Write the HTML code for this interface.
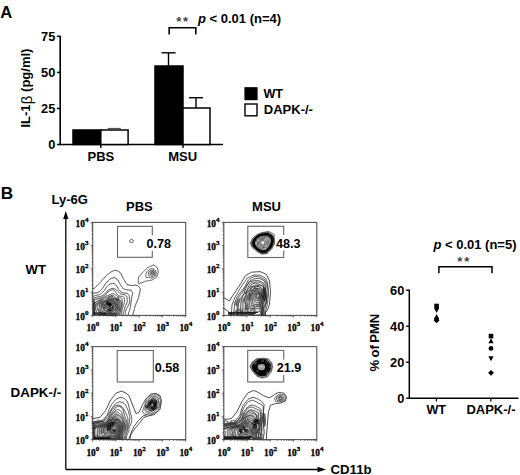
<!DOCTYPE html>
<html><head><meta charset="utf-8"><style>
html,body{margin:0;padding:0;background:#fff;width:520px;height:475px;overflow:hidden}
svg{display:block}
</style></head><body>
<svg width="520" height="475" viewBox="0 0 520 475">
<text x="0.3" y="17.6" font-size="16.5" font-weight="bold" font-family='"Liberation Sans", sans-serif' text-anchor="start" fill="#000" >A</text>
<line x1="60.2" y1="35.75000000000001" x2="60.2" y2="145.25" stroke="#000" stroke-width="1.6" />
<line x1="57.0" y1="144.5" x2="60.2" y2="144.5" stroke="#000" stroke-width="1.5" />
<text x="55.3" y="148.9" font-size="12.8" font-weight="bold" font-family='"Liberation Sans", sans-serif' text-anchor="end" fill="#000" >0</text>
<line x1="57.0" y1="108.45" x2="60.2" y2="108.45" stroke="#000" stroke-width="1.5" />
<text x="55.3" y="112.85000000000001" font-size="12.8" font-weight="bold" font-family='"Liberation Sans", sans-serif' text-anchor="end" fill="#000" >25</text>
<line x1="57.0" y1="72.4" x2="60.2" y2="72.4" stroke="#000" stroke-width="1.5" />
<text x="55.3" y="76.80000000000001" font-size="12.8" font-weight="bold" font-family='"Liberation Sans", sans-serif' text-anchor="end" fill="#000" >50</text>
<line x1="57.0" y1="36.35000000000001" x2="60.2" y2="36.35000000000001" stroke="#000" stroke-width="1.5" />
<text x="55.3" y="40.75000000000001" font-size="12.8" font-weight="bold" font-family='"Liberation Sans", sans-serif' text-anchor="end" fill="#000" >75</text>
<line x1="59.400000000000006" y1="144.5" x2="223" y2="144.5" stroke="#000" stroke-width="1.6" />
<line x1="100.8" y1="144.5" x2="100.8" y2="148" stroke="#000" stroke-width="1.4" />
<line x1="183" y1="144.5" x2="183" y2="148" stroke="#000" stroke-width="1.4" />
<rect x="73" y="130" width="27.8" height="14.5" fill="#000" stroke="#000" stroke-width="1.5"/>
<rect x="100.8" y="130" width="27.3" height="14.5" fill="#fff" stroke="#000" stroke-width="1.5"/>
<line x1="107.7" y1="128.5" x2="120.8" y2="128.5" stroke="#555" stroke-width="1.2" />
<rect x="155" y="66" width="28" height="78.5" fill="#000" stroke="#000" stroke-width="1.5"/>
<line x1="168.5" y1="66" x2="168.5" y2="52.8" stroke="#000" stroke-width="1.4" />
<line x1="161.6" y1="52.8" x2="175.6" y2="52.8" stroke="#000" stroke-width="1.4" />
<rect x="183" y="108" width="27" height="36.5" fill="#fff" stroke="#000" stroke-width="1.5"/>
<line x1="196" y1="108" x2="196" y2="97.7" stroke="#000" stroke-width="1.4" />
<line x1="189" y1="97.7" x2="203" y2="97.7" stroke="#000" stroke-width="1.4" />
<text transform="translate(30.0,127.6) rotate(-90)" font-size="13" font-weight="bold" font-family='"Liberation Sans", sans-serif'>IL-1<tspan font-weight="normal" font-size="15" dx="0.3" dy="1.8">&#946;</tspan><tspan dy="-1.8"> (pg/ml)</tspan></text>
<text x="87.5" y="160.7" font-size="13" font-weight="bold" font-family='"Liberation Sans", sans-serif' text-anchor="start" fill="#000" >PBS</text>
<text x="168.2" y="160.6" font-size="13" font-weight="bold" font-family='"Liberation Sans", sans-serif' text-anchor="start" fill="#000" >MSU</text>
<path d="M169.2,34.4 V27.8 H195.8 V34.4" fill="none" stroke="#000" stroke-width="1.6" />
<text x="176.2" y="25.8" font-size="13" font-weight="bold" font-family='"Liberation Sans", sans-serif' text-anchor="start" fill="#444" letter-spacing="1.75">**</text>
<text x="198" y="23.4" font-size="13" font-weight="bold" font-family='"Liberation Sans", sans-serif' text-anchor="start" fill="#000" ><tspan font-style="italic">p</tspan> &lt; 0.01 (n=4)</text>
<rect x="245" y="87.8" width="12" height="11.8" fill="#000" stroke="#000" stroke-width="1.2"/>
<rect x="245" y="104" width="12" height="11.8" fill="#fff" stroke="#000" stroke-width="1.4"/>
<text x="263.4" y="98.2" font-size="13" font-weight="bold" font-family='"Liberation Sans", sans-serif' text-anchor="start" fill="#000" textLength="19.6" lengthAdjust="spacingAndGlyphs" >WT</text>
<text x="263.8" y="114.2" font-size="13" font-weight="bold" font-family='"Liberation Sans", sans-serif' text-anchor="start" fill="#000" >DAPK-/-</text>
<text x="0.7" y="199.2" font-size="17.2" font-weight="bold" font-family='"Liberation Sans", sans-serif' text-anchor="start" fill="#000" >B</text>
<text x="51.5" y="204.2" font-size="13" font-weight="bold" font-family='"Liberation Sans", sans-serif' text-anchor="start" fill="#000" >Ly-6G</text>
<line x1="65.8" y1="214" x2="65.8" y2="469.5" stroke="#000" stroke-width="1.3" />
<path d="M65.8,211 L63.2,219 L68.4,219 Z" fill="#000" stroke="none" stroke-width="1.0" />
<line x1="65.8" y1="469.5" x2="320" y2="469.5" stroke="#000" stroke-width="1.3" />
<path d="M326,469.5 L317.5,466.8 L317.5,472.2 Z" fill="#000" stroke="none" stroke-width="1.0" />
<text x="330.5" y="473.8" font-size="13.2" font-weight="bold" font-family='"Liberation Sans", sans-serif' text-anchor="start" fill="#000" >CD11b</text>
<text x="126" y="211.2" font-size="13" font-weight="bold" font-family='"Liberation Sans", sans-serif' text-anchor="start" fill="#000" >PBS</text>
<text x="252.1" y="211.1" font-size="13" font-weight="bold" font-family='"Liberation Sans", sans-serif' text-anchor="start" fill="#000" >MSU</text>
<text x="25.6" y="273.6" font-size="13" font-weight="bold" font-family='"Liberation Sans", sans-serif' text-anchor="start" fill="#000" textLength="20.4" lengthAdjust="spacingAndGlyphs" >WT</text>
<text x="10.6" y="397" font-size="13.4" font-weight="bold" font-family='"Liberation Sans", sans-serif' text-anchor="start" fill="#000" >DAPK-/-</text>
<rect x="92.7" y="222.4" width="93.0" height="93.0" fill="none" stroke="#555" stroke-width="1.1"/>
<line x1="90.7" y1="315.4" x2="92.7" y2="315.4" stroke="#444" stroke-width="0.8" />
<line x1="92.7" y1="315.4" x2="92.7" y2="317.4" stroke="#444" stroke-width="0.8" />
<line x1="91.60000000000001" y1="308.4" x2="92.7" y2="308.4" stroke="#444" stroke-width="0.8" />
<line x1="99.7" y1="315.4" x2="99.7" y2="316.5" stroke="#444" stroke-width="0.8" />
<line x1="91.60000000000001" y1="304.31" x2="92.7" y2="304.31" stroke="#444" stroke-width="0.8" />
<line x1="103.79" y1="315.4" x2="103.79" y2="316.5" stroke="#444" stroke-width="0.8" />
<line x1="91.60000000000001" y1="301.4" x2="92.7" y2="301.4" stroke="#444" stroke-width="0.8" />
<line x1="106.7" y1="315.4" x2="106.7" y2="316.5" stroke="#444" stroke-width="0.8" />
<line x1="91.60000000000001" y1="299.15" x2="92.7" y2="299.15" stroke="#444" stroke-width="0.8" />
<line x1="108.95" y1="315.4" x2="108.95" y2="316.5" stroke="#444" stroke-width="0.8" />
<line x1="91.60000000000001" y1="297.31" x2="92.7" y2="297.31" stroke="#444" stroke-width="0.8" />
<line x1="110.79" y1="315.4" x2="110.79" y2="316.5" stroke="#444" stroke-width="0.8" />
<line x1="91.60000000000001" y1="295.75" x2="92.7" y2="295.75" stroke="#444" stroke-width="0.8" />
<line x1="112.35" y1="315.4" x2="112.35" y2="316.5" stroke="#444" stroke-width="0.8" />
<line x1="91.60000000000001" y1="294.4" x2="92.7" y2="294.4" stroke="#444" stroke-width="0.8" />
<line x1="113.7" y1="315.4" x2="113.7" y2="316.5" stroke="#444" stroke-width="0.8" />
<line x1="91.60000000000001" y1="293.21" x2="92.7" y2="293.21" stroke="#444" stroke-width="0.8" />
<line x1="114.89" y1="315.4" x2="114.89" y2="316.5" stroke="#444" stroke-width="0.8" />
<line x1="90.7" y1="292.15" x2="92.7" y2="292.15" stroke="#444" stroke-width="0.8" />
<line x1="115.95" y1="315.4" x2="115.95" y2="317.4" stroke="#444" stroke-width="0.8" />
<line x1="91.60000000000001" y1="285.15" x2="92.7" y2="285.15" stroke="#444" stroke-width="0.8" />
<line x1="122.95" y1="315.4" x2="122.95" y2="316.5" stroke="#444" stroke-width="0.8" />
<line x1="91.60000000000001" y1="281.06" x2="92.7" y2="281.06" stroke="#444" stroke-width="0.8" />
<line x1="127.04" y1="315.4" x2="127.04" y2="316.5" stroke="#444" stroke-width="0.8" />
<line x1="91.60000000000001" y1="278.15" x2="92.7" y2="278.15" stroke="#444" stroke-width="0.8" />
<line x1="129.95" y1="315.4" x2="129.95" y2="316.5" stroke="#444" stroke-width="0.8" />
<line x1="91.60000000000001" y1="275.9" x2="92.7" y2="275.9" stroke="#444" stroke-width="0.8" />
<line x1="132.2" y1="315.4" x2="132.2" y2="316.5" stroke="#444" stroke-width="0.8" />
<line x1="91.60000000000001" y1="274.06" x2="92.7" y2="274.06" stroke="#444" stroke-width="0.8" />
<line x1="134.04" y1="315.4" x2="134.04" y2="316.5" stroke="#444" stroke-width="0.8" />
<line x1="91.60000000000001" y1="272.5" x2="92.7" y2="272.5" stroke="#444" stroke-width="0.8" />
<line x1="135.6" y1="315.4" x2="135.6" y2="316.5" stroke="#444" stroke-width="0.8" />
<line x1="91.60000000000001" y1="271.15" x2="92.7" y2="271.15" stroke="#444" stroke-width="0.8" />
<line x1="136.95" y1="315.4" x2="136.95" y2="316.5" stroke="#444" stroke-width="0.8" />
<line x1="91.60000000000001" y1="269.96" x2="92.7" y2="269.96" stroke="#444" stroke-width="0.8" />
<line x1="138.14" y1="315.4" x2="138.14" y2="316.5" stroke="#444" stroke-width="0.8" />
<line x1="90.7" y1="268.9" x2="92.7" y2="268.9" stroke="#444" stroke-width="0.8" />
<line x1="139.2" y1="315.4" x2="139.2" y2="317.4" stroke="#444" stroke-width="0.8" />
<line x1="91.60000000000001" y1="261.9" x2="92.7" y2="261.9" stroke="#444" stroke-width="0.8" />
<line x1="146.2" y1="315.4" x2="146.2" y2="316.5" stroke="#444" stroke-width="0.8" />
<line x1="91.60000000000001" y1="257.81" x2="92.7" y2="257.81" stroke="#444" stroke-width="0.8" />
<line x1="150.29" y1="315.4" x2="150.29" y2="316.5" stroke="#444" stroke-width="0.8" />
<line x1="91.60000000000001" y1="254.9" x2="92.7" y2="254.9" stroke="#444" stroke-width="0.8" />
<line x1="153.2" y1="315.4" x2="153.2" y2="316.5" stroke="#444" stroke-width="0.8" />
<line x1="91.60000000000001" y1="252.65" x2="92.7" y2="252.65" stroke="#444" stroke-width="0.8" />
<line x1="155.45" y1="315.4" x2="155.45" y2="316.5" stroke="#444" stroke-width="0.8" />
<line x1="91.60000000000001" y1="250.81" x2="92.7" y2="250.81" stroke="#444" stroke-width="0.8" />
<line x1="157.29" y1="315.4" x2="157.29" y2="316.5" stroke="#444" stroke-width="0.8" />
<line x1="91.60000000000001" y1="249.25" x2="92.7" y2="249.25" stroke="#444" stroke-width="0.8" />
<line x1="158.85" y1="315.4" x2="158.85" y2="316.5" stroke="#444" stroke-width="0.8" />
<line x1="91.60000000000001" y1="247.9" x2="92.7" y2="247.9" stroke="#444" stroke-width="0.8" />
<line x1="160.2" y1="315.4" x2="160.2" y2="316.5" stroke="#444" stroke-width="0.8" />
<line x1="91.60000000000001" y1="246.71" x2="92.7" y2="246.71" stroke="#444" stroke-width="0.8" />
<line x1="161.39" y1="315.4" x2="161.39" y2="316.5" stroke="#444" stroke-width="0.8" />
<line x1="90.7" y1="245.65" x2="92.7" y2="245.65" stroke="#444" stroke-width="0.8" />
<line x1="162.45" y1="315.4" x2="162.45" y2="317.4" stroke="#444" stroke-width="0.8" />
<line x1="91.60000000000001" y1="238.65" x2="92.7" y2="238.65" stroke="#444" stroke-width="0.8" />
<line x1="169.45" y1="315.4" x2="169.45" y2="316.5" stroke="#444" stroke-width="0.8" />
<line x1="91.60000000000001" y1="234.56" x2="92.7" y2="234.56" stroke="#444" stroke-width="0.8" />
<line x1="173.54" y1="315.4" x2="173.54" y2="316.5" stroke="#444" stroke-width="0.8" />
<line x1="91.60000000000001" y1="231.65" x2="92.7" y2="231.65" stroke="#444" stroke-width="0.8" />
<line x1="176.45" y1="315.4" x2="176.45" y2="316.5" stroke="#444" stroke-width="0.8" />
<line x1="91.60000000000001" y1="229.4" x2="92.7" y2="229.4" stroke="#444" stroke-width="0.8" />
<line x1="178.7" y1="315.4" x2="178.7" y2="316.5" stroke="#444" stroke-width="0.8" />
<line x1="91.60000000000001" y1="227.56" x2="92.7" y2="227.56" stroke="#444" stroke-width="0.8" />
<line x1="180.54" y1="315.4" x2="180.54" y2="316.5" stroke="#444" stroke-width="0.8" />
<line x1="91.60000000000001" y1="226.0" x2="92.7" y2="226.0" stroke="#444" stroke-width="0.8" />
<line x1="182.1" y1="315.4" x2="182.1" y2="316.5" stroke="#444" stroke-width="0.8" />
<line x1="91.60000000000001" y1="224.65" x2="92.7" y2="224.65" stroke="#444" stroke-width="0.8" />
<line x1="183.45" y1="315.4" x2="183.45" y2="316.5" stroke="#444" stroke-width="0.8" />
<line x1="91.60000000000001" y1="223.46" x2="92.7" y2="223.46" stroke="#444" stroke-width="0.8" />
<line x1="184.64" y1="315.4" x2="184.64" y2="316.5" stroke="#444" stroke-width="0.8" />
<line x1="90.7" y1="222.4" x2="92.7" y2="222.4" stroke="#444" stroke-width="0.8" />
<line x1="185.7" y1="315.4" x2="185.7" y2="317.4" stroke="#444" stroke-width="0.8" />
<text x="88.4" y="319.90" font-size="9.4" font-weight="bold" font-family='"Liberation Serif", serif' text-anchor="end" stroke="#000" stroke-width="0.3">10<tspan dy="-5.0" font-size="7">0</tspan></text>
<text x="86.40" y="331.30" font-size="9.4" font-weight="bold" font-family='"Liberation Serif", serif' stroke="#000" stroke-width="0.3">10<tspan dy="-5.0" font-size="7">0</tspan></text>
<text x="88.4" y="296.65" font-size="9.4" font-weight="bold" font-family='"Liberation Serif", serif' text-anchor="end" stroke="#000" stroke-width="0.3">10<tspan dy="-5.0" font-size="7">1</tspan></text>
<text x="109.65" y="331.30" font-size="9.4" font-weight="bold" font-family='"Liberation Serif", serif' stroke="#000" stroke-width="0.3">10<tspan dy="-5.0" font-size="7">1</tspan></text>
<text x="88.4" y="273.40" font-size="9.4" font-weight="bold" font-family='"Liberation Serif", serif' text-anchor="end" stroke="#000" stroke-width="0.3">10<tspan dy="-5.0" font-size="7">2</tspan></text>
<text x="132.90" y="331.30" font-size="9.4" font-weight="bold" font-family='"Liberation Serif", serif' stroke="#000" stroke-width="0.3">10<tspan dy="-5.0" font-size="7">2</tspan></text>
<text x="88.4" y="250.15" font-size="9.4" font-weight="bold" font-family='"Liberation Serif", serif' text-anchor="end" stroke="#000" stroke-width="0.3">10<tspan dy="-5.0" font-size="7">3</tspan></text>
<text x="156.15" y="331.30" font-size="9.4" font-weight="bold" font-family='"Liberation Serif", serif' stroke="#000" stroke-width="0.3">10<tspan dy="-5.0" font-size="7">3</tspan></text>
<text x="88.4" y="226.90" font-size="9.4" font-weight="bold" font-family='"Liberation Serif", serif' text-anchor="end" stroke="#000" stroke-width="0.3">10<tspan dy="-5.0" font-size="7">4</tspan></text>
<text x="179.40" y="331.30" font-size="9.4" font-weight="bold" font-family='"Liberation Serif", serif' stroke="#000" stroke-width="0.3">10<tspan dy="-5.0" font-size="7">4</tspan></text>
<rect x="223.8" y="222.4" width="93.0" height="93.0" fill="none" stroke="#555" stroke-width="1.1"/>
<line x1="221.8" y1="315.4" x2="223.8" y2="315.4" stroke="#444" stroke-width="0.8" />
<line x1="223.8" y1="315.4" x2="223.8" y2="317.4" stroke="#444" stroke-width="0.8" />
<line x1="222.70000000000002" y1="308.4" x2="223.8" y2="308.4" stroke="#444" stroke-width="0.8" />
<line x1="230.8" y1="315.4" x2="230.8" y2="316.5" stroke="#444" stroke-width="0.8" />
<line x1="222.70000000000002" y1="304.31" x2="223.8" y2="304.31" stroke="#444" stroke-width="0.8" />
<line x1="234.89" y1="315.4" x2="234.89" y2="316.5" stroke="#444" stroke-width="0.8" />
<line x1="222.70000000000002" y1="301.4" x2="223.8" y2="301.4" stroke="#444" stroke-width="0.8" />
<line x1="237.8" y1="315.4" x2="237.8" y2="316.5" stroke="#444" stroke-width="0.8" />
<line x1="222.70000000000002" y1="299.15" x2="223.8" y2="299.15" stroke="#444" stroke-width="0.8" />
<line x1="240.05" y1="315.4" x2="240.05" y2="316.5" stroke="#444" stroke-width="0.8" />
<line x1="222.70000000000002" y1="297.31" x2="223.8" y2="297.31" stroke="#444" stroke-width="0.8" />
<line x1="241.89" y1="315.4" x2="241.89" y2="316.5" stroke="#444" stroke-width="0.8" />
<line x1="222.70000000000002" y1="295.75" x2="223.8" y2="295.75" stroke="#444" stroke-width="0.8" />
<line x1="243.45" y1="315.4" x2="243.45" y2="316.5" stroke="#444" stroke-width="0.8" />
<line x1="222.70000000000002" y1="294.4" x2="223.8" y2="294.4" stroke="#444" stroke-width="0.8" />
<line x1="244.8" y1="315.4" x2="244.8" y2="316.5" stroke="#444" stroke-width="0.8" />
<line x1="222.70000000000002" y1="293.21" x2="223.8" y2="293.21" stroke="#444" stroke-width="0.8" />
<line x1="245.99" y1="315.4" x2="245.99" y2="316.5" stroke="#444" stroke-width="0.8" />
<line x1="221.8" y1="292.15" x2="223.8" y2="292.15" stroke="#444" stroke-width="0.8" />
<line x1="247.05" y1="315.4" x2="247.05" y2="317.4" stroke="#444" stroke-width="0.8" />
<line x1="222.70000000000002" y1="285.15" x2="223.8" y2="285.15" stroke="#444" stroke-width="0.8" />
<line x1="254.05" y1="315.4" x2="254.05" y2="316.5" stroke="#444" stroke-width="0.8" />
<line x1="222.70000000000002" y1="281.06" x2="223.8" y2="281.06" stroke="#444" stroke-width="0.8" />
<line x1="258.14" y1="315.4" x2="258.14" y2="316.5" stroke="#444" stroke-width="0.8" />
<line x1="222.70000000000002" y1="278.15" x2="223.8" y2="278.15" stroke="#444" stroke-width="0.8" />
<line x1="261.05" y1="315.4" x2="261.05" y2="316.5" stroke="#444" stroke-width="0.8" />
<line x1="222.70000000000002" y1="275.9" x2="223.8" y2="275.9" stroke="#444" stroke-width="0.8" />
<line x1="263.3" y1="315.4" x2="263.3" y2="316.5" stroke="#444" stroke-width="0.8" />
<line x1="222.70000000000002" y1="274.06" x2="223.8" y2="274.06" stroke="#444" stroke-width="0.8" />
<line x1="265.14" y1="315.4" x2="265.14" y2="316.5" stroke="#444" stroke-width="0.8" />
<line x1="222.70000000000002" y1="272.5" x2="223.8" y2="272.5" stroke="#444" stroke-width="0.8" />
<line x1="266.7" y1="315.4" x2="266.7" y2="316.5" stroke="#444" stroke-width="0.8" />
<line x1="222.70000000000002" y1="271.15" x2="223.8" y2="271.15" stroke="#444" stroke-width="0.8" />
<line x1="268.05" y1="315.4" x2="268.05" y2="316.5" stroke="#444" stroke-width="0.8" />
<line x1="222.70000000000002" y1="269.96" x2="223.8" y2="269.96" stroke="#444" stroke-width="0.8" />
<line x1="269.24" y1="315.4" x2="269.24" y2="316.5" stroke="#444" stroke-width="0.8" />
<line x1="221.8" y1="268.9" x2="223.8" y2="268.9" stroke="#444" stroke-width="0.8" />
<line x1="270.3" y1="315.4" x2="270.3" y2="317.4" stroke="#444" stroke-width="0.8" />
<line x1="222.70000000000002" y1="261.9" x2="223.8" y2="261.9" stroke="#444" stroke-width="0.8" />
<line x1="277.3" y1="315.4" x2="277.3" y2="316.5" stroke="#444" stroke-width="0.8" />
<line x1="222.70000000000002" y1="257.81" x2="223.8" y2="257.81" stroke="#444" stroke-width="0.8" />
<line x1="281.39" y1="315.4" x2="281.39" y2="316.5" stroke="#444" stroke-width="0.8" />
<line x1="222.70000000000002" y1="254.9" x2="223.8" y2="254.9" stroke="#444" stroke-width="0.8" />
<line x1="284.3" y1="315.4" x2="284.3" y2="316.5" stroke="#444" stroke-width="0.8" />
<line x1="222.70000000000002" y1="252.65" x2="223.8" y2="252.65" stroke="#444" stroke-width="0.8" />
<line x1="286.55" y1="315.4" x2="286.55" y2="316.5" stroke="#444" stroke-width="0.8" />
<line x1="222.70000000000002" y1="250.81" x2="223.8" y2="250.81" stroke="#444" stroke-width="0.8" />
<line x1="288.39" y1="315.4" x2="288.39" y2="316.5" stroke="#444" stroke-width="0.8" />
<line x1="222.70000000000002" y1="249.25" x2="223.8" y2="249.25" stroke="#444" stroke-width="0.8" />
<line x1="289.95" y1="315.4" x2="289.95" y2="316.5" stroke="#444" stroke-width="0.8" />
<line x1="222.70000000000002" y1="247.9" x2="223.8" y2="247.9" stroke="#444" stroke-width="0.8" />
<line x1="291.3" y1="315.4" x2="291.3" y2="316.5" stroke="#444" stroke-width="0.8" />
<line x1="222.70000000000002" y1="246.71" x2="223.8" y2="246.71" stroke="#444" stroke-width="0.8" />
<line x1="292.49" y1="315.4" x2="292.49" y2="316.5" stroke="#444" stroke-width="0.8" />
<line x1="221.8" y1="245.65" x2="223.8" y2="245.65" stroke="#444" stroke-width="0.8" />
<line x1="293.55" y1="315.4" x2="293.55" y2="317.4" stroke="#444" stroke-width="0.8" />
<line x1="222.70000000000002" y1="238.65" x2="223.8" y2="238.65" stroke="#444" stroke-width="0.8" />
<line x1="300.55" y1="315.4" x2="300.55" y2="316.5" stroke="#444" stroke-width="0.8" />
<line x1="222.70000000000002" y1="234.56" x2="223.8" y2="234.56" stroke="#444" stroke-width="0.8" />
<line x1="304.64" y1="315.4" x2="304.64" y2="316.5" stroke="#444" stroke-width="0.8" />
<line x1="222.70000000000002" y1="231.65" x2="223.8" y2="231.65" stroke="#444" stroke-width="0.8" />
<line x1="307.55" y1="315.4" x2="307.55" y2="316.5" stroke="#444" stroke-width="0.8" />
<line x1="222.70000000000002" y1="229.4" x2="223.8" y2="229.4" stroke="#444" stroke-width="0.8" />
<line x1="309.8" y1="315.4" x2="309.8" y2="316.5" stroke="#444" stroke-width="0.8" />
<line x1="222.70000000000002" y1="227.56" x2="223.8" y2="227.56" stroke="#444" stroke-width="0.8" />
<line x1="311.64" y1="315.4" x2="311.64" y2="316.5" stroke="#444" stroke-width="0.8" />
<line x1="222.70000000000002" y1="226.0" x2="223.8" y2="226.0" stroke="#444" stroke-width="0.8" />
<line x1="313.2" y1="315.4" x2="313.2" y2="316.5" stroke="#444" stroke-width="0.8" />
<line x1="222.70000000000002" y1="224.65" x2="223.8" y2="224.65" stroke="#444" stroke-width="0.8" />
<line x1="314.55" y1="315.4" x2="314.55" y2="316.5" stroke="#444" stroke-width="0.8" />
<line x1="222.70000000000002" y1="223.46" x2="223.8" y2="223.46" stroke="#444" stroke-width="0.8" />
<line x1="315.74" y1="315.4" x2="315.74" y2="316.5" stroke="#444" stroke-width="0.8" />
<line x1="221.8" y1="222.4" x2="223.8" y2="222.4" stroke="#444" stroke-width="0.8" />
<line x1="316.8" y1="315.4" x2="316.8" y2="317.4" stroke="#444" stroke-width="0.8" />
<text x="219.5" y="319.90" font-size="9.4" font-weight="bold" font-family='"Liberation Serif", serif' text-anchor="end" stroke="#000" stroke-width="0.3">10<tspan dy="-5.0" font-size="7">0</tspan></text>
<text x="217.50" y="331.30" font-size="9.4" font-weight="bold" font-family='"Liberation Serif", serif' stroke="#000" stroke-width="0.3">10<tspan dy="-5.0" font-size="7">0</tspan></text>
<text x="219.5" y="296.65" font-size="9.4" font-weight="bold" font-family='"Liberation Serif", serif' text-anchor="end" stroke="#000" stroke-width="0.3">10<tspan dy="-5.0" font-size="7">1</tspan></text>
<text x="240.75" y="331.30" font-size="9.4" font-weight="bold" font-family='"Liberation Serif", serif' stroke="#000" stroke-width="0.3">10<tspan dy="-5.0" font-size="7">1</tspan></text>
<text x="219.5" y="273.40" font-size="9.4" font-weight="bold" font-family='"Liberation Serif", serif' text-anchor="end" stroke="#000" stroke-width="0.3">10<tspan dy="-5.0" font-size="7">2</tspan></text>
<text x="264.00" y="331.30" font-size="9.4" font-weight="bold" font-family='"Liberation Serif", serif' stroke="#000" stroke-width="0.3">10<tspan dy="-5.0" font-size="7">2</tspan></text>
<text x="219.5" y="250.15" font-size="9.4" font-weight="bold" font-family='"Liberation Serif", serif' text-anchor="end" stroke="#000" stroke-width="0.3">10<tspan dy="-5.0" font-size="7">3</tspan></text>
<text x="287.25" y="331.30" font-size="9.4" font-weight="bold" font-family='"Liberation Serif", serif' stroke="#000" stroke-width="0.3">10<tspan dy="-5.0" font-size="7">3</tspan></text>
<text x="219.5" y="226.90" font-size="9.4" font-weight="bold" font-family='"Liberation Serif", serif' text-anchor="end" stroke="#000" stroke-width="0.3">10<tspan dy="-5.0" font-size="7">4</tspan></text>
<text x="310.50" y="331.30" font-size="9.4" font-weight="bold" font-family='"Liberation Serif", serif' stroke="#000" stroke-width="0.3">10<tspan dy="-5.0" font-size="7">4</tspan></text>
<rect x="92.7" y="346.6" width="93.0" height="93.0" fill="none" stroke="#555" stroke-width="1.1"/>
<line x1="90.7" y1="439.6" x2="92.7" y2="439.6" stroke="#444" stroke-width="0.8" />
<line x1="92.7" y1="439.6" x2="92.7" y2="441.6" stroke="#444" stroke-width="0.8" />
<line x1="91.60000000000001" y1="432.6" x2="92.7" y2="432.6" stroke="#444" stroke-width="0.8" />
<line x1="99.7" y1="439.6" x2="99.7" y2="440.70000000000005" stroke="#444" stroke-width="0.8" />
<line x1="91.60000000000001" y1="428.51" x2="92.7" y2="428.51" stroke="#444" stroke-width="0.8" />
<line x1="103.79" y1="439.6" x2="103.79" y2="440.70000000000005" stroke="#444" stroke-width="0.8" />
<line x1="91.60000000000001" y1="425.6" x2="92.7" y2="425.6" stroke="#444" stroke-width="0.8" />
<line x1="106.7" y1="439.6" x2="106.7" y2="440.70000000000005" stroke="#444" stroke-width="0.8" />
<line x1="91.60000000000001" y1="423.35" x2="92.7" y2="423.35" stroke="#444" stroke-width="0.8" />
<line x1="108.95" y1="439.6" x2="108.95" y2="440.70000000000005" stroke="#444" stroke-width="0.8" />
<line x1="91.60000000000001" y1="421.51" x2="92.7" y2="421.51" stroke="#444" stroke-width="0.8" />
<line x1="110.79" y1="439.6" x2="110.79" y2="440.70000000000005" stroke="#444" stroke-width="0.8" />
<line x1="91.60000000000001" y1="419.95" x2="92.7" y2="419.95" stroke="#444" stroke-width="0.8" />
<line x1="112.35" y1="439.6" x2="112.35" y2="440.70000000000005" stroke="#444" stroke-width="0.8" />
<line x1="91.60000000000001" y1="418.6" x2="92.7" y2="418.6" stroke="#444" stroke-width="0.8" />
<line x1="113.7" y1="439.6" x2="113.7" y2="440.70000000000005" stroke="#444" stroke-width="0.8" />
<line x1="91.60000000000001" y1="417.41" x2="92.7" y2="417.41" stroke="#444" stroke-width="0.8" />
<line x1="114.89" y1="439.6" x2="114.89" y2="440.70000000000005" stroke="#444" stroke-width="0.8" />
<line x1="90.7" y1="416.35" x2="92.7" y2="416.35" stroke="#444" stroke-width="0.8" />
<line x1="115.95" y1="439.6" x2="115.95" y2="441.6" stroke="#444" stroke-width="0.8" />
<line x1="91.60000000000001" y1="409.35" x2="92.7" y2="409.35" stroke="#444" stroke-width="0.8" />
<line x1="122.95" y1="439.6" x2="122.95" y2="440.70000000000005" stroke="#444" stroke-width="0.8" />
<line x1="91.60000000000001" y1="405.26" x2="92.7" y2="405.26" stroke="#444" stroke-width="0.8" />
<line x1="127.04" y1="439.6" x2="127.04" y2="440.70000000000005" stroke="#444" stroke-width="0.8" />
<line x1="91.60000000000001" y1="402.35" x2="92.7" y2="402.35" stroke="#444" stroke-width="0.8" />
<line x1="129.95" y1="439.6" x2="129.95" y2="440.70000000000005" stroke="#444" stroke-width="0.8" />
<line x1="91.60000000000001" y1="400.1" x2="92.7" y2="400.1" stroke="#444" stroke-width="0.8" />
<line x1="132.2" y1="439.6" x2="132.2" y2="440.70000000000005" stroke="#444" stroke-width="0.8" />
<line x1="91.60000000000001" y1="398.26" x2="92.7" y2="398.26" stroke="#444" stroke-width="0.8" />
<line x1="134.04" y1="439.6" x2="134.04" y2="440.70000000000005" stroke="#444" stroke-width="0.8" />
<line x1="91.60000000000001" y1="396.7" x2="92.7" y2="396.7" stroke="#444" stroke-width="0.8" />
<line x1="135.6" y1="439.6" x2="135.6" y2="440.70000000000005" stroke="#444" stroke-width="0.8" />
<line x1="91.60000000000001" y1="395.35" x2="92.7" y2="395.35" stroke="#444" stroke-width="0.8" />
<line x1="136.95" y1="439.6" x2="136.95" y2="440.70000000000005" stroke="#444" stroke-width="0.8" />
<line x1="91.60000000000001" y1="394.16" x2="92.7" y2="394.16" stroke="#444" stroke-width="0.8" />
<line x1="138.14" y1="439.6" x2="138.14" y2="440.70000000000005" stroke="#444" stroke-width="0.8" />
<line x1="90.7" y1="393.1" x2="92.7" y2="393.1" stroke="#444" stroke-width="0.8" />
<line x1="139.2" y1="439.6" x2="139.2" y2="441.6" stroke="#444" stroke-width="0.8" />
<line x1="91.60000000000001" y1="386.1" x2="92.7" y2="386.1" stroke="#444" stroke-width="0.8" />
<line x1="146.2" y1="439.6" x2="146.2" y2="440.70000000000005" stroke="#444" stroke-width="0.8" />
<line x1="91.60000000000001" y1="382.01" x2="92.7" y2="382.01" stroke="#444" stroke-width="0.8" />
<line x1="150.29" y1="439.6" x2="150.29" y2="440.70000000000005" stroke="#444" stroke-width="0.8" />
<line x1="91.60000000000001" y1="379.1" x2="92.7" y2="379.1" stroke="#444" stroke-width="0.8" />
<line x1="153.2" y1="439.6" x2="153.2" y2="440.70000000000005" stroke="#444" stroke-width="0.8" />
<line x1="91.60000000000001" y1="376.85" x2="92.7" y2="376.85" stroke="#444" stroke-width="0.8" />
<line x1="155.45" y1="439.6" x2="155.45" y2="440.70000000000005" stroke="#444" stroke-width="0.8" />
<line x1="91.60000000000001" y1="375.01" x2="92.7" y2="375.01" stroke="#444" stroke-width="0.8" />
<line x1="157.29" y1="439.6" x2="157.29" y2="440.70000000000005" stroke="#444" stroke-width="0.8" />
<line x1="91.60000000000001" y1="373.45" x2="92.7" y2="373.45" stroke="#444" stroke-width="0.8" />
<line x1="158.85" y1="439.6" x2="158.85" y2="440.70000000000005" stroke="#444" stroke-width="0.8" />
<line x1="91.60000000000001" y1="372.1" x2="92.7" y2="372.1" stroke="#444" stroke-width="0.8" />
<line x1="160.2" y1="439.6" x2="160.2" y2="440.70000000000005" stroke="#444" stroke-width="0.8" />
<line x1="91.60000000000001" y1="370.91" x2="92.7" y2="370.91" stroke="#444" stroke-width="0.8" />
<line x1="161.39" y1="439.6" x2="161.39" y2="440.70000000000005" stroke="#444" stroke-width="0.8" />
<line x1="90.7" y1="369.85" x2="92.7" y2="369.85" stroke="#444" stroke-width="0.8" />
<line x1="162.45" y1="439.6" x2="162.45" y2="441.6" stroke="#444" stroke-width="0.8" />
<line x1="91.60000000000001" y1="362.85" x2="92.7" y2="362.85" stroke="#444" stroke-width="0.8" />
<line x1="169.45" y1="439.6" x2="169.45" y2="440.70000000000005" stroke="#444" stroke-width="0.8" />
<line x1="91.60000000000001" y1="358.76" x2="92.7" y2="358.76" stroke="#444" stroke-width="0.8" />
<line x1="173.54" y1="439.6" x2="173.54" y2="440.70000000000005" stroke="#444" stroke-width="0.8" />
<line x1="91.60000000000001" y1="355.85" x2="92.7" y2="355.85" stroke="#444" stroke-width="0.8" />
<line x1="176.45" y1="439.6" x2="176.45" y2="440.70000000000005" stroke="#444" stroke-width="0.8" />
<line x1="91.60000000000001" y1="353.6" x2="92.7" y2="353.6" stroke="#444" stroke-width="0.8" />
<line x1="178.7" y1="439.6" x2="178.7" y2="440.70000000000005" stroke="#444" stroke-width="0.8" />
<line x1="91.60000000000001" y1="351.76" x2="92.7" y2="351.76" stroke="#444" stroke-width="0.8" />
<line x1="180.54" y1="439.6" x2="180.54" y2="440.70000000000005" stroke="#444" stroke-width="0.8" />
<line x1="91.60000000000001" y1="350.2" x2="92.7" y2="350.2" stroke="#444" stroke-width="0.8" />
<line x1="182.1" y1="439.6" x2="182.1" y2="440.70000000000005" stroke="#444" stroke-width="0.8" />
<line x1="91.60000000000001" y1="348.85" x2="92.7" y2="348.85" stroke="#444" stroke-width="0.8" />
<line x1="183.45" y1="439.6" x2="183.45" y2="440.70000000000005" stroke="#444" stroke-width="0.8" />
<line x1="91.60000000000001" y1="347.66" x2="92.7" y2="347.66" stroke="#444" stroke-width="0.8" />
<line x1="184.64" y1="439.6" x2="184.64" y2="440.70000000000005" stroke="#444" stroke-width="0.8" />
<line x1="90.7" y1="346.6" x2="92.7" y2="346.6" stroke="#444" stroke-width="0.8" />
<line x1="185.7" y1="439.6" x2="185.7" y2="441.6" stroke="#444" stroke-width="0.8" />
<text x="88.4" y="444.10" font-size="9.4" font-weight="bold" font-family='"Liberation Serif", serif' text-anchor="end" stroke="#000" stroke-width="0.3">10<tspan dy="-5.0" font-size="7">0</tspan></text>
<text x="86.40" y="455.50" font-size="9.4" font-weight="bold" font-family='"Liberation Serif", serif' stroke="#000" stroke-width="0.3">10<tspan dy="-5.0" font-size="7">0</tspan></text>
<text x="88.4" y="420.85" font-size="9.4" font-weight="bold" font-family='"Liberation Serif", serif' text-anchor="end" stroke="#000" stroke-width="0.3">10<tspan dy="-5.0" font-size="7">1</tspan></text>
<text x="109.65" y="455.50" font-size="9.4" font-weight="bold" font-family='"Liberation Serif", serif' stroke="#000" stroke-width="0.3">10<tspan dy="-5.0" font-size="7">1</tspan></text>
<text x="88.4" y="397.60" font-size="9.4" font-weight="bold" font-family='"Liberation Serif", serif' text-anchor="end" stroke="#000" stroke-width="0.3">10<tspan dy="-5.0" font-size="7">2</tspan></text>
<text x="132.90" y="455.50" font-size="9.4" font-weight="bold" font-family='"Liberation Serif", serif' stroke="#000" stroke-width="0.3">10<tspan dy="-5.0" font-size="7">2</tspan></text>
<text x="88.4" y="374.35" font-size="9.4" font-weight="bold" font-family='"Liberation Serif", serif' text-anchor="end" stroke="#000" stroke-width="0.3">10<tspan dy="-5.0" font-size="7">3</tspan></text>
<text x="156.15" y="455.50" font-size="9.4" font-weight="bold" font-family='"Liberation Serif", serif' stroke="#000" stroke-width="0.3">10<tspan dy="-5.0" font-size="7">3</tspan></text>
<text x="88.4" y="351.10" font-size="9.4" font-weight="bold" font-family='"Liberation Serif", serif' text-anchor="end" stroke="#000" stroke-width="0.3">10<tspan dy="-5.0" font-size="7">4</tspan></text>
<text x="179.40" y="455.50" font-size="9.4" font-weight="bold" font-family='"Liberation Serif", serif' stroke="#000" stroke-width="0.3">10<tspan dy="-5.0" font-size="7">4</tspan></text>
<rect x="223.8" y="346.6" width="93.0" height="93.0" fill="none" stroke="#555" stroke-width="1.1"/>
<line x1="221.8" y1="439.6" x2="223.8" y2="439.6" stroke="#444" stroke-width="0.8" />
<line x1="223.8" y1="439.6" x2="223.8" y2="441.6" stroke="#444" stroke-width="0.8" />
<line x1="222.70000000000002" y1="432.6" x2="223.8" y2="432.6" stroke="#444" stroke-width="0.8" />
<line x1="230.8" y1="439.6" x2="230.8" y2="440.70000000000005" stroke="#444" stroke-width="0.8" />
<line x1="222.70000000000002" y1="428.51" x2="223.8" y2="428.51" stroke="#444" stroke-width="0.8" />
<line x1="234.89" y1="439.6" x2="234.89" y2="440.70000000000005" stroke="#444" stroke-width="0.8" />
<line x1="222.70000000000002" y1="425.6" x2="223.8" y2="425.6" stroke="#444" stroke-width="0.8" />
<line x1="237.8" y1="439.6" x2="237.8" y2="440.70000000000005" stroke="#444" stroke-width="0.8" />
<line x1="222.70000000000002" y1="423.35" x2="223.8" y2="423.35" stroke="#444" stroke-width="0.8" />
<line x1="240.05" y1="439.6" x2="240.05" y2="440.70000000000005" stroke="#444" stroke-width="0.8" />
<line x1="222.70000000000002" y1="421.51" x2="223.8" y2="421.51" stroke="#444" stroke-width="0.8" />
<line x1="241.89" y1="439.6" x2="241.89" y2="440.70000000000005" stroke="#444" stroke-width="0.8" />
<line x1="222.70000000000002" y1="419.95" x2="223.8" y2="419.95" stroke="#444" stroke-width="0.8" />
<line x1="243.45" y1="439.6" x2="243.45" y2="440.70000000000005" stroke="#444" stroke-width="0.8" />
<line x1="222.70000000000002" y1="418.6" x2="223.8" y2="418.6" stroke="#444" stroke-width="0.8" />
<line x1="244.8" y1="439.6" x2="244.8" y2="440.70000000000005" stroke="#444" stroke-width="0.8" />
<line x1="222.70000000000002" y1="417.41" x2="223.8" y2="417.41" stroke="#444" stroke-width="0.8" />
<line x1="245.99" y1="439.6" x2="245.99" y2="440.70000000000005" stroke="#444" stroke-width="0.8" />
<line x1="221.8" y1="416.35" x2="223.8" y2="416.35" stroke="#444" stroke-width="0.8" />
<line x1="247.05" y1="439.6" x2="247.05" y2="441.6" stroke="#444" stroke-width="0.8" />
<line x1="222.70000000000002" y1="409.35" x2="223.8" y2="409.35" stroke="#444" stroke-width="0.8" />
<line x1="254.05" y1="439.6" x2="254.05" y2="440.70000000000005" stroke="#444" stroke-width="0.8" />
<line x1="222.70000000000002" y1="405.26" x2="223.8" y2="405.26" stroke="#444" stroke-width="0.8" />
<line x1="258.14" y1="439.6" x2="258.14" y2="440.70000000000005" stroke="#444" stroke-width="0.8" />
<line x1="222.70000000000002" y1="402.35" x2="223.8" y2="402.35" stroke="#444" stroke-width="0.8" />
<line x1="261.05" y1="439.6" x2="261.05" y2="440.70000000000005" stroke="#444" stroke-width="0.8" />
<line x1="222.70000000000002" y1="400.1" x2="223.8" y2="400.1" stroke="#444" stroke-width="0.8" />
<line x1="263.3" y1="439.6" x2="263.3" y2="440.70000000000005" stroke="#444" stroke-width="0.8" />
<line x1="222.70000000000002" y1="398.26" x2="223.8" y2="398.26" stroke="#444" stroke-width="0.8" />
<line x1="265.14" y1="439.6" x2="265.14" y2="440.70000000000005" stroke="#444" stroke-width="0.8" />
<line x1="222.70000000000002" y1="396.7" x2="223.8" y2="396.7" stroke="#444" stroke-width="0.8" />
<line x1="266.7" y1="439.6" x2="266.7" y2="440.70000000000005" stroke="#444" stroke-width="0.8" />
<line x1="222.70000000000002" y1="395.35" x2="223.8" y2="395.35" stroke="#444" stroke-width="0.8" />
<line x1="268.05" y1="439.6" x2="268.05" y2="440.70000000000005" stroke="#444" stroke-width="0.8" />
<line x1="222.70000000000002" y1="394.16" x2="223.8" y2="394.16" stroke="#444" stroke-width="0.8" />
<line x1="269.24" y1="439.6" x2="269.24" y2="440.70000000000005" stroke="#444" stroke-width="0.8" />
<line x1="221.8" y1="393.1" x2="223.8" y2="393.1" stroke="#444" stroke-width="0.8" />
<line x1="270.3" y1="439.6" x2="270.3" y2="441.6" stroke="#444" stroke-width="0.8" />
<line x1="222.70000000000002" y1="386.1" x2="223.8" y2="386.1" stroke="#444" stroke-width="0.8" />
<line x1="277.3" y1="439.6" x2="277.3" y2="440.70000000000005" stroke="#444" stroke-width="0.8" />
<line x1="222.70000000000002" y1="382.01" x2="223.8" y2="382.01" stroke="#444" stroke-width="0.8" />
<line x1="281.39" y1="439.6" x2="281.39" y2="440.70000000000005" stroke="#444" stroke-width="0.8" />
<line x1="222.70000000000002" y1="379.1" x2="223.8" y2="379.1" stroke="#444" stroke-width="0.8" />
<line x1="284.3" y1="439.6" x2="284.3" y2="440.70000000000005" stroke="#444" stroke-width="0.8" />
<line x1="222.70000000000002" y1="376.85" x2="223.8" y2="376.85" stroke="#444" stroke-width="0.8" />
<line x1="286.55" y1="439.6" x2="286.55" y2="440.70000000000005" stroke="#444" stroke-width="0.8" />
<line x1="222.70000000000002" y1="375.01" x2="223.8" y2="375.01" stroke="#444" stroke-width="0.8" />
<line x1="288.39" y1="439.6" x2="288.39" y2="440.70000000000005" stroke="#444" stroke-width="0.8" />
<line x1="222.70000000000002" y1="373.45" x2="223.8" y2="373.45" stroke="#444" stroke-width="0.8" />
<line x1="289.95" y1="439.6" x2="289.95" y2="440.70000000000005" stroke="#444" stroke-width="0.8" />
<line x1="222.70000000000002" y1="372.1" x2="223.8" y2="372.1" stroke="#444" stroke-width="0.8" />
<line x1="291.3" y1="439.6" x2="291.3" y2="440.70000000000005" stroke="#444" stroke-width="0.8" />
<line x1="222.70000000000002" y1="370.91" x2="223.8" y2="370.91" stroke="#444" stroke-width="0.8" />
<line x1="292.49" y1="439.6" x2="292.49" y2="440.70000000000005" stroke="#444" stroke-width="0.8" />
<line x1="221.8" y1="369.85" x2="223.8" y2="369.85" stroke="#444" stroke-width="0.8" />
<line x1="293.55" y1="439.6" x2="293.55" y2="441.6" stroke="#444" stroke-width="0.8" />
<line x1="222.70000000000002" y1="362.85" x2="223.8" y2="362.85" stroke="#444" stroke-width="0.8" />
<line x1="300.55" y1="439.6" x2="300.55" y2="440.70000000000005" stroke="#444" stroke-width="0.8" />
<line x1="222.70000000000002" y1="358.76" x2="223.8" y2="358.76" stroke="#444" stroke-width="0.8" />
<line x1="304.64" y1="439.6" x2="304.64" y2="440.70000000000005" stroke="#444" stroke-width="0.8" />
<line x1="222.70000000000002" y1="355.85" x2="223.8" y2="355.85" stroke="#444" stroke-width="0.8" />
<line x1="307.55" y1="439.6" x2="307.55" y2="440.70000000000005" stroke="#444" stroke-width="0.8" />
<line x1="222.70000000000002" y1="353.6" x2="223.8" y2="353.6" stroke="#444" stroke-width="0.8" />
<line x1="309.8" y1="439.6" x2="309.8" y2="440.70000000000005" stroke="#444" stroke-width="0.8" />
<line x1="222.70000000000002" y1="351.76" x2="223.8" y2="351.76" stroke="#444" stroke-width="0.8" />
<line x1="311.64" y1="439.6" x2="311.64" y2="440.70000000000005" stroke="#444" stroke-width="0.8" />
<line x1="222.70000000000002" y1="350.2" x2="223.8" y2="350.2" stroke="#444" stroke-width="0.8" />
<line x1="313.2" y1="439.6" x2="313.2" y2="440.70000000000005" stroke="#444" stroke-width="0.8" />
<line x1="222.70000000000002" y1="348.85" x2="223.8" y2="348.85" stroke="#444" stroke-width="0.8" />
<line x1="314.55" y1="439.6" x2="314.55" y2="440.70000000000005" stroke="#444" stroke-width="0.8" />
<line x1="222.70000000000002" y1="347.66" x2="223.8" y2="347.66" stroke="#444" stroke-width="0.8" />
<line x1="315.74" y1="439.6" x2="315.74" y2="440.70000000000005" stroke="#444" stroke-width="0.8" />
<line x1="221.8" y1="346.6" x2="223.8" y2="346.6" stroke="#444" stroke-width="0.8" />
<line x1="316.8" y1="439.6" x2="316.8" y2="441.6" stroke="#444" stroke-width="0.8" />
<text x="219.5" y="444.10" font-size="9.4" font-weight="bold" font-family='"Liberation Serif", serif' text-anchor="end" stroke="#000" stroke-width="0.3">10<tspan dy="-5.0" font-size="7">0</tspan></text>
<text x="217.50" y="455.50" font-size="9.4" font-weight="bold" font-family='"Liberation Serif", serif' stroke="#000" stroke-width="0.3">10<tspan dy="-5.0" font-size="7">0</tspan></text>
<text x="219.5" y="420.85" font-size="9.4" font-weight="bold" font-family='"Liberation Serif", serif' text-anchor="end" stroke="#000" stroke-width="0.3">10<tspan dy="-5.0" font-size="7">1</tspan></text>
<text x="240.75" y="455.50" font-size="9.4" font-weight="bold" font-family='"Liberation Serif", serif' stroke="#000" stroke-width="0.3">10<tspan dy="-5.0" font-size="7">1</tspan></text>
<text x="219.5" y="397.60" font-size="9.4" font-weight="bold" font-family='"Liberation Serif", serif' text-anchor="end" stroke="#000" stroke-width="0.3">10<tspan dy="-5.0" font-size="7">2</tspan></text>
<text x="264.00" y="455.50" font-size="9.4" font-weight="bold" font-family='"Liberation Serif", serif' stroke="#000" stroke-width="0.3">10<tspan dy="-5.0" font-size="7">2</tspan></text>
<text x="219.5" y="374.35" font-size="9.4" font-weight="bold" font-family='"Liberation Serif", serif' text-anchor="end" stroke="#000" stroke-width="0.3">10<tspan dy="-5.0" font-size="7">3</tspan></text>
<text x="287.25" y="455.50" font-size="9.4" font-weight="bold" font-family='"Liberation Serif", serif' stroke="#000" stroke-width="0.3">10<tspan dy="-5.0" font-size="7">3</tspan></text>
<text x="219.5" y="351.10" font-size="9.4" font-weight="bold" font-family='"Liberation Serif", serif' text-anchor="end" stroke="#000" stroke-width="0.3">10<tspan dy="-5.0" font-size="7">4</tspan></text>
<text x="310.50" y="455.50" font-size="9.4" font-weight="bold" font-family='"Liberation Serif", serif' stroke="#000" stroke-width="0.3">10<tspan dy="-5.0" font-size="7">4</tspan></text>
<rect x="117.5" y="226.4" width="34.80000000000001" height="30.900000000000006" fill="none" stroke="#666" stroke-width="1.1"/>
<rect x="247.8" y="226.3" width="35.89999999999998" height="31.19999999999999" fill="none" stroke="#666" stroke-width="1.1"/>
<rect x="117.2" y="350.5" width="36.10000000000001" height="31.5" fill="none" stroke="#666" stroke-width="1.1"/>
<rect x="247.7" y="350.4" width="36.0" height="31.600000000000023" fill="none" stroke="#666" stroke-width="1.1"/>
<defs><clipPath id="cp0"><rect x="92.7" y="222.4" width="93.0" height="93.0"/></clipPath><clipPath id="cp1"><rect x="223.8" y="222.4" width="93.0" height="93.0"/></clipPath><clipPath id="cp2"><rect x="92.7" y="346.6" width="93.0" height="93.0"/></clipPath><clipPath id="cp3"><rect x="223.8" y="346.6" width="93.0" height="93.0"/></clipPath></defs>
<g clip-path="url(#cp0)"><path d="M93.0,298.0 L104.0,297.0 L113.0,296.5 L119.0,298.5 L122.0,304.0 L121.0,311.0 L116.0,315.5 L93.0,315.5Z" fill="#000" fill-opacity="0.12" stroke="none"/><path d="M135.6,305.0 L135.2,305.9 L134.9,306.8 L134.7,307.7 L134.5,308.6 L134.2,309.4 L134.0,310.3 L133.8,311.1 L133.6,312.0 L133.3,312.9 L133.1,313.7 L133.0,314.7 L132.9,315.6 L132.8,316.7 L132.7,317.7 L132.6,318.8 L132.6,319.9 L132.5,321.1 L132.4,322.4 L132.3,323.7 L132.2,325.2 L132.0,326.7 L131.9,328.3 L131.8,330.1 L131.6,332.0 L131.5,334.1 L131.3,336.5 L131.1,339.1 L129.8,340.0 L128.1,340.0 L126.5,340.0 L124.9,340.0 L123.4,340.0 L121.9,340.0 L120.4,340.0 L119.0,340.0 L117.5,340.0 L116.1,340.0 L114.8,340.0 L113.4,340.0 L112.0,340.0 L110.6,340.0 L109.2,340.0 L107.9,340.0 L106.5,340.0 L105.0,340.0 L103.6,340.0 L102.1,340.0 L100.6,340.0 L99.1,340.0 L97.5,340.0 L95.9,340.0 L94.2,340.0 L92.4,340.0 L90.6,340.0 L88.6,340.0 L86.6,340.0 L84.4,340.0 L82.1,340.0 L79.6,340.0 L77.0,340.0 L74.1,340.0 L71.0,340.0 L67.6,340.0 L63.8,340.0 L60.0,339.7 L60.0,336.9 L60.0,334.1 L60.0,331.5 L60.0,329.0 L60.0,326.5 L60.0,324.2 L60.0,321.9 L60.0,319.7 L60.0,317.5 L60.0,315.3 L60.0,313.2 L60.0,311.2 L60.0,309.1 L60.0,307.0 L60.0,305.0 L60.0,303.0 L60.0,300.9 L61.8,299.1 L64.7,297.5 L67.3,296.1 L69.7,294.8 L71.9,293.7 L73.9,292.6 L76.2,291.8 L78.9,291.3 L81.3,290.8 L83.4,290.4 L85.4,290.1 L87.1,289.8 L88.8,289.5 L90.2,289.2 L91.6,288.9 L92.9,288.7 L94.1,288.4 L94.8,287.8 L95.5,287.1 L96.1,286.4 L96.8,285.8 L97.5,285.1 L98.2,284.4 L99.0,283.7 L99.7,283.0 L100.4,282.3 L101.1,281.4 L101.9,280.6 L102.7,279.7 L103.5,278.8 L104.4,277.9 L105.3,276.9 L106.2,275.9 L107.2,274.9 L108.3,274.1 L109.5,273.2 L110.7,272.3 L112.0,271.3 L113.3,270.9 L114.7,270.5 L116.1,270.1 L117.4,270.8 L118.7,271.5 L119.9,272.2 L120.9,273.6 L121.7,275.3 L122.4,276.8 L123.1,278.2 L123.8,279.5 L124.5,280.6 L125.1,281.6 L125.7,282.6 L126.3,283.5 L126.9,284.5 L127.9,284.8 L129.1,285.0 L130.3,285.2 L131.6,285.4 L133.1,285.5 L135.1,285.2 L137.2,285.2 L138.1,286.1 L139.0,287.0 L139.9,287.9 L140.4,289.1 L140.1,290.7 L139.8,292.2 L139.4,293.6 L139.1,295.0 L138.8,296.3 L138.5,297.5 L138.1,298.7 L137.7,299.9 L137.2,301.0 L136.8,302.1 L136.3,303.1 L135.9,304.1Z M130.6,305.2 L130.5,306.0 L130.4,306.7 L130.3,307.4 L130.1,308.2 L129.9,308.9 L129.7,309.6 L129.5,310.3 L129.3,310.9 L129.0,311.6 L128.7,312.3 L128.5,313.0 L128.4,313.8 L128.3,314.5 L128.2,315.4 L128.1,316.2 L128.1,317.1 L128.0,318.1 L128.0,319.2 L127.9,320.3 L127.9,321.4 L127.8,322.7 L127.7,324.0 L127.6,325.4 L127.4,326.9 L127.2,328.5 L126.9,330.2 L126.6,332.0 L125.6,332.5 L124.1,332.3 L122.8,332.0 L121.4,331.7 L120.2,331.5 L119.0,331.2 L117.8,331.0 L116.7,330.8 L115.7,330.7 L114.7,330.6 L113.6,330.6 L112.7,330.6 L111.7,330.7 L110.6,330.8 L109.6,331.0 L108.6,331.2 L107.5,331.3 L106.4,331.5 L105.3,331.7 L104.2,331.8 L103.0,331.9 L101.8,331.9 L100.6,331.9 L99.4,331.9 L98.1,331.8 L96.8,331.7 L95.5,331.6 L94.1,331.6 L92.6,331.5 L91.0,331.4 L89.3,331.4 L87.4,331.5 L85.4,331.5 L83.1,331.6 L80.6,331.8 L77.8,332.0 L74.6,332.1 L71.4,332.1 L71.0,330.1 L70.7,328.2 L70.4,326.3 L70.1,324.4 L70.0,322.5 L70.0,320.6 L70.0,318.8 L70.2,316.9 L70.4,315.1 L70.7,313.4 L71.0,311.7 L71.4,310.0 L71.8,308.4 L72.1,306.8 L72.5,305.2 L72.8,303.7 L73.0,302.2 L74.4,300.8 L76.6,299.7 L78.5,298.6 L80.1,297.7 L81.6,296.8 L83.0,295.9 L84.6,295.2 L86.5,294.8 L88.2,294.4 L89.7,294.0 L91.1,293.7 L92.4,293.5 L93.7,293.2 L94.9,293.0 L96.0,292.9 L97.0,292.7 L98.0,292.6 L98.6,292.1 L99.1,291.7 L99.7,291.3 L100.3,290.8 L100.8,290.3 L101.3,289.8 L101.8,289.2 L102.3,288.6 L102.8,287.9 L103.3,287.1 L103.8,286.3 L104.4,285.5 L104.9,284.6 L105.6,283.7 L106.3,282.7 L107.0,281.8 L107.8,280.9 L108.7,280.2 L109.6,279.5 L110.6,278.8 L111.7,278.2 L112.7,278.0 L113.8,277.8 L114.9,277.7 L115.9,278.4 L116.8,279.2 L117.8,279.8 L118.5,281.0 L119.1,282.3 L119.7,283.4 L120.3,284.5 L120.8,285.4 L121.4,286.2 L121.9,286.9 L122.5,287.6 L123.0,288.3 L123.5,289.0 L124.3,289.2 L125.2,289.4 L126.1,289.6 L127.0,289.9 L128.1,290.0 L129.5,290.0 L130.9,290.1 L131.4,290.9 L131.9,291.7 L132.5,292.5 L132.7,293.5 L132.3,294.7 L132.1,295.8 L131.8,296.9 L131.6,297.9 L131.5,298.8 L131.4,299.7 L131.3,300.5 L131.2,301.4 L131.0,302.2 L130.9,302.9 L130.8,303.7 L130.7,304.5Z M128.4,305.4 L128.0,306.0 L127.7,306.6 L127.3,307.3 L127.0,307.8 L126.7,308.4 L126.4,309.0 L126.2,309.5 L126.0,310.1 L125.8,310.7 L125.6,311.2 L125.5,311.8 L125.4,312.5 L125.3,313.1 L125.2,313.8 L125.1,314.5 L125.0,315.2 L124.8,315.9 L124.6,316.6 L124.4,317.4 L124.2,318.1 L124.0,318.9 L123.8,319.8 L123.5,320.7 L123.3,321.7 L123.2,322.9 L123.0,324.2 L122.9,325.7 L122.2,326.4 L121.3,326.7 L120.4,327.0 L119.5,327.2 L118.6,327.5 L117.8,327.8 L116.9,328.0 L116.0,328.2 L115.1,328.3 L114.2,328.3 L113.2,328.3 L112.3,328.1 L111.4,328.0 L110.6,327.8 L109.7,327.5 L108.9,327.3 L108.0,327.0 L107.2,326.8 L106.3,326.6 L105.5,326.5 L104.6,326.4 L103.7,326.4 L102.7,326.4 L101.7,326.4 L100.7,326.4 L99.6,326.5 L98.5,326.5 L97.3,326.5 L96.1,326.5 L94.8,326.4 L93.5,326.3 L92.2,326.2 L90.8,326.0 L89.3,325.9 L87.6,325.7 L85.8,325.6 L83.8,325.5 L81.7,325.3 L81.5,323.7 L81.2,322.3 L80.9,320.9 L80.5,319.6 L80.1,318.4 L79.6,317.1 L79.2,315.9 L78.8,314.6 L78.4,313.3 L78.1,312.0 L78.0,310.7 L77.9,309.3 L78.0,308.0 L78.1,306.7 L78.4,305.4 L78.7,304.1 L79.0,302.8 L80.4,301.7 L82.3,300.8 L84.1,299.9 L85.6,299.2 L86.9,298.5 L88.1,297.8 L89.5,297.3 L90.9,296.9 L92.2,296.5 L93.4,296.2 L94.5,295.9 L95.5,295.6 L96.4,295.3 L97.3,295.1 L98.1,294.9 L98.9,294.7 L99.7,294.5 L100.2,294.2 L100.7,293.8 L101.3,293.4 L101.8,293.1 L102.2,292.7 L102.7,292.3 L103.2,291.9 L103.6,291.4 L104.0,290.8 L104.5,290.2 L104.9,289.6 L105.4,288.9 L105.8,288.1 L106.4,287.4 L107.0,286.7 L107.6,285.9 L108.3,285.3 L109.0,284.8 L109.8,284.3 L110.6,283.9 L111.4,283.5 L112.3,283.5 L113.2,283.5 L114.0,283.5 L114.8,284.1 L115.5,284.7 L116.3,285.3 L116.9,286.2 L117.4,287.1 L117.9,288.0 L118.3,288.7 L118.8,289.4 L119.3,289.9 L119.8,290.5 L120.3,291.0 L120.7,291.5 L121.1,292.0 L121.8,292.3 L122.5,292.5 L123.2,292.7 L123.9,292.9 L124.7,293.1 L125.9,293.1 L127.0,293.1 L127.5,293.7 L128.1,294.2 L128.7,294.8 L129.2,295.5 L129.2,296.3 L129.3,297.1 L129.4,297.9 L129.5,298.7 L129.6,299.5 L129.7,300.2 L129.7,301.0 L129.6,301.8 L129.5,302.5 L129.3,303.3 L129.0,304.0 L128.7,304.7Z M125.7,305.5 L125.4,306.0 L125.2,306.6 L125.0,307.1 L124.8,307.6 L124.6,308.1 L124.5,308.6 L124.4,309.2 L124.3,309.7 L124.1,310.2 L124.0,310.7 L123.9,311.3 L123.8,311.8 L123.6,312.4 L123.5,312.9 L123.3,313.5 L123.0,314.0 L122.8,314.5 L122.5,315.0 L122.2,315.6 L121.9,316.1 L121.7,316.7 L121.4,317.3 L121.2,318.0 L121.0,318.8 L120.8,319.7 L120.6,320.7 L120.4,321.8 L119.9,322.3 L119.1,322.5 L118.4,322.7 L117.7,322.8 L117.0,323.0 L116.3,323.1 L115.5,323.2 L114.8,323.2 L114.1,323.2 L113.4,323.1 L112.7,323.0 L112.0,322.9 L111.3,322.8 L110.6,322.8 L109.9,322.7 L109.3,322.7 L108.6,322.7 L107.8,322.8 L107.1,322.8 L106.4,323.0 L105.6,323.1 L104.7,323.3 L103.9,323.4 L103.0,323.5 L102.0,323.6 L101.1,323.7 L100.1,323.7 L99.1,323.7 L98.1,323.6 L97.1,323.5 L96.1,323.3 L95.0,323.1 L93.8,322.9 L92.6,322.8 L91.2,322.6 L89.7,322.5 L88.1,322.3 L86.3,322.2 L86.1,320.9 L85.8,319.7 L85.5,318.6 L85.2,317.5 L85.0,316.4 L84.7,315.3 L84.5,314.2 L84.3,313.1 L84.3,312.0 L84.3,310.8 L84.3,309.7 L84.5,308.6 L84.7,307.6 L84.9,306.5 L85.2,305.5 L85.4,304.5 L85.6,303.5 L86.5,302.5 L87.8,301.8 L89.0,301.0 L90.0,300.4 L90.8,299.7 L91.6,299.1 L92.6,298.6 L93.7,298.2 L94.7,297.8 L95.7,297.5 L96.5,297.2 L97.4,297.0 L98.2,296.8 L99.1,296.6 L99.8,296.5 L100.6,296.3 L101.3,296.2 L101.8,296.0 L102.3,295.7 L102.7,295.5 L103.2,295.2 L103.6,294.9 L104.0,294.6 L104.4,294.2 L104.8,293.8 L105.1,293.4 L105.5,292.9 L105.9,292.5 L106.3,292.0 L106.8,291.5 L107.2,291.0 L107.7,290.6 L108.2,290.1 L108.8,289.8 L109.4,289.5 L110.0,289.2 L110.6,288.9 L111.3,288.6 L112.0,288.5 L112.6,288.4 L113.3,288.3 L114.0,288.6 L114.6,288.8 L115.2,289.0 L115.8,289.4 L116.3,290.0 L116.8,290.4 L117.3,290.9 L117.8,291.3 L118.3,291.7 L118.8,292.1 L119.2,292.6 L119.6,293.0 L120.0,293.5 L120.6,293.7 L121.1,293.9 L121.7,294.2 L122.3,294.4 L123.1,294.6 L124.0,294.6 L124.9,294.7 L125.4,295.2 L126.0,295.7 L126.5,296.1 L126.9,296.7 L127.0,297.5 L127.1,298.2 L127.2,298.9 L127.3,299.6 L127.3,300.3 L127.3,301.0 L127.2,301.6 L127.0,302.3 L126.8,303.0 L126.6,303.7 L126.3,304.3 L126.0,304.9Z M123.4,305.6 L123.3,306.0 L123.1,306.5 L123.0,306.9 L122.8,307.4 L122.7,307.8 L122.6,308.3 L122.4,308.7 L122.3,309.2 L122.2,309.6 L122.1,310.1 L122.0,310.5 L121.9,311.0 L121.8,311.5 L121.7,312.0 L121.6,312.5 L121.5,313.1 L121.4,313.6 L121.3,314.2 L121.2,314.8 L121.0,315.4 L120.8,316.0 L120.7,316.7 L120.5,317.4 L120.3,318.1 L120.1,318.9 L119.8,319.7 L119.6,320.6 L119.0,320.9 L118.3,320.9 L117.5,320.9 L116.8,320.9 L116.2,320.9 L115.5,320.9 L114.9,320.9 L114.2,320.9 L113.6,320.8 L113.0,320.8 L112.4,320.8 L111.8,320.8 L111.2,320.9 L110.6,320.9 L110.0,320.9 L109.4,320.9 L108.7,321.0 L108.1,321.0 L107.5,321.0 L106.8,321.1 L106.1,321.1 L105.4,321.1 L104.7,321.1 L104.0,321.0 L103.3,321.0 L102.6,320.9 L101.8,320.9 L101.0,320.8 L100.2,320.6 L99.4,320.5 L98.5,320.4 L97.7,320.2 L96.7,320.0 L95.8,319.8 L94.8,319.6 L93.7,319.4 L92.5,319.1 L91.3,318.8 L91.3,317.7 L91.3,316.7 L91.2,315.7 L91.2,314.8 L91.2,313.8 L91.1,313.0 L91.0,312.1 L90.9,311.3 L90.8,310.4 L90.7,309.6 L90.6,308.8 L90.4,308.0 L90.3,307.2 L90.2,306.4 L90.1,305.6 L90.0,304.7 L89.9,303.9 L90.4,303.1 L91.3,302.4 L92.1,301.8 L92.9,301.2 L93.6,300.6 L94.3,300.1 L95.1,299.6 L96.1,299.3 L97.0,299.0 L97.8,298.7 L98.6,298.5 L99.3,298.3 L100.0,298.1 L100.6,297.9 L101.2,297.7 L101.8,297.5 L102.3,297.3 L102.6,297.0 L103.0,296.7 L103.4,296.4 L103.7,296.1 L104.1,295.8 L104.4,295.5 L104.8,295.1 L105.2,294.8 L105.5,294.4 L105.9,294.1 L106.3,293.7 L106.7,293.3 L107.1,292.9 L107.5,292.5 L107.9,292.0 L108.4,291.6 L108.9,291.2 L109.4,290.9 L110.0,290.6 L110.6,290.3 L111.2,290.0 L111.8,289.8 L112.4,289.8 L113.0,289.7 L113.6,290.0 L114.2,290.4 L114.7,290.7 L115.2,291.3 L115.6,291.9 L116.0,292.5 L116.3,293.1 L116.7,293.6 L117.0,294.0 L117.4,294.5 L117.7,294.9 L118.1,295.2 L118.4,295.6 L118.9,295.8 L119.4,295.9 L119.9,296.1 L120.5,296.2 L121.1,296.4 L121.9,296.4 L122.7,296.4 L123.2,296.8 L123.7,297.2 L124.1,297.6 L124.4,298.1 L124.5,298.8 L124.5,299.4 L124.5,300.0 L124.5,300.6 L124.5,301.2 L124.5,301.8 L124.4,302.4 L124.2,303.0 L124.1,303.5 L123.9,304.0 L123.8,304.6 L123.6,305.1Z M122.1,305.6 L122.0,306.1 L121.9,306.5 L121.8,306.9 L121.7,307.3 L121.6,307.7 L121.5,308.1 L121.3,308.5 L121.2,308.9 L121.0,309.3 L120.9,309.7 L120.7,310.1 L120.6,310.5 L120.5,310.9 L120.4,311.3 L120.3,311.8 L120.2,312.2 L120.0,312.7 L119.9,313.2 L119.7,313.6 L119.6,314.1 L119.4,314.6 L119.2,315.1 L118.9,315.6 L118.7,316.2 L118.5,316.7 L118.2,317.3 L117.9,317.9 L117.4,318.0 L116.8,318.0 L116.1,317.9 L115.6,317.8 L115.0,317.7 L114.4,317.6 L113.9,317.5 L113.4,317.5 L112.9,317.4 L112.5,317.4 L112.0,317.3 L111.5,317.4 L111.1,317.4 L110.6,317.4 L110.1,317.5 L109.6,317.6 L109.2,317.7 L108.6,317.8 L108.1,317.9 L107.6,318.0 L107.0,318.1 L106.4,318.2 L105.8,318.3 L105.2,318.3 L104.6,318.3 L104.0,318.3 L103.3,318.3 L102.7,318.2 L102.0,318.1 L101.3,318.0 L100.7,317.8 L100.0,317.6 L99.2,317.5 L98.5,317.3 L97.7,317.1 L96.8,316.9 L95.8,316.7 L94.9,316.4 L94.8,315.6 L94.7,314.8 L94.6,314.0 L94.5,313.3 L94.4,312.5 L94.3,311.8 L94.1,311.1 L94.0,310.4 L93.9,309.7 L93.8,309.1 L93.7,308.4 L93.6,307.7 L93.6,307.0 L93.6,306.3 L93.6,305.6 L93.6,304.9 L93.6,304.3 L94.1,303.6 L94.8,303.1 L95.5,302.5 L96.1,302.0 L96.7,301.6 L97.2,301.1 L97.8,300.7 L98.5,300.4 L99.2,300.1 L99.8,299.9 L100.3,299.6 L100.8,299.3 L101.2,299.1 L101.7,298.8 L102.1,298.6 L102.6,298.4 L103.0,298.1 L103.3,297.8 L103.6,297.5 L103.9,297.3 L104.3,297.0 L104.6,296.8 L105.0,296.6 L105.4,296.4 L105.8,296.2 L106.2,296.1 L106.6,295.9 L107.0,295.8 L107.4,295.6 L107.8,295.5 L108.2,295.4 L108.6,295.2 L109.0,295.1 L109.4,294.9 L109.8,294.8 L110.2,294.6 L110.6,294.4 L111.1,294.2 L111.5,294.0 L112.0,293.9 L112.5,293.7 L112.9,293.7 L113.4,293.8 L113.9,293.8 L114.3,294.1 L114.7,294.4 L115.1,294.6 L115.5,294.9 L115.9,295.2 L116.2,295.5 L116.6,295.7 L117.0,296.0 L117.3,296.3 L117.6,296.6 L118.0,296.8 L118.4,297.0 L118.9,297.2 L119.3,297.4 L119.8,297.6 L120.3,297.7 L120.9,297.9 L121.2,298.2 L121.5,298.6 L121.9,299.0 L122.1,299.5 L122.1,300.0 L122.2,300.5 L122.2,301.0 L122.3,301.5 L122.3,302.0 L122.4,302.4 L122.4,302.9 L122.4,303.4 L122.4,303.8 L122.3,304.3 L122.3,304.7 L122.2,305.2Z M121.4,305.7 L121.3,306.1 L121.2,306.5 L121.1,306.9 L120.9,307.3 L120.8,307.6 L120.6,308.0 L120.5,308.4 L120.3,308.7 L120.2,309.1 L120.0,309.4 L119.8,309.8 L119.7,310.1 L119.6,310.5 L119.4,310.8 L119.3,311.2 L119.1,311.6 L119.0,312.0 L118.8,312.4 L118.6,312.7 L118.4,313.1 L118.2,313.5 L118.0,313.9 L117.8,314.3 L117.6,314.7 L117.3,315.1 L117.1,315.6 L116.8,316.0 L116.3,316.2 L115.8,316.1 L115.3,316.1 L114.8,316.1 L114.3,316.0 L113.9,316.0 L113.5,315.9 L113.0,315.9 L112.6,315.9 L112.2,315.9 L111.8,315.9 L111.4,315.9 L111.0,316.0 L110.6,316.0 L110.2,316.0 L109.8,316.1 L109.3,316.1 L108.9,316.1 L108.5,316.1 L108.0,316.1 L107.6,316.1 L107.1,316.1 L106.7,316.1 L106.2,316.0 L105.8,315.9 L105.3,315.8 L104.8,315.7 L104.3,315.6 L103.9,315.5 L103.3,315.4 L102.8,315.3 L102.2,315.1 L101.6,315.0 L101.0,314.9 L100.3,314.8 L99.5,314.7 L98.7,314.6 L97.8,314.5 L97.5,313.9 L97.3,313.3 L97.0,312.8 L96.8,312.2 L96.5,311.7 L96.3,311.1 L96.0,310.5 L95.8,309.9 L95.7,309.4 L95.5,308.8 L95.4,308.1 L95.3,307.5 L95.3,306.9 L95.3,306.3 L95.3,305.7 L95.4,305.1 L95.5,304.5 L95.9,303.9 L96.5,303.4 L97.1,302.9 L97.7,302.5 L98.2,302.1 L98.7,301.7 L99.2,301.3 L99.8,301.1 L100.4,300.8 L100.9,300.5 L101.4,300.3 L101.8,300.0 L102.2,299.8 L102.6,299.6 L103.0,299.4 L103.4,299.2 L103.8,299.0 L104.1,298.8 L104.4,298.5 L104.7,298.3 L105.0,298.1 L105.4,297.9 L105.7,297.8 L106.1,297.6 L106.4,297.5 L106.8,297.4 L107.1,297.2 L107.4,297.1 L107.8,297.0 L108.1,296.9 L108.5,296.7 L108.8,296.6 L109.1,296.4 L109.5,296.3 L109.9,296.1 L110.2,296.0 L110.6,295.8 L111.0,295.6 L111.4,295.5 L111.8,295.4 L112.2,295.3 L112.6,295.4 L113.0,295.5 L113.4,295.6 L113.8,295.8 L114.1,296.1 L114.4,296.4 L114.7,296.7 L115.0,297.0 L115.3,297.3 L115.5,297.5 L115.8,297.8 L116.1,298.1 L116.3,298.3 L116.6,298.5 L117.0,298.6 L117.4,298.8 L117.7,298.9 L118.1,299.1 L118.7,299.1 L119.2,299.2 L119.5,299.5 L119.9,299.7 L120.3,300.0 L120.6,300.3 L120.7,300.7 L120.9,301.1 L121.1,301.5 L121.2,301.9 L121.4,302.3 L121.5,302.7 L121.6,303.1 L121.6,303.6 L121.6,304.0 L121.6,304.4 L121.6,304.8 L121.5,305.3Z M120.1,305.7 L120.0,306.1 L120.0,306.4 L119.9,306.8 L119.8,307.1 L119.7,307.5 L119.6,307.8 L119.5,308.1 L119.3,308.4 L119.2,308.8 L119.0,309.1 L118.8,309.4 L118.7,309.7 L118.5,310.0 L118.3,310.3 L118.1,310.5 L118.0,310.8 L117.8,311.1 L117.6,311.4 L117.4,311.7 L117.1,311.9 L116.9,312.2 L116.7,312.5 L116.5,312.8 L116.3,313.2 L116.1,313.5 L115.9,313.9 L115.7,314.3 L115.4,314.5 L115.0,314.6 L114.6,314.6 L114.3,314.7 L113.9,314.8 L113.5,314.9 L113.1,315.0 L112.8,315.0 L112.4,315.1 L112.0,315.2 L111.7,315.3 L111.3,315.3 L110.9,315.4 L110.5,315.4 L110.2,315.4 L109.8,315.4 L109.4,315.4 L109.0,315.4 L108.6,315.3 L108.2,315.3 L107.8,315.2 L107.5,315.1 L107.1,315.0 L106.7,314.9 L106.3,314.8 L105.9,314.6 L105.6,314.5 L105.2,314.3 L104.8,314.2 L104.3,314.1 L103.9,313.9 L103.5,313.8 L103.0,313.7 L102.4,313.6 L101.9,313.4 L101.3,313.3 L100.6,313.2 L99.9,313.1 L99.6,312.6 L99.4,312.2 L99.2,311.7 L98.9,311.2 L98.7,310.8 L98.4,310.3 L98.2,309.9 L98.0,309.4 L97.8,308.9 L97.6,308.4 L97.4,307.9 L97.3,307.3 L97.2,306.8 L97.1,306.3 L97.1,305.7 L97.2,305.2 L97.2,304.6 L97.6,304.1 L98.1,303.7 L98.7,303.3 L99.2,302.9 L99.7,302.6 L100.2,302.2 L100.8,302.0 L101.3,301.7 L101.9,301.6 L102.4,301.4 L102.9,301.2 L103.3,301.0 L103.7,300.9 L104.1,300.7 L104.4,300.6 L104.8,300.5 L105.1,300.3 L105.3,300.1 L105.5,299.9 L105.8,299.7 L106.0,299.5 L106.2,299.2 L106.4,299.0 L106.7,298.8 L106.9,298.6 L107.2,298.3 L107.4,298.1 L107.7,297.9 L108.0,297.7 L108.2,297.5 L108.5,297.3 L108.8,297.1 L109.2,296.9 L109.5,296.7 L109.8,296.6 L110.2,296.5 L110.6,296.4 L110.9,296.3 L111.3,296.3 L111.7,296.3 L112.0,296.3 L112.4,296.5 L112.7,296.6 L113.1,296.8 L113.4,297.1 L113.6,297.4 L113.9,297.7 L114.1,297.9 L114.4,298.2 L114.7,298.4 L114.9,298.6 L115.2,298.8 L115.4,299.0 L115.7,299.2 L116.0,299.3 L116.3,299.4 L116.7,299.5 L117.1,299.6 L117.5,299.7 L117.9,299.7 L118.4,299.8 L118.7,300.0 L119.1,300.3 L119.4,300.5 L119.6,300.9 L119.7,301.2 L119.8,301.6 L119.9,302.0 L120.0,302.4 L120.1,302.7 L120.2,303.1 L120.2,303.5 L120.2,303.9 L120.2,304.2 L120.2,304.6 L120.2,305.0 L120.1,305.4Z M119.0,305.8 L119.0,306.1 L119.0,306.4 L118.9,306.7 L118.9,307.0 L118.8,307.3 L118.7,307.6 L118.6,307.9 L118.4,308.2 L118.3,308.5 L118.1,308.7 L117.9,309.0 L117.7,309.2 L117.5,309.5 L117.3,309.7 L117.1,309.9 L116.9,310.1 L116.7,310.3 L116.5,310.6 L116.3,310.8 L116.1,311.0 L116.0,311.3 L115.8,311.5 L115.7,311.8 L115.5,312.1 L115.3,312.4 L115.2,312.8 L115.0,313.2 L114.8,313.4 L114.4,313.5 L114.1,313.6 L113.8,313.7 L113.5,313.7 L113.1,313.8 L112.8,313.8 L112.5,313.9 L112.2,313.9 L111.8,313.9 L111.5,313.9 L111.2,313.9 L110.9,313.9 L110.6,313.8 L110.2,313.8 L109.9,313.8 L109.6,313.8 L109.3,313.7 L109.0,313.7 L108.6,313.7 L108.3,313.7 L107.9,313.7 L107.6,313.7 L107.2,313.7 L106.8,313.7 L106.4,313.7 L106.0,313.7 L105.6,313.7 L105.1,313.7 L104.7,313.6 L104.2,313.6 L103.7,313.5 L103.2,313.4 L102.7,313.3 L102.2,313.2 L101.6,313.0 L101.1,312.9 L100.5,312.7 L100.4,312.1 L100.4,311.6 L100.3,311.1 L100.2,310.7 L100.2,310.2 L100.1,309.7 L100.0,309.3 L100.0,308.8 L99.9,308.4 L99.9,307.9 L99.8,307.5 L99.8,307.1 L99.7,306.6 L99.6,306.2 L99.6,305.8 L99.6,305.3 L99.6,304.9 L99.8,304.4 L100.1,304.0 L100.5,303.7 L100.8,303.3 L101.2,303.0 L101.5,302.7 L101.9,302.4 L102.4,302.2 L102.8,302.0 L103.2,301.9 L103.6,301.7 L104.0,301.5 L104.4,301.4 L104.7,301.3 L105.1,301.2 L105.4,301.1 L105.7,300.9 L105.9,300.8 L106.1,300.6 L106.4,300.5 L106.6,300.3 L106.8,300.1 L107.0,300.0 L107.2,299.8 L107.4,299.6 L107.7,299.4 L107.9,299.2 L108.1,299.1 L108.3,298.9 L108.6,298.7 L108.8,298.6 L109.1,298.4 L109.4,298.3 L109.7,298.1 L110.0,298.0 L110.3,298.0 L110.6,297.9 L110.9,297.8 L111.2,297.8 L111.5,297.7 L111.8,297.7 L112.1,297.8 L112.4,297.9 L112.7,298.0 L113.0,298.2 L113.3,298.4 L113.5,298.5 L113.8,298.7 L114.1,298.8 L114.3,299.0 L114.6,299.1 L114.9,299.2 L115.1,299.4 L115.4,299.5 L115.7,299.6 L116.1,299.7 L116.4,299.8 L116.7,299.9 L117.1,300.0 L117.5,300.1 L117.9,300.2 L118.1,300.5 L118.4,300.7 L118.6,301.0 L118.7,301.4 L118.8,301.7 L118.8,302.1 L118.9,302.4 L118.9,302.8 L118.9,303.1 L119.0,303.5 L119.0,303.8 L119.0,304.1 L119.0,304.5 L119.0,304.8 L119.0,305.1 L119.0,305.4Z M117.9,305.8 L117.8,306.1 L117.7,306.3 L117.6,306.6 L117.6,306.8 L117.5,307.1 L117.5,307.4 L117.4,307.6 L117.4,307.9 L117.4,308.2 L117.3,308.5 L117.3,308.8 L117.2,309.0 L117.1,309.3 L117.0,309.6 L116.9,309.8 L116.7,310.1 L116.5,310.3 L116.3,310.5 L116.1,310.7 L115.9,310.9 L115.7,311.1 L115.5,311.3 L115.3,311.5 L115.1,311.7 L115.0,311.9 L114.8,312.2 L114.6,312.5 L114.3,312.6 L114.0,312.7 L113.7,312.8 L113.4,312.8 L113.1,312.8 L112.8,312.9 L112.5,312.9 L112.2,312.9 L111.9,312.8 L111.7,312.8 L111.4,312.7 L111.1,312.6 L110.8,312.6 L110.6,312.5 L110.3,312.5 L110.0,312.5 L109.8,312.5 L109.5,312.5 L109.2,312.5 L108.9,312.5 L108.6,312.6 L108.3,312.6 L108.0,312.7 L107.6,312.7 L107.3,312.8 L106.9,312.8 L106.6,312.8 L106.2,312.7 L105.8,312.7 L105.5,312.6 L105.1,312.5 L104.8,312.3 L104.4,312.2 L104.0,312.1 L103.6,311.9 L103.2,311.8 L102.8,311.6 L102.3,311.5 L102.2,311.1 L102.0,310.7 L101.9,310.3 L101.7,310.0 L101.6,309.6 L101.4,309.2 L101.3,308.9 L101.3,308.5 L101.2,308.1 L101.2,307.7 L101.2,307.3 L101.2,306.9 L101.3,306.5 L101.4,306.2 L101.4,305.8 L101.5,305.4 L101.6,305.1 L101.8,304.7 L102.1,304.4 L102.3,304.1 L102.5,303.8 L102.7,303.5 L102.9,303.2 L103.0,302.9 L103.3,302.7 L103.5,302.4 L103.8,302.2 L104.0,302.0 L104.3,301.8 L104.6,301.6 L104.8,301.4 L105.1,301.3 L105.4,301.2 L105.7,301.1 L106.0,300.9 L106.2,300.8 L106.5,300.7 L106.7,300.6 L107.0,300.5 L107.2,300.3 L107.4,300.2 L107.7,300.1 L107.9,300.0 L108.1,299.8 L108.3,299.7 L108.5,299.6 L108.8,299.5 L109.0,299.4 L109.3,299.3 L109.5,299.2 L109.8,299.2 L110.0,299.1 L110.3,299.1 L110.6,299.1 L110.8,299.1 L111.1,299.1 L111.4,299.1 L111.6,299.1 L111.9,299.2 L112.1,299.2 L112.4,299.2 L112.7,299.3 L112.9,299.4 L113.1,299.5 L113.4,299.6 L113.7,299.6 L113.9,299.7 L114.2,299.8 L114.4,299.9 L114.7,300.1 L114.9,300.2 L115.1,300.3 L115.4,300.4 L115.6,300.6 L115.9,300.7 L116.2,300.9 L116.5,301.0 L116.8,301.1 L117.0,301.3 L117.2,301.5 L117.4,301.7 L117.6,302.0 L117.7,302.3 L117.8,302.5 L117.9,302.8 L118.0,303.1 L118.1,303.4 L118.2,303.7 L118.2,304.0 L118.2,304.3 L118.2,304.6 L118.1,304.9 L118.0,305.2 L118.0,305.5Z M117.4,305.8 L117.5,306.1 L117.5,306.3 L117.5,306.6 L117.4,306.9 L117.4,307.1 L117.3,307.4 L117.2,307.6 L117.1,307.8 L116.9,308.1 L116.7,308.3 L116.6,308.5 L116.4,308.7 L116.2,308.8 L116.0,309.0 L115.8,309.2 L115.6,309.3 L115.4,309.5 L115.2,309.6 L115.1,309.8 L114.9,309.9 L114.7,310.1 L114.6,310.2 L114.4,310.4 L114.3,310.6 L114.1,310.8 L114.0,311.1 L113.9,311.3 L113.7,311.5 L113.5,311.6 L113.2,311.7 L113.0,311.8 L112.8,311.9 L112.5,311.9 L112.3,312.0 L112.0,312.0 L111.8,312.1 L111.5,312.1 L111.3,312.1 L111.0,312.1 L110.8,312.1 L110.5,312.1 L110.3,312.1 L110.0,312.0 L109.8,312.0 L109.6,311.9 L109.3,311.9 L109.1,311.8 L108.8,311.8 L108.6,311.8 L108.3,311.7 L108.1,311.7 L107.8,311.6 L107.6,311.6 L107.3,311.5 L107.0,311.5 L106.7,311.4 L106.4,311.3 L106.1,311.3 L105.8,311.2 L105.5,311.1 L105.2,311.0 L104.9,310.9 L104.5,310.7 L104.2,310.6 L103.8,310.5 L103.7,310.2 L103.6,309.8 L103.5,309.5 L103.4,309.2 L103.3,308.9 L103.2,308.6 L103.1,308.3 L103.0,308.0 L102.8,307.7 L102.7,307.4 L102.6,307.1 L102.5,306.8 L102.4,306.5 L102.3,306.1 L102.2,305.8 L102.2,305.5 L102.1,305.1 L102.2,304.8 L102.4,304.5 L102.7,304.2 L102.9,303.9 L103.1,303.6 L103.4,303.4 L103.7,303.2 L104.0,303.0 L104.4,302.8 L104.7,302.7 L105.0,302.6 L105.3,302.5 L105.6,302.3 L105.9,302.3 L106.2,302.2 L106.4,302.1 L106.7,302.0 L106.9,301.9 L107.1,301.8 L107.2,301.7 L107.4,301.6 L107.6,301.4 L107.8,301.3 L107.9,301.2 L108.1,301.0 L108.3,300.9 L108.5,300.8 L108.6,300.6 L108.8,300.5 L109.0,300.3 L109.2,300.2 L109.4,300.1 L109.6,300.0 L109.8,299.9 L110.1,299.8 L110.3,299.7 L110.5,299.7 L110.8,299.6 L111.0,299.6 L111.3,299.6 L111.5,299.6 L111.8,299.7 L112.0,299.8 L112.2,299.9 L112.4,300.0 L112.6,300.2 L112.8,300.3 L113.0,300.4 L113.2,300.6 L113.4,300.7 L113.6,300.8 L113.8,300.9 L114.0,301.0 L114.2,301.2 L114.4,301.2 L114.6,301.3 L114.8,301.4 L115.1,301.5 L115.3,301.6 L115.6,301.7 L115.8,301.8 L116.0,302.0 L116.2,302.2 L116.3,302.4 L116.5,302.6 L116.6,302.9 L116.6,303.1 L116.7,303.3 L116.8,303.6 L116.9,303.8 L117.0,304.1 L117.1,304.3 L117.1,304.5 L117.2,304.8 L117.3,305.0 L117.3,305.3 L117.4,305.6Z M116.5,305.8 L116.5,306.1 L116.5,306.3 L116.4,306.5 L116.4,306.7 L116.4,306.9 L116.3,307.2 L116.3,307.4 L116.2,307.6 L116.1,307.8 L116.0,308.0 L115.9,308.2 L115.8,308.4 L115.7,308.6 L115.6,308.8 L115.4,309.0 L115.3,309.1 L115.1,309.3 L114.9,309.4 L114.7,309.5 L114.5,309.6 L114.4,309.7 L114.2,309.9 L114.0,310.0 L113.8,310.1 L113.7,310.2 L113.5,310.4 L113.4,310.5 L113.2,310.6 L113.0,310.7 L112.8,310.7 L112.6,310.8 L112.4,310.8 L112.2,310.9 L112.0,310.9 L111.8,311.0 L111.6,311.0 L111.4,311.0 L111.2,311.1 L111.0,311.1 L110.7,311.0 L110.5,311.0 L110.3,311.0 L110.1,311.0 L109.9,311.0 L109.7,310.9 L109.5,310.9 L109.3,310.9 L109.1,310.9 L108.9,310.9 L108.7,310.9 L108.4,310.9 L108.2,310.9 L107.9,310.9 L107.7,310.9 L107.4,310.9 L107.1,310.8 L106.8,310.8 L106.5,310.8 L106.2,310.7 L105.9,310.6 L105.7,310.5 L105.4,310.4 L105.1,310.3 L104.8,310.2 L104.5,310.0 L104.4,309.7 L104.4,309.4 L104.3,309.1 L104.2,308.8 L104.2,308.6 L104.1,308.3 L104.1,308.0 L104.0,307.7 L103.9,307.5 L103.9,307.2 L103.8,306.9 L103.7,306.7 L103.7,306.4 L103.7,306.1 L103.6,305.8 L103.6,305.6 L103.6,305.3 L103.8,305.0 L104.0,304.8 L104.2,304.5 L104.4,304.3 L104.6,304.1 L104.8,303.9 L105.1,303.7 L105.3,303.6 L105.6,303.4 L105.8,303.3 L106.0,303.2 L106.2,303.0 L106.3,302.9 L106.5,302.8 L106.7,302.6 L106.8,302.5 L107.0,302.4 L107.1,302.2 L107.2,302.0 L107.4,301.9 L107.5,301.8 L107.7,301.6 L107.9,301.5 L108.0,301.4 L108.2,301.3 L108.4,301.2 L108.6,301.2 L108.8,301.1 L109.0,301.0 L109.2,301.0 L109.4,300.9 L109.6,300.9 L109.8,300.8 L109.9,300.8 L110.1,300.8 L110.3,300.7 L110.5,300.7 L110.7,300.6 L111.0,300.6 L111.2,300.5 L111.4,300.5 L111.6,300.5 L111.8,300.6 L112.0,300.6 L112.2,300.7 L112.4,300.8 L112.5,301.0 L112.7,301.1 L112.9,301.2 L113.0,301.4 L113.2,301.5 L113.3,301.6 L113.5,301.8 L113.6,301.9 L113.8,302.0 L113.9,302.1 L114.1,302.2 L114.3,302.3 L114.5,302.4 L114.7,302.4 L115.0,302.5 L115.2,302.6 L115.4,302.7 L115.6,302.9 L115.8,303.0 L115.9,303.2 L116.1,303.4 L116.2,303.6 L116.3,303.8 L116.4,304.0 L116.5,304.2 L116.5,304.4 L116.6,304.7 L116.6,304.9 L116.6,305.1 L116.6,305.4 L116.5,305.6Z M115.5,305.9 L115.5,306.0 L115.5,306.2 L115.5,306.4 L115.5,306.6 L115.4,306.8 L115.4,307.0 L115.3,307.2 L115.2,307.3 L115.1,307.5 L115.0,307.6 L114.9,307.8 L114.8,307.9 L114.6,308.1 L114.5,308.2 L114.4,308.3 L114.3,308.5 L114.2,308.6 L114.1,308.7 L114.0,308.9 L113.9,309.1 L113.8,309.2 L113.7,309.4 L113.6,309.5 L113.5,309.7 L113.4,309.9 L113.3,310.0 L113.1,310.2 L113.0,310.3 L112.8,310.3 L112.6,310.3 L112.4,310.3 L112.2,310.3 L112.0,310.3 L111.8,310.3 L111.6,310.3 L111.4,310.3 L111.2,310.3 L111.1,310.3 L110.9,310.3 L110.7,310.4 L110.5,310.4 L110.4,310.4 L110.2,310.4 L110.0,310.4 L109.8,310.4 L109.6,310.4 L109.4,310.3 L109.3,310.3 L109.1,310.2 L108.9,310.1 L108.8,310.1 L108.6,310.0 L108.4,309.9 L108.3,309.8 L108.1,309.7 L107.9,309.7 L107.8,309.6 L107.6,309.6 L107.3,309.5 L107.1,309.5 L106.9,309.4 L106.6,309.4 L106.3,309.3 L106.0,309.3 L105.8,309.2 L105.6,309.0 L105.5,308.8 L105.4,308.6 L105.3,308.4 L105.2,308.1 L105.2,307.9 L105.1,307.7 L105.0,307.5 L105.0,307.2 L104.9,307.0 L104.9,306.8 L104.8,306.6 L104.8,306.3 L104.7,306.1 L104.6,305.9 L104.6,305.6 L104.5,305.4 L104.6,305.1 L104.7,304.9 L104.8,304.7 L104.9,304.5 L105.1,304.3 L105.2,304.1 L105.4,303.9 L105.7,303.8 L105.9,303.6 L106.1,303.5 L106.3,303.4 L106.6,303.3 L106.8,303.2 L107.0,303.1 L107.1,303.0 L107.3,303.0 L107.5,302.9 L107.6,302.8 L107.7,302.7 L107.9,302.6 L108.0,302.5 L108.2,302.4 L108.3,302.3 L108.5,302.2 L108.6,302.2 L108.8,302.1 L109.0,302.1 L109.1,302.0 L109.3,302.0 L109.5,302.0 L109.6,302.0 L109.8,301.9 L109.9,301.9 L110.1,301.9 L110.2,301.8 L110.4,301.8 L110.5,301.7 L110.7,301.6 L110.9,301.6 L111.1,301.5 L111.2,301.5 L111.4,301.5 L111.6,301.5 L111.8,301.5 L111.9,301.5 L112.1,301.6 L112.2,301.7 L112.4,301.8 L112.5,301.9 L112.7,302.0 L112.8,302.1 L113.0,302.2 L113.1,302.2 L113.3,302.3 L113.4,302.4 L113.6,302.5 L113.8,302.5 L114.0,302.6 L114.2,302.6 L114.4,302.7 L114.7,302.7 L114.8,302.9 L115.0,303.0 L115.2,303.1 L115.3,303.3 L115.4,303.5 L115.4,303.7 L115.5,303.9 L115.5,304.1 L115.5,304.3 L115.5,304.5 L115.5,304.7 L115.5,304.9 L115.5,305.1 L115.5,305.3 L115.5,305.5 L115.5,305.7Z M114.8,305.9 L114.8,306.0 L114.7,306.2 L114.7,306.4 L114.6,306.5 L114.5,306.7 L114.4,306.8 L114.4,306.9 L114.3,307.1 L114.2,307.2 L114.1,307.3 L114.1,307.4 L114.0,307.6 L113.9,307.7 L113.8,307.8 L113.7,307.9 L113.7,308.1 L113.6,308.2 L113.5,308.3 L113.4,308.4 L113.3,308.5 L113.2,308.7 L113.1,308.8 L113.0,308.9 L112.9,309.0 L112.8,309.1 L112.7,309.2 L112.6,309.4 L112.5,309.4 L112.3,309.5 L112.2,309.5 L112.0,309.5 L111.9,309.5 L111.7,309.5 L111.6,309.6 L111.4,309.6 L111.3,309.6 L111.1,309.6 L111.0,309.6 L110.8,309.6 L110.7,309.5 L110.5,309.5 L110.4,309.5 L110.2,309.5 L110.1,309.5 L110.0,309.5 L109.8,309.5 L109.7,309.5 L109.5,309.5 L109.4,309.4 L109.2,309.4 L109.1,309.4 L108.9,309.4 L108.7,309.3 L108.6,309.3 L108.4,309.2 L108.3,309.2 L108.1,309.1 L108.0,309.1 L107.8,309.0 L107.6,308.9 L107.5,308.8 L107.3,308.7 L107.2,308.7 L107.0,308.6 L106.8,308.5 L106.7,308.3 L106.7,308.1 L106.6,308.0 L106.5,307.8 L106.4,307.6 L106.4,307.5 L106.3,307.3 L106.2,307.1 L106.2,307.0 L106.1,306.8 L106.0,306.6 L106.0,306.4 L105.9,306.3 L105.8,306.1 L105.8,305.9 L105.8,305.7 L105.7,305.5 L105.8,305.3 L105.8,305.1 L105.9,304.9 L106.0,304.8 L106.1,304.6 L106.2,304.4 L106.3,304.3 L106.5,304.1 L106.6,304.0 L106.8,303.9 L106.9,303.8 L107.1,303.7 L107.3,303.6 L107.4,303.5 L107.6,303.4 L107.7,303.4 L107.9,303.3 L108.0,303.3 L108.2,303.2 L108.3,303.1 L108.5,303.1 L108.6,303.0 L108.7,303.0 L108.9,303.0 L109.0,302.9 L109.1,302.9 L109.3,302.8 L109.4,302.8 L109.5,302.7 L109.6,302.7 L109.8,302.6 L109.9,302.6 L110.0,302.5 L110.1,302.5 L110.3,302.4 L110.4,302.4 L110.5,302.4 L110.7,302.3 L110.8,302.3 L111.0,302.3 L111.1,302.3 L111.2,302.3 L111.4,302.4 L111.5,302.4 L111.6,302.4 L111.8,302.5 L111.9,302.6 L112.0,302.6 L112.1,302.7 L112.3,302.8 L112.4,302.8 L112.5,302.9 L112.6,302.9 L112.8,303.0 L112.9,303.0 L113.1,303.1 L113.2,303.1 L113.4,303.2 L113.5,303.3 L113.7,303.3 L113.9,303.4 L114.0,303.5 L114.2,303.6 L114.3,303.7 L114.4,303.8 L114.5,303.9 L114.6,304.1 L114.7,304.2 L114.8,304.4 L114.8,304.5 L114.9,304.7 L114.9,304.9 L114.9,305.0 L114.9,305.2 L114.9,305.4 L114.9,305.6 L114.9,305.7Z M113.8,305.9 L113.8,306.0 L113.8,306.2 L113.8,306.3 L113.8,306.4 L113.7,306.5 L113.7,306.6 L113.7,306.8 L113.6,306.9 L113.6,307.0 L113.5,307.1 L113.5,307.2 L113.4,307.3 L113.4,307.4 L113.3,307.5 L113.2,307.6 L113.1,307.7 L113.0,307.8 L112.9,307.9 L112.9,308.0 L112.8,308.0 L112.7,308.1 L112.6,308.2 L112.5,308.3 L112.4,308.3 L112.3,308.4 L112.2,308.5 L112.1,308.5 L112.0,308.6 L111.9,308.6 L111.8,308.6 L111.7,308.7 L111.5,308.7 L111.4,308.7 L111.3,308.7 L111.2,308.8 L111.1,308.8 L111.0,308.8 L110.9,308.8 L110.7,308.8 L110.6,308.8 L110.5,308.8 L110.4,308.8 L110.3,308.8 L110.2,308.8 L110.1,308.8 L110.0,308.7 L109.8,308.7 L109.7,308.7 L109.6,308.6 L109.5,308.6 L109.4,308.6 L109.3,308.5 L109.2,308.5 L109.1,308.4 L109.0,308.4 L108.9,308.3 L108.8,308.3 L108.7,308.2 L108.6,308.2 L108.4,308.1 L108.3,308.1 L108.2,308.0 L108.0,308.0 L107.9,307.9 L107.7,307.9 L107.6,307.8 L107.5,307.6 L107.4,307.5 L107.3,307.4 L107.2,307.3 L107.1,307.2 L107.1,307.1 L107.0,306.9 L106.9,306.8 L106.8,306.7 L106.8,306.5 L106.8,306.4 L106.7,306.2 L106.7,306.1 L106.7,305.9 L106.7,305.8 L106.7,305.6 L106.8,305.5 L106.9,305.3 L107.0,305.2 L107.1,305.1 L107.2,304.9 L107.3,304.8 L107.4,304.7 L107.5,304.6 L107.6,304.5 L107.7,304.4 L107.8,304.3 L107.9,304.3 L108.1,304.2 L108.2,304.1 L108.3,304.0 L108.4,304.0 L108.5,303.9 L108.6,303.9 L108.7,303.8 L108.8,303.7 L108.9,303.7 L109.0,303.6 L109.1,303.6 L109.2,303.5 L109.3,303.5 L109.4,303.5 L109.5,303.4 L109.6,303.4 L109.7,303.4 L109.8,303.3 L109.9,303.3 L110.0,303.3 L110.1,303.3 L110.2,303.3 L110.3,303.3 L110.4,303.2 L110.5,303.2 L110.6,303.2 L110.7,303.2 L110.8,303.2 L111.0,303.2 L111.1,303.2 L111.2,303.2 L111.3,303.2 L111.4,303.2 L111.5,303.3 L111.6,303.3 L111.7,303.3 L111.8,303.3 L111.9,303.4 L112.0,303.4 L112.2,303.4 L112.3,303.5 L112.4,303.5 L112.5,303.5 L112.6,303.6 L112.7,303.6 L112.9,303.7 L113.0,303.7 L113.1,303.8 L113.2,303.9 L113.3,304.0 L113.4,304.1 L113.5,304.2 L113.5,304.3 L113.6,304.4 L113.6,304.5 L113.7,304.7 L113.7,304.8 L113.7,304.9 L113.8,305.0 L113.8,305.2 L113.8,305.3 L113.8,305.4 L113.8,305.5 L113.8,305.7 L113.8,305.8Z M113.1,305.9 L113.1,306.0 L113.1,306.1 L113.1,306.2 L113.1,306.3 L113.1,306.4 L113.0,306.5 L113.0,306.6 L113.0,306.7 L112.9,306.8 L112.9,306.9 L112.8,306.9 L112.7,307.0 L112.6,307.1 L112.6,307.1 L112.5,307.2 L112.4,307.3 L112.3,307.3 L112.2,307.3 L112.2,307.4 L112.1,307.4 L112.0,307.5 L112.0,307.5 L111.9,307.6 L111.8,307.6 L111.8,307.7 L111.7,307.7 L111.6,307.8 L111.6,307.8 L111.5,307.8 L111.4,307.9 L111.3,307.9 L111.2,307.9 L111.2,307.9 L111.1,307.9 L111.0,307.9 L110.9,307.9 L110.8,307.9 L110.8,307.9 L110.7,307.9 L110.6,307.9 L110.5,307.8 L110.4,307.8 L110.4,307.8 L110.3,307.8 L110.2,307.8 L110.1,307.8 L110.1,307.8 L110.0,307.8 L109.9,307.8 L109.8,307.8 L109.7,307.8 L109.6,307.8 L109.5,307.8 L109.5,307.8 L109.4,307.8 L109.3,307.8 L109.2,307.7 L109.1,307.7 L109.0,307.7 L108.9,307.6 L108.8,307.6 L108.8,307.5 L108.7,307.5 L108.6,307.4 L108.5,307.3 L108.4,307.3 L108.4,307.2 L108.3,307.1 L108.2,307.0 L108.2,306.9 L108.1,306.9 L108.0,306.8 L108.0,306.7 L107.9,306.6 L107.9,306.5 L107.8,306.4 L107.8,306.3 L107.8,306.2 L107.8,306.0 L107.8,305.9 L107.8,305.8 L107.8,305.7 L107.9,305.6 L107.9,305.5 L108.0,305.4 L108.1,305.3 L108.1,305.2 L108.2,305.2 L108.3,305.1 L108.3,305.0 L108.4,304.9 L108.5,304.9 L108.6,304.8 L108.6,304.7 L108.7,304.7 L108.8,304.6 L108.8,304.5 L108.9,304.5 L109.0,304.4 L109.0,304.4 L109.1,304.3 L109.2,304.3 L109.3,304.3 L109.4,304.3 L109.5,304.2 L109.5,304.2 L109.6,304.2 L109.7,304.2 L109.8,304.2 L109.9,304.2 L109.9,304.2 L110.0,304.1 L110.1,304.1 L110.2,304.1 L110.2,304.1 L110.3,304.1 L110.4,304.0 L110.4,304.0 L110.5,304.0 L110.6,304.0 L110.7,304.0 L110.8,303.9 L110.8,303.9 L110.9,304.0 L111.0,304.0 L111.1,304.0 L111.1,304.0 L111.2,304.0 L111.3,304.1 L111.4,304.1 L111.4,304.2 L111.5,304.2 L111.6,304.2 L111.6,304.2 L111.7,304.3 L111.8,304.3 L111.9,304.3 L111.9,304.4 L112.0,304.4 L112.1,304.4 L112.2,304.4 L112.3,304.5 L112.4,304.5 L112.5,304.5 L112.6,304.6 L112.7,304.7 L112.7,304.7 L112.8,304.8 L112.9,304.9 L112.9,305.0 L112.9,305.1 L113.0,305.2 L113.0,305.3 L113.0,305.4 L113.0,305.5 L113.0,305.5 L113.1,305.6 L113.1,305.7 L113.1,305.8Z" fill="none" stroke="#222" stroke-width="0.8" stroke-linejoin="round"/><path d="M157.7,274.0 L157.6,274.3 L157.5,274.5 L157.4,274.8 L157.3,275.0 L157.2,275.2 L157.1,275.5 L157.0,275.7 L156.9,275.9 L156.9,276.2 L156.8,276.4 L156.7,276.6 L156.6,276.8 L156.5,277.1 L156.3,277.2 L156.1,277.4 L155.9,277.5 L155.7,277.7 L155.5,277.8 L155.3,277.9 L155.1,278.1 L154.9,278.2 L154.7,278.3 L154.5,278.5 L154.3,278.6 L154.1,278.7 L154.0,278.8 L153.8,279.0 L153.6,279.1 L153.4,279.2 L153.2,279.3 L153.0,279.5 L152.8,279.6 L152.6,279.7 L152.4,279.9 L152.2,280.0 L152.0,280.1 L151.7,280.2 L151.5,280.2 L151.2,280.2 L151.0,280.3 L150.8,280.3 L150.5,280.4 L150.2,280.4 L150.0,280.5 L149.7,280.5 L149.4,280.5 L149.1,280.6 L148.8,280.6 L148.5,280.7 L148.2,280.7 L147.9,280.8 L147.5,280.9 L147.1,280.9 L146.7,281.0 L146.3,281.1 L145.8,281.1 L145.2,281.3 L144.5,281.6 L143.6,282.0 L142.6,282.4 L141.4,282.9 L140.1,283.3 L138.8,283.7 L138.3,283.2 L138.1,282.6 L138.2,281.9 L138.2,281.2 L138.3,280.5 L138.3,279.8 L138.4,279.2 L138.4,278.7 L138.4,278.1 L138.5,277.5 L138.6,277.0 L139.2,276.4 L139.7,275.8 L140.2,275.3 L140.6,274.8 L141.0,274.4 L141.3,274.0 L141.7,273.6 L142.0,273.3 L142.3,273.0 L142.5,272.7 L142.8,272.4 L143.1,272.1 L143.4,271.8 L143.6,271.6 L143.8,271.4 L144.1,271.1 L144.3,270.9 L144.5,270.7 L144.7,270.5 L144.9,270.3 L145.1,270.1 L145.3,269.9 L145.5,269.7 L145.7,269.5 L145.9,269.3 L146.1,269.1 L146.3,268.9 L146.5,268.7 L146.7,268.5 L146.9,268.3 L147.1,268.1 L147.3,267.9 L147.5,267.7 L147.7,267.5 L148.0,267.4 L148.2,267.3 L148.5,267.2 L148.7,267.0 L149.0,266.9 L149.3,266.8 L149.5,266.7 L149.8,266.6 L150.1,266.4 L150.4,266.3 L150.7,266.2 L151.0,266.0 L151.3,265.9 L151.6,265.8 L152.0,265.6 L152.4,265.4 L152.7,265.3 L153.1,265.1 L153.6,264.9 L153.9,265.1 L154.2,265.3 L154.5,265.5 L154.8,265.7 L155.1,266.0 L155.4,266.2 L155.7,266.4 L156.0,266.6 L156.3,266.8 L156.5,267.0 L156.8,267.2 L157.1,267.4 L157.3,267.7 L157.4,268.1 L157.5,268.4 L157.6,268.8 L157.7,269.1 L157.8,269.5 L157.9,269.8 L157.9,270.1 L158.0,270.4 L158.1,270.7 L158.2,271.0 L158.2,271.3 L158.3,271.6 L158.4,271.9 L158.3,272.2 L158.2,272.6 L158.1,272.9 L158.0,273.2 L157.9,273.5 L157.8,273.7Z M156.2,273.5 L156.2,273.7 L156.2,273.9 L156.2,274.1 L156.2,274.2 L156.1,274.4 L156.1,274.6 L156.0,274.8 L156.0,274.9 L155.9,275.1 L155.9,275.3 L155.8,275.4 L155.7,275.6 L155.6,275.7 L155.5,275.9 L155.3,276.0 L155.2,276.1 L155.0,276.2 L154.9,276.3 L154.8,276.4 L154.6,276.5 L154.5,276.6 L154.4,276.7 L154.2,276.8 L154.1,276.9 L154.0,277.0 L153.8,277.1 L153.7,277.2 L153.6,277.3 L153.4,277.4 L153.3,277.5 L153.1,277.6 L153.0,277.7 L152.8,277.8 L152.7,277.9 L152.5,278.0 L152.4,278.0 L152.2,278.0 L152.0,278.1 L151.8,278.1 L151.6,278.1 L151.5,278.0 L151.3,278.0 L151.1,278.0 L150.9,277.9 L150.8,277.9 L150.6,277.8 L150.4,277.8 L150.3,277.7 L150.1,277.6 L150.0,277.6 L149.8,277.5 L149.6,277.5 L149.4,277.4 L149.3,277.4 L149.1,277.4 L148.9,277.3 L148.6,277.3 L148.4,277.4 L148.0,277.4 L147.7,277.5 L147.3,277.5 L146.9,277.6 L146.4,277.6 L146.2,277.5 L146.1,277.2 L146.0,277.0 L145.9,276.7 L145.9,276.5 L145.8,276.2 L145.8,275.9 L145.7,275.7 L145.7,275.4 L145.7,275.2 L145.7,274.9 L145.8,274.7 L145.9,274.4 L146.0,274.2 L146.1,274.0 L146.2,273.7 L146.3,273.5 L146.3,273.3 L146.4,273.1 L146.5,272.9 L146.6,272.7 L146.6,272.5 L146.7,272.3 L146.8,272.2 L146.9,272.0 L147.0,271.8 L147.1,271.6 L147.2,271.5 L147.4,271.3 L147.5,271.2 L147.6,271.1 L147.8,270.9 L147.9,270.8 L148.0,270.7 L148.2,270.6 L148.3,270.4 L148.5,270.3 L148.6,270.2 L148.7,270.1 L148.9,270.0 L149.0,269.9 L149.1,269.8 L149.3,269.6 L149.4,269.5 L149.5,269.4 L149.7,269.3 L149.8,269.2 L150.0,269.1 L150.2,269.0 L150.3,268.9 L150.5,268.8 L150.7,268.7 L150.9,268.7 L151.1,268.6 L151.3,268.6 L151.4,268.6 L151.6,268.5 L151.8,268.5 L152.0,268.5 L152.2,268.6 L152.4,268.6 L152.6,268.6 L152.8,268.6 L153.0,268.7 L153.2,268.8 L153.3,268.9 L153.5,269.0 L153.7,269.1 L153.8,269.3 L154.0,269.4 L154.1,269.5 L154.3,269.6 L154.4,269.7 L154.6,269.8 L154.8,269.9 L154.9,270.0 L155.1,270.1 L155.2,270.2 L155.3,270.4 L155.4,270.5 L155.5,270.7 L155.7,270.8 L155.8,271.0 L155.8,271.2 L155.9,271.3 L156.0,271.5 L156.1,271.7 L156.2,271.9 L156.2,272.0 L156.3,272.2 L156.3,272.4 L156.3,272.6 L156.3,272.8 L156.3,273.0 L156.3,273.2 L156.3,273.3Z M155.0,273.3 L155.0,273.4 L155.0,273.5 L154.9,273.6 L154.9,273.8 L154.9,273.9 L154.9,274.0 L154.9,274.1 L154.9,274.2 L154.8,274.3 L154.8,274.5 L154.8,274.6 L154.7,274.7 L154.7,274.8 L154.6,274.9 L154.6,275.0 L154.5,275.1 L154.4,275.2 L154.3,275.3 L154.3,275.4 L154.2,275.5 L154.1,275.6 L154.0,275.6 L153.9,275.7 L153.8,275.8 L153.7,275.8 L153.6,275.9 L153.5,276.0 L153.3,276.0 L153.2,276.0 L153.1,276.1 L153.0,276.1 L152.9,276.2 L152.8,276.2 L152.7,276.2 L152.6,276.3 L152.4,276.3 L152.3,276.3 L152.2,276.3 L152.1,276.3 L152.0,276.3 L151.8,276.3 L151.7,276.3 L151.6,276.3 L151.5,276.3 L151.4,276.3 L151.2,276.3 L151.1,276.2 L151.0,276.2 L150.9,276.2 L150.8,276.1 L150.7,276.1 L150.6,276.0 L150.4,276.0 L150.3,275.9 L150.2,275.9 L150.1,275.8 L150.0,275.8 L149.9,275.7 L149.7,275.7 L149.6,275.7 L149.4,275.7 L149.2,275.6 L149.0,275.6 L148.9,275.5 L148.8,275.4 L148.8,275.2 L148.7,275.1 L148.7,275.0 L148.6,274.8 L148.5,274.7 L148.5,274.6 L148.4,274.4 L148.4,274.3 L148.3,274.2 L148.3,274.0 L148.3,273.9 L148.3,273.7 L148.3,273.6 L148.3,273.4 L148.4,273.3 L148.4,273.1 L148.4,273.0 L148.4,272.9 L148.5,272.7 L148.5,272.6 L148.6,272.5 L148.6,272.3 L148.7,272.2 L148.8,272.1 L148.8,272.0 L148.9,271.9 L149.0,271.8 L149.1,271.7 L149.2,271.6 L149.3,271.5 L149.3,271.4 L149.4,271.3 L149.5,271.2 L149.6,271.1 L149.7,271.0 L149.8,271.0 L149.9,270.9 L150.0,270.8 L150.1,270.7 L150.2,270.7 L150.3,270.6 L150.4,270.5 L150.5,270.5 L150.6,270.4 L150.8,270.4 L150.9,270.3 L151.0,270.3 L151.1,270.3 L151.2,270.2 L151.4,270.2 L151.5,270.2 L151.6,270.2 L151.7,270.2 L151.8,270.2 L152.0,270.2 L152.1,270.2 L152.2,270.2 L152.3,270.2 L152.4,270.2 L152.6,270.2 L152.7,270.2 L152.8,270.2 L153.0,270.2 L153.1,270.3 L153.2,270.3 L153.3,270.4 L153.4,270.4 L153.5,270.5 L153.7,270.5 L153.8,270.6 L153.9,270.6 L154.0,270.7 L154.1,270.7 L154.2,270.8 L154.3,270.9 L154.4,271.0 L154.5,271.1 L154.6,271.2 L154.7,271.3 L154.7,271.4 L154.8,271.5 L154.8,271.7 L154.9,271.8 L154.9,271.9 L155.0,272.0 L155.0,272.2 L155.0,272.3 L155.0,272.4 L155.0,272.5 L155.0,272.7 L155.0,272.8 L155.0,272.9 L155.0,273.0 L155.0,273.2Z M154.3,273.1 L154.3,273.2 L154.3,273.3 L154.3,273.3 L154.3,273.4 L154.3,273.5 L154.2,273.6 L154.2,273.7 L154.2,273.7 L154.1,273.8 L154.1,273.9 L154.1,274.0 L154.0,274.0 L154.0,274.1 L153.9,274.2 L153.9,274.2 L153.8,274.3 L153.8,274.3 L153.7,274.4 L153.6,274.4 L153.6,274.5 L153.5,274.5 L153.5,274.6 L153.4,274.6 L153.3,274.7 L153.3,274.7 L153.2,274.8 L153.1,274.8 L153.1,274.8 L153.0,274.9 L152.9,274.9 L152.9,274.9 L152.8,274.9 L152.7,275.0 L152.7,275.0 L152.6,275.0 L152.5,275.0 L152.4,275.0 L152.4,275.0 L152.3,275.0 L152.2,275.0 L152.1,275.0 L152.0,275.0 L152.0,275.0 L151.9,275.0 L151.8,275.0 L151.8,275.0 L151.7,275.0 L151.6,274.9 L151.5,274.9 L151.5,274.9 L151.4,274.9 L151.3,274.8 L151.2,274.8 L151.2,274.8 L151.1,274.8 L151.0,274.7 L150.9,274.7 L150.9,274.7 L150.8,274.6 L150.7,274.6 L150.6,274.6 L150.5,274.5 L150.4,274.5 L150.4,274.4 L150.3,274.4 L150.3,274.3 L150.3,274.2 L150.2,274.1 L150.2,274.0 L150.2,273.9 L150.2,273.8 L150.1,273.8 L150.1,273.7 L150.1,273.6 L150.1,273.5 L150.1,273.4 L150.1,273.3 L150.1,273.3 L150.1,273.2 L150.1,273.1 L150.1,273.0 L150.1,272.9 L150.1,272.9 L150.1,272.8 L150.1,272.7 L150.1,272.6 L150.1,272.5 L150.1,272.4 L150.2,272.4 L150.2,272.3 L150.2,272.2 L150.3,272.1 L150.3,272.0 L150.4,272.0 L150.4,271.9 L150.5,271.9 L150.5,271.8 L150.6,271.7 L150.7,271.7 L150.7,271.6 L150.8,271.6 L150.9,271.6 L151.0,271.5 L151.0,271.5 L151.1,271.5 L151.2,271.4 L151.3,271.4 L151.3,271.4 L151.4,271.4 L151.5,271.3 L151.5,271.3 L151.6,271.3 L151.7,271.3 L151.8,271.2 L151.8,271.2 L151.9,271.2 L152.0,271.2 L152.0,271.1 L152.1,271.1 L152.2,271.1 L152.3,271.1 L152.4,271.1 L152.4,271.1 L152.5,271.1 L152.6,271.1 L152.7,271.1 L152.8,271.1 L152.9,271.1 L152.9,271.1 L153.0,271.2 L153.1,271.2 L153.1,271.3 L153.2,271.3 L153.3,271.4 L153.3,271.4 L153.4,271.5 L153.4,271.5 L153.5,271.6 L153.5,271.7 L153.6,271.7 L153.6,271.8 L153.6,271.9 L153.7,271.9 L153.7,272.0 L153.8,272.1 L153.8,272.1 L153.8,272.2 L153.9,272.2 L153.9,272.3 L154.0,272.4 L154.0,272.4 L154.1,272.5 L154.1,272.6 L154.1,272.6 L154.2,272.7 L154.2,272.8 L154.2,272.9 L154.2,272.9 L154.3,273.0Z M153.4,272.9 L153.4,273.0 L153.4,273.0 L153.4,273.1 L153.4,273.1 L153.4,273.1 L153.4,273.2 L153.3,273.2 L153.3,273.2 L153.3,273.3 L153.3,273.3 L153.3,273.3 L153.3,273.4 L153.2,273.4 L153.2,273.4 L153.2,273.5 L153.2,273.5 L153.2,273.5 L153.1,273.6 L153.1,273.6 L153.1,273.6 L153.1,273.7 L153.0,273.7 L153.0,273.7 L153.0,273.7 L153.0,273.8 L152.9,273.8 L152.9,273.8 L152.8,273.8 L152.8,273.8 L152.8,273.8 L152.7,273.8 L152.7,273.8 L152.7,273.8 L152.6,273.9 L152.6,273.9 L152.6,273.9 L152.5,273.9 L152.5,273.9 L152.4,273.9 L152.4,273.9 L152.4,273.9 L152.3,273.9 L152.3,273.9 L152.3,273.9 L152.2,273.9 L152.2,273.9 L152.1,273.9 L152.1,273.9 L152.1,273.9 L152.0,273.8 L152.0,273.8 L152.0,273.8 L151.9,273.8 L151.9,273.8 L151.9,273.7 L151.8,273.7 L151.8,273.7 L151.8,273.7 L151.8,273.7 L151.7,273.6 L151.7,273.6 L151.6,273.6 L151.6,273.6 L151.6,273.5 L151.6,273.5 L151.5,273.5 L151.5,273.5 L151.5,273.4 L151.5,273.4 L151.4,273.3 L151.4,273.3 L151.4,273.3 L151.4,273.2 L151.4,273.2 L151.4,273.1 L151.4,273.1 L151.4,273.1 L151.4,273.0 L151.4,273.0 L151.4,272.9 L151.4,272.9 L151.4,272.9 L151.4,272.8 L151.5,272.8 L151.5,272.8 L151.5,272.7 L151.5,272.7 L151.5,272.6 L151.5,272.6 L151.5,272.6 L151.5,272.5 L151.5,272.5 L151.5,272.5 L151.6,272.4 L151.6,272.4 L151.6,272.4 L151.6,272.3 L151.7,272.3 L151.7,272.3 L151.7,272.3 L151.8,272.2 L151.8,272.2 L151.8,272.2 L151.9,272.2 L151.9,272.2 L151.9,272.1 L151.9,272.1 L152.0,272.1 L152.0,272.1 L152.0,272.1 L152.1,272.0 L152.1,272.0 L152.1,272.0 L152.2,272.0 L152.2,272.0 L152.3,272.0 L152.3,272.0 L152.3,272.0 L152.4,272.0 L152.4,272.0 L152.4,272.0 L152.5,272.0 L152.5,272.0 L152.6,272.0 L152.6,272.0 L152.6,272.0 L152.7,272.0 L152.7,272.0 L152.7,272.1 L152.8,272.1 L152.8,272.1 L152.8,272.1 L152.9,272.1 L152.9,272.1 L152.9,272.1 L153.0,272.2 L153.0,272.2 L153.0,272.2 L153.1,272.2 L153.1,272.2 L153.1,272.3 L153.2,272.3 L153.2,272.3 L153.2,272.4 L153.2,272.4 L153.2,272.4 L153.2,272.5 L153.3,272.5 L153.3,272.5 L153.3,272.6 L153.3,272.6 L153.3,272.7 L153.3,272.7 L153.3,272.7 L153.4,272.8 L153.4,272.8 L153.4,272.8 L153.4,272.9 L153.4,272.9Z" fill="none" stroke="#222" stroke-width="0.8" stroke-linejoin="round"/><path d="M112.0,314.7 L111.8,315.3 L111.1,315.4 L110.4,314.6 L110.2,313.8 L109.9,313.2 L109.5,312.3 L109.8,311.7 L110.6,312.0 L111.2,312.4 L111.8,312.6 L112.6,313.2 L112.7,314.0 L112.3,314.4Z M94.5,314.1 L93.7,313.9 L93.0,313.3 L92.4,313.1 L91.6,312.6 L91.2,311.7 L91.8,311.1 L92.3,310.9 L92.7,310.4 L93.4,310.1 L94.1,310.8 L94.3,311.7 L94.4,312.4 L94.8,313.2Z M99.3,305.0 L99.1,304.5 L99.2,303.8 L100.0,303.7 L100.7,304.0 L101.1,304.2 L101.8,304.4 L102.3,304.9 L101.8,305.5 L101.1,305.7 L100.7,305.9 L100.0,306.3 L99.3,306.1 L99.1,305.4Z M110.6,316.4 L110.3,316.3 L110.3,315.8 L110.5,315.3 L110.6,314.9 L110.8,314.3 L111.1,314.0 L111.4,314.3 L111.5,314.7 L111.7,314.8 L111.9,315.3 L111.6,315.8 L111.2,316.0 L111.0,316.1Z M93.5,307.6 L93.2,307.0 L92.8,306.6 L92.4,306.0 L92.7,305.3 L93.5,305.1 L94.0,305.2 L94.6,305.0 L95.4,305.1 L95.6,305.8 L95.2,306.5 L94.9,306.9 L94.7,307.7 L94.1,308.1Z M106.8,302.0 L106.7,301.8 L106.9,301.4 L107.0,301.1 L107.1,300.8 L107.4,300.4 L107.7,300.5 L107.8,300.7 L107.9,300.8 L108.1,301.0 L108.0,301.3 L107.7,301.6 L107.4,301.7 L107.2,301.9Z M117.0,300.3 L116.5,300.5 L116.0,300.3 L115.9,299.7 L116.2,299.2 L116.4,298.8 L116.6,298.2 L117.1,298.0 L117.6,298.4 L117.7,298.9 L118.1,299.2 L118.4,299.8 L118.1,300.3 L117.5,300.4Z M111.5,311.3 L111.2,311.5 L110.8,311.3 L110.8,310.8 L111.0,310.4 L111.1,310.1 L111.2,309.6 L111.6,309.5 L111.9,309.8 L112.0,310.2 L112.2,310.4 L112.4,310.9 L112.2,311.3 L111.8,311.3Z M104.0,308.8 L103.7,308.8 L103.4,308.5 L103.2,308.2 L102.9,308.0 L102.6,307.6 L102.8,307.3 L103.1,307.3 L103.3,307.2 L103.6,307.1 L104.0,307.3 L104.1,307.7 L104.0,308.0 L104.1,308.3Z M116.1,305.4 L115.6,305.0 L114.9,304.6 L114.5,303.6 L115.2,302.7 L116.0,302.4 L116.6,301.9 L117.5,301.3 L118.3,301.7 L118.3,302.9 L118.0,303.8 L118.0,304.7 L117.7,305.8 L116.8,306.1Z M113.1,300.9 L112.6,301.0 L112.2,300.4 L112.1,299.8 L111.8,299.3 L111.5,298.6 L111.7,298.1 L112.2,298.2 L112.6,298.3 L113.0,298.3 L113.5,298.7 L113.6,299.4 L113.3,299.9 L113.2,300.3Z M113.9,302.8 L113.9,303.7 L113.3,304.3 L112.2,304.0 L111.6,303.2 L111.1,302.8 L110.2,302.1 L110.2,301.2 L111.2,300.9 L112.0,300.9 L112.7,300.7 L113.8,300.6 L114.5,301.4 L114.2,302.3Z M109.3,300.6 L108.8,300.3 L108.8,299.7 L108.7,299.3 L108.5,298.8 L108.7,298.3 L109.2,298.2 L109.7,298.4 L110.0,298.5 L110.6,298.7 L110.8,299.2 L110.4,299.6 L110.0,299.9 L109.8,300.2Z M119.2,310.6 L118.6,310.3 L118.2,309.6 L117.9,309.2 L117.4,308.6 L117.3,307.8 L117.8,307.5 L118.3,307.5 L118.7,307.3 L119.3,307.2 L119.7,307.9 L119.6,308.7 L119.5,309.2 L119.5,310.0Z M94.7,314.1 L94.4,314.4 L93.8,314.6 L93.2,314.2 L93.1,313.4 L93.2,312.9 L93.0,312.3 L93.1,311.6 L93.8,311.6 L94.3,312.2 L94.7,312.5 L95.3,312.8 L95.6,313.5 L95.2,314.0Z M93.0,303.6 L93.1,303.5 L93.1,303.2 L93.4,303.0 L93.9,303.1 L94.1,303.2 L94.4,303.3 L94.7,303.5 L94.7,303.7 L94.2,303.9 L93.9,303.9 L93.6,304.0 L93.1,304.1 L92.9,303.9Z M105.0,308.0 L104.5,307.7 L103.9,307.5 L103.7,306.5 L104.3,305.7 L104.9,305.3 L105.4,304.7 L106.1,304.1 L106.7,304.6 L106.6,305.6 L106.5,306.4 L106.6,307.3 L106.3,308.3 L105.5,308.5Z M104.7,307.1 L104.6,308.0 L103.8,308.5 L102.9,308.0 L102.4,307.4 L101.7,307.0 L101.0,306.3 L101.4,305.4 L102.3,305.1 L103.0,305.0 L103.8,304.5 L104.8,304.7 L105.1,305.6 L104.7,306.4Z M93.5,312.2 L93.1,312.6 L92.5,312.5 L92.1,311.6 L92.2,310.7 L92.2,310.0 L92.2,309.1 L92.5,308.5 L93.2,309.0 L93.6,309.8 L94.0,310.2 L94.5,311.0 L94.5,311.9 L94.0,312.2Z M91.9,310.2 L91.6,309.4 L92.1,308.6 L92.3,308.0 L92.5,307.1 L93.3,306.4 L94.1,306.7 L94.4,307.3 L94.8,307.6 L95.4,308.2 L95.0,309.2 L94.1,309.5 L93.5,309.7 L92.8,310.2Z M97.8,303.6 L98.0,303.3 L98.0,303.0 L98.3,302.6 L98.9,302.6 L99.2,302.9 L99.5,303.0 L99.9,303.2 L100.0,303.6 L99.5,303.9 L99.0,303.9 L98.7,304.0 L98.1,304.2 L97.7,304.0Z M100.7,301.8 L101.4,301.2 L101.6,300.7 L102.2,299.9 L103.3,299.8 L104.0,300.5 L104.3,301.1 L105.0,301.5 L105.3,302.3 L104.4,302.9 L103.3,302.9 L102.6,302.9 L101.5,303.1 L100.5,302.6Z M108.4,314.9 L107.9,315.4 L107.1,315.3 L106.8,314.3 L107.0,313.5 L106.9,312.8 L106.9,311.8 L107.6,311.4 L108.3,311.9 L108.7,312.5 L109.4,312.8 L109.9,313.6 L109.7,314.5 L108.9,314.7Z M104.9,314.8 L104.6,315.0 L104.3,314.7 L104.4,314.2 L104.5,313.9 L104.5,313.5 L104.7,313.0 L105.0,313.0 L105.2,313.4 L105.4,313.6 L105.6,313.9 L105.7,314.3 L105.4,314.6 L105.1,314.7Z M99.7,313.2 L98.8,313.2 L98.5,312.5 L98.9,311.6 L99.4,311.1 L99.6,310.4 L100.3,309.7 L101.0,310.0 L101.3,310.9 L101.5,311.4 L101.9,312.1 L101.8,313.0 L100.9,313.3 L100.3,313.1Z M103.3,304.6 L103.3,305.0 L103.0,305.0 L102.5,304.6 L102.2,304.3 L101.9,304.0 L101.5,303.6 L101.6,303.3 L102.1,303.4 L102.5,303.5 L102.8,303.5 L103.3,303.7 L103.5,304.1 L103.4,304.4Z M117.0,299.9 L116.6,299.6 L116.0,299.4 L115.8,298.6 L116.3,297.9 L116.9,297.7 L117.3,297.3 L117.9,296.8 L118.5,297.1 L118.5,298.0 L118.3,298.6 L118.4,299.3 L118.1,300.2 L117.4,300.4Z M101.2,316.4 L100.7,315.9 L100.9,315.1 L101.0,314.6 L100.9,314.0 L101.3,313.3 L102.0,313.3 L102.4,313.7 L102.7,313.9 L103.3,314.3 L103.3,315.0 L102.8,315.5 L102.2,315.7 L101.8,316.1Z M93.4,305.9 L92.8,305.3 L93.1,304.3 L93.7,303.7 L93.9,303.0 L94.5,302.2 L95.4,302.3 L95.8,303.1 L96.1,303.7 L96.7,304.3 L96.7,305.3 L95.8,305.8 L95.0,305.7 L94.3,305.8Z M117.4,312.3 L117.1,311.5 L117.9,310.9 L118.8,310.7 L119.5,310.4 L120.5,310.0 L121.4,310.4 L121.3,311.2 L120.9,311.9 L121.0,312.5 L120.5,313.4 L119.4,313.5 L118.7,313.0 L118.2,312.6Z M101.3,301.3 L101.0,301.6 L100.9,301.9 L100.5,302.3 L100.0,302.1 L99.7,301.7 L99.5,301.4 L99.2,301.1 L99.2,300.6 L99.7,300.5 L100.2,300.6 L100.6,300.5 L101.2,300.6 L101.5,300.9Z M97.0,309.5 L97.2,309.3 L97.3,309.1 L97.5,308.8 L97.9,308.7 L98.2,308.9 L98.3,309.1 L98.6,309.2 L98.8,309.5 L98.5,309.7 L98.0,309.8 L97.7,309.8 L97.3,310.0 L97.0,309.8Z M116.1,310.7 L115.6,310.7 L115.5,309.9 L115.7,309.1 L115.8,308.5 L115.9,307.6 L116.4,307.1 L116.9,307.5 L117.1,308.0 L117.5,308.2 L117.8,308.8 L117.5,309.7 L117.0,310.0 L116.6,310.2Z M117.4,316.9 L116.7,316.5 L116.2,315.9 L115.6,315.6 L114.9,314.9 L114.7,313.9 L115.1,313.6 L115.5,313.4 L115.8,312.9 L116.4,312.9 L117.0,313.8 L117.1,314.7 L117.3,315.3 L117.7,316.3Z" fill="none" stroke="#444" stroke-width="0.6" stroke-linejoin="round"/><path d="M108.1,310.4 L108.3,309.9 L108.6,309.5 L108.6,309.1 L109.1,308.6 L109.6,308.8 L109.9,309.3 L110.1,309.5 L110.5,309.9 L110.5,310.4 L109.9,310.7 L109.4,310.6 L109.0,310.8 L108.4,310.9Z M111.1,305.2 L110.7,305.2 L110.3,305.0 L109.9,304.9 L109.5,304.8 L109.2,304.3 L109.4,304.0 L109.7,303.9 L109.8,303.6 L110.2,303.3 L110.6,303.6 L110.8,304.0 L110.9,304.4 L111.1,304.8Z M109.0,303.7 L108.5,303.7 L108.1,304.0 L107.4,303.9 L107.0,303.3 L107.1,302.7 L107.1,302.2 L107.0,301.6 L107.3,301.2 L108.0,301.5 L108.5,302.0 L108.9,302.3 L109.5,302.9 L109.6,303.5Z M112.4,308.6 L111.8,308.3 L111.4,307.7 L111.1,307.4 L110.5,306.9 L110.4,306.1 L110.8,305.8 L111.2,305.8 L111.4,305.4 L112.0,305.4 L112.4,306.1 L112.4,306.8 L112.4,307.3 L112.6,308.0Z M109.3,306.1 L109.0,305.6 L109.1,305.0 L109.1,304.5 L109.0,303.9 L109.3,303.3 L109.9,303.3 L110.2,303.6 L110.6,303.7 L111.0,303.9 L111.0,304.6 L110.6,305.1 L110.2,305.3 L109.9,305.8Z M107.7,304.7 L107.5,304.7 L107.1,304.7 L106.9,304.3 L107.0,303.8 L107.2,303.6 L107.3,303.2 L107.5,302.8 L107.8,302.9 L108.0,303.4 L108.1,303.7 L108.3,304.1 L108.4,304.6 L108.0,304.8Z M110.0,307.3 L109.5,306.9 L109.2,306.3 L109.0,305.9 L108.6,305.3 L108.6,304.6 L109.1,304.4 L109.5,304.5 L109.9,304.2 L110.4,304.3 L110.7,305.0 L110.5,305.7 L110.4,306.1 L110.3,306.8Z" fill="none" stroke="#000" stroke-width="0.9" stroke-linejoin="round"/><path d="M133.3,241.0 L133.1,241.8 L132.4,242.4 L131.5,242.6 L130.6,242.4 L129.9,241.8 L129.7,241.0 L129.9,240.2 L130.6,239.6 L131.5,239.4 L132.4,239.6 L133.1,240.2Z" fill="none" stroke="#444" stroke-width="0.9" stroke-linejoin="round"/><path d="M93.0,313.0 L106.0,313.0 M93.0,314.1 L106.0,314.1" fill="none" stroke="#000" stroke-width="0.9" stroke-linejoin="round"/><path d="M106.0,313.6 L119.0,313.6 M106.0,314.4 L117.0,314.4" fill="none" stroke="#333" stroke-width="0.7" stroke-linejoin="round"/><path d="M93.6,299.0 L93.6,313.0 M94.6,301.0 L94.6,313.0" fill="none" stroke="#222" stroke-width="0.7" stroke-linejoin="round"/></g>
<g clip-path="url(#cp1)"><path d="M269.8,242.9 L269.8,243.2 L269.7,243.4 L269.6,243.7 L269.5,243.9 L269.4,244.2 L269.4,244.4 L269.3,244.7 L269.2,244.9 L269.1,245.2 L269.0,245.4 L268.8,245.6 L268.7,245.9 L268.6,246.1 L268.5,246.3 L268.3,246.5 L268.2,246.7 L268.0,246.9 L267.8,247.1 L267.7,247.3 L267.5,247.5 L267.3,247.7 L267.1,247.8 L266.9,248.0 L266.7,248.2 L266.5,248.4 L266.3,248.5 L266.1,248.7 L265.9,248.8 L265.7,249.0 L265.5,249.2 L265.2,249.2 L265.0,249.3 L264.7,249.4 L264.4,249.4 L264.2,249.5 L263.9,249.5 L263.7,249.5 L263.4,249.6 L263.1,249.6 L262.9,249.6 L262.6,249.6 L262.3,249.6 L262.1,249.6 L261.8,249.5 L261.6,249.4 L261.3,249.3 L261.1,249.2 L260.9,249.1 L260.6,249.0 L260.4,248.9 L260.2,248.8 L259.9,248.7 L259.7,248.5 L259.5,248.4 L259.3,248.3 L259.1,248.2 L258.8,248.0 L258.6,247.8 L258.4,247.7 L258.3,247.5 L258.1,247.3 L257.9,247.2 L257.7,247.0 L257.5,246.8 L257.3,246.6 L257.2,246.4 L257.0,246.2 L256.8,246.0 L256.6,245.8 L256.5,245.5 L256.3,245.3 L256.2,245.0 L256.2,244.8 L256.1,244.5 L256.0,244.2 L255.9,244.0 L255.9,243.7 L255.8,243.4 L255.8,243.2 L255.7,242.9 L255.7,242.6 L255.8,242.3 L255.9,242.1 L256.0,241.8 L256.1,241.5 L256.1,241.3 L256.2,241.0 L256.3,240.8 L256.5,240.5 L256.6,240.3 L256.7,240.0 L256.8,239.8 L257.0,239.6 L257.2,239.4 L257.4,239.2 L257.5,239.0 L257.7,238.8 L257.9,238.6 L258.1,238.4 L258.3,238.3 L258.5,238.1 L258.6,237.9 L258.8,237.8 L259.0,237.6 L259.2,237.4 L259.5,237.3 L259.7,237.2 L259.9,237.1 L260.2,237.0 L260.4,236.9 L260.7,236.9 L260.9,236.8 L261.1,236.7 L261.4,236.6 L261.6,236.6 L261.9,236.5 L262.1,236.5 L262.4,236.4 L262.6,236.4 L262.9,236.3 L263.1,236.3 L263.4,236.3 L263.7,236.3 L263.9,236.3 L264.2,236.3 L264.5,236.3 L264.7,236.3 L265.0,236.3 L265.3,236.3 L265.6,236.3 L265.9,236.3 L266.2,236.4 L266.4,236.5 L266.7,236.7 L266.9,236.8 L267.2,236.9 L267.4,237.1 L267.7,237.2 L267.9,237.4 L268.2,237.6 L268.4,237.7 L268.7,237.9 L268.9,238.1 L269.1,238.4 L269.2,238.6 L269.4,238.9 L269.5,239.2 L269.6,239.4 L269.7,239.7 L269.9,240.0 L269.9,240.3 L269.9,240.6 L269.9,240.9 L269.9,241.2 L269.9,241.5 L269.9,241.8 L269.9,242.1 L269.9,242.3 L269.8,242.6Z" fill="#000" fill-opacity="0.1" stroke="none"/><path d="M235.0,303.0 L240.0,292.0 L248.0,285.0 L256.0,286.0 L261.0,292.0 L261.0,305.0 L257.0,313.0 L236.0,313.0Z" fill="#000" fill-opacity="0.08" stroke="none"/><path d="M263.0,287.0 L265.5,288.0 L266.8,293.0 L266.3,299.5 L264.0,302.0 L262.5,296.0Z" fill="#000" fill-opacity="0.6" stroke="none"/><path d="M218.0,297.0 L224.2,297.9 L229.5,301.0 L232.6,295.8 L241.0,283.2 L245.3,275.8 L251.6,272.2 L260.0,271.6 L266.3,274.3 L269.5,281.0 L270.5,291.6 L269.5,304.2 L267.4,310.5 L265.3,312.6 L265.0,320.0 L218.0,320.0Z" fill="none" stroke="#222" stroke-width="0.8" stroke-linejoin="round"/><path d="M267.9,299.0 L267.9,299.5 L267.8,300.1 L267.8,300.6 L267.7,301.2 L267.7,301.7 L267.7,302.3 L267.6,302.8 L267.6,303.4 L267.5,304.0 L267.4,304.5 L267.2,305.1 L267.1,305.7 L266.9,306.2 L266.8,306.8 L266.6,307.4 L266.5,308.1 L266.3,308.7 L266.2,309.4 L266.0,310.1 L265.8,310.8 L265.6,311.6 L265.5,312.4 L265.4,313.5 L265.4,314.7 L265.3,315.9 L265.3,317.4 L265.2,319.0 L265.1,320.8 L265.0,322.9 L264.9,325.3 L264.8,328.2 L264.6,331.6 L264.4,335.9 L264.2,341.3 L263.1,345.0 L261.3,345.0 L259.4,345.0 L257.6,345.0 L255.8,345.0 L254.0,345.0 L252.2,345.0 L250.4,345.0 L248.6,345.0 L246.7,345.0 L244.9,345.0 L243.0,345.0 L241.0,345.0 L239.1,345.0 L237.0,345.0 L234.9,345.0 L232.8,345.0 L230.6,345.0 L229.1,343.4 L229.4,339.1 L229.7,335.3 L230.0,332.1 L230.2,329.2 L230.4,326.7 L230.5,324.4 L230.7,322.3 L230.8,320.4 L231.0,318.7 L231.1,317.1 L231.2,315.6 L231.3,314.2 L231.4,312.8 L231.5,311.6 L231.6,310.4 L231.7,309.3 L231.8,308.2 L231.8,307.2 L231.9,306.2 L232.0,305.2 L232.3,304.2 L232.7,303.2 L233.0,302.3 L233.4,301.4 L233.7,300.6 L234.0,299.8 L234.3,299.0 L234.6,298.2 L234.9,297.5 L235.3,296.8 L235.7,296.1 L236.1,295.4 L236.5,294.8 L236.9,294.2 L237.2,293.5 L237.6,292.9 L237.9,292.3 L238.3,291.7 L238.6,291.2 L238.9,290.6 L239.3,290.0 L239.6,289.4 L240.0,288.8 L240.3,288.2 L240.7,287.6 L241.0,287.0 L241.4,286.4 L241.8,285.8 L242.2,285.2 L242.7,284.6 L243.1,284.0 L243.6,283.4 L244.0,282.7 L244.5,282.0 L245.0,281.3 L245.5,280.6 L246.1,279.8 L246.6,279.0 L247.2,278.1 L248.0,277.6 L248.8,277.3 L249.6,276.9 L250.4,276.6 L251.3,276.2 L252.2,275.8 L253.1,275.4 L254.0,275.0 L254.9,275.0 L255.9,275.1 L256.8,275.1 L257.8,275.1 L258.7,275.2 L259.7,275.2 L260.6,275.5 L261.5,276.0 L262.3,276.4 L263.2,276.8 L264.0,277.3 L264.9,277.7 L265.6,278.3 L266.1,279.3 L266.5,280.3 L266.9,281.3 L267.3,282.2 L267.6,283.1 L267.7,284.2 L267.8,285.2 L267.8,286.2 L267.9,287.1 L268.0,288.0 L268.0,288.8 L268.1,289.6 L268.1,290.3 L268.2,291.0 L268.3,291.7 L268.3,292.4 L268.4,293.1 L268.4,293.7 L268.3,294.3 L268.3,295.0 L268.2,295.6 L268.2,296.2 L268.1,296.8 L268.1,297.3 L268.0,297.9 L268.0,298.5Z M266.8,298.6 L266.7,299.1 L266.5,299.6 L266.4,300.0 L266.3,300.5 L266.3,301.0 L266.2,301.4 L266.1,301.9 L266.1,302.4 L266.1,302.9 L266.0,303.4 L265.9,303.9 L265.8,304.4 L265.7,305.0 L265.6,305.5 L265.6,306.1 L265.5,306.6 L265.3,307.2 L265.2,307.8 L265.1,308.5 L264.9,309.1 L264.8,309.8 L264.6,310.6 L264.6,311.5 L264.5,312.5 L264.4,313.6 L264.3,314.8 L264.2,316.2 L264.1,317.7 L264.0,319.4 L263.9,321.4 L263.7,323.9 L263.6,326.8 L263.4,330.4 L263.2,335.0 L262.3,338.2 L260.7,338.3 L259.1,338.4 L257.6,338.5 L256.0,338.7 L254.4,339.0 L252.8,339.3 L251.2,339.6 L249.5,339.9 L247.8,340.3 L246.1,340.6 L244.3,341.0 L242.4,341.3 L240.5,341.6 L238.5,341.8 L236.4,342.1 L234.3,342.2 L232.1,342.4 L230.7,341.0 L231.0,336.8 L231.3,333.3 L231.5,330.1 L231.8,327.3 L232.1,324.8 L232.3,322.5 L232.6,320.5 L232.8,318.6 L233.1,316.9 L233.3,315.3 L233.5,313.8 L233.7,312.5 L233.9,311.2 L234.0,310.0 L234.2,308.9 L234.3,307.9 L234.4,306.9 L234.5,306.0 L234.5,305.1 L234.6,304.2 L234.8,303.3 L235.1,302.5 L235.4,301.6 L235.6,300.8 L235.9,300.1 L236.1,299.3 L236.4,298.6 L236.6,297.9 L236.9,297.2 L237.3,296.6 L237.7,296.0 L238.1,295.4 L238.5,294.8 L238.9,294.2 L239.3,293.7 L239.7,293.2 L240.1,292.7 L240.5,292.2 L240.9,291.7 L241.3,291.3 L241.7,290.8 L242.1,290.4 L242.5,289.9 L242.8,289.5 L243.1,289.0 L243.5,288.5 L243.8,288.0 L244.2,287.5 L244.5,287.0 L244.9,286.5 L245.2,285.9 L245.5,285.3 L245.9,284.7 L246.2,284.0 L246.6,283.3 L247.0,282.5 L247.4,281.7 L247.9,280.8 L248.4,280.0 L249.0,279.4 L249.7,278.9 L250.4,278.5 L251.2,278.1 L251.9,277.7 L252.7,277.3 L253.6,276.9 L254.4,276.5 L255.3,276.6 L256.2,276.6 L257.0,276.7 L257.9,276.8 L258.7,276.9 L259.6,276.9 L260.4,277.3 L261.2,277.7 L262.0,278.2 L262.7,278.6 L263.5,279.0 L264.2,279.3 L264.9,279.8 L265.4,280.8 L265.8,281.6 L266.2,282.4 L266.6,283.2 L267.0,283.9 L267.1,284.9 L267.3,285.8 L267.4,286.6 L267.5,287.4 L267.7,288.2 L267.8,288.9 L267.9,289.6 L267.9,290.3 L268.0,291.0 L268.1,291.7 L268.1,292.3 L268.1,293.0 L268.1,293.6 L268.0,294.2 L267.8,294.8 L267.7,295.4 L267.5,296.0 L267.4,296.6 L267.2,297.1 L267.1,297.6 L266.9,298.1Z M266.5,298.3 L266.6,298.7 L266.6,299.2 L266.6,299.7 L266.7,300.2 L266.7,300.6 L266.7,301.1 L266.6,301.6 L266.6,302.1 L266.5,302.6 L266.4,303.1 L266.2,303.5 L266.0,304.0 L265.8,304.4 L265.5,304.9 L265.3,305.3 L265.0,305.7 L264.8,306.2 L264.5,306.6 L264.3,307.1 L264.1,307.5 L263.8,308.0 L263.7,308.6 L263.6,309.4 L263.5,310.2 L263.4,311.2 L263.3,312.2 L263.3,313.5 L263.3,314.9 L263.2,316.6 L263.2,318.6 L263.2,321.0 L263.1,323.9 L263.1,327.5 L262.9,332.2 L262.2,335.5 L260.8,335.9 L259.3,336.3 L257.8,336.7 L256.3,337.0 L254.8,337.3 L253.3,337.4 L251.7,337.6 L250.1,337.6 L248.6,337.6 L247.0,337.5 L245.4,337.3 L243.9,337.0 L242.3,336.7 L240.7,336.4 L239.2,336.0 L237.6,335.6 L236.0,335.2 L235.1,333.5 L235.5,329.8 L235.9,326.6 L236.3,323.8 L236.5,321.4 L236.8,319.4 L237.0,317.5 L237.2,315.9 L237.3,314.5 L237.3,313.2 L237.4,312.0 L237.4,310.9 L237.3,309.9 L237.3,309.0 L237.2,308.1 L237.1,307.3 L237.0,306.5 L236.9,305.7 L236.8,304.9 L236.7,304.2 L236.6,303.4 L236.7,302.6 L236.9,301.8 L237.1,301.1 L237.3,300.3 L237.6,299.6 L237.8,298.9 L238.1,298.3 L238.3,297.6 L238.7,297.0 L239.1,296.4 L239.5,295.9 L239.9,295.3 L240.3,294.8 L240.6,294.3 L241.0,293.8 L241.4,293.3 L241.7,292.9 L242.1,292.4 L242.4,292.0 L242.7,291.5 L243.0,291.1 L243.3,290.6 L243.6,290.1 L243.9,289.7 L244.2,289.2 L244.4,288.7 L244.7,288.2 L245.1,287.7 L245.4,287.2 L245.7,286.7 L246.0,286.2 L246.4,285.7 L246.7,285.1 L247.1,284.5 L247.5,283.9 L247.9,283.3 L248.3,282.7 L248.8,282.0 L249.3,281.3 L249.9,280.9 L250.6,280.6 L251.2,280.3 L251.9,280.0 L252.6,279.7 L253.3,279.3 L254.0,279.0 L254.8,278.7 L255.6,278.6 L256.3,278.6 L257.1,278.6 L257.9,278.6 L258.7,278.6 L259.5,278.6 L260.3,278.9 L261.0,279.2 L261.7,279.5 L262.4,279.9 L263.1,280.2 L263.8,280.6 L264.4,281.1 L264.8,282.0 L265.1,282.9 L265.4,283.7 L265.7,284.5 L265.9,285.3 L265.9,286.2 L266.0,287.1 L266.0,288.0 L266.0,288.7 L266.0,289.5 L265.9,290.2 L265.9,290.8 L265.9,291.4 L266.0,292.0 L266.0,292.6 L266.0,293.1 L266.1,293.6 L266.1,294.1 L266.1,294.6 L266.1,295.1 L266.2,295.6 L266.2,296.0 L266.2,296.5 L266.3,296.9 L266.4,297.4 L266.4,297.8Z M265.9,298.0 L265.9,298.4 L266.0,298.8 L266.0,299.3 L266.0,299.7 L266.1,300.1 L266.1,300.6 L266.1,301.1 L266.0,301.5 L266.0,302.0 L265.9,302.4 L265.7,302.8 L265.5,303.3 L265.4,303.7 L265.2,304.1 L265.0,304.5 L264.8,305.0 L264.5,305.4 L264.3,305.8 L264.1,306.2 L263.8,306.7 L263.6,307.1 L263.4,307.7 L263.3,308.3 L263.2,309.1 L263.1,309.9 L263.0,310.8 L262.9,311.8 L262.8,313.0 L262.7,314.4 L262.6,316.0 L262.5,318.0 L262.4,320.4 L262.3,323.3 L262.1,327.1 L261.4,329.7 L260.2,329.9 L258.9,330.1 L257.7,330.4 L256.4,330.6 L255.1,330.7 L253.8,330.9 L252.5,331.0 L251.2,331.1 L249.9,331.2 L248.5,331.2 L247.1,331.2 L245.8,331.2 L244.3,331.2 L242.9,331.2 L241.4,331.1 L239.9,331.0 L238.3,331.0 L237.3,329.8 L237.5,326.7 L237.7,324.1 L237.8,321.8 L237.9,319.8 L238.0,318.0 L238.1,316.4 L238.1,315.0 L238.2,313.7 L238.2,312.4 L238.2,311.3 L238.2,310.3 L238.2,309.3 L238.2,308.3 L238.3,307.4 L238.3,306.6 L238.3,305.7 L238.4,304.9 L238.4,304.1 L238.5,303.4 L238.6,302.6 L238.9,301.9 L239.3,301.1 L239.6,300.4 L239.9,299.8 L240.3,299.1 L240.6,298.5 L240.9,298.0 L241.3,297.4 L241.6,296.9 L242.0,296.4 L242.3,295.9 L242.7,295.5 L243.0,295.1 L243.3,294.6 L243.5,294.2 L243.7,293.8 L244.0,293.3 L244.2,292.9 L244.3,292.5 L244.5,292.0 L244.7,291.6 L244.8,291.1 L244.9,290.6 L245.1,290.1 L245.3,289.5 L245.4,289.0 L245.6,288.5 L245.9,287.9 L246.1,287.4 L246.4,286.9 L246.7,286.3 L247.0,285.8 L247.3,285.2 L247.7,284.7 L248.1,284.1 L248.5,283.5 L248.9,283.0 L249.4,282.4 L249.9,281.8 L250.5,281.5 L251.1,281.4 L251.8,281.2 L252.5,281.0 L253.1,280.9 L253.8,280.7 L254.4,280.5 L255.1,280.3 L255.8,280.4 L256.5,280.5 L257.2,280.6 L257.9,280.7 L258.6,280.8 L259.3,280.8 L259.9,281.0 L260.5,281.4 L261.2,281.7 L261.8,281.9 L262.4,282.2 L263.0,282.5 L263.6,282.9 L263.9,283.7 L264.2,284.4 L264.5,285.1 L264.8,285.7 L265.0,286.4 L265.1,287.2 L265.2,287.9 L265.2,288.7 L265.2,289.3 L265.3,290.0 L265.3,290.6 L265.3,291.2 L265.4,291.7 L265.4,292.2 L265.4,292.7 L265.5,293.2 L265.5,293.7 L265.6,294.1 L265.6,294.6 L265.6,295.0 L265.6,295.5 L265.6,295.9 L265.7,296.3 L265.7,296.7 L265.8,297.1 L265.8,297.6Z M265.3,297.7 L265.2,298.1 L265.0,298.4 L264.9,298.8 L264.8,299.1 L264.7,299.5 L264.6,299.9 L264.5,300.2 L264.4,300.6 L264.4,301.0 L264.3,301.3 L264.3,301.7 L264.2,302.1 L264.1,302.5 L264.1,302.9 L264.0,303.4 L263.9,303.8 L263.8,304.2 L263.7,304.7 L263.5,305.1 L263.4,305.6 L263.2,306.1 L263.1,306.6 L263.0,307.2 L262.9,307.9 L262.9,308.7 L262.8,309.6 L262.7,310.6 L262.6,311.7 L262.6,313.1 L262.5,314.6 L262.4,316.5 L262.3,318.8 L262.2,321.6 L262.1,325.2 L261.4,327.6 L260.2,327.8 L259.1,328.0 L257.9,328.1 L256.7,328.1 L255.5,328.0 L254.3,327.8 L253.1,327.5 L252.0,327.2 L250.9,326.8 L249.8,326.4 L248.7,326.0 L247.6,325.6 L246.5,325.2 L245.4,324.9 L244.3,324.6 L243.1,324.4 L241.9,324.3 L241.1,323.4 L241.1,321.0 L241.2,319.1 L241.2,317.4 L241.1,315.9 L241.0,314.6 L240.9,313.4 L240.8,312.3 L240.8,311.3 L240.7,310.3 L240.7,309.3 L240.6,308.4 L240.6,307.6 L240.7,306.7 L240.7,305.9 L240.8,305.2 L240.8,304.4 L240.9,303.7 L240.9,303.0 L241.0,302.4 L241.0,301.7 L241.2,301.1 L241.4,300.5 L241.5,299.9 L241.7,299.3 L241.8,298.7 L242.0,298.2 L242.1,297.7 L242.2,297.1 L242.4,296.6 L242.7,296.2 L243.0,295.7 L243.2,295.2 L243.6,294.8 L243.9,294.4 L244.2,294.0 L244.6,293.6 L244.9,293.3 L245.2,293.0 L245.6,292.6 L245.9,292.3 L246.2,292.0 L246.4,291.6 L246.7,291.3 L246.9,290.9 L247.1,290.5 L247.2,290.0 L247.4,289.6 L247.6,289.1 L247.7,288.6 L247.9,288.1 L248.1,287.6 L248.3,287.0 L248.6,286.4 L248.9,285.9 L249.2,285.3 L249.5,284.8 L249.9,284.2 L250.3,283.7 L250.8,283.2 L251.3,282.9 L251.9,282.7 L252.5,282.6 L253.1,282.5 L253.7,282.3 L254.3,282.2 L254.9,282.1 L255.5,281.9 L256.1,281.9 L256.7,282.0 L257.3,282.0 L257.9,282.1 L258.6,282.1 L259.2,282.1 L259.8,282.3 L260.4,282.6 L260.9,282.9 L261.5,283.2 L262.0,283.5 L262.5,283.8 L263.0,284.3 L263.2,285.0 L263.5,285.7 L263.7,286.4 L263.9,287.0 L264.1,287.6 L264.1,288.3 L264.2,289.0 L264.2,289.6 L264.3,290.1 L264.5,290.6 L264.6,291.0 L264.8,291.5 L264.9,291.9 L265.1,292.3 L265.3,292.7 L265.5,293.1 L265.6,293.5 L265.8,293.9 L265.8,294.3 L265.9,294.7 L265.9,295.2 L265.8,295.6 L265.8,296.0 L265.7,296.5 L265.6,296.9 L265.5,297.3Z M265.1,297.4 L265.1,297.8 L265.1,298.1 L265.0,298.5 L264.9,298.9 L264.9,299.2 L264.7,299.6 L264.6,299.9 L264.5,300.2 L264.3,300.6 L264.1,300.9 L264.0,301.2 L263.8,301.5 L263.6,301.8 L263.5,302.1 L263.3,302.5 L263.2,302.8 L263.1,303.2 L263.0,303.6 L262.9,304.0 L262.8,304.5 L262.7,304.9 L262.7,305.5 L262.6,306.1 L262.5,306.7 L262.5,307.4 L262.4,308.2 L262.3,309.0 L262.1,309.9 L262.0,310.9 L261.8,312.1 L261.7,313.4 L261.5,315.0 L261.3,317.0 L261.1,319.6 L260.5,321.3 L259.6,321.4 L258.6,321.5 L257.7,321.7 L256.7,321.9 L255.8,322.1 L254.8,322.4 L253.8,322.7 L252.7,323.0 L251.7,323.2 L250.6,323.5 L249.5,323.7 L248.3,323.8 L247.2,323.8 L246.0,323.8 L244.8,323.8 L243.7,323.6 L242.5,323.4 L241.8,322.4 L242.0,319.9 L242.2,317.7 L242.4,315.8 L242.5,314.2 L242.7,312.7 L242.8,311.5 L242.8,310.3 L242.9,309.3 L242.9,308.4 L242.9,307.5 L242.9,306.7 L242.9,306.0 L242.9,305.3 L242.9,304.6 L242.9,304.0 L242.9,303.3 L242.9,302.7 L243.0,302.1 L243.0,301.5 L243.1,301.0 L243.4,300.4 L243.6,299.8 L243.9,299.3 L244.2,298.8 L244.4,298.3 L244.6,297.8 L244.8,297.4 L245.0,297.0 L245.2,296.6 L245.3,296.2 L245.5,295.8 L245.6,295.4 L245.7,295.0 L245.8,294.6 L245.8,294.2 L245.9,293.8 L246.0,293.4 L246.1,292.9 L246.2,292.5 L246.3,292.1 L246.5,291.7 L246.6,291.3 L246.8,290.9 L247.1,290.5 L247.3,290.2 L247.6,289.8 L247.8,289.5 L248.1,289.2 L248.4,288.8 L248.7,288.5 L249.0,288.1 L249.3,287.8 L249.6,287.4 L249.9,287.0 L250.2,286.5 L250.5,286.1 L250.9,285.6 L251.2,285.1 L251.6,284.5 L252.0,284.2 L252.5,284.0 L253.0,283.7 L253.6,283.5 L254.1,283.4 L254.7,283.3 L255.2,283.2 L255.8,283.1 L256.3,283.3 L256.9,283.5 L257.4,283.7 L257.9,283.8 L258.4,284.0 L258.9,284.2 L259.4,284.5 L259.9,284.7 L260.3,285.0 L260.8,285.2 L261.3,285.4 L261.8,285.6 L262.2,285.8 L262.6,286.3 L262.9,286.7 L263.2,287.1 L263.5,287.6 L263.8,288.0 L263.9,288.6 L264.1,289.1 L264.2,289.6 L264.3,290.2 L264.3,290.7 L264.4,291.2 L264.4,291.6 L264.4,292.1 L264.5,292.5 L264.5,292.9 L264.6,293.4 L264.6,293.7 L264.7,294.1 L264.7,294.5 L264.7,294.9 L264.8,295.2 L264.9,295.6 L264.9,296.0 L265.0,296.3 L265.0,296.7 L265.1,297.0Z M263.7,297.1 L263.6,297.4 L263.5,297.7 L263.5,298.0 L263.4,298.3 L263.4,298.6 L263.4,298.9 L263.4,299.2 L263.4,299.5 L263.5,299.9 L263.5,300.2 L263.5,300.6 L263.5,300.9 L263.4,301.3 L263.4,301.6 L263.3,302.0 L263.2,302.4 L263.1,302.7 L263.0,303.1 L262.9,303.4 L262.7,303.8 L262.5,304.1 L262.4,304.6 L262.3,305.0 L262.2,305.6 L262.1,306.2 L262.0,306.9 L262.0,307.7 L261.9,308.6 L261.8,309.6 L261.7,310.8 L261.6,312.2 L261.5,313.9 L261.3,315.8 L261.1,318.2 L260.6,319.8 L259.6,319.7 L258.7,319.6 L257.8,319.4 L256.9,319.2 L256.1,318.9 L255.2,318.6 L254.4,318.3 L253.6,318.1 L252.8,317.9 L252.0,317.8 L251.1,317.7 L250.3,317.7 L249.4,317.7 L248.5,317.7 L247.5,317.8 L246.5,317.8 L245.5,317.8 L244.8,317.2 L244.9,315.4 L244.9,313.8 L245.0,312.4 L245.0,311.1 L245.1,309.9 L245.2,308.9 L245.3,307.9 L245.4,307.0 L245.4,306.2 L245.5,305.5 L245.5,304.8 L245.4,304.2 L245.4,303.7 L245.3,303.2 L245.2,302.7 L245.0,302.2 L244.9,301.8 L244.7,301.3 L244.6,300.9 L244.5,300.4 L244.5,299.9 L244.6,299.4 L244.7,298.9 L244.9,298.5 L245.0,298.0 L245.2,297.6 L245.4,297.1 L245.6,296.7 L245.8,296.3 L246.0,296.0 L246.2,295.6 L246.4,295.2 L246.6,294.9 L246.7,294.5 L246.8,294.1 L246.9,293.8 L247.0,293.4 L247.2,293.0 L247.3,292.7 L247.5,292.3 L247.7,292.0 L247.9,291.7 L248.1,291.4 L248.4,291.1 L248.7,290.8 L249.0,290.6 L249.3,290.3 L249.6,290.1 L249.9,289.9 L250.2,289.7 L250.4,289.4 L250.7,289.1 L251.0,288.8 L251.2,288.5 L251.4,288.1 L251.7,287.7 L252.0,287.2 L252.2,286.8 L252.5,286.3 L252.9,286.0 L253.3,285.8 L253.8,285.6 L254.2,285.4 L254.6,285.2 L255.1,285.1 L255.6,285.0 L256.1,284.9 L256.5,285.0 L257.0,285.0 L257.5,285.1 L258.0,285.1 L258.5,285.1 L259.0,285.0 L259.5,285.1 L259.9,285.2 L260.4,285.2 L260.9,285.3 L261.5,285.4 L262.0,285.6 L262.4,285.8 L262.7,286.3 L263.0,286.7 L263.2,287.2 L263.5,287.8 L263.6,288.3 L263.7,288.9 L263.7,289.5 L263.7,290.1 L263.7,290.6 L263.7,291.1 L263.8,291.5 L263.8,292.0 L263.8,292.4 L263.9,292.7 L264.0,293.1 L264.0,293.5 L264.1,293.8 L264.2,294.1 L264.2,294.5 L264.2,294.8 L264.2,295.2 L264.2,295.5 L264.1,295.9 L264.0,296.2 L264.0,296.5 L263.8,296.8Z M263.5,296.9 L263.5,297.2 L263.5,297.5 L263.5,297.8 L263.4,298.0 L263.4,298.3 L263.4,298.6 L263.3,298.9 L263.2,299.2 L263.1,299.4 L263.0,299.7 L262.9,299.9 L262.8,300.2 L262.7,300.5 L262.6,300.8 L262.5,301.1 L262.5,301.4 L262.4,301.7 L262.4,302.1 L262.3,302.5 L262.3,302.9 L262.3,303.3 L262.2,303.8 L262.2,304.4 L262.1,304.9 L262.1,305.5 L261.9,306.1 L261.8,306.7 L261.7,307.4 L261.5,308.1 L261.3,308.9 L261.1,309.8 L260.9,310.9 L260.6,312.2 L260.4,313.9 L259.9,315.0 L259.2,314.9 L258.4,314.9 L257.7,314.9 L257.0,314.9 L256.3,315.0 L255.6,315.0 L254.9,315.1 L254.2,315.1 L253.4,315.1 L252.7,315.0 L252.0,314.9 L251.3,314.8 L250.5,314.7 L249.8,314.5 L249.1,314.3 L248.4,314.1 L247.6,314.0 L247.1,313.4 L247.1,311.9 L247.1,310.7 L247.0,309.7 L246.9,308.8 L246.8,308.1 L246.6,307.4 L246.5,306.7 L246.3,306.1 L246.2,305.6 L246.0,305.0 L245.9,304.4 L245.9,303.9 L245.8,303.3 L245.9,302.8 L245.9,302.2 L246.0,301.7 L246.1,301.2 L246.2,300.7 L246.3,300.2 L246.4,299.7 L246.6,299.3 L246.7,298.8 L246.9,298.4 L247.0,298.0 L247.1,297.6 L247.2,297.3 L247.3,296.9 L247.3,296.6 L247.4,296.2 L247.6,295.9 L247.7,295.5 L247.8,295.2 L248.0,294.9 L248.2,294.6 L248.4,294.3 L248.6,294.1 L248.8,293.8 L248.9,293.5 L249.1,293.2 L249.3,293.0 L249.4,292.7 L249.6,292.4 L249.7,292.1 L249.8,291.8 L249.9,291.4 L249.9,291.0 L250.0,290.6 L250.2,290.3 L250.3,289.9 L250.5,289.5 L250.7,289.1 L250.9,288.8 L251.1,288.4 L251.4,288.1 L251.7,287.8 L252.0,287.6 L252.3,287.3 L252.7,287.1 L253.0,286.9 L253.4,286.8 L253.9,286.7 L254.3,286.6 L254.7,286.5 L255.1,286.4 L255.5,286.3 L255.9,286.1 L256.3,286.0 L256.7,285.9 L257.2,285.9 L257.6,285.9 L258.0,286.0 L258.5,286.0 L258.9,286.1 L259.3,286.3 L259.7,286.6 L260.0,286.8 L260.4,287.1 L260.7,287.4 L261.1,287.6 L261.4,287.9 L261.6,288.3 L261.8,288.7 L262.1,289.0 L262.3,289.3 L262.6,289.6 L262.8,289.9 L263.0,290.3 L263.1,290.6 L263.3,290.9 L263.5,291.3 L263.6,291.6 L263.7,291.9 L263.8,292.3 L263.9,292.7 L263.9,293.0 L263.9,293.4 L263.9,293.8 L263.8,294.1 L263.8,294.5 L263.7,294.8 L263.6,295.2 L263.6,295.5 L263.5,295.8 L263.5,296.1 L263.5,296.3 L263.5,296.6Z M263.0,296.7 L262.9,296.9 L262.9,297.2 L262.8,297.4 L262.7,297.7 L262.7,297.9 L262.6,298.1 L262.5,298.4 L262.5,298.6 L262.4,298.9 L262.4,299.1 L262.3,299.3 L262.3,299.6 L262.2,299.8 L262.2,300.1 L262.1,300.4 L262.0,300.7 L262.0,301.0 L261.9,301.2 L261.8,301.6 L261.7,301.9 L261.7,302.2 L261.6,302.5 L261.5,302.9 L261.4,303.3 L261.3,303.8 L261.2,304.2 L261.1,304.7 L260.9,305.3 L260.8,305.9 L260.7,306.6 L260.5,307.4 L260.3,308.3 L260.1,309.4 L260.0,310.8 L259.6,311.7 L258.9,311.8 L258.3,311.8 L257.8,311.8 L257.2,311.8 L256.6,311.9 L256.0,311.9 L255.4,311.9 L254.7,312.0 L254.1,312.1 L253.5,312.1 L252.8,312.2 L252.2,312.2 L251.5,312.3 L250.8,312.3 L250.1,312.4 L249.3,312.4 L248.6,312.4 L248.0,311.9 L248.0,310.7 L247.9,309.6 L247.9,308.6 L247.8,307.7 L247.8,306.9 L247.8,306.1 L247.8,305.4 L247.8,304.8 L247.8,304.1 L247.9,303.5 L247.9,303.0 L247.9,302.5 L248.0,302.0 L248.0,301.5 L248.0,301.0 L248.1,300.6 L248.1,300.2 L248.2,299.8 L248.2,299.4 L248.2,299.0 L248.3,298.7 L248.4,298.3 L248.4,298.0 L248.5,297.6 L248.6,297.3 L248.6,297.0 L248.7,296.7 L248.7,296.4 L248.8,296.1 L248.9,295.8 L249.0,295.5 L249.1,295.2 L249.2,294.9 L249.3,294.6 L249.4,294.4 L249.6,294.1 L249.7,293.8 L249.9,293.6 L250.0,293.3 L250.2,293.1 L250.3,292.9 L250.5,292.6 L250.7,292.4 L250.8,292.2 L251.0,291.9 L251.2,291.7 L251.4,291.5 L251.6,291.3 L251.7,291.0 L251.9,290.8 L252.1,290.6 L252.3,290.3 L252.5,290.0 L252.7,289.8 L252.9,289.5 L253.1,289.2 L253.3,288.8 L253.5,288.5 L253.8,288.2 L254.1,287.9 L254.4,287.7 L254.7,287.5 L255.1,287.3 L255.4,287.1 L255.8,286.9 L256.2,286.7 L256.6,286.6 L257.0,286.6 L257.4,286.6 L257.8,286.6 L258.2,286.6 L258.5,286.7 L258.9,286.8 L259.3,286.9 L259.7,287.1 L260.0,287.3 L260.3,287.6 L260.7,287.8 L261.0,288.0 L261.3,288.3 L261.5,288.7 L261.7,289.0 L261.9,289.4 L262.1,289.7 L262.2,290.0 L262.3,290.4 L262.5,290.8 L262.6,291.1 L262.7,291.5 L262.8,291.8 L262.9,292.1 L263.0,292.4 L263.0,292.7 L263.1,293.0 L263.2,293.3 L263.2,293.6 L263.3,293.9 L263.3,294.2 L263.3,294.5 L263.3,294.8 L263.3,295.1 L263.3,295.3 L263.2,295.6 L263.2,295.9 L263.1,296.2 L263.1,296.4Z M262.6,296.5 L262.6,296.7 L262.5,296.9 L262.5,297.1 L262.4,297.4 L262.3,297.6 L262.3,297.8 L262.2,298.0 L262.2,298.2 L262.1,298.4 L262.0,298.6 L262.0,298.9 L261.9,299.1 L261.9,299.3 L261.8,299.5 L261.8,299.8 L261.7,300.1 L261.7,300.3 L261.7,300.6 L261.6,300.9 L261.6,301.2 L261.5,301.6 L261.4,301.9 L261.4,302.3 L261.3,302.7 L261.2,303.1 L261.1,303.5 L261.0,303.9 L260.8,304.4 L260.7,304.9 L260.5,305.4 L260.3,306.0 L260.1,306.7 L259.9,307.5 L259.7,308.5 L259.3,309.1 L258.8,309.0 L258.3,308.9 L257.8,308.8 L257.3,308.7 L256.8,308.6 L256.3,308.5 L255.8,308.5 L255.4,308.5 L254.9,308.5 L254.4,308.5 L253.9,308.5 L253.4,308.5 L252.9,308.6 L252.3,308.6 L251.7,308.7 L251.2,308.7 L250.6,308.7 L250.1,308.4 L250.0,307.5 L250.0,306.7 L249.9,306.0 L249.8,305.3 L249.8,304.7 L249.7,304.1 L249.7,303.6 L249.6,303.1 L249.6,302.6 L249.6,302.2 L249.6,301.7 L249.5,301.3 L249.5,300.9 L249.5,300.6 L249.5,300.2 L249.5,299.9 L249.4,299.5 L249.4,299.2 L249.4,298.9 L249.4,298.6 L249.4,298.2 L249.5,297.9 L249.5,297.6 L249.6,297.3 L249.6,297.0 L249.7,296.8 L249.8,296.5 L249.9,296.2 L250.0,295.9 L250.2,295.7 L250.3,295.4 L250.4,295.2 L250.6,295.0 L250.7,294.8 L250.8,294.5 L250.9,294.3 L251.0,294.1 L251.2,293.9 L251.2,293.6 L251.3,293.4 L251.4,293.2 L251.5,292.9 L251.6,292.7 L251.6,292.4 L251.7,292.1 L251.8,291.8 L251.9,291.6 L252.0,291.3 L252.1,291.0 L252.2,290.7 L252.4,290.4 L252.6,290.2 L252.8,289.9 L253.0,289.7 L253.2,289.4 L253.4,289.2 L253.7,289.0 L254.0,288.8 L254.3,288.7 L254.6,288.6 L254.9,288.6 L255.2,288.6 L255.5,288.6 L255.9,288.5 L256.2,288.5 L256.5,288.5 L256.8,288.5 L257.1,288.5 L257.4,288.6 L257.7,288.6 L258.0,288.6 L258.4,288.6 L258.7,288.6 L259.0,288.7 L259.3,288.8 L259.6,288.9 L259.9,288.9 L260.2,289.0 L260.5,289.1 L260.8,289.3 L261.0,289.5 L261.2,289.8 L261.4,290.1 L261.6,290.3 L261.8,290.6 L261.9,291.0 L262.0,291.3 L262.1,291.6 L262.1,291.9 L262.2,292.2 L262.3,292.5 L262.3,292.8 L262.4,293.1 L262.4,293.3 L262.5,293.6 L262.5,293.8 L262.6,294.1 L262.6,294.3 L262.6,294.6 L262.7,294.8 L262.7,295.1 L262.7,295.3 L262.7,295.5 L262.7,295.8 L262.7,296.0 L262.7,296.2Z M262.1,296.3 L262.1,296.5 L262.1,296.7 L262.1,296.9 L262.1,297.1 L262.1,297.3 L262.0,297.5 L262.0,297.7 L261.9,297.9 L261.9,298.1 L261.8,298.3 L261.8,298.5 L261.7,298.7 L261.7,298.9 L261.6,299.1 L261.6,299.3 L261.5,299.6 L261.5,299.8 L261.5,300.1 L261.4,300.3 L261.3,300.6 L261.2,300.9 L261.1,301.1 L261.0,301.4 L260.9,301.7 L260.8,301.9 L260.6,302.2 L260.5,302.5 L260.3,302.7 L260.1,303.1 L260.0,303.4 L259.8,303.8 L259.6,304.4 L259.5,305.0 L259.3,305.8 L259.0,306.4 L258.6,306.4 L258.2,306.5 L257.8,306.6 L257.4,306.6 L257.0,306.7 L256.6,306.7 L256.2,306.7 L255.8,306.6 L255.4,306.6 L255.0,306.4 L254.6,306.3 L254.2,306.2 L253.8,306.0 L253.5,305.9 L253.1,305.8 L252.7,305.7 L252.2,305.6 L251.9,305.3 L251.8,304.7 L251.7,304.2 L251.6,303.7 L251.5,303.3 L251.4,302.9 L251.2,302.5 L251.1,302.2 L251.0,301.8 L250.9,301.5 L250.8,301.1 L250.8,300.8 L250.7,300.5 L250.7,300.1 L250.7,299.8 L250.7,299.5 L250.7,299.2 L250.7,298.9 L250.7,298.6 L250.7,298.3 L250.7,298.1 L250.7,297.8 L250.7,297.5 L250.7,297.3 L250.7,297.0 L250.7,296.8 L250.7,296.5 L250.8,296.3 L250.8,296.0 L250.9,295.8 L251.0,295.6 L251.1,295.3 L251.2,295.1 L251.3,294.9 L251.5,294.7 L251.6,294.5 L251.8,294.4 L251.9,294.2 L252.1,294.0 L252.2,293.8 L252.3,293.6 L252.4,293.5 L252.5,293.3 L252.5,293.0 L252.6,292.8 L252.7,292.6 L252.8,292.4 L252.9,292.2 L253.0,292.0 L253.1,291.8 L253.3,291.6 L253.4,291.4 L253.6,291.2 L253.8,291.0 L254.0,290.9 L254.2,290.7 L254.4,290.6 L254.6,290.4 L254.8,290.2 L255.0,290.0 L255.2,289.9 L255.4,289.7 L255.7,289.6 L255.9,289.4 L256.2,289.2 L256.4,289.0 L256.7,288.9 L257.0,288.7 L257.3,288.7 L257.6,288.7 L257.9,288.7 L258.2,288.7 L258.5,288.8 L258.8,288.9 L259.0,289.1 L259.3,289.2 L259.5,289.4 L259.8,289.6 L260.0,289.8 L260.2,290.0 L260.4,290.2 L260.6,290.4 L260.8,290.7 L260.9,290.9 L261.1,291.1 L261.3,291.3 L261.4,291.6 L261.5,291.8 L261.6,292.1 L261.6,292.3 L261.7,292.6 L261.7,292.9 L261.7,293.1 L261.7,293.4 L261.7,293.6 L261.7,293.9 L261.7,294.1 L261.7,294.3 L261.7,294.5 L261.7,294.8 L261.7,295.0 L261.8,295.1 L261.8,295.3 L261.8,295.5 L261.9,295.7 L262.0,295.9 L262.0,296.1Z M261.9,296.1 L261.9,296.3 L261.9,296.5 L261.8,296.7 L261.8,296.8 L261.8,297.0 L261.7,297.2 L261.7,297.4 L261.6,297.5 L261.5,297.7 L261.4,297.9 L261.3,298.0 L261.2,298.2 L261.1,298.3 L261.0,298.4 L260.9,298.6 L260.8,298.7 L260.7,298.9 L260.6,299.1 L260.6,299.2 L260.5,299.4 L260.4,299.6 L260.4,299.8 L260.3,300.1 L260.2,300.3 L260.2,300.6 L260.1,300.9 L260.0,301.2 L260.0,301.5 L259.9,301.9 L259.8,302.3 L259.6,302.7 L259.5,303.2 L259.4,303.8 L259.2,304.5 L258.9,304.9 L258.6,304.9 L258.2,304.9 L257.9,304.9 L257.5,304.9 L257.2,304.8 L256.9,304.8 L256.5,304.7 L256.2,304.6 L255.9,304.5 L255.5,304.5 L255.2,304.4 L254.9,304.3 L254.5,304.3 L254.2,304.2 L253.9,304.1 L253.5,304.1 L253.2,304.0 L252.9,303.8 L252.8,303.2 L252.8,302.7 L252.7,302.3 L252.7,301.9 L252.6,301.5 L252.5,301.1 L252.5,300.8 L252.5,300.5 L252.4,300.2 L252.4,299.9 L252.3,299.6 L252.3,299.4 L252.3,299.1 L252.2,298.9 L252.2,298.6 L252.2,298.4 L252.1,298.2 L252.1,298.0 L252.0,297.8 L252.0,297.6 L251.9,297.4 L251.9,297.2 L251.9,297.0 L251.9,296.7 L251.9,296.5 L251.9,296.3 L251.9,296.1 L251.9,295.9 L251.9,295.7 L252.0,295.5 L252.0,295.3 L252.1,295.1 L252.2,294.9 L252.3,294.7 L252.4,294.6 L252.6,294.4 L252.7,294.2 L252.8,294.1 L252.9,293.9 L253.1,293.8 L253.2,293.7 L253.3,293.5 L253.4,293.4 L253.5,293.2 L253.6,293.1 L253.7,292.9 L253.8,292.7 L253.9,292.6 L254.0,292.4 L254.1,292.2 L254.2,292.0 L254.3,291.8 L254.4,291.6 L254.5,291.3 L254.7,291.1 L254.8,290.9 L255.0,290.7 L255.1,290.5 L255.3,290.3 L255.5,290.2 L255.8,290.1 L256.0,290.0 L256.2,290.0 L256.5,289.9 L256.7,289.9 L256.9,289.9 L257.2,289.9 L257.4,289.9 L257.7,290.0 L257.9,290.0 L258.1,290.1 L258.4,290.2 L258.6,290.2 L258.8,290.3 L259.0,290.4 L259.2,290.5 L259.5,290.7 L259.7,290.8 L259.9,290.9 L260.0,291.0 L260.2,291.2 L260.3,291.4 L260.5,291.6 L260.6,291.8 L260.7,292.0 L260.8,292.2 L260.9,292.4 L260.9,292.7 L261.0,292.9 L261.1,293.1 L261.1,293.3 L261.2,293.5 L261.2,293.7 L261.3,293.8 L261.3,294.0 L261.4,294.2 L261.4,294.4 L261.5,294.5 L261.5,294.7 L261.6,294.9 L261.6,295.0 L261.7,295.2 L261.7,295.4 L261.8,295.6 L261.8,295.7 L261.8,295.9Z M261.2,295.9 L261.2,296.1 L261.2,296.2 L261.2,296.4 L261.1,296.5 L261.1,296.7 L261.0,296.8 L260.9,296.9 L260.8,297.1 L260.8,297.2 L260.7,297.3 L260.6,297.4 L260.6,297.6 L260.5,297.7 L260.5,297.9 L260.5,298.0 L260.5,298.2 L260.4,298.3 L260.4,298.5 L260.4,298.7 L260.3,298.9 L260.3,299.1 L260.2,299.3 L260.1,299.4 L260.1,299.6 L260.0,299.8 L259.9,300.0 L259.8,300.2 L259.6,300.4 L259.5,300.6 L259.4,300.8 L259.3,301.1 L259.2,301.4 L259.0,301.8 L258.9,302.3 L258.7,302.6 L258.4,302.7 L258.2,302.7 L257.9,302.8 L257.7,302.8 L257.4,302.8 L257.1,302.8 L256.8,302.8 L256.6,302.7 L256.3,302.6 L256.1,302.5 L255.8,302.4 L255.6,302.2 L255.4,302.1 L255.2,302.0 L254.9,301.9 L254.7,301.8 L254.5,301.7 L254.3,301.5 L254.2,301.2 L254.1,300.9 L254.0,300.6 L253.9,300.4 L253.8,300.2 L253.7,300.0 L253.6,299.7 L253.5,299.5 L253.4,299.3 L253.3,299.1 L253.3,298.9 L253.2,298.7 L253.2,298.5 L253.2,298.3 L253.2,298.1 L253.2,297.9 L253.1,297.7 L253.1,297.5 L253.1,297.3 L253.1,297.2 L253.1,297.0 L253.1,296.8 L253.1,296.6 L253.1,296.5 L253.1,296.3 L253.1,296.1 L253.1,295.9 L253.1,295.8 L253.2,295.6 L253.2,295.4 L253.3,295.3 L253.4,295.1 L253.5,295.0 L253.6,294.9 L253.7,294.7 L253.8,294.6 L253.9,294.5 L253.9,294.4 L254.0,294.2 L254.1,294.1 L254.1,293.9 L254.2,293.8 L254.2,293.6 L254.2,293.5 L254.3,293.3 L254.3,293.1 L254.4,292.9 L254.4,292.8 L254.5,292.6 L254.6,292.4 L254.7,292.3 L254.9,292.2 L255.0,292.0 L255.1,291.9 L255.3,291.8 L255.4,291.7 L255.6,291.6 L255.7,291.5 L255.9,291.3 L256.1,291.2 L256.2,291.2 L256.4,291.1 L256.6,291.0 L256.8,290.9 L257.0,290.8 L257.2,290.8 L257.4,290.7 L257.6,290.8 L257.8,290.8 L258.0,290.9 L258.2,290.9 L258.4,291.0 L258.5,291.1 L258.7,291.3 L258.9,291.4 L259.0,291.6 L259.1,291.7 L259.3,291.8 L259.4,291.9 L259.6,292.0 L259.7,292.1 L259.8,292.3 L260.0,292.4 L260.1,292.5 L260.3,292.6 L260.4,292.7 L260.5,292.8 L260.6,293.0 L260.7,293.1 L260.8,293.3 L260.8,293.4 L260.9,293.6 L260.9,293.8 L261.0,293.9 L261.0,294.1 L261.0,294.3 L261.0,294.4 L261.1,294.6 L261.1,294.7 L261.1,294.9 L261.1,295.0 L261.2,295.2 L261.2,295.3 L261.2,295.5 L261.2,295.6 L261.2,295.8Z M260.6,295.8 L260.6,295.9 L260.6,296.0 L260.6,296.1 L260.6,296.3 L260.6,296.4 L260.6,296.5 L260.6,296.6 L260.6,296.7 L260.5,296.9 L260.5,297.0 L260.4,297.1 L260.3,297.2 L260.3,297.3 L260.2,297.4 L260.1,297.5 L260.0,297.5 L259.9,297.6 L259.9,297.7 L259.8,297.8 L259.7,297.9 L259.7,298.0 L259.6,298.2 L259.6,298.3 L259.5,298.5 L259.5,298.6 L259.4,298.8 L259.3,298.9 L259.3,299.1 L259.2,299.3 L259.1,299.5 L259.0,299.7 L258.9,300.0 L258.8,300.2 L258.7,300.5 L258.6,300.7 L258.4,300.7 L258.2,300.7 L258.0,300.7 L257.8,300.7 L257.6,300.7 L257.4,300.7 L257.2,300.7 L257.0,300.7 L256.8,300.7 L256.6,300.6 L256.4,300.6 L256.2,300.6 L256.0,300.6 L255.8,300.5 L255.6,300.5 L255.4,300.4 L255.2,300.3 L255.1,300.2 L255.0,299.9 L255.0,299.6 L255.0,299.4 L254.9,299.1 L254.9,298.9 L254.9,298.7 L254.9,298.5 L254.8,298.3 L254.8,298.1 L254.8,298.0 L254.7,297.8 L254.7,297.7 L254.7,297.6 L254.6,297.4 L254.6,297.3 L254.5,297.2 L254.4,297.1 L254.4,297.0 L254.3,296.8 L254.2,296.7 L254.2,296.6 L254.2,296.4 L254.1,296.3 L254.1,296.2 L254.1,296.0 L254.2,295.9 L254.2,295.8 L254.2,295.6 L254.3,295.5 L254.3,295.4 L254.4,295.3 L254.4,295.1 L254.5,295.0 L254.5,294.9 L254.6,294.8 L254.6,294.7 L254.7,294.6 L254.7,294.5 L254.8,294.3 L254.8,294.2 L254.9,294.1 L254.9,294.0 L255.0,293.9 L255.0,293.8 L255.1,293.7 L255.2,293.5 L255.2,293.4 L255.3,293.3 L255.4,293.2 L255.5,293.2 L255.6,293.1 L255.7,293.0 L255.8,292.9 L255.9,292.8 L256.0,292.7 L256.1,292.6 L256.2,292.5 L256.3,292.4 L256.4,292.3 L256.6,292.2 L256.7,292.1 L256.8,292.0 L257.0,291.9 L257.1,291.9 L257.3,291.8 L257.4,291.7 L257.6,291.7 L257.7,291.6 L257.9,291.6 L258.1,291.7 L258.2,291.7 L258.4,291.8 L258.5,291.8 L258.7,291.9 L258.8,292.0 L258.9,292.2 L259.0,292.3 L259.1,292.4 L259.2,292.5 L259.3,292.6 L259.4,292.8 L259.5,292.9 L259.6,293.0 L259.7,293.1 L259.8,293.2 L259.8,293.3 L259.9,293.4 L260.0,293.6 L260.0,293.7 L260.1,293.8 L260.2,293.9 L260.2,294.0 L260.3,294.1 L260.3,294.2 L260.3,294.4 L260.4,294.5 L260.4,294.6 L260.4,294.7 L260.4,294.8 L260.5,295.0 L260.5,295.1 L260.5,295.2 L260.5,295.3 L260.5,295.4 L260.5,295.5 L260.6,295.7Z M260.1,295.6 L260.1,295.7 L260.1,295.8 L260.1,295.9 L260.1,296.0 L260.1,296.1 L260.0,296.2 L260.0,296.3 L260.0,296.4 L260.0,296.4 L259.9,296.5 L259.9,296.6 L259.8,296.7 L259.8,296.8 L259.7,296.8 L259.7,296.9 L259.6,297.0 L259.6,297.1 L259.5,297.2 L259.5,297.2 L259.4,297.3 L259.4,297.4 L259.3,297.5 L259.3,297.5 L259.2,297.6 L259.1,297.7 L259.1,297.8 L259.0,297.9 L259.0,298.0 L258.9,298.1 L258.8,298.3 L258.8,298.4 L258.7,298.5 L258.6,298.7 L258.5,298.9 L258.4,299.0 L258.3,299.0 L258.1,299.0 L258.0,299.1 L257.9,299.1 L257.7,299.1 L257.6,299.1 L257.5,299.1 L257.3,299.1 L257.2,299.0 L257.1,299.0 L256.9,299.0 L256.8,299.0 L256.7,298.9 L256.5,298.9 L256.4,298.8 L256.3,298.8 L256.2,298.7 L256.1,298.6 L256.0,298.5 L255.9,298.3 L255.9,298.2 L255.8,298.0 L255.8,297.9 L255.7,297.8 L255.7,297.7 L255.7,297.5 L255.6,297.4 L255.6,297.3 L255.6,297.2 L255.5,297.1 L255.5,297.0 L255.5,296.9 L255.5,296.8 L255.5,296.7 L255.4,296.6 L255.4,296.5 L255.4,296.4 L255.4,296.3 L255.4,296.2 L255.4,296.1 L255.4,296.0 L255.4,295.9 L255.4,295.8 L255.4,295.7 L255.4,295.6 L255.4,295.5 L255.4,295.4 L255.4,295.3 L255.4,295.2 L255.4,295.2 L255.4,295.1 L255.4,295.0 L255.4,294.9 L255.4,294.8 L255.5,294.7 L255.5,294.6 L255.5,294.5 L255.6,294.4 L255.6,294.3 L255.6,294.2 L255.7,294.1 L255.7,294.0 L255.8,294.0 L255.9,293.9 L255.9,293.8 L256.0,293.8 L256.1,293.7 L256.2,293.6 L256.3,293.6 L256.3,293.5 L256.4,293.5 L256.5,293.4 L256.6,293.4 L256.7,293.3 L256.8,293.3 L256.8,293.2 L256.9,293.2 L257.0,293.1 L257.1,293.0 L257.2,293.0 L257.3,292.9 L257.4,292.9 L257.5,292.8 L257.6,292.8 L257.7,292.8 L257.9,292.7 L258.0,292.7 L258.1,292.7 L258.2,292.7 L258.3,292.7 L258.4,292.7 L258.6,292.7 L258.7,292.8 L258.8,292.8 L258.9,292.9 L259.0,292.9 L259.1,293.0 L259.2,293.1 L259.2,293.2 L259.3,293.3 L259.3,293.4 L259.4,293.5 L259.4,293.6 L259.5,293.8 L259.5,293.9 L259.5,294.0 L259.5,294.1 L259.6,294.2 L259.6,294.3 L259.6,294.4 L259.6,294.5 L259.7,294.5 L259.7,294.6 L259.7,294.7 L259.8,294.8 L259.8,294.9 L259.8,294.9 L259.9,295.0 L259.9,295.1 L259.9,295.2 L260.0,295.3 L260.0,295.4 L260.0,295.4 L260.0,295.5Z M259.4,295.5 L259.4,295.5 L259.4,295.6 L259.4,295.6 L259.4,295.7 L259.4,295.8 L259.3,295.8 L259.3,295.9 L259.3,295.9 L259.3,296.0 L259.3,296.0 L259.3,296.1 L259.2,296.1 L259.2,296.2 L259.2,296.2 L259.1,296.3 L259.1,296.3 L259.1,296.4 L259.0,296.4 L259.0,296.5 L259.0,296.5 L258.9,296.6 L258.9,296.6 L258.9,296.7 L258.8,296.8 L258.8,296.8 L258.8,296.9 L258.7,297.0 L258.7,297.0 L258.7,297.1 L258.6,297.2 L258.6,297.3 L258.5,297.3 L258.5,297.4 L258.4,297.5 L258.3,297.6 L258.2,297.6 L258.2,297.6 L258.1,297.6 L258.0,297.6 L257.9,297.6 L257.8,297.6 L257.7,297.6 L257.7,297.6 L257.6,297.6 L257.5,297.5 L257.4,297.5 L257.3,297.5 L257.3,297.4 L257.2,297.4 L257.1,297.4 L257.1,297.3 L257.0,297.3 L256.9,297.2 L256.9,297.1 L256.8,297.1 L256.8,297.0 L256.8,296.9 L256.7,296.9 L256.7,296.8 L256.6,296.7 L256.6,296.7 L256.6,296.6 L256.6,296.5 L256.6,296.5 L256.5,296.4 L256.5,296.3 L256.5,296.2 L256.5,296.2 L256.5,296.1 L256.5,296.1 L256.5,296.0 L256.5,295.9 L256.5,295.9 L256.5,295.8 L256.5,295.8 L256.5,295.7 L256.4,295.6 L256.4,295.6 L256.4,295.5 L256.4,295.5 L256.4,295.4 L256.4,295.3 L256.4,295.3 L256.4,295.2 L256.4,295.2 L256.4,295.1 L256.4,295.0 L256.4,295.0 L256.4,294.9 L256.4,294.8 L256.4,294.8 L256.4,294.7 L256.5,294.7 L256.5,294.6 L256.5,294.6 L256.6,294.5 L256.6,294.5 L256.7,294.4 L256.7,294.4 L256.7,294.3 L256.8,294.3 L256.8,294.2 L256.9,294.2 L256.9,294.1 L257.0,294.1 L257.0,294.0 L257.1,294.0 L257.1,293.9 L257.2,293.9 L257.2,293.8 L257.3,293.8 L257.4,293.8 L257.4,293.7 L257.5,293.7 L257.6,293.7 L257.6,293.7 L257.7,293.7 L257.8,293.7 L257.8,293.7 L257.9,293.7 L258.0,293.7 L258.0,293.7 L258.1,293.7 L258.2,293.7 L258.2,293.8 L258.3,293.8 L258.4,293.8 L258.4,293.8 L258.5,293.9 L258.6,293.9 L258.6,293.9 L258.7,293.9 L258.7,294.0 L258.8,294.0 L258.9,294.0 L258.9,294.1 L259.0,294.1 L259.0,294.2 L259.1,294.2 L259.1,294.3 L259.2,294.3 L259.2,294.4 L259.2,294.4 L259.3,294.5 L259.3,294.5 L259.3,294.6 L259.3,294.7 L259.3,294.7 L259.3,294.8 L259.4,294.9 L259.4,294.9 L259.4,295.0 L259.4,295.1 L259.4,295.1 L259.4,295.2 L259.4,295.2 L259.4,295.3 L259.4,295.4 L259.4,295.4Z" fill="none" stroke="#222" stroke-width="0.8" stroke-linejoin="round"/><path d="M224.0,308.4 L227.0,310.5 L229.5,312.6 L231.0,315.5" fill="none" stroke="#222" stroke-width="0.8" stroke-linejoin="round"/><path d="M242.2,312.8 L241.8,312.7 L241.4,312.2 L241.1,311.9 L240.7,311.6 L240.5,311.0 L240.8,310.7 L241.1,310.7 L241.3,310.5 L241.7,310.4 L242.1,310.9 L242.2,311.4 L242.1,311.8 L242.3,312.3Z M254.6,288.2 L253.9,288.9 L253.7,289.7 L253.0,290.7 L251.8,290.6 L251.2,289.6 L250.9,288.9 L250.1,288.2 L249.9,287.1 L250.9,286.4 L252.1,286.6 L252.9,286.6 L254.0,286.4 L254.9,287.1Z M247.2,299.1 L246.4,299.4 L245.7,299.0 L245.2,298.7 L244.4,298.5 L243.9,297.8 L244.3,297.1 L245.0,296.8 L245.4,296.4 L246.1,295.9 L246.9,296.1 L247.1,297.0 L247.0,297.6 L247.2,298.3Z M254.3,311.9 L254.6,313.0 L253.7,313.9 L252.5,313.5 L251.7,313.0 L250.8,312.8 L249.7,312.1 L249.9,311.0 L250.9,310.4 L251.6,310.0 L252.4,309.2 L253.6,309.1 L254.3,310.1 L254.1,311.1Z M250.9,310.2 L250.8,309.8 L250.6,309.4 L250.9,308.8 L251.6,308.5 L252.1,308.5 L252.6,308.4 L253.3,308.3 L253.5,308.8 L253.0,309.4 L252.5,309.8 L252.2,310.3 L251.5,310.8 L250.9,310.7Z M256.2,290.7 L256.4,291.2 L256.0,291.6 L255.4,291.5 L255.0,291.3 L254.5,291.3 L254.0,291.1 L254.0,290.6 L254.4,290.2 L254.8,290.0 L255.1,289.6 L255.6,289.5 L256.0,289.9 L256.0,290.4Z M239.5,302.4 L239.4,302.8 L239.0,303.2 L238.3,303.0 L237.8,302.4 L237.6,302.0 L237.0,301.5 L236.9,300.8 L237.5,300.7 L238.2,300.9 L238.7,300.9 L239.4,301.0 L240.0,301.6 L239.9,302.1Z M258.6,307.1 L258.1,306.6 L257.5,306.3 L256.9,305.7 L257.1,304.8 L257.9,304.3 L258.4,304.1 L259.0,303.5 L259.8,303.5 L260.2,304.4 L260.0,305.2 L260.0,305.9 L260.0,306.9 L259.4,307.5Z M257.3,293.1 L257.6,292.7 L257.8,292.3 L258.0,291.7 L258.6,291.4 L259.1,291.9 L259.3,292.4 L259.7,292.7 L260.0,293.3 L259.6,293.8 L259.0,293.9 L258.5,293.8 L257.9,294.0 L257.3,293.8Z M253.5,306.6 L254.2,305.9 L254.4,305.4 L254.8,304.6 L255.9,304.2 L256.8,304.5 L257.2,304.9 L257.9,305.1 L258.5,305.6 L257.7,306.4 L256.5,306.6 L255.7,306.9 L254.7,307.3 L253.6,307.3Z M247.6,305.4 L247.3,306.1 L246.5,306.1 L245.9,305.3 L245.7,304.6 L245.3,304.0 L244.9,303.1 L245.4,302.5 L246.2,302.8 L246.8,303.1 L247.5,303.1 L248.2,303.7 L248.3,304.5 L247.8,305.0Z M255.1,288.4 L254.5,287.8 L254.8,287.1 L255.6,286.9 L256.2,286.9 L256.8,286.6 L257.6,286.6 L257.9,287.2 L257.5,287.9 L257.3,288.4 L257.2,289.0 L256.5,289.5 L255.8,289.2 L255.5,288.7Z M243.1,311.4 L242.5,311.6 L241.6,311.1 L241.0,310.8 L240.2,310.5 L239.4,309.8 L239.5,309.2 L240.1,309.0 L240.3,308.8 L240.7,308.4 L241.6,308.7 L242.2,309.5 L242.3,310.0 L242.8,310.7Z M238.0,304.5 L238.2,305.1 L237.8,305.6 L237.0,305.5 L236.6,305.0 L236.1,304.8 L235.5,304.4 L235.4,303.8 L236.0,303.5 L236.6,303.4 L237.0,303.1 L237.7,303.0 L238.2,303.5 L238.1,304.1Z M254.4,307.8 L254.3,308.5 L253.5,308.7 L252.7,308.1 L252.3,307.5 L251.6,307.1 L251.0,306.3 L251.4,305.7 L252.2,305.7 L252.8,305.7 L253.5,305.5 L254.4,305.9 L254.7,306.7 L254.4,307.3Z M238.3,300.3 L237.9,300.3 L237.8,299.9 L238.2,299.5 L238.5,299.2 L238.8,298.9 L239.2,298.5 L239.5,298.5 L239.5,299.0 L239.4,299.4 L239.4,299.7 L239.2,300.3 L238.8,300.5 L238.5,300.4Z M244.9,309.0 L245.0,308.0 L245.6,307.2 L245.7,306.4 L246.2,305.4 L247.2,305.0 L247.9,305.6 L248.2,306.2 L248.9,306.5 L249.3,307.4 L248.6,308.3 L247.6,308.5 L246.8,308.8 L245.9,309.3Z M253.9,310.8 L253.8,310.5 L253.5,310.2 L253.7,309.7 L254.2,309.5 L254.6,309.6 L254.9,309.5 L255.4,309.5 L255.6,309.9 L255.3,310.4 L255.1,310.7 L254.9,311.1 L254.5,311.4 L254.0,311.2Z M246.3,300.3 L246.1,299.6 L246.7,298.7 L247.1,298.2 L247.4,297.4 L248.2,296.7 L248.9,296.9 L249.0,297.5 L249.3,297.9 L249.7,298.4 L249.4,299.3 L248.5,299.7 L247.8,299.7 L247.1,300.1Z M237.0,311.3 L237.0,311.7 L236.5,311.8 L236.0,311.6 L235.6,311.6 L235.1,311.6 L234.7,311.3 L234.9,311.0 L235.3,310.8 L235.4,310.6 L235.8,310.4 L236.3,310.5 L236.5,310.8 L236.6,311.1Z M239.7,310.8 L240.0,311.4 L239.7,312.2 L238.7,312.3 L237.9,311.9 L237.2,311.6 L236.3,311.4 L235.8,310.7 L236.5,310.2 L237.3,310.0 L237.9,309.6 L238.8,309.2 L239.7,309.6 L239.8,310.3Z M248.8,309.2 L248.9,309.6 L248.6,310.0 L247.8,310.0 L247.1,309.5 L246.7,309.3 L246.0,308.9 L245.6,308.4 L246.2,308.2 L247.0,308.2 L247.5,308.1 L248.3,308.0 L249.0,308.4 L249.1,308.9Z M245.8,293.5 L245.2,293.8 L244.7,293.4 L244.7,292.7 L244.7,292.2 L244.6,291.6 L244.9,290.9 L245.5,290.9 L246.0,291.4 L246.3,291.6 L246.9,291.9 L247.1,292.5 L246.6,293.0 L246.1,293.2Z M258.4,298.8 L257.8,299.3 L257.0,299.1 L256.7,298.1 L256.8,297.2 L256.6,296.4 L256.6,295.3 L257.2,294.8 L258.0,295.4 L258.5,296.0 L259.1,296.3 L259.8,297.2 L259.6,298.2 L258.9,298.5Z M245.2,301.0 L244.7,301.2 L243.8,301.1 L243.2,301.1 L242.4,301.1 L241.6,300.7 L241.6,300.2 L241.9,299.9 L241.9,299.5 L242.2,299.1 L243.0,299.2 L243.7,299.7 L244.1,300.0 L244.8,300.4Z M250.4,295.7 L250.1,296.0 L249.7,295.9 L249.4,295.2 L249.4,294.5 L249.3,294.0 L249.2,293.2 L249.5,292.8 L250.0,293.2 L250.3,293.8 L250.6,294.1 L251.1,294.7 L251.1,295.4 L250.7,295.6Z M237.4,305.2 L236.7,305.3 L236.0,304.6 L235.5,304.1 L234.8,303.6 L234.2,302.8 L234.4,302.1 L235.1,302.1 L235.5,301.9 L236.0,301.5 L236.8,302.0 L237.1,303.0 L237.1,303.6 L237.3,304.3Z M250.4,296.0 L250.3,296.4 L249.8,296.4 L249.4,295.9 L249.2,295.6 L248.8,295.3 L248.6,294.8 L248.9,294.5 L249.3,294.6 L249.6,294.6 L250.1,294.6 L250.5,294.9 L250.6,295.4 L250.4,295.7Z M248.9,298.5 L249.6,298.0 L250.1,297.7 L250.4,297.2 L251.2,296.8 L251.9,297.2 L252.0,297.9 L252.2,298.3 L252.6,298.9 L252.2,299.6 L251.3,299.6 L250.7,299.4 L250.0,299.4 L249.1,299.2Z M252.2,292.8 L252.1,293.7 L251.4,294.7 L250.3,294.6 L249.7,293.6 L249.2,293.0 L248.3,292.3 L248.2,291.2 L249.2,290.6 L250.2,290.7 L250.9,290.4 L252.1,290.2 L252.9,291.0 L252.6,292.1Z" fill="none" stroke="#444" stroke-width="0.6" stroke-linejoin="round"/><path d="M274.7,243.0 L274.6,243.5 L274.4,243.9 L274.2,244.3 L274.0,244.7 L273.8,245.1 L273.6,245.5 L273.4,245.9 L273.2,246.3 L273.0,246.7 L272.8,247.1 L272.6,247.4 L272.4,247.8 L272.2,248.2 L272.0,248.5 L271.8,248.9 L271.5,249.2 L271.2,249.5 L270.9,249.8 L270.7,250.1 L270.4,250.4 L270.1,250.7 L269.8,251.0 L269.5,251.2 L269.2,251.5 L268.9,251.9 L268.6,252.2 L268.3,252.5 L268.0,252.8 L267.7,253.1 L267.3,253.5 L266.9,253.6 L266.4,253.6 L266.0,253.7 L265.6,253.7 L265.1,253.8 L264.7,253.8 L264.3,253.9 L263.9,253.9 L263.4,254.0 L263.0,254.1 L262.6,254.1 L262.1,254.2 L261.7,254.1 L261.3,253.9 L260.9,253.6 L260.5,253.4 L260.1,253.2 L259.7,253.0 L259.4,252.8 L259.0,252.6 L258.7,252.4 L258.3,252.2 L258.0,252.0 L257.6,251.8 L257.2,251.6 L256.9,251.4 L256.5,251.2 L256.2,251.0 L255.9,250.7 L255.6,250.4 L255.3,250.2 L254.9,249.9 L254.6,249.6 L254.3,249.3 L254.0,249.0 L253.6,248.8 L253.3,248.5 L252.9,248.1 L252.5,247.8 L252.1,247.5 L251.8,247.1 L251.7,246.7 L251.6,246.2 L251.4,245.8 L251.3,245.3 L251.1,244.9 L251.0,244.4 L250.8,244.0 L250.7,243.5 L250.5,243.0 L250.5,242.5 L250.7,242.0 L251.0,241.6 L251.2,241.1 L251.4,240.7 L251.6,240.3 L251.8,239.8 L252.0,239.4 L252.2,239.0 L252.4,238.6 L252.6,238.2 L253.0,237.9 L253.3,237.6 L253.7,237.3 L254.0,237.0 L254.3,236.7 L254.7,236.4 L255.0,236.2 L255.3,235.9 L255.6,235.6 L255.9,235.4 L256.2,235.1 L256.6,234.8 L256.9,234.6 L257.2,234.3 L257.6,234.1 L258.0,234.0 L258.4,233.9 L258.7,233.8 L259.1,233.6 L259.5,233.5 L259.9,233.4 L260.3,233.3 L260.6,233.2 L261.0,233.1 L261.4,232.9 L261.8,232.8 L262.2,232.7 L262.6,232.6 L263.0,232.5 L263.4,232.3 L263.8,232.2 L264.3,232.2 L264.7,232.1 L265.2,232.0 L265.6,232.0 L266.1,231.9 L266.6,231.8 L267.2,231.7 L267.7,231.7 L268.3,231.6 L268.8,231.5 L269.3,231.8 L269.8,232.0 L270.2,232.2 L270.7,232.4 L271.1,232.7 L271.6,232.9 L272.1,233.2 L272.6,233.4 L273.1,233.7 L273.6,233.9 L274.2,234.2 L274.4,234.7 L274.6,235.2 L274.8,235.7 L275.0,236.3 L275.2,236.8 L275.5,237.3 L275.7,237.8 L275.8,238.3 L275.6,238.9 L275.5,239.5 L275.4,240.0 L275.3,240.6 L275.1,241.1 L275.0,241.6 L274.9,242.1 L274.8,242.5Z M274.3,243.0 L274.2,243.4 L274.0,243.9 L273.8,244.3 L273.6,244.7 L273.4,245.1 L273.2,245.4 L273.0,245.8 L272.9,246.2 L272.7,246.6 L272.6,247.0 L272.4,247.3 L272.2,247.7 L272.0,248.0 L271.8,248.4 L271.5,248.7 L271.2,249.0 L270.9,249.2 L270.5,249.4 L270.2,249.7 L269.9,249.9 L269.6,250.1 L269.3,250.3 L269.0,250.6 L268.7,250.9 L268.4,251.1 L268.2,251.5 L267.9,251.8 L267.7,252.1 L267.4,252.5 L267.1,252.9 L266.7,253.1 L266.3,253.2 L265.9,253.3 L265.5,253.5 L265.1,253.5 L264.7,253.6 L264.2,253.7 L263.8,253.7 L263.4,253.7 L263.0,253.7 L262.6,253.7 L262.1,253.8 L261.7,253.7 L261.3,253.5 L260.9,253.3 L260.6,253.1 L260.2,252.9 L259.8,252.7 L259.4,252.6 L259.1,252.4 L258.7,252.2 L258.4,252.0 L258.0,251.8 L257.7,251.6 L257.4,251.4 L257.1,251.1 L256.8,250.9 L256.5,250.5 L256.3,250.2 L256.0,249.9 L255.8,249.6 L255.5,249.3 L255.3,249.1 L255.0,248.8 L254.7,248.5 L254.3,248.3 L254.0,248.0 L253.6,247.8 L253.1,247.5 L252.7,247.2 L252.4,246.9 L252.1,246.5 L251.9,246.1 L251.7,245.7 L251.6,245.3 L251.4,244.8 L251.3,244.4 L251.2,243.9 L251.1,243.5 L251.0,243.0 L251.0,242.5 L251.2,242.1 L251.5,241.6 L251.7,241.2 L251.9,240.8 L252.0,240.4 L252.2,239.9 L252.4,239.5 L252.5,239.1 L252.7,238.7 L252.9,238.3 L253.2,238.0 L253.5,237.7 L253.9,237.4 L254.3,237.2 L254.6,236.9 L255.0,236.7 L255.4,236.5 L255.7,236.3 L256.1,236.1 L256.4,235.9 L256.7,235.7 L257.0,235.5 L257.3,235.2 L257.6,235.0 L257.9,234.8 L258.3,234.6 L258.6,234.4 L258.9,234.2 L259.3,234.0 L259.6,233.8 L260.0,233.6 L260.3,233.5 L260.7,233.3 L261.0,233.2 L261.4,233.1 L261.8,233.0 L262.2,232.9 L262.6,232.8 L263.0,232.7 L263.4,232.6 L263.8,232.6 L264.2,232.5 L264.6,232.5 L265.1,232.4 L265.5,232.4 L266.0,232.3 L266.5,232.2 L267.0,232.1 L267.5,232.0 L268.1,231.9 L268.6,231.9 L269.1,232.1 L269.5,232.4 L269.9,232.7 L270.3,233.0 L270.6,233.3 L271.0,233.6 L271.4,233.9 L271.8,234.2 L272.2,234.5 L272.6,234.8 L273.0,235.1 L273.3,235.5 L273.5,236.0 L273.7,236.4 L274.0,236.8 L274.2,237.3 L274.5,237.7 L274.8,238.1 L275.0,238.5 L275.0,239.1 L275.0,239.6 L274.9,240.1 L274.9,240.6 L274.8,241.1 L274.7,241.6 L274.6,242.1 L274.4,242.5Z M274.0,243.0 L273.9,243.4 L273.6,243.8 L273.4,244.2 L273.2,244.6 L272.9,245.0 L272.7,245.3 L272.5,245.7 L272.3,246.0 L272.1,246.3 L271.9,246.7 L271.7,247.0 L271.5,247.3 L271.3,247.6 L271.1,248.0 L270.9,248.3 L270.7,248.6 L270.4,248.8 L270.2,249.1 L269.9,249.4 L269.7,249.7 L269.4,250.0 L269.2,250.2 L268.9,250.5 L268.7,250.8 L268.4,251.1 L268.1,251.3 L267.8,251.6 L267.5,251.9 L267.2,252.2 L266.9,252.4 L266.5,252.5 L266.1,252.6 L265.7,252.7 L265.3,252.7 L264.9,252.8 L264.5,252.9 L264.2,253.0 L263.8,253.0 L263.4,253.1 L263.0,253.2 L262.6,253.3 L262.2,253.4 L261.7,253.3 L261.4,253.2 L261.0,253.0 L260.6,252.8 L260.2,252.6 L259.9,252.4 L259.6,252.2 L259.2,252.0 L258.9,251.8 L258.6,251.6 L258.3,251.3 L258.0,251.1 L257.7,250.9 L257.4,250.6 L257.1,250.4 L256.9,250.1 L256.6,249.8 L256.4,249.5 L256.1,249.3 L255.9,249.0 L255.6,248.8 L255.3,248.5 L255.0,248.3 L254.7,248.1 L254.3,247.8 L254.0,247.6 L253.6,247.3 L253.2,247.0 L252.8,246.7 L252.6,246.3 L252.4,245.9 L252.2,245.6 L252.1,245.1 L251.9,244.7 L251.7,244.3 L251.6,243.9 L251.5,243.4 L251.3,243.0 L251.4,242.5 L251.6,242.1 L251.9,241.7 L252.1,241.3 L252.3,240.9 L252.6,240.5 L252.8,240.1 L253.0,239.7 L253.3,239.4 L253.5,239.0 L253.7,238.7 L254.0,238.4 L254.3,238.1 L254.6,237.8 L254.9,237.6 L255.2,237.3 L255.4,237.0 L255.7,236.8 L256.0,236.5 L256.2,236.2 L256.5,236.0 L256.8,235.7 L257.1,235.5 L257.4,235.2 L257.6,235.0 L258.0,234.8 L258.3,234.7 L258.7,234.6 L259.1,234.5 L259.4,234.4 L259.8,234.3 L260.1,234.1 L260.5,234.0 L260.8,233.9 L261.1,233.8 L261.5,233.7 L261.9,233.5 L262.2,233.4 L262.6,233.3 L263.0,233.1 L263.4,233.0 L263.8,232.9 L264.2,232.8 L264.6,232.8 L265.0,232.7 L265.5,232.6 L265.9,232.6 L266.4,232.6 L266.8,232.5 L267.3,232.5 L267.8,232.5 L268.3,232.6 L268.6,232.9 L269.0,233.1 L269.4,233.4 L269.7,233.7 L270.1,234.0 L270.4,234.2 L270.8,234.5 L271.2,234.8 L271.6,235.0 L272.0,235.3 L272.4,235.5 L272.7,235.9 L272.9,236.4 L273.1,236.8 L273.4,237.2 L273.6,237.5 L273.9,237.9 L274.2,238.3 L274.3,238.8 L274.3,239.3 L274.3,239.8 L274.3,240.2 L274.3,240.7 L274.3,241.2 L274.2,241.6 L274.1,242.1 L274.1,242.5Z" fill="none" stroke="#444" stroke-width="0.8" stroke-linejoin="round"/><path d="M273.0,243.0 L272.9,243.3 L272.7,243.7 L272.6,244.1 L272.4,244.5 L272.3,244.8 L272.1,245.2 L272.0,245.5 L271.8,245.8 L271.7,246.2 L271.5,246.5 L271.3,246.8 L271.2,247.1 L271.0,247.5 L270.8,247.8 L270.6,248.1 L270.4,248.4 L270.2,248.6 L269.9,248.9 L269.7,249.2 L269.4,249.4 L269.2,249.7 L268.9,249.9 L268.6,250.2 L268.4,250.4 L268.1,250.7 L267.8,250.9 L267.6,251.2 L267.3,251.4 L267.0,251.7 L266.7,252.0 L266.3,252.1 L265.9,252.1 L265.6,252.2 L265.2,252.2 L264.8,252.3 L264.4,252.3 L264.1,252.4 L263.7,252.4 L263.3,252.5 L263.0,252.5 L262.6,252.6 L262.2,252.6 L261.8,252.5 L261.5,252.4 L261.1,252.2 L260.8,252.0 L260.4,251.9 L260.1,251.7 L259.8,251.5 L259.5,251.4 L259.2,251.2 L258.8,251.0 L258.5,250.9 L258.2,250.7 L257.9,250.5 L257.6,250.3 L257.3,250.1 L257.0,249.9 L256.7,249.7 L256.5,249.4 L256.2,249.2 L255.9,249.0 L255.7,248.7 L255.4,248.5 L255.1,248.2 L254.8,247.9 L254.6,247.7 L254.3,247.4 L254.0,247.1 L253.7,246.8 L253.5,246.5 L253.3,246.1 L253.2,245.7 L253.1,245.3 L253.0,244.9 L252.9,244.6 L252.7,244.2 L252.6,243.8 L252.5,243.4 L252.4,243.0 L252.4,242.5 L252.6,242.1 L252.7,241.7 L252.9,241.4 L253.1,241.0 L253.2,240.6 L253.4,240.3 L253.6,239.9 L253.7,239.6 L253.9,239.2 L254.1,238.9 L254.3,238.6 L254.6,238.3 L254.9,238.0 L255.1,237.7 L255.4,237.5 L255.7,237.2 L256.0,237.0 L256.2,236.7 L256.5,236.5 L256.8,236.3 L257.0,236.0 L257.3,235.8 L257.6,235.6 L257.9,235.3 L258.2,235.2 L258.5,235.1 L258.9,234.9 L259.2,234.8 L259.5,234.7 L259.9,234.6 L260.2,234.5 L260.5,234.4 L260.9,234.3 L261.2,234.2 L261.6,234.1 L261.9,234.0 L262.2,233.9 L262.6,233.8 L263.0,233.7 L263.3,233.7 L263.7,233.6 L264.1,233.6 L264.4,233.5 L264.8,233.5 L265.2,233.5 L265.6,233.4 L266.1,233.4 L266.5,233.4 L266.9,233.4 L267.4,233.3 L267.9,233.3 L268.2,233.5 L268.6,233.7 L269.0,233.9 L269.4,234.1 L269.8,234.3 L270.1,234.5 L270.5,234.8 L270.9,235.0 L271.3,235.2 L271.7,235.5 L272.2,235.7 L272.4,236.1 L272.6,236.5 L272.8,237.0 L272.9,237.4 L273.1,237.8 L273.3,238.2 L273.5,238.6 L273.6,239.0 L273.5,239.5 L273.4,240.0 L273.4,240.5 L273.3,240.9 L273.2,241.3 L273.2,241.7 L273.1,242.2 L273.0,242.6Z M272.7,243.0 L272.6,243.3 L272.5,243.7 L272.3,244.1 L272.2,244.4 L272.1,244.8 L271.9,245.1 L271.8,245.4 L271.7,245.8 L271.5,246.1 L271.4,246.4 L271.2,246.8 L271.0,247.1 L270.8,247.4 L270.6,247.7 L270.4,247.9 L270.1,248.2 L269.9,248.4 L269.6,248.6 L269.3,248.8 L269.1,249.1 L268.8,249.3 L268.6,249.5 L268.3,249.8 L268.1,250.0 L267.9,250.3 L267.6,250.6 L267.4,250.8 L267.1,251.1 L266.8,251.4 L266.5,251.6 L266.2,251.7 L265.8,251.8 L265.5,251.8 L265.1,251.9 L264.7,251.9 L264.4,251.9 L264.0,251.9 L263.7,251.9 L263.3,251.9 L263.0,252.0 L262.6,252.0 L262.2,252.1 L261.9,252.0 L261.5,251.9 L261.2,251.8 L260.8,251.7 L260.5,251.6 L260.2,251.5 L259.8,251.4 L259.5,251.2 L259.2,251.1 L258.9,250.9 L258.6,250.8 L258.3,250.6 L258.0,250.4 L257.7,250.2 L257.4,250.0 L257.2,249.7 L256.9,249.5 L256.6,249.3 L256.4,249.0 L256.1,248.8 L255.8,248.6 L255.5,248.4 L255.2,248.1 L254.9,247.9 L254.6,247.6 L254.3,247.4 L254.0,247.1 L253.7,246.8 L253.4,246.5 L253.3,246.1 L253.2,245.7 L253.1,245.3 L253.0,244.9 L253.0,244.5 L252.9,244.1 L252.9,243.7 L252.8,243.3 L252.7,243.0 L252.7,242.5 L252.9,242.2 L253.0,241.8 L253.2,241.4 L253.3,241.0 L253.4,240.7 L253.6,240.3 L253.7,239.9 L253.9,239.6 L254.0,239.2 L254.2,238.9 L254.5,238.6 L254.8,238.4 L255.1,238.1 L255.4,237.9 L255.7,237.7 L256.0,237.5 L256.3,237.2 L256.6,237.0 L256.8,236.8 L257.1,236.6 L257.4,236.4 L257.6,236.2 L257.9,235.9 L258.1,235.7 L258.4,235.5 L258.7,235.4 L259.0,235.2 L259.3,235.1 L259.6,235.0 L260.0,234.9 L260.3,234.8 L260.6,234.7 L260.9,234.6 L261.3,234.5 L261.6,234.5 L261.9,234.4 L262.3,234.4 L262.6,234.3 L263.0,234.2 L263.3,234.2 L263.6,234.1 L264.0,234.0 L264.4,234.0 L264.8,233.9 L265.1,233.8 L265.6,233.7 L266.0,233.7 L266.4,233.6 L266.8,233.5 L267.3,233.5 L267.8,233.5 L268.1,233.7 L268.5,233.9 L268.9,234.1 L269.2,234.3 L269.6,234.6 L269.9,234.8 L270.3,235.0 L270.7,235.2 L271.0,235.5 L271.5,235.7 L271.9,235.9 L272.1,236.3 L272.4,236.7 L272.6,237.0 L272.8,237.4 L273.0,237.8 L273.2,238.2 L273.4,238.6 L273.5,239.0 L273.5,239.5 L273.4,240.0 L273.3,240.5 L273.2,240.9 L273.1,241.3 L273.0,241.8 L272.9,242.2 L272.8,242.6Z M272.2,242.9 L272.1,243.3 L271.9,243.6 L271.7,244.0 L271.6,244.3 L271.4,244.6 L271.3,245.0 L271.2,245.3 L271.1,245.6 L271.0,245.9 L270.9,246.2 L270.8,246.6 L270.7,246.9 L270.6,247.2 L270.4,247.5 L270.2,247.8 L270.0,248.1 L269.8,248.3 L269.5,248.6 L269.3,248.8 L269.0,249.0 L268.8,249.3 L268.5,249.5 L268.3,249.7 L268.1,250.0 L267.8,250.2 L267.6,250.5 L267.3,250.8 L267.1,251.1 L266.8,251.3 L266.5,251.6 L266.2,251.8 L265.8,251.8 L265.5,251.9 L265.1,252.0 L264.8,252.0 L264.4,252.1 L264.0,252.1 L263.7,252.1 L263.3,252.1 L262.9,252.0 L262.6,252.0 L262.2,252.0 L261.9,251.9 L261.6,251.7 L261.2,251.6 L260.9,251.4 L260.6,251.3 L260.3,251.1 L260.0,251.0 L259.7,250.9 L259.4,250.7 L259.1,250.6 L258.8,250.4 L258.5,250.2 L258.2,250.1 L257.9,249.9 L257.6,249.7 L257.4,249.4 L257.2,249.2 L257.0,248.9 L256.7,248.7 L256.5,248.5 L256.3,248.2 L256.0,248.0 L255.7,247.8 L255.5,247.5 L255.2,247.3 L254.9,247.1 L254.6,246.8 L254.2,246.6 L254.0,246.3 L253.8,245.9 L253.6,245.6 L253.5,245.2 L253.4,244.8 L253.3,244.5 L253.2,244.1 L253.1,243.7 L253.0,243.3 L253.0,242.9 L253.0,242.6 L253.1,242.2 L253.3,241.8 L253.4,241.4 L253.6,241.1 L253.7,240.7 L253.8,240.4 L254.0,240.0 L254.1,239.7 L254.2,239.3 L254.4,239.0 L254.6,238.7 L254.8,238.4 L255.1,238.1 L255.4,237.9 L255.7,237.7 L256.0,237.5 L256.3,237.2 L256.6,237.1 L256.9,236.9 L257.2,236.7 L257.4,236.5 L257.7,236.3 L258.0,236.1 L258.3,235.9 L258.5,235.8 L258.9,235.6 L259.2,235.5 L259.5,235.4 L259.8,235.2 L260.1,235.1 L260.4,235.0 L260.7,234.9 L261.0,234.8 L261.3,234.7 L261.6,234.6 L261.9,234.5 L262.3,234.5 L262.6,234.4 L262.9,234.4 L263.3,234.3 L263.6,234.3 L264.0,234.3 L264.3,234.2 L264.7,234.2 L265.1,234.1 L265.5,234.0 L265.9,234.0 L266.3,233.9 L266.7,233.8 L267.2,233.8 L267.6,233.7 L268.0,233.9 L268.4,234.0 L268.8,234.2 L269.1,234.4 L269.5,234.7 L269.8,234.9 L270.2,235.1 L270.5,235.4 L270.8,235.6 L271.2,235.9 L271.6,236.2 L271.7,236.6 L271.9,237.0 L272.1,237.3 L272.3,237.7 L272.5,238.1 L272.6,238.5 L272.8,238.8 L272.9,239.3 L272.9,239.7 L272.8,240.2 L272.8,240.6 L272.7,241.0 L272.6,241.4 L272.5,241.8 L272.4,242.2 L272.3,242.6Z M271.9,242.9 L271.8,243.3 L271.6,243.6 L271.5,243.9 L271.3,244.3 L271.2,244.6 L271.1,244.9 L270.9,245.2 L270.8,245.5 L270.7,245.8 L270.6,246.1 L270.5,246.4 L270.4,246.7 L270.3,247.1 L270.2,247.4 L270.0,247.7 L269.8,247.9 L269.6,248.2 L269.3,248.4 L269.1,248.6 L268.9,248.9 L268.6,249.1 L268.4,249.3 L268.1,249.5 L267.9,249.7 L267.6,249.9 L267.4,250.2 L267.1,250.4 L266.9,250.7 L266.6,250.9 L266.4,251.2 L266.0,251.4 L265.7,251.5 L265.4,251.6 L265.0,251.7 L264.7,251.7 L264.3,251.8 L264.0,251.8 L263.6,251.9 L263.3,251.9 L262.9,251.9 L262.6,251.9 L262.2,251.9 L261.9,251.8 L261.6,251.6 L261.2,251.4 L260.9,251.3 L260.6,251.2 L260.3,251.0 L260.0,250.9 L259.7,250.8 L259.4,250.7 L259.1,250.5 L258.8,250.4 L258.5,250.2 L258.2,250.1 L257.9,249.9 L257.6,249.7 L257.4,249.4 L257.1,249.2 L256.9,248.9 L256.7,248.7 L256.5,248.4 L256.3,248.2 L256.1,247.9 L255.9,247.7 L255.6,247.4 L255.4,247.2 L255.2,246.9 L254.9,246.6 L254.6,246.4 L254.4,246.1 L254.2,245.8 L254.1,245.4 L254.0,245.1 L253.9,244.7 L253.8,244.4 L253.7,244.0 L253.6,243.7 L253.6,243.3 L253.5,242.9 L253.6,242.6 L253.8,242.2 L253.9,241.9 L254.1,241.5 L254.2,241.2 L254.4,240.9 L254.5,240.6 L254.6,240.2 L254.7,239.9 L254.8,239.6 L254.9,239.2 L255.1,238.9 L255.3,238.7 L255.5,238.4 L255.8,238.1 L256.0,237.9 L256.2,237.7 L256.5,237.4 L256.7,237.2 L257.0,237.0 L257.3,236.8 L257.5,236.6 L257.8,236.4 L258.0,236.2 L258.3,236.0 L258.6,235.8 L258.9,235.7 L259.2,235.6 L259.5,235.4 L259.8,235.3 L260.1,235.1 L260.3,235.0 L260.7,234.8 L261.0,234.7 L261.3,234.6 L261.6,234.5 L261.9,234.4 L262.3,234.4 L262.6,234.3 L262.9,234.3 L263.3,234.2 L263.6,234.2 L264.0,234.2 L264.3,234.2 L264.7,234.2 L265.0,234.2 L265.4,234.2 L265.8,234.2 L266.2,234.1 L266.6,234.1 L267.0,234.1 L267.5,234.1 L267.8,234.2 L268.2,234.4 L268.5,234.6 L268.9,234.8 L269.2,235.0 L269.5,235.2 L269.8,235.5 L270.2,235.7 L270.5,236.0 L270.8,236.2 L271.1,236.5 L271.3,236.9 L271.4,237.3 L271.6,237.6 L271.7,238.0 L271.9,238.4 L272.1,238.7 L272.2,239.1 L272.4,239.5 L272.4,239.9 L272.3,240.3 L272.3,240.7 L272.3,241.1 L272.2,241.5 L272.2,241.8 L272.1,242.2 L272.0,242.6Z M271.6,242.9 L271.6,243.3 L271.5,243.6 L271.4,243.9 L271.3,244.3 L271.2,244.6 L271.1,244.9 L270.9,245.2 L270.8,245.5 L270.7,245.8 L270.5,246.1 L270.4,246.4 L270.2,246.7 L270.1,246.9 L269.9,247.2 L269.8,247.5 L269.6,247.8 L269.4,248.0 L269.2,248.3 L269.0,248.5 L268.8,248.8 L268.6,249.0 L268.3,249.3 L268.1,249.5 L267.9,249.7 L267.6,250.0 L267.4,250.2 L267.1,250.4 L266.8,250.6 L266.6,250.8 L266.3,251.0 L265.9,251.0 L265.6,251.0 L265.2,251.0 L264.9,251.0 L264.5,251.0 L264.2,251.0 L263.9,251.0 L263.6,251.1 L263.2,251.1 L262.9,251.1 L262.6,251.2 L262.3,251.2 L261.9,251.2 L261.6,251.1 L261.3,251.0 L261.0,251.0 L260.7,250.9 L260.4,250.8 L260.1,250.7 L259.8,250.5 L259.5,250.4 L259.2,250.3 L258.9,250.1 L258.6,250.0 L258.3,249.8 L258.1,249.6 L257.8,249.4 L257.6,249.2 L257.3,249.0 L257.1,248.8 L256.9,248.5 L256.6,248.3 L256.4,248.1 L256.2,247.8 L255.9,247.6 L255.7,247.4 L255.4,247.1 L255.2,246.9 L254.9,246.6 L254.7,246.3 L254.5,246.0 L254.4,245.7 L254.3,245.4 L254.2,245.0 L254.2,244.7 L254.1,244.3 L254.1,244.0 L254.0,243.6 L254.0,243.3 L253.9,242.9 L254.0,242.6 L254.1,242.2 L254.2,241.9 L254.4,241.6 L254.5,241.2 L254.6,240.9 L254.7,240.6 L254.7,240.3 L254.8,239.9 L254.9,239.6 L255.0,239.3 L255.2,239.0 L255.4,238.7 L255.6,238.4 L255.8,238.2 L256.0,237.9 L256.3,237.7 L256.5,237.4 L256.8,237.2 L257.0,237.0 L257.3,236.8 L257.6,236.6 L257.8,236.5 L258.1,236.3 L258.4,236.1 L258.7,236.0 L259.0,235.9 L259.3,235.8 L259.6,235.7 L259.9,235.6 L260.2,235.5 L260.5,235.4 L260.8,235.3 L261.1,235.2 L261.4,235.1 L261.7,235.0 L262.0,235.0 L262.3,234.9 L262.6,234.8 L262.9,234.8 L263.3,234.7 L263.6,234.7 L263.9,234.7 L264.2,234.7 L264.6,234.7 L264.9,234.7 L265.3,234.7 L265.6,234.7 L266.0,234.7 L266.4,234.6 L266.8,234.6 L267.2,234.6 L267.5,234.7 L267.9,234.8 L268.2,235.0 L268.6,235.1 L269.0,235.3 L269.3,235.4 L269.7,235.6 L270.1,235.8 L270.4,236.0 L270.8,236.2 L271.1,236.5 L271.3,236.9 L271.4,237.3 L271.5,237.7 L271.6,238.0 L271.7,238.4 L271.8,238.8 L271.9,239.2 L272.0,239.6 L271.9,240.0 L271.8,240.4 L271.8,240.8 L271.7,241.2 L271.7,241.5 L271.7,241.9 L271.7,242.2 L271.6,242.6Z M271.3,242.9 L271.3,243.2 L271.1,243.6 L271.0,243.9 L270.8,244.2 L270.7,244.5 L270.6,244.8 L270.4,245.0 L270.3,245.3 L270.2,245.6 L270.1,245.9 L270.0,246.2 L269.9,246.5 L269.8,246.8 L269.7,247.1 L269.5,247.3 L269.4,247.6 L269.2,247.8 L269.0,248.1 L268.8,248.3 L268.6,248.6 L268.4,248.8 L268.1,249.0 L267.9,249.2 L267.6,249.4 L267.4,249.6 L267.1,249.8 L266.9,250.0 L266.6,250.2 L266.4,250.4 L266.1,250.6 L265.8,250.7 L265.5,250.8 L265.2,250.9 L264.8,250.9 L264.5,251.0 L264.2,251.1 L263.9,251.2 L263.6,251.3 L263.3,251.3 L262.9,251.4 L262.6,251.4 L262.2,251.4 L261.9,251.4 L261.6,251.2 L261.3,251.1 L261.0,250.9 L260.7,250.8 L260.4,250.6 L260.1,250.4 L259.9,250.3 L259.6,250.1 L259.4,249.9 L259.1,249.8 L258.8,249.6 L258.6,249.4 L258.3,249.3 L258.0,249.1 L257.8,248.9 L257.5,248.7 L257.3,248.5 L257.0,248.3 L256.8,248.1 L256.6,247.9 L256.3,247.7 L256.1,247.5 L255.9,247.2 L255.7,247.0 L255.5,246.7 L255.3,246.4 L255.1,246.2 L255.0,245.9 L254.9,245.5 L254.8,245.2 L254.8,244.9 L254.7,244.6 L254.6,244.2 L254.6,243.9 L254.5,243.6 L254.4,243.3 L254.3,242.9 L254.2,242.6 L254.3,242.2 L254.4,241.9 L254.5,241.6 L254.6,241.3 L254.7,240.9 L254.8,240.6 L254.9,240.3 L255.1,240.0 L255.2,239.7 L255.4,239.4 L255.6,239.2 L255.8,238.9 L256.1,238.7 L256.3,238.5 L256.5,238.3 L256.8,238.1 L257.0,237.8 L257.2,237.6 L257.4,237.4 L257.6,237.2 L257.8,237.0 L258.1,236.8 L258.3,236.5 L258.5,236.3 L258.8,236.1 L259.0,236.0 L259.3,235.8 L259.6,235.7 L259.9,235.6 L260.2,235.5 L260.5,235.4 L260.8,235.3 L261.1,235.2 L261.4,235.1 L261.7,235.1 L262.0,235.0 L262.3,235.0 L262.6,234.9 L262.9,234.9 L263.2,234.8 L263.6,234.8 L263.9,234.8 L264.2,234.8 L264.5,234.8 L264.9,234.7 L265.2,234.7 L265.6,234.7 L266.0,234.6 L266.4,234.6 L266.8,234.6 L267.1,234.6 L267.5,234.8 L267.8,235.0 L268.1,235.2 L268.4,235.4 L268.7,235.6 L269.0,235.8 L269.3,236.0 L269.6,236.3 L269.9,236.5 L270.2,236.7 L270.4,237.0 L270.6,237.3 L270.7,237.7 L270.9,238.0 L271.1,238.4 L271.2,238.7 L271.4,239.0 L271.5,239.4 L271.6,239.7 L271.6,240.1 L271.6,240.5 L271.6,240.8 L271.6,241.2 L271.6,241.6 L271.5,241.9 L271.5,242.2 L271.4,242.6Z M271.2,242.9 L271.1,243.2 L271.0,243.6 L270.9,243.9 L270.8,244.2 L270.7,244.5 L270.6,244.8 L270.5,245.0 L270.4,245.3 L270.2,245.6 L270.1,245.9 L270.0,246.2 L269.8,246.4 L269.7,246.7 L269.5,247.0 L269.3,247.2 L269.1,247.4 L268.9,247.6 L268.7,247.8 L268.4,248.0 L268.2,248.2 L268.0,248.4 L267.7,248.6 L267.5,248.8 L267.3,249.0 L267.1,249.2 L266.9,249.4 L266.7,249.6 L266.4,249.8 L266.2,250.1 L266.0,250.3 L265.7,250.4 L265.4,250.6 L265.1,250.7 L264.8,250.8 L264.5,250.9 L264.2,250.9 L263.9,251.0 L263.6,251.0 L263.2,251.1 L262.9,251.1 L262.6,251.1 L262.3,251.0 L262.0,251.0 L261.7,250.8 L261.4,250.6 L261.1,250.5 L260.8,250.3 L260.5,250.2 L260.3,250.0 L260.0,249.9 L259.8,249.8 L259.5,249.6 L259.2,249.5 L259.0,249.3 L258.7,249.2 L258.5,249.1 L258.2,248.9 L258.0,248.7 L257.7,248.5 L257.5,248.3 L257.3,248.1 L257.1,247.9 L256.9,247.7 L256.7,247.4 L256.5,247.2 L256.3,247.0 L256.1,246.7 L255.9,246.5 L255.7,246.3 L255.4,246.0 L255.2,245.7 L255.1,245.5 L255.0,245.2 L254.8,244.9 L254.7,244.5 L254.5,244.2 L254.4,243.9 L254.3,243.6 L254.2,243.3 L254.1,242.9 L254.1,242.6 L254.2,242.2 L254.3,241.9 L254.4,241.6 L254.6,241.3 L254.8,241.0 L254.9,240.7 L255.1,240.4 L255.3,240.1 L255.5,239.8 L255.6,239.6 L255.9,239.3 L256.1,239.1 L256.4,238.9 L256.6,238.7 L256.8,238.5 L257.0,238.2 L257.2,238.0 L257.4,237.8 L257.6,237.6 L257.8,237.4 L258.0,237.2 L258.2,237.0 L258.4,236.8 L258.7,236.6 L258.9,236.4 L259.2,236.3 L259.5,236.2 L259.8,236.1 L260.0,236.0 L260.3,235.9 L260.6,235.8 L260.9,235.7 L261.2,235.6 L261.4,235.5 L261.7,235.5 L262.0,235.4 L262.3,235.3 L262.6,235.2 L262.9,235.1 L263.2,235.0 L263.5,235.0 L263.9,234.9 L264.2,234.9 L264.5,234.9 L264.8,234.9 L265.2,234.9 L265.5,234.9 L265.9,234.9 L266.2,235.0 L266.5,235.0 L266.9,235.1 L267.2,235.3 L267.4,235.5 L267.7,235.7 L268.0,235.9 L268.2,236.1 L268.5,236.3 L268.8,236.5 L269.1,236.7 L269.4,236.9 L269.7,237.1 L270.1,237.3 L270.3,237.6 L270.5,237.9 L270.7,238.2 L270.9,238.5 L271.1,238.8 L271.2,239.1 L271.4,239.4 L271.5,239.7 L271.5,240.1 L271.5,240.5 L271.5,240.9 L271.5,241.2 L271.4,241.6 L271.4,241.9 L271.3,242.3 L271.3,242.6Z M271.0,242.9 L270.9,243.2 L270.8,243.5 L270.6,243.8 L270.5,244.1 L270.3,244.4 L270.2,244.7 L270.1,244.9 L270.0,245.2 L269.9,245.5 L269.7,245.7 L269.6,246.0 L269.5,246.3 L269.4,246.5 L269.2,246.8 L269.1,247.0 L268.9,247.3 L268.7,247.5 L268.5,247.7 L268.3,247.9 L268.0,248.0 L267.8,248.2 L267.6,248.4 L267.4,248.6 L267.2,248.8 L267.0,249.0 L266.8,249.2 L266.5,249.4 L266.3,249.6 L266.1,249.9 L265.9,250.1 L265.6,250.2 L265.3,250.4 L265.0,250.5 L264.7,250.5 L264.4,250.6 L264.1,250.7 L263.8,250.7 L263.5,250.7 L263.2,250.7 L262.9,250.7 L262.6,250.7 L262.3,250.7 L262.0,250.6 L261.7,250.4 L261.4,250.3 L261.2,250.2 L260.9,250.0 L260.6,249.9 L260.4,249.8 L260.1,249.7 L259.8,249.5 L259.6,249.4 L259.3,249.3 L259.1,249.2 L258.8,249.0 L258.6,248.8 L258.4,248.7 L258.1,248.5 L257.9,248.3 L257.7,248.1 L257.5,247.9 L257.4,247.6 L257.2,247.4 L257.0,247.2 L256.7,247.0 L256.5,246.8 L256.3,246.6 L256.1,246.4 L255.8,246.2 L255.5,246.0 L255.3,245.7 L255.2,245.4 L255.0,245.1 L254.9,244.8 L254.8,244.5 L254.7,244.2 L254.6,243.9 L254.5,243.6 L254.5,243.2 L254.5,242.9 L254.5,242.6 L254.7,242.3 L254.8,241.9 L255.0,241.6 L255.1,241.4 L255.3,241.1 L255.4,240.8 L255.5,240.5 L255.6,240.2 L255.8,239.9 L255.9,239.7 L256.0,239.4 L256.2,239.2 L256.4,238.9 L256.6,238.7 L256.9,238.5 L257.1,238.3 L257.3,238.1 L257.5,237.9 L257.8,237.8 L258.0,237.6 L258.2,237.4 L258.4,237.2 L258.7,237.1 L258.9,236.9 L259.1,236.7 L259.4,236.6 L259.6,236.5 L259.9,236.3 L260.1,236.2 L260.4,236.0 L260.6,235.9 L260.9,235.8 L261.2,235.6 L261.4,235.5 L261.7,235.5 L262.0,235.4 L262.3,235.3 L262.6,235.3 L262.9,235.3 L263.2,235.3 L263.5,235.3 L263.8,235.3 L264.1,235.4 L264.4,235.4 L264.7,235.4 L265.0,235.4 L265.3,235.4 L265.7,235.4 L266.0,235.4 L266.3,235.4 L266.7,235.5 L267.0,235.6 L267.3,235.7 L267.6,235.9 L267.9,236.1 L268.1,236.3 L268.4,236.5 L268.7,236.6 L269.0,236.9 L269.2,237.1 L269.5,237.3 L269.8,237.5 L269.9,237.8 L270.1,238.1 L270.3,238.4 L270.5,238.7 L270.6,239.0 L270.8,239.3 L271.0,239.5 L271.2,239.9 L271.2,240.2 L271.2,240.6 L271.2,240.9 L271.2,241.2 L271.2,241.6 L271.2,241.9 L271.2,242.3 L271.1,242.6Z" fill="none" stroke="#000" stroke-width="1.0" stroke-linejoin="round"/><path d="M269.8,242.9 L269.8,243.2 L269.7,243.4 L269.6,243.7 L269.5,243.9 L269.4,244.2 L269.4,244.4 L269.3,244.7 L269.2,244.9 L269.1,245.2 L269.0,245.4 L268.8,245.6 L268.7,245.9 L268.6,246.1 L268.5,246.3 L268.3,246.5 L268.2,246.7 L268.0,246.9 L267.8,247.1 L267.7,247.3 L267.5,247.5 L267.3,247.7 L267.1,247.8 L266.9,248.0 L266.7,248.2 L266.5,248.4 L266.3,248.5 L266.1,248.7 L265.9,248.8 L265.7,249.0 L265.5,249.2 L265.2,249.2 L265.0,249.3 L264.7,249.4 L264.4,249.4 L264.2,249.5 L263.9,249.5 L263.7,249.5 L263.4,249.6 L263.1,249.6 L262.9,249.6 L262.6,249.6 L262.3,249.6 L262.1,249.6 L261.8,249.5 L261.6,249.4 L261.3,249.3 L261.1,249.2 L260.9,249.1 L260.6,249.0 L260.4,248.9 L260.2,248.8 L259.9,248.7 L259.7,248.5 L259.5,248.4 L259.3,248.3 L259.1,248.2 L258.8,248.0 L258.6,247.8 L258.4,247.7 L258.3,247.5 L258.1,247.3 L257.9,247.2 L257.7,247.0 L257.5,246.8 L257.3,246.6 L257.2,246.4 L257.0,246.2 L256.8,246.0 L256.6,245.8 L256.5,245.5 L256.3,245.3 L256.2,245.0 L256.2,244.8 L256.1,244.5 L256.0,244.2 L255.9,244.0 L255.9,243.7 L255.8,243.4 L255.8,243.2 L255.7,242.9 L255.7,242.6 L255.8,242.3 L255.9,242.1 L256.0,241.8 L256.1,241.5 L256.1,241.3 L256.2,241.0 L256.3,240.8 L256.5,240.5 L256.6,240.3 L256.7,240.0 L256.8,239.8 L257.0,239.6 L257.2,239.4 L257.4,239.2 L257.5,239.0 L257.7,238.8 L257.9,238.6 L258.1,238.4 L258.3,238.3 L258.5,238.1 L258.6,237.9 L258.8,237.8 L259.0,237.6 L259.2,237.4 L259.5,237.3 L259.7,237.2 L259.9,237.1 L260.2,237.0 L260.4,236.9 L260.7,236.9 L260.9,236.8 L261.1,236.7 L261.4,236.6 L261.6,236.6 L261.9,236.5 L262.1,236.5 L262.4,236.4 L262.6,236.4 L262.9,236.3 L263.1,236.3 L263.4,236.3 L263.7,236.3 L263.9,236.3 L264.2,236.3 L264.5,236.3 L264.7,236.3 L265.0,236.3 L265.3,236.3 L265.6,236.3 L265.9,236.3 L266.2,236.4 L266.4,236.5 L266.7,236.7 L266.9,236.8 L267.2,236.9 L267.4,237.1 L267.7,237.2 L267.9,237.4 L268.2,237.6 L268.4,237.7 L268.7,237.9 L268.9,238.1 L269.1,238.4 L269.2,238.6 L269.4,238.9 L269.5,239.2 L269.6,239.4 L269.7,239.7 L269.9,240.0 L269.9,240.3 L269.9,240.6 L269.9,240.9 L269.9,241.2 L269.9,241.5 L269.9,241.8 L269.9,242.1 L269.9,242.3 L269.8,242.6Z M268.5,242.8 L268.5,243.1 L268.4,243.3 L268.3,243.5 L268.2,243.7 L268.2,243.9 L268.1,244.1 L268.0,244.3 L268.0,244.5 L267.9,244.7 L267.9,244.9 L267.8,245.1 L267.8,245.4 L267.8,245.6 L267.7,245.8 L267.7,246.1 L267.6,246.3 L267.5,246.5 L267.3,246.7 L267.2,246.9 L267.0,247.0 L266.9,247.2 L266.7,247.3 L266.5,247.4 L266.2,247.5 L266.0,247.6 L265.8,247.6 L265.6,247.7 L265.3,247.7 L265.1,247.8 L264.9,247.8 L264.7,247.8 L264.5,247.8 L264.3,247.9 L264.1,247.9 L263.9,248.0 L263.7,248.0 L263.5,248.1 L263.3,248.2 L263.1,248.2 L262.9,248.3 L262.6,248.4 L262.4,248.5 L262.2,248.5 L262.0,248.4 L261.7,248.4 L261.5,248.3 L261.3,248.3 L261.1,248.2 L260.9,248.1 L260.7,248.0 L260.5,247.9 L260.3,247.8 L260.2,247.7 L260.0,247.6 L259.8,247.4 L259.6,247.3 L259.4,247.2 L259.2,247.1 L259.0,247.0 L258.8,246.9 L258.6,246.8 L258.4,246.6 L258.3,246.5 L258.1,246.3 L258.0,246.1 L257.9,245.9 L257.8,245.7 L257.7,245.5 L257.6,245.3 L257.5,245.1 L257.5,244.8 L257.5,244.6 L257.5,244.3 L257.6,244.1 L257.6,243.9 L257.6,243.7 L257.5,243.5 L257.5,243.3 L257.4,243.1 L257.4,242.8 L257.3,242.6 L257.3,242.4 L257.3,242.2 L257.2,242.0 L257.2,241.7 L257.2,241.5 L257.2,241.3 L257.2,241.0 L257.2,240.8 L257.3,240.6 L257.4,240.3 L257.5,240.1 L257.7,239.9 L257.8,239.8 L258.0,239.6 L258.2,239.5 L258.4,239.3 L258.6,239.2 L258.8,239.1 L258.9,238.9 L259.1,238.8 L259.3,238.7 L259.5,238.5 L259.6,238.4 L259.8,238.3 L260.0,238.2 L260.2,238.1 L260.4,238.0 L260.6,237.9 L260.8,237.8 L261.0,237.7 L261.2,237.7 L261.4,237.7 L261.6,237.7 L261.8,237.7 L262.0,237.7 L262.2,237.7 L262.4,237.7 L262.6,237.7 L262.9,237.7 L263.1,237.7 L263.3,237.7 L263.5,237.7 L263.7,237.6 L263.9,237.6 L264.1,237.5 L264.4,237.5 L264.6,237.4 L264.9,237.3 L265.2,237.3 L265.4,237.2 L265.7,237.2 L266.0,237.2 L266.2,237.3 L266.5,237.4 L266.7,237.6 L266.9,237.7 L267.1,237.9 L267.3,238.1 L267.4,238.3 L267.6,238.5 L267.7,238.7 L267.8,238.9 L267.9,239.2 L268.0,239.4 L268.0,239.7 L268.1,239.9 L268.2,240.1 L268.2,240.4 L268.3,240.6 L268.4,240.8 L268.4,241.0 L268.5,241.3 L268.5,241.5 L268.5,241.7 L268.5,241.9 L268.6,242.2 L268.6,242.4 L268.5,242.6Z M267.4,242.8 L267.4,243.0 L267.4,243.2 L267.3,243.4 L267.3,243.5 L267.2,243.7 L267.1,243.9 L267.0,244.0 L267.0,244.2 L266.9,244.3 L266.8,244.5 L266.7,244.6 L266.6,244.7 L266.5,244.9 L266.3,245.0 L266.2,245.1 L266.1,245.2 L266.0,245.3 L265.9,245.5 L265.8,245.6 L265.7,245.7 L265.6,245.8 L265.5,245.9 L265.4,246.1 L265.3,246.2 L265.2,246.3 L265.1,246.5 L264.9,246.6 L264.8,246.7 L264.7,246.9 L264.6,247.0 L264.4,247.1 L264.2,247.2 L264.1,247.3 L263.9,247.3 L263.7,247.4 L263.6,247.4 L263.4,247.5 L263.2,247.5 L263.0,247.5 L262.8,247.5 L262.6,247.5 L262.5,247.5 L262.3,247.5 L262.1,247.4 L261.9,247.3 L261.8,247.3 L261.6,247.2 L261.4,247.1 L261.3,247.0 L261.1,247.0 L260.9,246.9 L260.8,246.8 L260.6,246.7 L260.5,246.7 L260.3,246.6 L260.2,246.5 L260.0,246.4 L259.8,246.3 L259.7,246.2 L259.5,246.1 L259.4,246.0 L259.2,245.9 L259.1,245.7 L259.0,245.6 L258.9,245.5 L258.7,245.3 L258.6,245.2 L258.5,245.0 L258.5,244.8 L258.4,244.7 L258.3,244.5 L258.3,244.3 L258.3,244.1 L258.3,243.9 L258.3,243.7 L258.3,243.5 L258.3,243.4 L258.3,243.2 L258.3,243.0 L258.4,242.8 L258.4,242.6 L258.5,242.5 L258.5,242.3 L258.6,242.1 L258.6,242.0 L258.7,241.8 L258.7,241.7 L258.8,241.5 L258.8,241.3 L258.9,241.2 L258.9,241.0 L259.0,240.9 L259.0,240.7 L259.1,240.6 L259.2,240.4 L259.3,240.3 L259.4,240.1 L259.5,240.0 L259.6,239.9 L259.7,239.7 L259.9,239.6 L260.0,239.5 L260.1,239.4 L260.3,239.3 L260.4,239.2 L260.6,239.1 L260.7,239.1 L260.9,239.0 L261.0,239.0 L261.2,238.9 L261.4,238.9 L261.5,238.8 L261.7,238.8 L261.8,238.7 L262.0,238.7 L262.2,238.6 L262.3,238.6 L262.5,238.5 L262.6,238.4 L262.8,238.4 L263.0,238.3 L263.2,238.3 L263.4,238.2 L263.6,238.2 L263.7,238.2 L263.9,238.2 L264.1,238.1 L264.3,238.1 L264.5,238.1 L264.7,238.2 L265.0,238.2 L265.2,238.2 L265.3,238.3 L265.5,238.4 L265.7,238.6 L265.8,238.7 L266.0,238.8 L266.1,239.0 L266.2,239.1 L266.4,239.3 L266.5,239.4 L266.6,239.6 L266.7,239.7 L266.8,239.9 L266.9,240.1 L267.0,240.3 L267.0,240.5 L267.1,240.6 L267.2,240.8 L267.2,241.0 L267.3,241.2 L267.3,241.4 L267.4,241.5 L267.4,241.7 L267.4,241.9 L267.4,242.1 L267.4,242.3 L267.4,242.5 L267.4,242.6Z M266.4,242.8 L266.3,242.9 L266.3,243.1 L266.2,243.2 L266.1,243.3 L266.0,243.4 L266.0,243.6 L265.9,243.7 L265.8,243.8 L265.8,243.9 L265.7,244.0 L265.7,244.1 L265.6,244.2 L265.6,244.4 L265.6,244.5 L265.5,244.6 L265.4,244.7 L265.4,244.8 L265.3,244.9 L265.2,245.0 L265.1,245.1 L265.0,245.2 L264.9,245.3 L264.8,245.4 L264.7,245.4 L264.6,245.5 L264.5,245.6 L264.4,245.7 L264.3,245.7 L264.2,245.8 L264.1,245.9 L264.0,246.0 L263.9,246.1 L263.7,246.1 L263.6,246.2 L263.5,246.3 L263.3,246.3 L263.2,246.4 L263.1,246.4 L262.9,246.4 L262.8,246.4 L262.6,246.4 L262.5,246.4 L262.4,246.3 L262.2,246.3 L262.1,246.2 L262.0,246.1 L261.9,246.0 L261.8,245.9 L261.7,245.8 L261.6,245.7 L261.5,245.6 L261.4,245.5 L261.3,245.5 L261.2,245.4 L261.1,245.4 L261.0,245.3 L260.8,245.3 L260.7,245.2 L260.6,245.2 L260.5,245.1 L260.4,245.0 L260.2,245.0 L260.1,244.9 L260.0,244.8 L259.9,244.7 L259.8,244.6 L259.7,244.5 L259.7,244.4 L259.6,244.3 L259.5,244.1 L259.5,244.0 L259.5,243.9 L259.4,243.7 L259.4,243.6 L259.4,243.5 L259.3,243.3 L259.3,243.2 L259.3,243.1 L259.2,242.9 L259.2,242.8 L259.2,242.6 L259.2,242.5 L259.2,242.4 L259.2,242.2 L259.3,242.1 L259.3,242.0 L259.4,241.8 L259.5,241.7 L259.6,241.6 L259.7,241.5 L259.8,241.4 L259.9,241.3 L260.0,241.2 L260.1,241.1 L260.2,241.1 L260.3,241.0 L260.4,240.9 L260.5,240.8 L260.5,240.7 L260.6,240.6 L260.7,240.5 L260.7,240.4 L260.8,240.3 L260.9,240.1 L260.9,240.0 L261.0,239.9 L261.1,239.8 L261.2,239.7 L261.3,239.6 L261.4,239.5 L261.6,239.5 L261.7,239.4 L261.8,239.4 L262.0,239.4 L262.1,239.4 L262.2,239.4 L262.4,239.4 L262.5,239.4 L262.7,239.4 L262.8,239.4 L262.9,239.4 L263.1,239.4 L263.2,239.5 L263.3,239.5 L263.4,239.5 L263.6,239.5 L263.7,239.5 L263.8,239.5 L264.0,239.6 L264.1,239.6 L264.3,239.6 L264.4,239.7 L264.5,239.7 L264.6,239.8 L264.7,239.9 L264.8,240.0 L264.9,240.1 L265.0,240.2 L265.1,240.3 L265.2,240.4 L265.3,240.5 L265.4,240.6 L265.5,240.7 L265.6,240.8 L265.7,240.9 L265.8,241.0 L265.9,241.1 L266.0,241.2 L266.1,241.3 L266.2,241.4 L266.3,241.5 L266.4,241.6 L266.4,241.8 L266.5,241.9 L266.5,242.1 L266.5,242.2 L266.5,242.4 L266.5,242.5 L266.4,242.6Z M264.9,242.8 L264.9,242.8 L264.9,242.9 L264.9,243.0 L264.9,243.1 L264.9,243.2 L264.9,243.3 L264.9,243.4 L264.9,243.5 L264.9,243.5 L264.8,243.6 L264.8,243.7 L264.7,243.8 L264.7,243.8 L264.6,243.9 L264.6,244.0 L264.5,244.0 L264.5,244.1 L264.4,244.2 L264.4,244.2 L264.3,244.3 L264.3,244.4 L264.2,244.5 L264.2,244.6 L264.1,244.6 L264.1,244.7 L264.0,244.8 L263.9,244.9 L263.9,244.9 L263.8,245.0 L263.7,245.0 L263.6,245.0 L263.5,245.0 L263.4,245.0 L263.3,245.0 L263.2,245.0 L263.1,245.0 L263.0,245.0 L262.9,245.0 L262.9,245.1 L262.8,245.1 L262.7,245.1 L262.6,245.1 L262.5,245.1 L262.4,245.1 L262.3,245.1 L262.2,245.1 L262.1,245.1 L262.0,245.0 L261.9,245.0 L261.9,244.9 L261.8,244.9 L261.7,244.8 L261.6,244.7 L261.6,244.7 L261.5,244.6 L261.5,244.5 L261.4,244.5 L261.4,244.4 L261.3,244.3 L261.2,244.3 L261.2,244.2 L261.1,244.2 L261.0,244.1 L261.0,244.1 L260.9,244.0 L260.8,243.9 L260.8,243.9 L260.7,243.8 L260.7,243.7 L260.7,243.6 L260.7,243.5 L260.7,243.4 L260.7,243.4 L260.7,243.3 L260.7,243.2 L260.7,243.1 L260.7,243.0 L260.7,242.9 L260.6,242.8 L260.6,242.8 L260.6,242.7 L260.6,242.6 L260.6,242.5 L260.6,242.4 L260.6,242.3 L260.6,242.2 L260.6,242.1 L260.6,242.1 L260.6,242.0 L260.7,241.9 L260.7,241.8 L260.8,241.7 L260.8,241.7 L260.9,241.6 L260.9,241.5 L261.0,241.5 L261.1,241.4 L261.1,241.3 L261.2,241.3 L261.2,241.2 L261.3,241.1 L261.3,241.0 L261.3,241.0 L261.4,240.9 L261.5,240.8 L261.5,240.7 L261.6,240.7 L261.7,240.6 L261.8,240.6 L261.8,240.6 L261.9,240.5 L262.0,240.5 L262.1,240.5 L262.2,240.5 L262.3,240.5 L262.4,240.5 L262.5,240.5 L262.6,240.5 L262.7,240.5 L262.8,240.5 L262.9,240.5 L262.9,240.4 L263.0,240.4 L263.1,240.4 L263.2,240.4 L263.3,240.4 L263.4,240.4 L263.5,240.4 L263.6,240.5 L263.7,240.5 L263.8,240.6 L263.8,240.6 L263.9,240.7 L264.0,240.8 L264.0,240.8 L264.1,240.9 L264.2,241.0 L264.2,241.1 L264.3,241.1 L264.4,241.2 L264.4,241.2 L264.5,241.3 L264.6,241.3 L264.6,241.4 L264.7,241.5 L264.8,241.5 L264.8,241.6 L264.8,241.7 L264.9,241.8 L264.9,241.9 L264.9,242.0 L264.9,242.1 L264.9,242.2 L264.9,242.3 L264.9,242.3 L264.9,242.4 L264.9,242.5 L264.8,242.6 L264.9,242.7Z" fill="none" stroke="#222" stroke-width="0.75" stroke-linejoin="round"/><path d="M228.0,312.4 L258.0,312.4 M228.0,313.3 L256.0,313.3 M228.0,314.2 L254.0,314.2" fill="none" stroke="#000" stroke-width="0.85" stroke-linejoin="round"/></g>
<g clip-path="url(#cp2)"><path d="M93.0,421.0 L104.0,420.0 L114.0,418.0 L121.0,420.0 L125.0,426.0 L125.0,433.0 L121.0,440.0 L93.0,440.0Z" fill="#000" fill-opacity="0.14" stroke="none"/><path d="M157.2,404.8 L157.2,405.0 L157.1,405.2 L157.0,405.4 L157.0,405.6 L156.9,405.8 L156.9,405.9 L156.8,406.1 L156.7,406.3 L156.7,406.5 L156.6,406.6 L156.5,406.8 L156.5,407.0 L156.4,407.2 L156.3,407.3 L156.2,407.5 L156.1,407.7 L156.1,407.9 L156.0,408.0 L155.9,408.2 L155.7,408.4 L155.6,408.5 L155.4,408.6 L155.3,408.7 L155.1,408.9 L155.0,409.0 L154.8,409.1 L154.7,409.2 L154.5,409.4 L154.3,409.5 L154.2,409.6 L154.0,409.7 L153.8,409.8 L153.6,410.0 L153.5,410.1 L153.3,410.2 L153.1,410.3 L152.9,410.4 L152.6,410.5 L152.4,410.6 L152.2,410.7 L152.0,410.9 L151.7,411.0 L151.5,411.0 L151.2,411.0 L151.0,411.0 L150.7,411.0 L150.5,411.0 L150.2,410.9 L149.9,410.9 L149.7,410.9 L149.4,410.8 L149.2,410.8 L148.9,410.7 L148.6,410.6 L148.4,410.5 L148.1,410.4 L147.9,410.2 L147.8,410.0 L147.6,409.8 L147.4,409.6 L147.3,409.4 L147.1,409.2 L147.0,408.9 L146.8,408.7 L146.7,408.5 L146.8,408.1 L146.8,407.8 L146.9,407.5 L146.9,407.3 L146.9,407.0 L147.0,406.7 L147.0,406.5 L147.1,406.3 L147.1,406.0 L147.2,405.8 L147.2,405.6 L147.2,405.4 L147.3,405.2 L147.4,405.0 L147.4,404.8 L147.5,404.6 L147.5,404.4 L147.6,404.3 L147.6,404.1 L147.7,403.9 L147.8,403.7 L147.8,403.6 L147.9,403.4 L148.0,403.2 L148.0,403.1 L148.1,402.9 L148.2,402.8 L148.2,402.6 L148.3,402.4 L148.4,402.3 L148.5,402.1 L148.6,401.9 L148.6,401.8 L148.7,401.6 L148.9,401.5 L149.0,401.3 L149.1,401.2 L149.2,401.1 L149.4,400.9 L149.5,400.8 L149.6,400.6 L149.8,400.5 L149.9,400.3 L150.1,400.2 L150.2,400.1 L150.4,399.9 L150.6,399.8 L150.7,399.6 L150.9,399.5 L151.1,399.3 L151.3,399.2 L151.5,399.0 L151.7,398.8 L152.0,398.7 L152.2,398.7 L152.4,398.6 L152.7,398.6 L152.9,398.6 L153.2,398.6 L153.4,398.6 L153.7,398.6 L154.0,398.6 L154.2,398.6 L154.5,398.6 L154.7,398.6 L155.0,398.7 L155.3,398.7 L155.6,398.8 L155.8,398.9 L156.0,399.0 L156.2,399.3 L156.4,399.5 L156.5,399.8 L156.6,400.0 L156.8,400.2 L156.9,400.5 L157.0,400.7 L157.1,401.0 L157.2,401.2 L157.2,401.4 L157.3,401.7 L157.4,401.9 L157.4,402.1 L157.5,402.4 L157.5,402.6 L157.6,402.8 L157.6,403.0 L157.6,403.3 L157.5,403.5 L157.5,403.8 L157.4,404.0 L157.4,404.2 L157.3,404.4 L157.3,404.6Z" fill="#000" fill-opacity="0.4" stroke="none"/><path d="M88.0,419.0 L93.0,418.6 L100.1,417.3 L105.5,410.6 L110.8,399.8 L116.2,393.1 L121.6,391.1 L127.0,393.7 L129.6,397.0 L133.2,406.6 L136.2,413.8 L139.2,412.0 L142.2,405.4 L146.4,398.2 L151.2,394.0 L156.0,393.4 L160.2,395.8 L161.4,400.6 L160.2,409.0 L154.8,414.4 L147.6,416.2 L144.0,417.4 L139.2,423.4 L134.4,429.4 L130.2,435.4 L129.0,438.4 L129.0,445.0 L88.0,445.0Z" fill="none" stroke="#222" stroke-width="0.8" stroke-linejoin="round"/><path d="M129.8,426.2 L129.6,426.7 L129.4,427.2 L129.3,427.7 L129.2,428.2 L129.1,428.7 L129.0,429.2 L128.9,429.7 L128.9,430.2 L128.8,430.7 L128.6,431.2 L128.5,431.7 L128.3,432.2 L128.1,432.6 L127.9,433.1 L127.7,433.6 L127.5,434.1 L127.3,434.6 L127.1,435.1 L126.9,435.6 L126.7,436.2 L126.5,436.8 L126.5,437.7 L126.5,438.7 L126.5,439.7 L126.5,440.9 L126.5,442.3 L126.5,443.8 L126.5,445.5 L126.5,447.5 L126.4,449.7 L126.3,452.2 L126.1,455.3 L125.9,458.9 L125.1,461.5 L123.7,461.4 L122.2,461.2 L120.8,461.1 L119.4,460.9 L118.0,460.9 L116.7,460.8 L115.3,460.9 L113.9,461.0 L112.5,461.2 L111.1,461.4 L109.6,461.6 L108.1,461.9 L106.5,462.1 L104.9,462.4 L103.3,462.5 L101.6,462.6 L99.9,462.6 L98.1,462.6 L96.4,462.5 L94.6,462.3 L92.7,462.0 L90.8,461.8 L88.8,461.5 L86.7,461.3 L84.4,461.1 L81.9,461.0 L79.2,460.9 L76.1,460.9 L72.6,460.9 L68.7,461.0 L65.6,460.4 L65.3,457.7 L65.1,455.1 L65.0,452.6 L64.9,450.1 L64.8,447.7 L64.9,445.3 L65.1,443.0 L65.4,440.7 L65.8,438.4 L66.2,436.3 L66.6,434.1 L67.1,432.1 L67.5,430.1 L72.0,428.0 L76.5,426.2 L80.2,424.8 L84.9,423.7 L88.9,422.9 L91.9,422.3 L94.4,421.8 L96.4,421.4 L98.4,421.1 L100.0,420.8 L101.4,420.6 L102.3,420.3 L102.7,419.8 L103.1,419.3 L103.5,418.9 L104.0,418.4 L104.4,418.0 L104.9,417.6 L105.3,417.3 L105.7,416.9 L106.1,416.5 L106.5,416.0 L106.9,415.6 L107.2,415.1 L107.4,414.5 L107.7,413.8 L107.9,413.1 L108.1,412.3 L108.4,411.5 L108.7,410.6 L109.0,409.7 L109.4,408.7 L109.8,407.7 L110.3,406.7 L110.9,405.6 L111.5,404.6 L112.2,403.7 L113.0,402.8 L113.8,401.9 L114.7,400.8 L115.6,399.6 L116.7,398.9 L117.8,398.4 L118.9,397.9 L120.1,397.3 L121.2,397.4 L122.3,397.7 L123.4,398.1 L124.5,398.4 L125.4,399.2 L126.3,400.2 L127.1,401.1 L127.7,402.4 L128.1,403.7 L128.5,405.0 L128.9,406.3 L129.2,407.4 L129.5,408.6 L129.7,409.6 L129.9,410.7 L130.1,411.7 L130.3,412.6 L130.5,413.4 L130.8,414.2 L131.0,414.9 L131.3,415.6 L131.5,416.3 L131.6,417.1 L131.7,417.8 L131.7,418.6 L131.7,419.3 L131.8,420.0 L131.7,420.7 L131.7,421.3 L131.6,422.0 L131.5,422.7 L131.1,423.3 L130.8,424.0 L130.5,424.6 L130.2,425.2 L130.0,425.7Z M128.4,426.4 L128.3,426.9 L128.2,427.3 L128.1,427.8 L127.9,428.3 L127.8,428.7 L127.7,429.1 L127.6,429.6 L127.5,430.0 L127.4,430.5 L127.2,430.9 L127.1,431.4 L127.0,431.8 L126.8,432.3 L126.6,432.7 L126.5,433.2 L126.3,433.7 L126.2,434.1 L126.0,434.6 L125.8,435.2 L125.7,435.7 L125.5,436.3 L125.4,437.0 L125.4,437.9 L125.3,438.8 L125.3,439.8 L125.3,440.9 L125.2,442.2 L125.2,443.7 L125.1,445.3 L125.0,447.3 L124.9,449.6 L124.8,452.3 L124.6,455.7 L124.0,458.1 L122.7,458.2 L121.4,458.3 L120.1,458.4 L118.9,458.4 L117.6,458.4 L116.4,458.3 L115.1,458.2 L113.9,458.1 L112.6,458.0 L111.4,457.8 L110.2,457.6 L108.9,457.4 L107.7,457.1 L106.5,456.9 L105.2,456.7 L103.9,456.4 L102.6,456.2 L101.3,456.0 L99.9,455.9 L98.4,455.7 L96.9,455.6 L95.2,455.5 L93.5,455.5 L91.6,455.4 L89.5,455.5 L87.3,455.5 L84.8,455.6 L82.0,455.7 L79.0,455.9 L75.6,456.0 L72.8,455.5 L72.5,453.3 L72.2,451.1 L71.9,449.1 L71.7,447.0 L71.4,445.0 L71.2,443.1 L71.0,441.2 L70.8,439.3 L70.7,437.4 L70.6,435.5 L70.5,433.7 L70.5,431.8 L70.5,430.0 L74.4,428.1 L78.6,426.4 L82.0,425.1 L86.4,424.1 L90.2,423.3 L93.2,422.7 L95.6,422.3 L97.6,421.9 L99.5,421.7 L101.1,421.4 L102.4,421.3 L103.2,421.0 L103.6,420.5 L103.9,420.1 L104.3,419.7 L104.6,419.2 L105.0,418.8 L105.3,418.4 L105.7,418.0 L106.0,417.6 L106.3,417.2 L106.7,416.7 L107.1,416.3 L107.4,415.9 L107.7,415.4 L108.0,414.9 L108.3,414.4 L108.6,413.8 L109.0,413.2 L109.3,412.6 L109.7,412.0 L110.1,411.3 L110.5,410.6 L111.0,409.9 L111.5,409.0 L112.0,408.2 L112.6,407.5 L113.2,406.7 L113.9,405.8 L114.7,404.9 L115.5,403.8 L116.4,403.1 L117.3,402.7 L118.3,402.3 L119.3,401.8 L120.3,401.8 L121.2,402.2 L122.1,402.5 L123.0,402.7 L123.9,403.4 L124.6,404.1 L125.3,404.8 L125.9,405.7 L126.4,406.8 L126.8,407.7 L127.3,408.6 L127.7,409.5 L128.0,410.4 L128.4,411.2 L128.6,412.0 L128.9,412.9 L129.1,413.7 L129.3,414.5 L129.4,415.3 L129.6,416.0 L129.7,416.7 L129.8,417.4 L129.8,418.2 L129.7,419.0 L129.6,419.7 L129.6,420.3 L129.5,421.0 L129.4,421.6 L129.4,422.2 L129.4,422.8 L129.3,423.3 L129.1,423.9 L129.0,424.4 L128.8,424.9 L128.7,425.5 L128.5,425.9Z M127.5,426.6 L127.5,427.0 L127.4,427.5 L127.4,427.9 L127.3,428.4 L127.2,428.8 L127.1,429.2 L127.0,429.7 L126.9,430.1 L126.7,430.5 L126.6,430.9 L126.4,431.4 L126.2,431.8 L126.1,432.2 L125.9,432.6 L125.7,433.0 L125.4,433.4 L125.2,433.8 L125.0,434.2 L124.8,434.7 L124.6,435.1 L124.4,435.6 L124.4,436.3 L124.3,437.0 L124.2,437.8 L124.1,438.6 L124.1,439.6 L124.0,440.7 L123.9,441.9 L123.8,443.4 L123.7,445.0 L123.6,446.9 L123.4,449.1 L123.2,451.9 L122.6,453.9 L121.5,453.8 L120.4,453.7 L119.3,453.6 L118.2,453.4 L117.1,453.3 L116.1,453.1 L115.1,452.9 L114.0,452.8 L113.0,452.6 L112.0,452.4 L111.0,452.3 L110.0,452.2 L108.9,452.1 L107.8,452.1 L106.7,452.1 L105.5,452.2 L104.3,452.2 L103.0,452.3 L101.6,452.4 L100.2,452.6 L98.7,452.7 L97.0,452.8 L95.3,453.0 L93.5,453.1 L91.6,453.2 L89.5,453.2 L87.3,453.3 L84.9,453.3 L82.3,453.2 L79.5,453.2 L77.3,452.5 L77.4,450.3 L77.4,448.2 L77.5,446.3 L77.6,444.3 L77.7,442.5 L77.7,440.8 L77.7,439.1 L77.7,437.4 L77.6,435.8 L77.5,434.3 L77.4,432.7 L77.2,431.2 L77.0,429.7 L80.0,428.0 L83.2,426.6 L85.9,425.4 L89.5,424.5 L92.6,423.8 L95.0,423.3 L97.0,422.8 L98.7,422.4 L100.3,422.2 L101.7,421.9 L102.9,421.7 L103.7,421.5 L104.1,421.0 L104.4,420.7 L104.8,420.3 L105.2,419.9 L105.6,419.6 L106.0,419.2 L106.4,418.9 L106.7,418.6 L107.1,418.3 L107.4,417.9 L107.8,417.6 L108.1,417.2 L108.4,416.8 L108.6,416.3 L108.9,415.8 L109.1,415.2 L109.4,414.6 L109.7,414.0 L110.0,413.4 L110.3,412.7 L110.7,411.9 L111.1,411.2 L111.5,410.4 L112.0,409.6 L112.6,408.9 L113.2,408.2 L113.8,407.5 L114.5,406.7 L115.3,405.9 L116.1,405.5 L116.9,405.3 L117.8,405.2 L118.7,405.0 L119.5,405.2 L120.2,405.7 L121.0,406.2 L121.7,406.6 L122.4,407.3 L122.9,408.1 L123.5,408.7 L124.0,409.5 L124.4,410.4 L124.7,411.2 L125.1,411.9 L125.5,412.6 L125.8,413.2 L126.2,413.8 L126.5,414.5 L126.7,415.1 L127.0,415.7 L127.2,416.3 L127.4,416.9 L127.6,417.5 L127.8,418.1 L127.9,418.7 L128.0,419.3 L128.0,420.0 L127.9,420.6 L127.9,421.1 L127.9,421.7 L127.9,422.2 L128.0,422.7 L128.0,423.3 L128.0,423.7 L127.9,424.3 L127.8,424.7 L127.7,425.2 L127.7,425.7 L127.6,426.1Z M126.4,426.8 L126.3,427.2 L126.2,427.6 L126.1,428.0 L126.0,428.4 L125.9,428.8 L125.8,429.1 L125.7,429.5 L125.6,429.9 L125.5,430.3 L125.3,430.7 L125.2,431.1 L125.0,431.4 L124.9,431.8 L124.7,432.2 L124.5,432.5 L124.3,432.9 L124.0,433.2 L123.8,433.6 L123.6,433.9 L123.4,434.3 L123.1,434.6 L123.0,435.2 L122.9,435.7 L122.8,436.4 L122.7,437.1 L122.7,437.9 L122.6,438.8 L122.6,439.9 L122.5,441.2 L122.4,442.6 L122.4,444.4 L122.3,446.5 L122.1,449.0 L121.7,450.9 L120.7,451.1 L119.7,451.2 L118.8,451.3 L117.8,451.3 L116.8,451.3 L115.9,451.2 L114.9,451.1 L114.0,451.0 L113.0,450.8 L112.1,450.7 L111.1,450.5 L110.2,450.4 L109.2,450.3 L108.3,450.2 L107.2,450.1 L106.2,450.1 L105.1,450.0 L104.0,450.0 L102.8,450.0 L101.6,450.0 L100.3,450.0 L99.0,450.0 L97.5,450.0 L96.1,449.9 L94.5,449.9 L92.9,449.8 L91.1,449.6 L89.2,449.5 L87.2,449.3 L85.0,449.2 L83.2,448.6 L83.3,446.7 L83.3,445.0 L83.3,443.4 L83.2,441.8 L83.1,440.3 L82.9,438.9 L82.6,437.6 L82.3,436.2 L82.0,434.9 L81.7,433.6 L81.3,432.2 L81.0,430.9 L80.7,429.5 L83.3,428.0 L86.2,426.8 L88.6,425.7 L91.9,424.9 L94.7,424.3 L97.0,423.8 L98.8,423.4 L100.5,423.1 L102.0,422.8 L103.3,422.7 L104.4,422.5 L105.1,422.3 L105.5,422.0 L105.8,421.7 L106.2,421.3 L106.5,421.0 L106.8,420.7 L107.1,420.4 L107.4,420.1 L107.6,419.7 L107.9,419.4 L108.1,419.0 L108.4,418.7 L108.7,418.3 L108.9,417.9 L109.1,417.5 L109.3,417.0 L109.6,416.6 L109.9,416.1 L110.2,415.6 L110.5,415.1 L110.8,414.5 L111.1,413.9 L111.5,413.3 L111.9,412.6 L112.3,411.9 L112.8,411.3 L113.3,410.6 L113.9,409.9 L114.5,409.0 L115.1,408.1 L115.9,407.5 L116.6,407.1 L117.4,406.7 L118.3,406.3 L119.1,406.4 L119.8,406.7 L120.6,407.1 L121.3,407.5 L121.9,408.2 L122.4,409.0 L122.9,409.7 L123.3,410.7 L123.6,411.7 L123.8,412.6 L124.0,413.4 L124.2,414.2 L124.4,415.0 L124.6,415.6 L124.8,416.3 L125.0,416.9 L125.2,417.4 L125.4,418.0 L125.6,418.4 L125.8,418.9 L126.1,419.3 L126.3,419.8 L126.5,420.3 L126.6,420.8 L126.7,421.2 L126.8,421.7 L126.9,422.2 L127.0,422.6 L127.1,423.1 L127.1,423.6 L127.1,424.1 L127.0,424.5 L126.9,425.0 L126.8,425.5 L126.6,425.9 L126.5,426.3Z M125.5,426.9 L125.4,427.3 L125.4,427.7 L125.4,428.0 L125.3,428.4 L125.2,428.8 L125.2,429.2 L125.0,429.5 L124.9,429.9 L124.8,430.3 L124.6,430.6 L124.4,430.9 L124.2,431.2 L123.9,431.5 L123.7,431.8 L123.5,432.1 L123.3,432.4 L123.1,432.8 L122.9,433.1 L122.7,433.4 L122.6,433.8 L122.4,434.2 L122.3,434.7 L122.3,435.3 L122.2,435.9 L122.1,436.5 L122.0,437.3 L121.9,438.1 L121.8,438.9 L121.6,439.9 L121.5,441.0 L121.3,442.2 L121.1,443.7 L120.9,445.5 L120.4,446.8 L119.6,446.7 L118.8,446.7 L118.0,446.7 L117.2,446.8 L116.4,446.9 L115.7,447.0 L114.9,447.2 L114.0,447.3 L113.2,447.5 L112.3,447.7 L111.5,447.9 L110.6,448.1 L109.7,448.2 L108.7,448.2 L107.8,448.2 L106.8,448.2 L105.9,448.1 L104.9,448.0 L103.9,447.9 L102.9,447.7 L101.8,447.6 L100.7,447.4 L99.5,447.3 L98.3,447.3 L96.9,447.2 L95.4,447.2 L93.7,447.2 L91.9,447.2 L89.9,447.2 L87.7,447.2 L85.9,446.8 L85.8,445.2 L85.8,443.6 L85.8,442.1 L85.9,440.6 L86.0,439.2 L86.2,437.8 L86.4,436.4 L86.7,435.1 L86.9,433.8 L87.1,432.6 L87.3,431.4 L87.5,430.2 L87.5,429.1 L89.7,427.9 L92.0,426.9 L93.8,426.0 L96.2,425.4 L98.3,424.8 L99.9,424.4 L101.2,424.0 L102.3,423.7 L103.4,423.5 L104.4,423.2 L105.2,423.0 L105.7,422.8 L106.0,422.5 L106.3,422.1 L106.6,421.8 L106.9,421.5 L107.2,421.2 L107.5,420.9 L107.7,420.6 L108.0,420.3 L108.2,420.0 L108.4,419.7 L108.6,419.3 L108.9,419.0 L109.1,418.5 L109.2,418.1 L109.4,417.6 L109.7,417.2 L109.9,416.7 L110.2,416.2 L110.5,415.7 L110.8,415.3 L111.2,414.8 L111.6,414.3 L112.0,413.8 L112.4,413.3 L112.9,412.9 L113.4,412.5 L113.9,412.0 L114.4,411.4 L115.0,410.7 L115.7,410.4 L116.3,410.1 L117.0,409.9 L117.7,409.6 L118.4,409.7 L119.0,409.9 L119.7,410.2 L120.3,410.5 L120.8,411.1 L121.3,411.7 L121.7,412.3 L122.0,413.1 L122.3,413.9 L122.5,414.6 L122.8,415.3 L123.0,415.9 L123.2,416.5 L123.4,417.0 L123.6,417.5 L123.9,418.0 L124.1,418.4 L124.4,418.9 L124.6,419.2 L124.9,419.6 L125.1,420.0 L125.4,420.4 L125.5,420.8 L125.7,421.3 L125.8,421.7 L125.8,422.2 L125.9,422.7 L125.9,423.1 L125.9,423.6 L126.0,424.0 L125.9,424.4 L125.8,424.9 L125.7,425.3 L125.6,425.7 L125.6,426.1 L125.5,426.5Z M125.0,427.0 L124.9,427.4 L124.8,427.8 L124.7,428.1 L124.6,428.5 L124.4,428.8 L124.3,429.1 L124.1,429.5 L123.9,429.8 L123.7,430.1 L123.6,430.4 L123.4,430.7 L123.2,431.0 L123.0,431.3 L122.9,431.6 L122.7,431.9 L122.6,432.2 L122.4,432.5 L122.3,432.8 L122.1,433.2 L122.0,433.5 L121.8,433.9 L121.7,434.4 L121.6,434.8 L121.5,435.3 L121.4,435.8 L121.2,436.4 L121.1,437.0 L120.9,437.7 L120.7,438.5 L120.6,439.3 L120.4,440.4 L120.2,441.6 L120.0,443.1 L119.6,444.3 L118.9,444.3 L118.2,444.3 L117.5,444.4 L116.8,444.5 L116.2,444.7 L115.5,444.8 L114.8,445.0 L114.0,445.2 L113.3,445.3 L112.6,445.4 L111.8,445.6 L111.0,445.7 L110.2,445.7 L109.4,445.7 L108.6,445.7 L107.8,445.7 L106.9,445.6 L106.1,445.5 L105.2,445.3 L104.3,445.2 L103.4,445.1 L102.4,445.0 L101.4,444.8 L100.3,444.7 L99.2,444.6 L97.9,444.6 L96.5,444.5 L95.0,444.5 L93.4,444.5 L91.5,444.4 L90.0,444.0 L89.9,442.7 L89.8,441.4 L89.7,440.1 L89.7,438.9 L89.7,437.7 L89.7,436.5 L89.8,435.4 L89.9,434.2 L90.1,433.1 L90.3,432.0 L90.4,431.0 L90.6,430.0 L90.8,429.0 L92.8,427.9 L94.8,427.0 L96.4,426.3 L98.5,425.7 L100.3,425.2 L101.7,424.8 L102.8,424.5 L103.7,424.2 L104.6,423.9 L105.3,423.7 L105.9,423.5 L106.3,423.2 L106.5,422.9 L106.7,422.5 L106.9,422.2 L107.1,421.9 L107.4,421.6 L107.6,421.3 L107.9,421.1 L108.2,420.8 L108.5,420.5 L108.7,420.3 L109.0,420.0 L109.3,419.8 L109.5,419.5 L109.7,419.1 L110.0,418.8 L110.2,418.4 L110.4,418.0 L110.7,417.6 L110.9,417.1 L111.2,416.7 L111.5,416.2 L111.8,415.6 L112.1,415.1 L112.5,414.6 L112.9,414.1 L113.4,413.7 L113.8,413.2 L114.3,412.7 L114.9,412.3 L115.5,412.0 L116.1,412.0 L116.7,412.0 L117.3,411.9 L117.8,412.1 L118.4,412.5 L118.9,412.8 L119.4,413.1 L119.8,413.6 L120.3,414.0 L120.7,414.5 L121.0,415.0 L121.3,415.5 L121.6,416.0 L121.9,416.5 L122.2,416.9 L122.5,417.3 L122.8,417.7 L123.0,418.2 L123.2,418.6 L123.4,419.1 L123.6,419.5 L123.8,419.9 L124.0,420.3 L124.1,420.7 L124.3,421.2 L124.3,421.6 L124.4,422.0 L124.4,422.5 L124.5,422.9 L124.6,423.2 L124.7,423.6 L124.8,424.0 L124.9,424.4 L125.0,424.7 L125.0,425.1 L125.0,425.5 L125.1,425.9 L125.0,426.3 L125.0,426.6Z M124.1,427.1 L124.0,427.5 L123.8,427.8 L123.7,428.1 L123.5,428.4 L123.4,428.7 L123.3,429.0 L123.1,429.3 L123.0,429.6 L122.9,429.9 L122.8,430.2 L122.7,430.5 L122.6,430.8 L122.5,431.1 L122.4,431.4 L122.2,431.7 L122.1,432.0 L121.9,432.3 L121.7,432.6 L121.5,432.8 L121.3,433.1 L121.1,433.4 L120.9,433.7 L120.8,434.0 L120.6,434.4 L120.5,434.9 L120.4,435.4 L120.3,435.9 L120.1,436.6 L120.0,437.3 L119.9,438.2 L119.8,439.3 L119.7,440.5 L119.5,442.1 L119.2,443.2 L118.5,443.3 L117.9,443.4 L117.3,443.5 L116.6,443.5 L116.0,443.5 L115.3,443.5 L114.7,443.4 L114.0,443.3 L113.4,443.3 L112.8,443.2 L112.1,443.2 L111.5,443.1 L110.8,443.1 L110.1,443.2 L109.4,443.2 L108.6,443.3 L107.8,443.3 L107.0,443.4 L106.2,443.4 L105.3,443.4 L104.5,443.4 L103.6,443.3 L102.7,443.2 L101.7,443.0 L100.8,442.8 L99.8,442.6 L98.8,442.4 L97.7,442.2 L96.5,442.0 L95.2,441.7 L94.2,441.3 L94.2,440.1 L94.1,439.0 L94.1,438.0 L93.9,437.0 L93.8,436.0 L93.6,435.1 L93.5,434.2 L93.3,433.3 L93.2,432.4 L93.1,431.5 L93.0,430.7 L93.0,429.8 L93.0,428.9 L94.7,427.9 L96.4,427.1 L97.9,426.4 L99.8,425.9 L101.4,425.5 L102.7,425.1 L103.7,424.8 L104.5,424.5 L105.3,424.3 L106.0,424.1 L106.5,423.9 L106.8,423.6 L107.0,423.3 L107.1,422.9 L107.3,422.6 L107.4,422.3 L107.6,422.0 L107.9,421.7 L108.1,421.4 L108.4,421.2 L108.6,420.9 L108.9,420.7 L109.2,420.5 L109.5,420.3 L109.8,420.1 L110.0,419.8 L110.2,419.5 L110.5,419.2 L110.7,418.9 L111.0,418.6 L111.2,418.2 L111.5,417.9 L111.8,417.4 L112.0,417.0 L112.3,416.5 L112.7,416.1 L113.1,415.7 L113.5,415.3 L113.9,415.0 L114.3,414.6 L114.8,414.2 L115.3,414.0 L115.8,414.0 L116.4,414.0 L116.9,413.9 L117.4,414.1 L117.8,414.4 L118.3,414.6 L118.8,414.9 L119.2,415.2 L119.6,415.5 L120.0,415.8 L120.3,416.2 L120.7,416.6 L121.0,417.0 L121.3,417.4 L121.5,417.8 L121.8,418.2 L122.1,418.6 L122.3,419.0 L122.5,419.4 L122.6,419.8 L122.8,420.2 L123.0,420.6 L123.1,421.0 L123.3,421.3 L123.4,421.7 L123.6,422.1 L123.7,422.4 L123.8,422.8 L123.9,423.2 L124.1,423.5 L124.2,423.8 L124.3,424.2 L124.4,424.5 L124.5,424.9 L124.5,425.3 L124.5,425.7 L124.4,426.0 L124.4,426.4 L124.2,426.8Z M123.3,427.2 L123.2,427.5 L123.2,427.8 L123.1,428.2 L123.1,428.5 L123.0,428.8 L122.9,429.1 L122.7,429.3 L122.6,429.6 L122.4,429.9 L122.3,430.1 L122.1,430.4 L121.9,430.6 L121.7,430.9 L121.6,431.1 L121.4,431.4 L121.2,431.6 L121.1,431.8 L120.9,432.1 L120.8,432.4 L120.6,432.6 L120.5,432.9 L120.4,433.3 L120.3,433.7 L120.2,434.1 L120.1,434.5 L120.0,435.0 L119.8,435.5 L119.7,436.1 L119.5,436.7 L119.4,437.4 L119.2,438.1 L119.0,439.1 L118.8,440.2 L118.5,441.0 L117.9,440.9 L117.3,440.9 L116.8,440.8 L116.3,440.8 L115.7,440.8 L115.2,440.9 L114.6,440.9 L114.1,441.0 L113.5,441.0 L113.0,441.1 L112.4,441.2 L111.8,441.3 L111.2,441.4 L110.5,441.5 L109.9,441.5 L109.2,441.6 L108.6,441.6 L107.9,441.6 L107.2,441.5 L106.5,441.5 L105.7,441.4 L105.0,441.3 L104.2,441.1 L103.4,441.0 L102.5,440.9 L101.6,440.8 L100.6,440.7 L99.6,440.5 L98.4,440.5 L97.1,440.4 L96.0,440.1 L95.8,439.1 L95.6,438.2 L95.4,437.3 L95.3,436.4 L95.1,435.5 L94.9,434.7 L94.8,433.8 L94.7,433.0 L94.7,432.1 L94.7,431.3 L94.7,430.5 L94.8,429.6 L94.9,428.8 L96.4,427.9 L98.0,427.2 L99.4,426.6 L101.1,426.1 L102.5,425.7 L103.6,425.4 L104.5,425.1 L105.3,424.8 L106.0,424.6 L106.6,424.4 L107.1,424.2 L107.4,424.0 L107.6,423.7 L107.8,423.4 L108.0,423.2 L108.2,422.9 L108.4,422.7 L108.6,422.4 L108.8,422.2 L109.0,422.0 L109.3,421.7 L109.5,421.6 L109.8,421.4 L110.1,421.2 L110.3,421.0 L110.5,420.8 L110.7,420.6 L111.0,420.3 L111.2,420.1 L111.4,419.8 L111.7,419.6 L111.9,419.2 L112.1,418.9 L112.4,418.5 L112.6,418.1 L112.9,417.7 L113.2,417.3 L113.6,416.9 L113.9,416.5 L114.3,416.0 L114.7,415.6 L115.2,415.3 L115.7,415.2 L116.1,415.0 L116.6,414.9 L117.1,415.0 L117.6,415.3 L118.0,415.5 L118.4,415.7 L118.8,416.1 L119.2,416.4 L119.5,416.8 L119.8,417.2 L120.1,417.6 L120.3,418.0 L120.6,418.3 L120.9,418.7 L121.2,419.0 L121.4,419.3 L121.7,419.6 L121.9,419.9 L122.2,420.2 L122.4,420.6 L122.6,420.9 L122.8,421.2 L122.9,421.6 L123.1,421.9 L123.2,422.3 L123.2,422.7 L123.2,423.1 L123.3,423.5 L123.3,423.8 L123.3,424.2 L123.4,424.6 L123.4,424.9 L123.4,425.2 L123.4,425.6 L123.3,425.9 L123.3,426.2 L123.3,426.6 L123.3,426.9Z M122.4,427.3 L122.4,427.6 L122.3,427.9 L122.2,428.1 L122.1,428.4 L122.1,428.7 L122.0,429.0 L121.9,429.2 L121.8,429.5 L121.8,429.8 L121.7,430.0 L121.6,430.3 L121.4,430.5 L121.3,430.8 L121.2,431.0 L121.1,431.3 L120.9,431.5 L120.8,431.8 L120.6,432.0 L120.5,432.3 L120.3,432.5 L120.1,432.8 L120.0,433.1 L119.9,433.4 L119.7,433.7 L119.6,434.1 L119.5,434.5 L119.3,434.9 L119.2,435.4 L119.1,436.0 L118.9,436.6 L118.8,437.4 L118.6,438.3 L118.5,439.3 L118.1,440.1 L117.6,440.1 L117.1,440.2 L116.6,440.2 L116.1,440.2 L115.6,440.1 L115.1,440.1 L114.6,440.0 L114.1,439.9 L113.6,439.8 L113.1,439.7 L112.6,439.6 L112.1,439.4 L111.7,439.3 L111.2,439.2 L110.7,439.1 L110.2,439.0 L109.7,438.9 L109.2,438.9 L108.6,438.8 L108.0,438.8 L107.4,438.8 L106.7,438.8 L105.9,438.9 L105.2,438.9 L104.3,438.9 L103.4,439.0 L102.4,439.0 L101.3,439.0 L100.2,439.0 L99.0,439.0 L97.9,438.7 L97.8,437.9 L97.6,437.1 L97.5,436.2 L97.4,435.4 L97.4,434.6 L97.4,433.8 L97.4,433.0 L97.4,432.3 L97.5,431.5 L97.5,430.8 L97.6,430.1 L97.7,429.3 L97.8,428.6 L99.0,427.9 L100.3,427.3 L101.3,426.8 L102.7,426.3 L103.8,426.0 L104.7,425.6 L105.4,425.4 L106.0,425.1 L106.6,424.9 L107.1,424.7 L107.5,424.5 L107.8,424.3 L108.0,424.0 L108.2,423.8 L108.4,423.5 L108.5,423.3 L108.7,423.1 L108.9,422.8 L109.2,422.6 L109.4,422.4 L109.6,422.2 L109.8,422.0 L110.0,421.8 L110.2,421.6 L110.4,421.4 L110.6,421.2 L110.8,420.9 L111.0,420.7 L111.2,420.4 L111.4,420.1 L111.6,419.8 L111.9,419.5 L112.1,419.2 L112.3,418.9 L112.6,418.5 L112.9,418.2 L113.2,417.9 L113.5,417.6 L113.9,417.3 L114.3,417.0 L114.6,416.6 L115.1,416.5 L115.5,416.4 L115.9,416.4 L116.4,416.4 L116.8,416.5 L117.2,416.8 L117.5,417.0 L117.9,417.3 L118.2,417.6 L118.5,418.0 L118.8,418.3 L119.0,418.7 L119.3,419.0 L119.5,419.4 L119.7,419.7 L120.0,420.0 L120.2,420.2 L120.4,420.5 L120.7,420.7 L120.9,421.0 L121.1,421.2 L121.4,421.4 L121.6,421.7 L121.8,421.9 L122.1,422.2 L122.3,422.5 L122.4,422.8 L122.5,423.1 L122.6,423.4 L122.7,423.8 L122.8,424.1 L122.8,424.4 L122.9,424.8 L122.9,425.1 L122.9,425.4 L122.8,425.7 L122.7,426.1 L122.7,426.4 L122.6,426.7 L122.5,427.0Z M122.2,427.4 L122.1,427.6 L122.1,427.9 L122.0,428.2 L121.8,428.4 L121.7,428.7 L121.6,428.9 L121.4,429.2 L121.3,429.4 L121.1,429.6 L121.0,429.8 L120.8,430.1 L120.7,430.3 L120.6,430.5 L120.4,430.7 L120.3,431.0 L120.2,431.2 L120.1,431.4 L120.0,431.7 L119.9,432.0 L119.8,432.2 L119.7,432.5 L119.6,432.8 L119.5,433.1 L119.4,433.5 L119.3,433.8 L119.1,434.2 L119.0,434.5 L118.8,434.9 L118.7,435.4 L118.5,435.9 L118.3,436.4 L118.1,437.1 L117.9,437.9 L117.6,438.5 L117.2,438.5 L116.7,438.4 L116.3,438.4 L115.8,438.5 L115.4,438.5 L115.0,438.5 L114.5,438.5 L114.1,438.5 L113.6,438.5 L113.2,438.5 L112.8,438.5 L112.3,438.4 L111.9,438.4 L111.4,438.3 L111.0,438.2 L110.5,438.1 L110.1,438.0 L109.6,437.9 L109.1,437.8 L108.6,437.7 L108.1,437.6 L107.6,437.5 L107.0,437.4 L106.4,437.4 L105.7,437.3 L105.0,437.3 L104.2,437.3 L103.3,437.3 L102.3,437.3 L101.2,437.3 L100.3,437.1 L100.1,436.5 L99.9,435.8 L99.7,435.2 L99.5,434.5 L99.4,433.8 L99.3,433.1 L99.2,432.5 L99.2,431.8 L99.2,431.1 L99.3,430.5 L99.4,429.8 L99.5,429.2 L99.6,428.6 L100.6,427.9 L101.7,427.4 L102.6,426.9 L103.8,426.5 L104.8,426.2 L105.5,425.9 L106.1,425.6 L106.7,425.4 L107.2,425.2 L107.6,425.0 L108.0,424.8 L108.2,424.6 L108.4,424.3 L108.6,424.1 L108.7,423.9 L108.9,423.7 L109.1,423.5 L109.3,423.3 L109.5,423.1 L109.7,422.9 L109.9,422.7 L110.1,422.5 L110.3,422.4 L110.5,422.2 L110.7,422.0 L110.9,421.8 L111.1,421.5 L111.2,421.3 L111.4,421.0 L111.6,420.8 L111.8,420.5 L112.0,420.2 L112.2,419.9 L112.4,419.6 L112.7,419.3 L112.9,419.0 L113.2,418.7 L113.6,418.5 L113.9,418.3 L114.2,418.0 L114.6,417.8 L115.0,417.7 L115.3,417.7 L115.7,417.8 L116.1,417.8 L116.5,417.9 L116.8,418.1 L117.1,418.3 L117.5,418.5 L117.8,418.8 L118.0,419.0 L118.3,419.2 L118.6,419.5 L118.8,419.8 L119.1,420.0 L119.3,420.3 L119.5,420.5 L119.8,420.7 L120.0,421.0 L120.2,421.2 L120.4,421.5 L120.6,421.7 L120.8,422.0 L120.9,422.3 L121.1,422.5 L121.2,422.8 L121.4,423.1 L121.5,423.4 L121.6,423.7 L121.7,423.9 L121.8,424.2 L121.9,424.5 L121.9,424.8 L122.0,425.1 L122.1,425.3 L122.2,425.6 L122.2,425.9 L122.3,426.2 L122.3,426.5 L122.3,426.8 L122.3,427.1Z M121.4,427.4 L121.4,427.7 L121.4,427.9 L121.3,428.2 L121.3,428.5 L121.3,428.7 L121.2,429.0 L121.2,429.2 L121.1,429.5 L121.0,429.7 L120.9,430.0 L120.8,430.2 L120.7,430.4 L120.5,430.6 L120.4,430.8 L120.2,431.0 L120.0,431.2 L119.8,431.3 L119.6,431.5 L119.5,431.7 L119.3,431.9 L119.1,432.1 L119.0,432.3 L118.9,432.5 L118.8,432.8 L118.6,433.1 L118.5,433.4 L118.4,433.7 L118.2,434.1 L118.1,434.5 L117.9,434.9 L117.8,435.3 L117.6,435.9 L117.4,436.5 L117.1,436.9 L116.7,436.9 L116.3,436.8 L116.0,436.8 L115.6,436.7 L115.2,436.7 L114.9,436.6 L114.5,436.6 L114.1,436.6 L113.8,436.7 L113.4,436.7 L113.0,436.7 L112.6,436.8 L112.2,436.8 L111.8,436.9 L111.4,436.9 L110.9,436.9 L110.5,436.8 L110.1,436.8 L109.7,436.7 L109.2,436.6 L108.8,436.5 L108.3,436.4 L107.9,436.3 L107.4,436.2 L106.8,436.1 L106.2,436.0 L105.6,436.0 L104.9,435.9 L104.1,435.9 L103.3,435.9 L102.5,435.7 L102.3,435.1 L102.1,434.6 L101.9,434.0 L101.7,433.5 L101.6,432.9 L101.5,432.4 L101.4,431.8 L101.4,431.2 L101.4,430.7 L101.4,430.1 L101.4,429.6 L101.4,429.0 L101.5,428.5 L102.3,427.9 L103.1,427.4 L103.8,427.0 L104.7,426.6 L105.5,426.3 L106.0,426.0 L106.5,425.8 L106.9,425.5 L107.4,425.3 L107.7,425.1 L108.0,424.9 L108.3,424.7 L108.5,424.5 L108.7,424.3 L108.9,424.1 L109.1,423.9 L109.3,423.7 L109.5,423.6 L109.7,423.4 L110.0,423.3 L110.2,423.1 L110.4,423.0 L110.6,422.8 L110.8,422.6 L110.9,422.5 L111.1,422.3 L111.3,422.1 L111.4,421.9 L111.6,421.7 L111.8,421.5 L112.0,421.3 L112.2,421.1 L112.4,420.9 L112.7,420.7 L112.9,420.5 L113.2,420.3 L113.4,420.2 L113.7,420.1 L114.0,419.9 L114.3,419.8 L114.5,419.6 L114.9,419.5 L115.2,419.4 L115.5,419.3 L115.8,419.2 L116.2,419.2 L116.5,419.3 L116.8,419.4 L117.1,419.4 L117.4,419.6 L117.7,419.8 L118.0,420.0 L118.2,420.2 L118.4,420.5 L118.6,420.8 L118.8,421.0 L119.0,421.3 L119.1,421.6 L119.3,421.8 L119.4,422.1 L119.6,422.3 L119.8,422.5 L119.9,422.7 L120.1,423.0 L120.3,423.2 L120.5,423.4 L120.7,423.6 L120.8,423.8 L121.0,424.0 L121.1,424.2 L121.2,424.5 L121.3,424.7 L121.4,425.0 L121.5,425.3 L121.6,425.5 L121.6,425.8 L121.6,426.1 L121.6,426.4 L121.5,426.6 L121.5,426.9 L121.4,427.2Z M120.7,427.5 L120.7,427.7 L120.6,428.0 L120.5,428.2 L120.4,428.4 L120.3,428.6 L120.2,428.8 L120.1,429.0 L120.0,429.2 L119.9,429.4 L119.8,429.6 L119.7,429.8 L119.6,430.0 L119.5,430.2 L119.4,430.4 L119.3,430.6 L119.2,430.7 L119.1,430.9 L119.0,431.1 L118.9,431.3 L118.8,431.5 L118.6,431.7 L118.5,431.9 L118.4,432.1 L118.3,432.3 L118.1,432.6 L118.0,432.8 L117.8,433.0 L117.7,433.3 L117.5,433.6 L117.4,433.9 L117.2,434.2 L117.1,434.7 L116.9,435.2 L116.7,435.6 L116.4,435.6 L116.0,435.6 L115.7,435.7 L115.4,435.7 L115.1,435.8 L114.8,435.8 L114.4,435.8 L114.1,435.9 L113.8,435.9 L113.4,436.0 L113.1,436.0 L112.7,436.1 L112.3,436.1 L112.0,436.1 L111.6,436.1 L111.2,436.0 L110.8,436.0 L110.4,435.9 L110.1,435.9 L109.7,435.8 L109.3,435.7 L108.9,435.6 L108.4,435.5 L108.0,435.4 L107.6,435.3 L107.1,435.2 L106.6,435.0 L106.1,434.9 L105.5,434.8 L104.8,434.7 L104.3,434.5 L104.2,434.0 L104.1,433.5 L103.9,433.0 L103.8,432.5 L103.7,432.1 L103.6,431.6 L103.5,431.2 L103.4,430.7 L103.4,430.2 L103.3,429.8 L103.3,429.3 L103.3,428.9 L103.3,428.4 L104.0,427.9 L104.7,427.5 L105.3,427.1 L106.1,426.8 L106.8,426.6 L107.3,426.3 L107.8,426.1 L108.2,425.9 L108.5,425.7 L108.9,425.6 L109.1,425.4 L109.4,425.3 L109.5,425.1 L109.6,424.9 L109.8,424.7 L109.9,424.5 L110.0,424.3 L110.1,424.2 L110.3,424.0 L110.4,423.8 L110.6,423.6 L110.7,423.5 L110.9,423.3 L111.0,423.2 L111.2,423.0 L111.4,422.8 L111.5,422.7 L111.7,422.5 L111.9,422.4 L112.1,422.2 L112.3,422.1 L112.5,422.0 L112.6,421.8 L112.8,421.6 L113.1,421.5 L113.3,421.3 L113.5,421.2 L113.7,421.0 L114.0,420.8 L114.2,420.6 L114.5,420.4 L114.8,420.2 L115.0,420.1 L115.3,420.0 L115.6,419.9 L115.9,419.9 L116.2,420.0 L116.5,420.0 L116.8,420.1 L117.1,420.2 L117.4,420.4 L117.6,420.6 L117.8,420.8 L118.0,421.1 L118.2,421.3 L118.4,421.5 L118.6,421.8 L118.7,422.0 L118.9,422.2 L119.0,422.5 L119.2,422.7 L119.3,422.9 L119.5,423.1 L119.6,423.4 L119.7,423.6 L119.9,423.8 L120.0,424.0 L120.1,424.2 L120.2,424.4 L120.3,424.7 L120.4,424.9 L120.5,425.1 L120.6,425.3 L120.7,425.6 L120.8,425.8 L120.8,426.0 L120.9,426.3 L120.9,426.5 L120.8,426.8 L120.8,427.0 L120.8,427.3Z M120.1,427.6 L120.1,427.8 L120.1,428.0 L120.0,428.2 L120.0,428.4 L119.9,428.6 L119.9,428.8 L119.8,429.0 L119.7,429.2 L119.6,429.4 L119.6,429.6 L119.5,429.8 L119.3,429.9 L119.2,430.1 L119.1,430.3 L119.0,430.5 L118.9,430.6 L118.7,430.8 L118.6,430.9 L118.5,431.1 L118.3,431.2 L118.2,431.4 L118.0,431.5 L117.9,431.7 L117.8,431.8 L117.6,432.0 L117.5,432.2 L117.4,432.4 L117.2,432.6 L117.1,432.8 L117.0,433.1 L116.8,433.4 L116.7,433.8 L116.5,434.2 L116.3,434.6 L116.1,434.6 L115.8,434.7 L115.5,434.7 L115.2,434.8 L114.9,434.8 L114.7,434.9 L114.4,434.9 L114.1,434.9 L113.8,435.0 L113.5,435.0 L113.2,435.0 L112.9,435.0 L112.6,435.0 L112.3,434.9 L112.0,434.9 L111.6,434.8 L111.3,434.8 L111.0,434.7 L110.7,434.6 L110.4,434.5 L110.1,434.4 L109.8,434.3 L109.4,434.2 L109.1,434.1 L108.8,433.9 L108.4,433.8 L108.0,433.7 L107.6,433.6 L107.1,433.5 L106.7,433.4 L106.3,433.2 L106.2,432.8 L106.1,432.4 L105.9,432.0 L105.8,431.6 L105.7,431.3 L105.6,430.9 L105.4,430.6 L105.3,430.2 L105.1,429.8 L105.0,429.5 L104.9,429.1 L104.8,428.7 L104.7,428.3 L105.1,427.9 L105.6,427.6 L106.0,427.2 L106.6,426.9 L107.1,426.7 L107.6,426.4 L107.9,426.2 L108.3,426.0 L108.6,425.9 L108.9,425.7 L109.2,425.5 L109.4,425.4 L109.6,425.2 L109.8,425.1 L109.9,424.9 L110.1,424.8 L110.3,424.6 L110.5,424.5 L110.6,424.4 L110.8,424.3 L111.0,424.2 L111.1,424.0 L111.3,423.9 L111.4,423.8 L111.6,423.7 L111.7,423.5 L111.9,423.4 L112.0,423.2 L112.1,423.1 L112.3,422.9 L112.4,422.7 L112.6,422.6 L112.7,422.4 L112.9,422.2 L113.1,422.0 L113.3,421.8 L113.5,421.7 L113.7,421.5 L113.9,421.3 L114.2,421.2 L114.4,421.0 L114.7,420.9 L114.9,420.9 L115.2,420.9 L115.5,420.9 L115.7,420.9 L116.0,421.0 L116.2,421.2 L116.4,421.3 L116.6,421.4 L116.8,421.6 L117.0,421.8 L117.2,422.0 L117.4,422.2 L117.5,422.4 L117.7,422.6 L117.9,422.8 L118.0,423.0 L118.2,423.1 L118.3,423.3 L118.5,423.5 L118.6,423.6 L118.7,423.8 L118.9,423.9 L119.0,424.1 L119.2,424.3 L119.3,424.4 L119.4,424.6 L119.5,424.8 L119.6,425.0 L119.7,425.2 L119.8,425.4 L119.9,425.6 L120.0,425.8 L120.1,426.0 L120.1,426.2 L120.1,426.5 L120.2,426.7 L120.2,426.9 L120.2,427.1 L120.2,427.3Z M119.5,427.6 L119.5,427.8 L119.5,428.0 L119.5,428.2 L119.5,428.4 L119.4,428.6 L119.3,428.8 L119.3,428.9 L119.2,429.1 L119.1,429.3 L119.0,429.4 L118.9,429.6 L118.8,429.8 L118.7,429.9 L118.6,430.1 L118.5,430.2 L118.4,430.4 L118.2,430.5 L118.1,430.7 L118.0,430.8 L117.9,431.0 L117.8,431.1 L117.7,431.3 L117.6,431.4 L117.5,431.6 L117.3,431.8 L117.2,432.0 L117.1,432.1 L117.0,432.3 L116.8,432.5 L116.7,432.7 L116.5,433.0 L116.4,433.2 L116.2,433.5 L116.0,433.8 L115.8,433.7 L115.5,433.7 L115.3,433.7 L115.0,433.6 L114.8,433.6 L114.6,433.6 L114.3,433.6 L114.1,433.5 L113.9,433.5 L113.6,433.5 L113.4,433.5 L113.2,433.5 L112.9,433.5 L112.7,433.5 L112.4,433.5 L112.1,433.5 L111.9,433.5 L111.6,433.4 L111.3,433.4 L111.1,433.3 L110.8,433.3 L110.5,433.2 L110.2,433.2 L109.9,433.1 L109.6,433.0 L109.3,432.9 L109.0,432.8 L108.6,432.7 L108.3,432.6 L107.9,432.5 L107.6,432.3 L107.5,432.0 L107.4,431.6 L107.3,431.3 L107.2,431.0 L107.1,430.7 L107.0,430.4 L106.9,430.1 L106.8,429.8 L106.7,429.5 L106.6,429.2 L106.5,428.9 L106.4,428.6 L106.4,428.3 L106.7,427.9 L107.1,427.6 L107.4,427.3 L107.8,427.1 L108.2,426.9 L108.5,426.7 L108.8,426.5 L109.1,426.3 L109.3,426.1 L109.6,426.0 L109.8,425.9 L109.9,425.7 L110.1,425.5 L110.2,425.4 L110.3,425.2 L110.4,425.1 L110.6,424.9 L110.7,424.8 L110.8,424.7 L111.0,424.5 L111.1,424.4 L111.2,424.3 L111.3,424.1 L111.5,424.0 L111.6,423.9 L111.7,423.7 L111.9,423.6 L112.0,423.5 L112.2,423.4 L112.3,423.3 L112.5,423.1 L112.7,423.0 L112.8,423.0 L113.0,422.9 L113.2,422.8 L113.4,422.7 L113.6,422.6 L113.8,422.5 L114.0,422.5 L114.2,422.4 L114.4,422.3 L114.6,422.3 L114.8,422.3 L115.0,422.2 L115.2,422.2 L115.4,422.3 L115.6,422.3 L115.8,422.4 L116.0,422.4 L116.2,422.5 L116.4,422.6 L116.6,422.7 L116.8,422.8 L116.9,423.0 L117.1,423.1 L117.3,423.2 L117.4,423.4 L117.5,423.5 L117.7,423.7 L117.8,423.8 L117.9,424.0 L118.0,424.2 L118.1,424.3 L118.3,424.5 L118.4,424.6 L118.5,424.8 L118.6,425.0 L118.6,425.1 L118.7,425.3 L118.8,425.5 L118.9,425.6 L119.0,425.8 L119.1,426.0 L119.2,426.1 L119.2,426.3 L119.3,426.5 L119.4,426.7 L119.4,426.9 L119.5,427.0 L119.5,427.2 L119.5,427.4Z M118.6,427.7 L118.5,427.8 L118.5,428.0 L118.5,428.2 L118.4,428.3 L118.4,428.5 L118.4,428.6 L118.4,428.8 L118.3,428.9 L118.3,429.1 L118.3,429.2 L118.2,429.4 L118.2,429.6 L118.1,429.7 L118.0,429.8 L117.9,430.0 L117.8,430.1 L117.7,430.2 L117.6,430.3 L117.5,430.4 L117.3,430.5 L117.2,430.6 L117.1,430.7 L117.0,430.9 L116.9,431.0 L116.8,431.1 L116.7,431.3 L116.6,431.4 L116.5,431.6 L116.4,431.8 L116.3,432.0 L116.1,432.2 L116.0,432.4 L115.9,432.7 L115.7,432.9 L115.5,432.9 L115.3,432.9 L115.1,432.8 L114.9,432.8 L114.7,432.7 L114.5,432.7 L114.3,432.7 L114.1,432.6 L113.9,432.6 L113.7,432.6 L113.5,432.5 L113.3,432.5 L113.1,432.5 L112.9,432.5 L112.7,432.5 L112.5,432.5 L112.3,432.5 L112.1,432.4 L111.8,432.4 L111.6,432.4 L111.4,432.3 L111.2,432.2 L111.0,432.2 L110.7,432.1 L110.5,432.0 L110.3,431.9 L110.0,431.8 L109.7,431.7 L109.4,431.7 L109.1,431.6 L108.8,431.5 L108.7,431.2 L108.5,431.0 L108.4,430.8 L108.3,430.6 L108.1,430.3 L108.0,430.1 L107.9,429.8 L107.8,429.6 L107.7,429.3 L107.7,429.0 L107.7,428.8 L107.7,428.5 L107.7,428.2 L108.0,427.9 L108.3,427.7 L108.6,427.4 L108.9,427.2 L109.2,427.1 L109.5,426.9 L109.7,426.7 L109.8,426.6 L110.0,426.4 L110.2,426.3 L110.3,426.1 L110.4,426.0 L110.5,425.8 L110.6,425.7 L110.7,425.6 L110.8,425.4 L111.0,425.3 L111.1,425.2 L111.3,425.1 L111.4,425.1 L111.6,425.0 L111.7,424.9 L111.9,424.8 L112.0,424.8 L112.1,424.7 L112.2,424.6 L112.4,424.5 L112.5,424.4 L112.6,424.3 L112.7,424.2 L112.8,424.1 L112.9,424.0 L113.1,423.9 L113.2,423.8 L113.3,423.7 L113.5,423.6 L113.6,423.5 L113.8,423.4 L114.0,423.4 L114.1,423.3 L114.3,423.2 L114.5,423.2 L114.7,423.2 L114.8,423.1 L115.0,423.1 L115.2,423.1 L115.4,423.2 L115.6,423.2 L115.7,423.2 L115.9,423.2 L116.1,423.3 L116.3,423.3 L116.4,423.4 L116.6,423.5 L116.7,423.6 L116.9,423.8 L117.0,423.9 L117.1,424.0 L117.3,424.2 L117.4,424.3 L117.5,424.4 L117.6,424.6 L117.7,424.7 L117.8,424.9 L117.8,425.0 L117.9,425.2 L118.0,425.3 L118.1,425.4 L118.2,425.6 L118.3,425.7 L118.4,425.9 L118.5,426.0 L118.5,426.2 L118.6,426.3 L118.7,426.5 L118.7,426.7 L118.7,426.8 L118.7,427.0 L118.7,427.2 L118.6,427.4 L118.6,427.5Z M118.0,427.7 L118.0,427.9 L117.9,428.0 L117.9,428.2 L117.9,428.3 L117.9,428.4 L117.8,428.6 L117.8,428.7 L117.7,428.8 L117.7,428.9 L117.6,429.1 L117.5,429.2 L117.5,429.3 L117.4,429.4 L117.3,429.5 L117.3,429.7 L117.2,429.8 L117.1,429.9 L117.0,430.0 L116.9,430.1 L116.8,430.2 L116.7,430.3 L116.6,430.4 L116.5,430.5 L116.4,430.6 L116.3,430.7 L116.2,430.8 L116.1,430.8 L116.0,430.9 L115.9,431.0 L115.8,431.1 L115.7,431.2 L115.6,431.3 L115.4,431.5 L115.3,431.6 L115.1,431.6 L115.0,431.5 L114.8,431.5 L114.7,431.5 L114.5,431.5 L114.4,431.5 L114.2,431.6 L114.1,431.6 L113.9,431.6 L113.8,431.6 L113.6,431.6 L113.4,431.7 L113.3,431.7 L113.1,431.7 L112.9,431.7 L112.7,431.7 L112.6,431.7 L112.4,431.7 L112.2,431.7 L112.0,431.6 L111.8,431.6 L111.6,431.5 L111.4,431.5 L111.3,431.4 L111.1,431.3 L110.9,431.2 L110.7,431.2 L110.5,431.1 L110.3,431.0 L110.1,430.9 L109.9,430.7 L109.9,430.5 L109.8,430.3 L109.8,430.1 L109.7,429.9 L109.6,429.7 L109.6,429.5 L109.5,429.3 L109.5,429.1 L109.4,428.9 L109.4,428.7 L109.3,428.5 L109.3,428.3 L109.3,428.1 L109.4,427.9 L109.6,427.7 L109.8,427.6 L110.0,427.4 L110.2,427.2 L110.3,427.1 L110.5,427.0 L110.6,426.8 L110.8,426.7 L110.9,426.6 L111.0,426.5 L111.1,426.4 L111.2,426.2 L111.2,426.1 L111.3,426.0 L111.4,425.9 L111.5,425.8 L111.6,425.7 L111.6,425.6 L111.7,425.5 L111.8,425.4 L111.9,425.3 L112.0,425.2 L112.1,425.1 L112.3,425.0 L112.4,425.0 L112.5,424.9 L112.6,424.8 L112.7,424.8 L112.8,424.7 L113.0,424.7 L113.1,424.6 L113.2,424.6 L113.4,424.5 L113.5,424.5 L113.6,424.5 L113.7,424.4 L113.9,424.4 L114.0,424.4 L114.1,424.3 L114.3,424.3 L114.4,424.2 L114.5,424.2 L114.7,424.2 L114.8,424.1 L115.0,424.1 L115.1,424.1 L115.3,424.1 L115.4,424.1 L115.6,424.2 L115.7,424.2 L115.8,424.2 L116.0,424.3 L116.1,424.4 L116.2,424.5 L116.4,424.5 L116.5,424.6 L116.6,424.7 L116.7,424.8 L116.8,424.9 L116.9,425.0 L117.0,425.2 L117.0,425.3 L117.1,425.4 L117.2,425.5 L117.3,425.6 L117.3,425.8 L117.4,425.9 L117.5,426.0 L117.5,426.1 L117.6,426.3 L117.6,426.4 L117.7,426.5 L117.7,426.7 L117.8,426.8 L117.8,426.9 L117.9,427.0 L117.9,427.2 L117.9,427.3 L117.9,427.5 L118.0,427.6Z M117.1,427.8 L117.1,427.9 L117.1,428.0 L117.1,428.1 L117.1,428.2 L117.1,428.4 L117.1,428.5 L117.1,428.6 L117.0,428.7 L117.0,428.8 L117.0,428.9 L116.9,429.0 L116.9,429.1 L116.8,429.2 L116.7,429.3 L116.7,429.4 L116.6,429.5 L116.5,429.5 L116.4,429.6 L116.3,429.7 L116.2,429.7 L116.1,429.8 L116.0,429.8 L115.9,429.9 L115.8,429.9 L115.8,430.0 L115.7,430.0 L115.6,430.1 L115.5,430.2 L115.4,430.3 L115.4,430.3 L115.3,430.4 L115.2,430.5 L115.1,430.7 L115.0,430.7 L114.9,430.8 L114.8,430.8 L114.7,430.8 L114.5,430.8 L114.4,430.8 L114.3,430.8 L114.2,430.7 L114.1,430.7 L114.0,430.7 L113.8,430.7 L113.7,430.7 L113.6,430.6 L113.5,430.6 L113.4,430.6 L113.3,430.6 L113.1,430.6 L113.0,430.6 L112.9,430.6 L112.7,430.6 L112.6,430.6 L112.4,430.6 L112.3,430.6 L112.1,430.5 L112.0,430.5 L111.8,430.5 L111.7,430.4 L111.5,430.4 L111.4,430.3 L111.2,430.2 L111.0,430.2 L110.9,430.1 L110.9,429.9 L110.8,429.7 L110.8,429.6 L110.7,429.4 L110.7,429.3 L110.7,429.1 L110.6,429.0 L110.6,428.8 L110.5,428.7 L110.5,428.6 L110.5,428.4 L110.4,428.3 L110.4,428.1 L110.5,427.9 L110.6,427.8 L110.7,427.7 L110.9,427.5 L111.0,427.4 L111.1,427.3 L111.3,427.2 L111.4,427.1 L111.5,427.0 L111.6,426.9 L111.7,426.8 L111.8,426.8 L111.8,426.7 L111.9,426.6 L112.0,426.5 L112.1,426.4 L112.1,426.3 L112.2,426.3 L112.2,426.2 L112.3,426.1 L112.4,426.0 L112.4,425.9 L112.5,425.9 L112.6,425.8 L112.7,425.7 L112.7,425.6 L112.8,425.6 L112.9,425.5 L113.0,425.5 L113.1,425.4 L113.2,425.4 L113.3,425.3 L113.4,425.3 L113.5,425.2 L113.6,425.2 L113.7,425.2 L113.8,425.1 L113.9,425.1 L114.0,425.1 L114.1,425.0 L114.2,425.0 L114.3,424.9 L114.4,424.9 L114.5,424.9 L114.6,424.9 L114.8,424.9 L114.9,424.9 L115.0,424.9 L115.1,424.9 L115.2,425.0 L115.3,425.1 L115.4,425.1 L115.5,425.2 L115.6,425.3 L115.7,425.4 L115.7,425.4 L115.8,425.5 L115.9,425.6 L116.0,425.7 L116.0,425.8 L116.1,425.8 L116.2,425.9 L116.3,426.0 L116.3,426.1 L116.4,426.1 L116.5,426.2 L116.6,426.3 L116.7,426.4 L116.7,426.4 L116.8,426.5 L116.9,426.6 L116.9,426.7 L117.0,426.8 L117.0,426.9 L117.1,427.0 L117.1,427.1 L117.1,427.2 L117.1,427.4 L117.1,427.5 L117.1,427.6 L117.1,427.7Z M116.3,427.9 L116.3,427.9 L116.3,428.0 L116.3,428.1 L116.2,428.2 L116.2,428.3 L116.2,428.3 L116.2,428.4 L116.1,428.5 L116.1,428.5 L116.0,428.6 L116.0,428.7 L115.9,428.7 L115.9,428.8 L115.9,428.9 L115.8,428.9 L115.8,429.0 L115.7,429.1 L115.7,429.1 L115.7,429.2 L115.6,429.3 L115.6,429.3 L115.5,429.4 L115.4,429.4 L115.4,429.5 L115.3,429.5 L115.3,429.6 L115.2,429.6 L115.1,429.6 L115.0,429.7 L115.0,429.7 L114.9,429.7 L114.8,429.8 L114.8,429.8 L114.7,429.9 L114.6,429.9 L114.5,429.9 L114.5,429.9 L114.4,429.9 L114.3,429.9 L114.2,429.9 L114.1,429.9 L114.0,429.9 L114.0,429.9 L113.9,429.9 L113.8,429.9 L113.7,429.9 L113.6,429.9 L113.6,429.8 L113.5,429.8 L113.4,429.8 L113.4,429.7 L113.3,429.7 L113.2,429.7 L113.1,429.6 L113.0,429.6 L112.9,429.6 L112.9,429.6 L112.8,429.6 L112.7,429.5 L112.6,429.5 L112.5,429.5 L112.3,429.5 L112.2,429.4 L112.1,429.4 L112.0,429.3 L112.0,429.2 L112.0,429.1 L111.9,429.0 L111.9,428.9 L111.8,428.8 L111.8,428.7 L111.8,428.6 L111.7,428.6 L111.7,428.5 L111.7,428.4 L111.6,428.3 L111.6,428.2 L111.6,428.1 L111.6,428.0 L111.7,427.9 L111.7,427.8 L111.8,427.7 L111.8,427.6 L111.9,427.5 L111.9,427.4 L112.0,427.3 L112.1,427.3 L112.2,427.2 L112.2,427.1 L112.3,427.1 L112.3,427.0 L112.4,426.9 L112.5,426.9 L112.5,426.8 L112.6,426.8 L112.6,426.7 L112.7,426.7 L112.7,426.6 L112.8,426.6 L112.9,426.5 L112.9,426.5 L113.0,426.4 L113.0,426.4 L113.1,426.3 L113.2,426.3 L113.2,426.3 L113.3,426.3 L113.4,426.2 L113.5,426.2 L113.5,426.2 L113.6,426.2 L113.7,426.2 L113.7,426.1 L113.8,426.1 L113.9,426.1 L113.9,426.0 L114.0,426.0 L114.1,426.0 L114.1,425.9 L114.2,425.9 L114.3,425.9 L114.4,425.9 L114.4,425.8 L114.5,425.9 L114.6,425.9 L114.7,425.9 L114.8,425.9 L114.8,425.9 L114.9,426.0 L115.0,426.0 L115.0,426.1 L115.1,426.1 L115.2,426.1 L115.2,426.2 L115.3,426.2 L115.4,426.2 L115.5,426.3 L115.5,426.3 L115.6,426.4 L115.7,426.4 L115.7,426.5 L115.8,426.5 L115.9,426.6 L115.9,426.6 L115.9,426.7 L116.0,426.8 L116.0,426.8 L116.0,426.9 L116.1,427.0 L116.1,427.1 L116.1,427.2 L116.1,427.2 L116.1,427.3 L116.2,427.4 L116.2,427.5 L116.2,427.5 L116.2,427.6 L116.2,427.7 L116.3,427.8Z" fill="none" stroke="#222" stroke-width="0.8" stroke-linejoin="round"/><path d="M160.0,405.0 L159.9,405.3 L159.8,405.6 L159.8,405.9 L159.7,406.2 L159.6,406.5 L159.5,406.8 L159.4,407.1 L159.3,407.4 L159.2,407.7 L159.1,407.9 L159.0,408.2 L158.9,408.5 L158.8,408.8 L158.7,409.1 L158.6,409.4 L158.5,409.7 L158.4,410.1 L158.3,410.4 L158.2,410.7 L157.9,410.9 L157.7,411.1 L157.4,411.3 L157.1,411.5 L156.8,411.6 L156.5,411.8 L156.3,412.0 L156.0,412.1 L155.7,412.3 L155.4,412.5 L155.2,412.6 L154.9,412.8 L154.6,413.0 L154.3,413.1 L154.0,413.3 L153.7,413.5 L153.4,413.7 L153.1,413.9 L152.7,414.1 L152.4,414.3 L152.0,414.5 L151.6,414.7 L151.2,415.0 L150.8,415.0 L150.4,414.9 L150.0,414.9 L149.6,414.9 L149.2,414.8 L148.8,414.8 L148.4,414.8 L148.0,414.7 L147.5,414.7 L147.1,414.7 L146.6,414.6 L146.1,414.6 L145.6,414.5 L145.1,414.4 L144.8,414.1 L144.5,413.8 L144.2,413.4 L143.9,413.1 L143.6,412.7 L143.3,412.4 L143.0,412.1 L142.7,411.7 L142.6,411.3 L142.8,410.6 L143.0,410.0 L143.2,409.5 L143.4,409.0 L143.5,408.5 L143.7,408.1 L143.8,407.7 L144.0,407.3 L144.1,406.9 L144.2,406.5 L144.3,406.2 L144.5,405.9 L144.6,405.6 L144.7,405.3 L144.8,405.0 L144.9,404.7 L145.0,404.4 L145.0,404.2 L145.1,403.9 L145.2,403.7 L145.3,403.4 L145.4,403.1 L145.5,402.9 L145.6,402.6 L145.7,402.4 L145.8,402.1 L145.9,401.9 L145.9,401.6 L146.0,401.3 L146.1,401.1 L146.2,400.8 L146.3,400.5 L146.4,400.2 L146.5,400.0 L146.7,399.7 L146.9,399.5 L147.2,399.3 L147.4,399.1 L147.6,398.9 L147.8,398.7 L148.0,398.5 L148.2,398.2 L148.4,398.0 L148.7,397.8 L148.9,397.5 L149.1,397.3 L149.4,397.0 L149.7,396.7 L149.9,396.4 L150.2,396.1 L150.5,395.8 L150.9,395.5 L151.2,395.1 L151.6,394.8 L152.0,394.8 L152.4,394.8 L152.8,394.8 L153.2,394.8 L153.6,394.9 L154.0,394.9 L154.4,394.9 L154.8,394.9 L155.3,394.9 L155.7,394.9 L156.2,394.9 L156.6,394.9 L157.1,395.0 L157.6,395.0 L158.1,395.0 L158.5,395.3 L158.7,395.8 L158.9,396.3 L159.0,396.7 L159.2,397.2 L159.4,397.6 L159.5,398.0 L159.7,398.4 L159.8,398.8 L160.0,399.2 L160.1,399.6 L160.2,400.0 L160.4,400.3 L160.5,400.7 L160.6,401.0 L160.8,401.4 L160.9,401.7 L161.0,402.1 L160.8,402.5 L160.7,402.9 L160.6,403.3 L160.5,403.7 L160.4,404.0 L160.3,404.4 L160.1,404.7Z M159.2,404.9 L159.2,405.2 L159.1,405.5 L159.1,405.7 L159.0,406.0 L158.9,406.3 L158.8,406.5 L158.6,406.8 L158.5,407.0 L158.3,407.2 L158.2,407.4 L158.0,407.6 L157.8,407.9 L157.7,408.1 L157.5,408.3 L157.4,408.5 L157.2,408.7 L157.1,408.9 L157.0,409.1 L156.9,409.3 L156.7,409.5 L156.5,409.7 L156.3,409.9 L156.1,410.0 L155.9,410.2 L155.8,410.4 L155.6,410.6 L155.4,410.8 L155.2,411.1 L155.0,411.3 L154.8,411.5 L154.6,411.7 L154.3,411.9 L154.1,412.0 L153.8,412.2 L153.6,412.4 L153.3,412.5 L153.0,412.7 L152.7,412.8 L152.4,413.0 L152.1,413.1 L151.8,413.3 L151.4,413.4 L151.1,413.4 L150.7,413.4 L150.4,413.3 L150.1,413.3 L149.7,413.3 L149.4,413.2 L149.0,413.2 L148.7,413.2 L148.3,413.1 L147.9,413.1 L147.6,413.0 L147.2,412.9 L146.8,412.8 L146.4,412.7 L146.2,412.4 L146.0,412.1 L145.8,411.8 L145.6,411.4 L145.4,411.1 L145.2,410.8 L145.0,410.5 L144.8,410.2 L144.8,409.8 L144.9,409.3 L145.0,408.9 L145.1,408.5 L145.2,408.1 L145.2,407.8 L145.3,407.4 L145.3,407.1 L145.4,406.8 L145.4,406.5 L145.4,406.3 L145.4,406.0 L145.4,405.7 L145.4,405.4 L145.4,405.2 L145.4,404.9 L145.5,404.7 L145.5,404.4 L145.6,404.2 L145.7,403.9 L145.8,403.7 L145.9,403.4 L146.0,403.2 L146.2,403.0 L146.3,402.8 L146.5,402.6 L146.6,402.4 L146.8,402.2 L146.9,402.0 L147.1,401.9 L147.2,401.7 L147.4,401.5 L147.5,401.3 L147.6,401.1 L147.7,400.9 L147.9,400.7 L148.0,400.5 L148.2,400.3 L148.3,400.1 L148.4,399.9 L148.6,399.7 L148.7,399.5 L148.9,399.2 L149.0,399.0 L149.2,398.7 L149.4,398.5 L149.6,398.2 L149.8,398.0 L150.0,397.7 L150.3,397.5 L150.5,397.2 L150.8,397.0 L151.1,396.7 L151.4,396.5 L151.7,396.3 L152.1,396.3 L152.4,396.3 L152.8,396.3 L153.1,396.3 L153.4,396.4 L153.8,396.4 L154.1,396.4 L154.5,396.4 L154.8,396.4 L155.2,396.4 L155.6,396.5 L156.0,396.5 L156.3,396.5 L156.7,396.6 L157.1,396.7 L157.4,396.9 L157.6,397.3 L157.8,397.7 L157.9,398.1 L158.1,398.4 L158.2,398.8 L158.3,399.2 L158.4,399.5 L158.5,399.9 L158.6,400.2 L158.6,400.5 L158.7,400.9 L158.8,401.2 L158.9,401.5 L159.0,401.7 L159.1,402.0 L159.2,402.3 L159.3,402.6 L159.3,402.9 L159.3,403.2 L159.3,403.5 L159.3,403.8 L159.3,404.1 L159.3,404.4 L159.3,404.6Z M157.9,404.9 L157.8,405.1 L157.8,405.3 L157.7,405.5 L157.7,405.7 L157.6,405.9 L157.5,406.1 L157.4,406.3 L157.3,406.5 L157.2,406.7 L157.1,406.9 L157.0,407.1 L156.8,407.2 L156.7,407.4 L156.6,407.6 L156.5,407.7 L156.4,407.9 L156.3,408.1 L156.2,408.3 L156.1,408.5 L155.9,408.6 L155.8,408.8 L155.7,409.0 L155.5,409.1 L155.4,409.3 L155.2,409.5 L155.1,409.6 L154.9,409.8 L154.7,409.9 L154.6,410.1 L154.4,410.2 L154.2,410.3 L154.0,410.4 L153.8,410.5 L153.5,410.6 L153.3,410.7 L153.1,410.8 L152.9,410.9 L152.6,411.0 L152.4,411.2 L152.2,411.3 L151.9,411.4 L151.6,411.6 L151.3,411.7 L151.1,411.7 L150.8,411.8 L150.5,411.9 L150.2,411.9 L149.8,412.0 L149.5,412.0 L149.2,412.0 L148.9,412.0 L148.5,411.9 L148.2,411.9 L147.9,411.8 L147.6,411.7 L147.3,411.5 L147.1,411.2 L146.9,410.9 L146.8,410.7 L146.6,410.4 L146.4,410.1 L146.3,409.9 L146.1,409.6 L145.9,409.4 L145.8,409.1 L145.9,408.7 L145.9,408.4 L145.9,408.0 L145.9,407.7 L146.0,407.4 L146.0,407.1 L146.0,406.8 L146.1,406.6 L146.1,406.3 L146.2,406.0 L146.3,405.8 L146.4,405.5 L146.5,405.3 L146.6,405.1 L146.7,404.9 L146.9,404.6 L147.0,404.4 L147.1,404.3 L147.2,404.1 L147.3,403.9 L147.4,403.7 L147.5,403.5 L147.5,403.3 L147.6,403.2 L147.6,403.0 L147.7,402.8 L147.7,402.6 L147.8,402.4 L147.9,402.2 L147.9,402.0 L148.0,401.8 L148.1,401.7 L148.2,401.5 L148.3,401.3 L148.5,401.2 L148.6,401.0 L148.8,400.9 L149.0,400.8 L149.1,400.7 L149.3,400.6 L149.4,400.4 L149.6,400.3 L149.8,400.2 L149.9,400.0 L150.1,399.8 L150.2,399.6 L150.4,399.4 L150.6,399.2 L150.7,399.0 L150.9,398.8 L151.1,398.5 L151.4,398.3 L151.6,398.0 L151.9,397.8 L152.2,397.8 L152.4,397.7 L152.7,397.7 L153.0,397.7 L153.3,397.7 L153.6,397.7 L153.9,397.7 L154.1,397.8 L154.4,397.8 L154.7,397.9 L155.0,397.9 L155.3,398.0 L155.6,398.0 L156.0,398.0 L156.3,398.1 L156.6,398.2 L156.8,398.4 L157.0,398.7 L157.2,398.9 L157.4,399.1 L157.6,399.4 L157.8,399.7 L157.9,399.9 L158.0,400.2 L158.1,400.5 L158.2,400.8 L158.3,401.1 L158.3,401.4 L158.3,401.7 L158.4,402.0 L158.4,402.3 L158.4,402.6 L158.4,402.8 L158.3,403.1 L158.2,403.4 L158.1,403.7 L158.0,403.9 L158.0,404.2 L157.9,404.4 L157.9,404.6Z M156.8,404.8 L156.8,405.0 L156.8,405.1 L156.8,405.3 L156.7,405.5 L156.7,405.7 L156.6,405.8 L156.5,406.0 L156.4,406.2 L156.3,406.3 L156.3,406.5 L156.2,406.6 L156.1,406.8 L156.0,406.9 L156.0,407.1 L155.9,407.3 L155.9,407.4 L155.8,407.6 L155.8,407.8 L155.7,408.0 L155.6,408.2 L155.5,408.4 L155.4,408.5 L155.3,408.7 L155.1,408.8 L155.0,408.9 L154.8,409.0 L154.7,409.1 L154.5,409.2 L154.3,409.3 L154.1,409.4 L153.9,409.5 L153.8,409.6 L153.6,409.7 L153.4,409.8 L153.2,409.9 L153.0,410.0 L152.8,410.2 L152.6,410.3 L152.4,410.4 L152.2,410.6 L152.0,410.7 L151.7,410.8 L151.5,410.9 L151.2,410.9 L151.0,410.9 L150.8,410.8 L150.5,410.8 L150.3,410.7 L150.1,410.6 L149.9,410.5 L149.6,410.4 L149.4,410.2 L149.2,410.1 L149.0,410.0 L148.8,409.9 L148.5,409.8 L148.4,409.7 L148.2,409.5 L148.0,409.4 L147.8,409.2 L147.6,409.0 L147.5,408.8 L147.3,408.6 L147.2,408.4 L147.2,408.2 L147.2,407.8 L147.3,407.5 L147.4,407.3 L147.4,407.0 L147.5,406.7 L147.6,406.5 L147.7,406.3 L147.7,406.1 L147.8,405.9 L147.8,405.7 L147.8,405.5 L147.8,405.3 L147.8,405.1 L147.8,405.0 L147.8,404.8 L147.8,404.6 L147.9,404.4 L147.9,404.3 L147.9,404.1 L148.0,403.9 L148.0,403.8 L148.1,403.6 L148.2,403.5 L148.3,403.3 L148.4,403.2 L148.4,403.1 L148.5,402.9 L148.6,402.8 L148.7,402.6 L148.7,402.5 L148.8,402.3 L148.8,402.1 L148.9,401.9 L148.9,401.7 L149.0,401.6 L149.1,401.4 L149.2,401.2 L149.3,401.1 L149.4,400.9 L149.5,400.8 L149.7,400.6 L149.8,400.5 L150.0,400.4 L150.1,400.3 L150.3,400.2 L150.5,400.1 L150.6,400.0 L150.8,399.9 L151.0,399.7 L151.2,399.6 L151.4,399.4 L151.6,399.2 L151.8,399.1 L152.0,398.9 L152.2,398.8 L152.4,398.7 L152.7,398.7 L152.9,398.7 L153.2,398.6 L153.4,398.7 L153.7,398.7 L153.9,398.8 L154.1,398.8 L154.4,398.9 L154.6,399.0 L154.8,399.1 L155.0,399.2 L155.3,399.3 L155.5,399.4 L155.7,399.6 L155.8,399.8 L156.0,400.0 L156.1,400.2 L156.3,400.4 L156.4,400.6 L156.6,400.8 L156.7,401.0 L156.8,401.2 L156.8,401.4 L156.9,401.7 L156.9,401.9 L157.0,402.1 L157.0,402.4 L157.0,402.6 L157.0,402.8 L157.0,403.0 L157.0,403.2 L156.9,403.5 L156.9,403.7 L156.8,403.9 L156.8,404.1 L156.8,404.2 L156.8,404.4 L156.8,404.6Z M156.0,404.7 L156.0,404.9 L156.0,405.0 L155.9,405.2 L155.9,405.3 L155.8,405.4 L155.8,405.6 L155.7,405.7 L155.6,405.8 L155.6,406.0 L155.5,406.1 L155.4,406.2 L155.3,406.3 L155.2,406.4 L155.2,406.5 L155.1,406.6 L155.0,406.8 L155.0,406.9 L154.9,407.0 L154.9,407.2 L154.8,407.3 L154.7,407.4 L154.7,407.5 L154.6,407.7 L154.5,407.8 L154.4,407.9 L154.3,408.0 L154.2,408.1 L154.1,408.2 L153.9,408.3 L153.8,408.4 L153.7,408.5 L153.5,408.6 L153.4,408.7 L153.2,408.8 L153.1,408.8 L152.9,408.9 L152.8,409.0 L152.6,409.1 L152.4,409.1 L152.3,409.2 L152.1,409.3 L151.9,409.4 L151.7,409.5 L151.5,409.6 L151.3,409.6 L151.1,409.6 L150.9,409.7 L150.7,409.7 L150.4,409.7 L150.2,409.6 L150.0,409.6 L149.8,409.5 L149.6,409.4 L149.4,409.3 L149.3,409.2 L149.1,409.1 L149.0,408.9 L148.9,408.7 L148.8,408.5 L148.7,408.3 L148.6,408.2 L148.5,408.0 L148.4,407.8 L148.3,407.6 L148.2,407.4 L148.2,407.2 L148.2,407.0 L148.2,406.8 L148.2,406.6 L148.2,406.4 L148.2,406.2 L148.2,406.0 L148.3,405.9 L148.3,405.7 L148.4,405.5 L148.4,405.3 L148.5,405.2 L148.6,405.0 L148.6,404.9 L148.7,404.7 L148.8,404.6 L148.8,404.5 L148.9,404.3 L149.0,404.2 L149.0,404.1 L149.1,404.0 L149.1,403.8 L149.1,403.7 L149.2,403.6 L149.2,403.5 L149.2,403.3 L149.3,403.2 L149.3,403.1 L149.3,402.9 L149.4,402.8 L149.4,402.7 L149.5,402.6 L149.6,402.4 L149.7,402.3 L149.8,402.2 L149.9,402.1 L150.0,402.1 L150.1,402.0 L150.2,401.9 L150.3,401.8 L150.4,401.7 L150.5,401.6 L150.6,401.5 L150.7,401.3 L150.8,401.2 L150.9,401.1 L151.0,400.9 L151.1,400.8 L151.3,400.6 L151.4,400.5 L151.6,400.3 L151.7,400.2 L151.9,400.0 L152.1,399.9 L152.3,399.9 L152.5,399.8 L152.7,399.8 L152.8,399.8 L153.0,399.8 L153.2,399.9 L153.4,399.9 L153.6,399.9 L153.8,399.9 L154.0,400.0 L154.2,400.0 L154.4,400.1 L154.6,400.1 L154.8,400.1 L155.1,400.2 L155.2,400.3 L155.4,400.4 L155.5,400.6 L155.7,400.7 L155.8,400.9 L155.9,401.1 L156.0,401.3 L156.1,401.5 L156.2,401.7 L156.2,401.9 L156.2,402.1 L156.3,402.3 L156.3,402.5 L156.3,402.7 L156.3,402.9 L156.2,403.1 L156.2,403.3 L156.2,403.4 L156.2,403.6 L156.2,403.8 L156.1,404.0 L156.1,404.1 L156.1,404.3 L156.1,404.4 L156.0,404.6Z M155.5,404.7 L155.5,404.8 L155.4,404.9 L155.4,405.0 L155.3,405.2 L155.2,405.3 L155.2,405.4 L155.1,405.5 L155.0,405.6 L155.0,405.7 L154.9,405.8 L154.8,405.8 L154.8,405.9 L154.7,406.0 L154.6,406.1 L154.6,406.2 L154.5,406.3 L154.5,406.4 L154.4,406.5 L154.4,406.6 L154.3,406.7 L154.2,406.8 L154.2,406.9 L154.1,407.0 L154.0,407.0 L154.0,407.1 L153.9,407.2 L153.8,407.3 L153.7,407.4 L153.6,407.5 L153.5,407.6 L153.4,407.6 L153.3,407.7 L153.2,407.8 L153.1,407.8 L153.0,407.9 L152.8,408.0 L152.7,408.0 L152.6,408.1 L152.5,408.1 L152.3,408.2 L152.2,408.3 L152.0,408.3 L151.9,408.4 L151.7,408.4 L151.6,408.5 L151.4,408.5 L151.2,408.5 L151.1,408.5 L150.9,408.5 L150.7,408.5 L150.6,408.5 L150.4,408.4 L150.2,408.4 L150.1,408.3 L149.9,408.2 L149.8,408.1 L149.7,408.0 L149.6,407.8 L149.5,407.7 L149.5,407.5 L149.4,407.4 L149.4,407.2 L149.3,407.0 L149.3,406.9 L149.3,406.7 L149.3,406.5 L149.3,406.4 L149.3,406.2 L149.3,406.1 L149.3,405.9 L149.3,405.8 L149.4,405.6 L149.4,405.5 L149.4,405.4 L149.4,405.3 L149.4,405.2 L149.4,405.0 L149.4,404.9 L149.4,404.8 L149.4,404.7 L149.4,404.6 L149.5,404.5 L149.5,404.4 L149.5,404.2 L149.6,404.1 L149.6,404.0 L149.7,403.9 L149.7,403.8 L149.7,403.7 L149.8,403.6 L149.8,403.5 L149.9,403.4 L149.9,403.3 L150.0,403.2 L150.0,403.1 L150.1,403.0 L150.1,402.9 L150.1,402.8 L150.2,402.7 L150.2,402.6 L150.3,402.5 L150.4,402.4 L150.4,402.3 L150.5,402.2 L150.6,402.1 L150.7,402.0 L150.8,401.9 L150.9,401.8 L151.0,401.8 L151.1,401.7 L151.2,401.6 L151.3,401.6 L151.4,401.5 L151.5,401.5 L151.7,401.4 L151.8,401.4 L151.9,401.3 L152.0,401.3 L152.2,401.2 L152.3,401.2 L152.5,401.2 L152.6,401.2 L152.7,401.2 L152.9,401.2 L153.0,401.2 L153.2,401.1 L153.3,401.1 L153.5,401.1 L153.6,401.1 L153.8,401.1 L154.0,401.1 L154.1,401.2 L154.3,401.2 L154.4,401.2 L154.6,401.3 L154.7,401.4 L154.8,401.6 L154.9,401.7 L154.9,401.8 L155.0,402.0 L155.1,402.1 L155.1,402.3 L155.2,402.4 L155.3,402.5 L155.3,402.7 L155.3,402.8 L155.4,403.0 L155.4,403.1 L155.5,403.2 L155.5,403.4 L155.6,403.5 L155.6,403.6 L155.6,403.8 L155.6,403.9 L155.6,404.0 L155.6,404.2 L155.6,404.3 L155.6,404.4 L155.5,404.6Z M154.7,404.6 L154.7,404.7 L154.7,404.8 L154.6,404.9 L154.6,405.0 L154.5,405.1 L154.5,405.2 L154.4,405.2 L154.4,405.3 L154.3,405.4 L154.3,405.4 L154.2,405.5 L154.2,405.6 L154.1,405.6 L154.1,405.7 L154.1,405.8 L154.0,405.8 L154.0,405.9 L154.0,406.0 L153.9,406.1 L153.9,406.2 L153.8,406.2 L153.8,406.3 L153.7,406.4 L153.7,406.5 L153.6,406.5 L153.5,406.6 L153.5,406.6 L153.4,406.7 L153.3,406.7 L153.2,406.8 L153.2,406.8 L153.1,406.9 L153.0,406.9 L152.9,407.0 L152.8,407.1 L152.8,407.2 L152.7,407.2 L152.6,407.3 L152.5,407.4 L152.4,407.5 L152.2,407.5 L152.1,407.6 L152.0,407.6 L151.9,407.6 L151.8,407.6 L151.7,407.6 L151.5,407.6 L151.4,407.5 L151.3,407.5 L151.2,407.4 L151.1,407.4 L151.0,407.3 L150.9,407.3 L150.8,407.2 L150.7,407.1 L150.6,407.1 L150.5,407.0 L150.4,406.9 L150.3,406.8 L150.2,406.8 L150.2,406.7 L150.1,406.6 L150.1,406.4 L150.0,406.3 L150.0,406.2 L150.0,406.1 L150.0,405.9 L150.1,405.8 L150.1,405.7 L150.1,405.6 L150.1,405.5 L150.2,405.4 L150.2,405.3 L150.2,405.2 L150.2,405.1 L150.2,405.0 L150.1,404.9 L150.1,404.8 L150.1,404.7 L150.1,404.6 L150.1,404.6 L150.1,404.5 L150.2,404.4 L150.2,404.3 L150.2,404.2 L150.2,404.1 L150.3,404.1 L150.3,404.0 L150.4,403.9 L150.4,403.8 L150.4,403.8 L150.5,403.7 L150.5,403.6 L150.5,403.5 L150.6,403.4 L150.6,403.4 L150.6,403.3 L150.7,403.2 L150.7,403.1 L150.7,403.0 L150.8,403.0 L150.9,402.9 L150.9,402.8 L151.0,402.8 L151.1,402.7 L151.1,402.7 L151.2,402.6 L151.3,402.6 L151.4,402.5 L151.5,402.5 L151.6,402.5 L151.6,402.4 L151.7,402.4 L151.8,402.3 L151.9,402.3 L152.0,402.2 L152.1,402.1 L152.2,402.1 L152.3,402.0 L152.4,402.0 L152.5,401.9 L152.6,401.9 L152.7,401.9 L152.8,401.9 L152.9,401.9 L153.0,401.9 L153.1,401.9 L153.2,401.9 L153.3,402.0 L153.5,402.0 L153.6,402.0 L153.7,402.1 L153.8,402.1 L153.9,402.1 L154.0,402.2 L154.1,402.2 L154.2,402.3 L154.3,402.4 L154.4,402.4 L154.5,402.5 L154.6,402.6 L154.6,402.7 L154.7,402.8 L154.7,402.9 L154.8,403.0 L154.8,403.1 L154.8,403.3 L154.8,403.4 L154.8,403.5 L154.8,403.6 L154.8,403.7 L154.8,403.8 L154.8,404.0 L154.8,404.1 L154.8,404.2 L154.8,404.3 L154.8,404.4 L154.7,404.5 L154.7,404.5Z" fill="none" stroke="#222" stroke-width="0.8" stroke-linejoin="round"/><path d="M154.1,407.0 L153.8,407.0 L153.7,406.8 L153.9,406.5 L154.1,406.3 L154.3,406.1 L154.5,405.8 L154.7,405.7 L154.7,406.0 L154.7,406.3 L154.7,406.6 L154.6,406.9 L154.4,407.1 L154.2,407.1Z M155.6,404.6 L155.2,404.8 L155.0,404.9 L154.6,405.2 L154.1,405.1 L153.9,404.8 L153.9,404.5 L153.7,404.2 L153.6,403.9 L154.0,403.7 L154.5,403.8 L154.8,404.0 L155.3,404.0 L155.7,404.3Z M149.8,404.2 L149.4,404.1 L149.0,403.8 L149.0,403.3 L149.4,402.9 L149.8,402.7 L150.1,402.3 L150.6,402.1 L150.9,402.6 L150.8,403.1 L150.8,403.5 L150.9,404.0 L150.6,404.5 L150.1,404.5Z M145.9,406.9 L145.7,406.4 L146.1,406.0 L146.7,405.9 L147.1,405.8 L147.6,405.7 L148.1,405.9 L148.1,406.5 L147.8,406.9 L147.8,407.3 L147.5,407.8 L147.0,407.9 L146.6,407.5 L146.3,407.1Z M154.9,402.2 L154.4,401.8 L154.5,401.3 L155.1,401.0 L155.6,401.0 L156.0,400.7 L156.6,400.6 L156.9,401.1 L156.7,401.6 L156.5,402.0 L156.5,402.5 L156.1,403.0 L155.5,402.8 L155.2,402.4Z M154.6,409.7 L154.2,409.7 L154.0,409.9 L153.6,410.0 L153.1,409.7 L152.9,409.3 L152.9,409.0 L152.8,408.7 L152.8,408.3 L153.3,408.3 L153.8,408.7 L154.1,408.9 L154.5,409.1 L154.9,409.5Z M153.6,404.3 L154.0,404.0 L154.2,403.8 L154.5,403.4 L155.1,403.3 L155.5,403.6 L155.7,403.8 L156.0,404.0 L156.2,404.4 L155.8,404.7 L155.1,404.7 L154.7,404.7 L154.1,404.8 L153.5,404.6Z M157.1,408.1 L156.5,408.2 L156.2,408.4 L155.7,408.6 L155.0,408.5 L154.8,408.0 L154.8,407.6 L154.6,407.2 L154.6,406.7 L155.1,406.5 L155.8,406.8 L156.2,407.0 L156.8,407.2 L157.3,407.6Z M149.0,404.7 L148.9,404.1 L149.3,403.5 L149.7,403.1 L150.0,402.5 L150.7,402.0 L151.2,402.2 L151.3,402.8 L151.5,403.1 L151.8,403.5 L151.5,404.2 L150.7,404.4 L150.2,404.4 L149.7,404.6Z M152.5,403.0 L152.6,402.8 L152.7,402.5 L152.9,402.2 L153.3,402.2 L153.6,402.4 L153.8,402.6 L154.1,402.7 L154.2,403.0 L153.8,403.2 L153.5,403.3 L153.2,403.4 L152.7,403.5 L152.4,403.3Z M153.2,408.8 L153.1,409.0 L152.9,409.3 L152.4,409.3 L152.0,408.9 L151.8,408.6 L151.5,408.4 L151.2,408.0 L151.5,407.8 L152.1,407.9 L152.4,408.0 L152.9,408.1 L153.4,408.3 L153.4,408.7Z M150.4,402.3 L150.6,401.7 L151.0,401.2 L151.1,400.7 L151.5,400.1 L152.2,399.8 L152.5,400.2 L152.7,400.5 L153.2,400.6 L153.3,401.2 L152.8,401.7 L152.1,401.9 L151.7,402.1 L151.0,402.5Z M155.3,405.7 L155.0,405.6 L154.8,405.6 L154.5,405.6 L154.2,405.4 L154.3,405.0 L154.5,404.9 L154.5,404.7 L154.7,404.4 L155.0,404.4 L155.2,404.7 L155.3,404.9 L155.4,405.2 L155.5,405.5Z M152.5,407.4 L152.4,407.8 L151.9,408.0 L151.5,407.6 L151.2,407.4 L150.7,407.2 L150.4,406.7 L150.7,406.4 L151.1,406.3 L151.4,406.2 L151.9,405.9 L152.4,406.1 L152.5,406.6 L152.4,407.0Z" fill="none" stroke="#000" stroke-width="0.8" stroke-linejoin="round"/><path d="M147.0,414.6 L143.0,416.0 L138.5,420.5 L134.0,426.5 L131.2,432.0 L129.8,440.0" fill="none" stroke="#222" stroke-width="0.8" stroke-linejoin="round"/><path d="M103.3,428.4 L102.9,427.9 L102.5,427.7 L102.0,427.1 L102.3,426.2 L102.9,425.9 L103.4,425.7 L103.9,425.2 L104.6,425.2 L104.8,426.1 L104.5,426.8 L104.5,427.4 L104.4,428.3 L103.9,428.8Z M114.8,436.4 L114.6,435.7 L115.3,435.2 L116.3,435.1 L116.9,434.9 L117.9,434.6 L118.7,435.0 L118.5,435.7 L118.1,436.2 L118.0,436.8 L117.5,437.5 L116.5,437.6 L115.9,437.1 L115.6,436.7Z M119.1,432.2 L118.8,432.2 L118.5,431.8 L118.4,431.5 L118.1,431.3 L117.9,430.8 L118.1,430.6 L118.4,430.6 L118.6,430.6 L118.9,430.5 L119.2,430.8 L119.3,431.2 L119.2,431.5 L119.2,431.8Z M115.0,427.9 L114.9,428.4 L114.7,429.0 L113.8,429.3 L113.0,428.8 L112.6,428.3 L111.9,427.9 L111.3,427.3 L111.8,426.7 L112.7,426.7 L113.4,426.6 L114.2,426.4 L115.2,426.7 L115.4,427.4Z M115.2,420.2 L115.4,419.7 L115.3,419.2 L115.7,418.6 L116.5,418.6 L117.0,418.9 L117.4,419.2 L118.1,419.4 L118.2,419.9 L117.6,420.4 L116.9,420.5 L116.4,420.8 L115.7,421.1 L115.0,420.8Z M104.2,438.3 L103.6,438.5 L103.0,438.3 L102.5,438.2 L101.9,438.2 L101.4,437.7 L101.6,437.1 L102.0,436.8 L102.2,436.5 L102.6,436.0 L103.3,436.1 L103.6,436.7 L103.7,437.2 L104.1,437.6Z M98.3,436.5 L98.3,436.9 L97.9,437.1 L97.4,436.8 L97.2,436.4 L97.0,436.1 L96.6,435.7 L96.6,435.3 L97.0,435.2 L97.5,435.4 L97.8,435.5 L98.4,435.6 L98.7,436.0 L98.6,436.4Z M110.5,424.8 L109.4,424.6 L108.7,424.1 L107.8,424.0 L106.8,423.4 L106.7,422.3 L107.5,421.6 L108.1,421.2 L108.7,420.4 L109.7,420.1 L110.5,421.0 L110.5,422.1 L110.8,422.8 L111.1,423.9Z M113.9,437.2 L114.1,436.5 L114.9,436.0 L115.3,435.5 L115.8,434.9 L116.7,434.6 L117.2,435.0 L117.2,435.6 L117.5,435.9 L117.7,436.5 L117.0,437.2 L116.1,437.2 L115.5,437.2 L114.7,437.4Z M101.7,433.3 L101.4,433.7 L100.8,433.9 L100.4,433.4 L100.4,432.8 L100.3,432.4 L100.1,431.8 L100.4,431.3 L101.0,431.5 L101.4,431.8 L101.9,431.9 L102.4,432.2 L102.4,432.8 L102.0,433.1Z M121.6,433.3 L120.6,433.1 L119.9,432.4 L119.2,432.0 L118.3,431.4 L118.1,430.4 L118.9,429.8 L119.5,429.6 L120.1,429.0 L121.0,428.7 L121.7,429.6 L121.7,430.7 L121.7,431.4 L122.0,432.4Z M120.3,421.4 L119.8,422.0 L118.8,422.2 L118.2,422.3 L117.3,422.6 L116.4,422.4 L116.2,421.6 L116.5,421.0 L116.6,420.4 L116.7,419.6 L117.7,419.3 L118.5,419.9 L119.0,420.4 L119.7,420.7Z M107.4,423.2 L107.0,422.5 L107.4,421.7 L108.4,421.6 L109.1,421.9 L109.8,421.9 L110.8,422.1 L111.1,422.9 L110.4,423.6 L109.8,423.9 L109.4,424.6 L108.6,425.0 L107.8,424.6 L107.6,423.8Z M114.4,433.0 L114.6,433.6 L114.1,433.9 L113.1,433.7 L112.4,433.3 L111.8,433.0 L110.9,432.6 L110.8,432.0 L111.6,431.8 L112.2,431.8 L112.8,431.5 L113.8,431.5 L114.4,432.1 L114.4,432.6Z M118.6,428.8 L118.7,428.3 L119.0,427.9 L119.1,427.6 L119.3,427.1 L119.8,426.8 L120.1,427.1 L120.2,427.3 L120.6,427.3 L120.7,427.7 L120.2,428.1 L119.8,428.3 L119.4,428.5 L118.9,428.8Z M113.4,427.9 L113.0,427.9 L112.5,428.1 L111.9,427.9 L111.5,427.2 L111.7,426.7 L111.7,426.2 L111.6,425.5 L112.1,425.2 L112.7,425.7 L113.1,426.2 L113.6,426.5 L114.1,427.1 L114.0,427.8Z M109.6,422.7 L109.0,422.5 L108.1,422.4 L107.6,421.5 L108.2,420.6 L108.9,420.2 L109.3,419.5 L110.1,418.8 L110.9,419.3 L111.1,420.3 L111.1,421.0 L111.5,421.8 L111.3,422.8 L110.4,423.1Z M115.7,432.5 L115.2,432.3 L114.9,432.0 L114.4,431.8 L114.0,431.4 L114.0,430.8 L114.4,430.6 L114.6,430.3 L114.9,429.9 L115.4,430.0 L115.7,430.6 L115.7,431.1 L115.9,431.6 L116.0,432.2Z M106.3,426.3 L106.3,425.9 L106.3,425.5 L106.2,425.2 L106.3,424.8 L106.7,424.5 L106.9,424.6 L107.2,424.7 L107.5,424.6 L107.6,425.0 L107.4,425.4 L107.1,425.7 L106.9,425.9 L106.6,426.3Z M118.3,438.6 L117.9,438.9 L117.3,438.6 L116.9,438.2 L116.3,438.0 L115.8,437.5 L115.8,436.9 L116.3,436.8 L116.7,436.6 L117.0,436.3 L117.7,436.4 L118.1,437.0 L118.0,437.5 L118.2,438.0Z M110.6,439.2 L110.1,438.5 L109.6,438.1 L108.9,437.7 L108.7,436.7 L109.2,435.9 L109.9,435.8 L110.3,435.3 L111.0,434.9 L111.6,435.5 L111.6,436.6 L111.5,437.3 L111.6,438.2 L111.4,439.2Z M110.7,423.3 L110.5,423.0 L110.7,422.7 L111.3,422.6 L111.7,422.8 L112.1,422.8 L112.6,422.9 L112.8,423.1 L112.4,423.4 L112.0,423.5 L111.8,423.7 L111.3,423.9 L110.8,423.8 L110.8,423.5Z M114.3,419.0 L113.9,419.2 L113.7,419.7 L113.1,420.0 L112.5,419.6 L112.3,419.0 L112.1,418.6 L111.8,418.0 L112.0,417.4 L112.7,417.4 L113.3,417.7 L113.8,417.7 L114.5,417.9 L114.8,418.5Z M101.6,438.8 L101.4,439.1 L100.7,439.2 L100.2,439.2 L99.7,439.3 L99.0,439.2 L98.8,438.8 L99.0,438.5 L99.1,438.3 L99.2,437.9 L99.8,437.7 L100.4,438.0 L100.7,438.2 L101.2,438.4Z M114.5,421.7 L114.1,421.3 L114.3,420.8 L115.1,420.6 L115.7,420.7 L116.3,420.6 L117.0,420.6 L117.3,421.0 L116.9,421.5 L116.4,421.8 L116.2,422.3 L115.5,422.6 L114.9,422.5 L114.7,422.0Z M103.4,426.5 L103.3,425.7 L103.9,425.1 L104.5,424.9 L104.9,424.3 L105.8,424.0 L106.4,424.6 L106.3,425.4 L106.4,425.9 L106.7,426.7 L106.2,427.4 L105.3,427.3 L104.8,426.9 L104.2,426.8Z M119.9,436.3 L119.4,436.1 L118.6,436.1 L118.1,435.3 L118.5,434.5 L119.1,434.0 L119.4,433.4 L120.0,432.8 L120.7,433.0 L121.0,433.9 L121.0,434.6 L121.4,435.3 L121.3,436.3 L120.6,436.6Z M113.5,432.6 L112.6,432.6 L111.9,432.6 L111.1,432.8 L110.2,432.5 L110.0,431.5 L110.4,430.9 L110.5,430.3 L110.7,429.4 L111.5,429.2 L112.3,429.9 L112.7,430.5 L113.4,431.0 L114.0,431.9Z M119.3,425.5 L118.7,425.7 L118.4,425.9 L118.0,426.3 L117.3,426.2 L116.9,425.7 L116.9,425.3 L116.6,425.0 L116.5,424.4 L117.0,424.1 L117.7,424.4 L118.2,424.5 L118.9,424.6 L119.5,425.0Z M121.9,426.3 L121.2,426.6 L120.3,425.8 L119.9,425.0 L119.2,424.4 L118.6,423.4 L118.8,422.5 L119.7,422.5 L120.3,422.5 L121.0,422.3 L121.9,422.7 L122.2,423.8 L122.0,424.6 L121.9,425.3Z M99.1,422.2 L98.5,422.3 L97.9,422.0 L97.5,421.9 L96.8,421.7 L96.5,421.1 L96.9,420.6 L97.3,420.3 L97.5,419.8 L98.1,419.5 L98.6,419.9 L98.8,420.6 L98.9,421.0 L99.3,421.6Z M93.3,428.3 L93.0,428.3 L93.0,428.1 L93.3,427.7 L93.6,427.6 L93.8,427.5 L94.2,427.2 L94.5,427.2 L94.4,427.6 L94.2,427.8 L94.1,428.1 L93.9,428.4 L93.5,428.6 L93.3,428.5Z M102.0,430.9 L101.8,430.6 L101.6,430.1 L101.9,429.6 L102.5,429.6 L102.8,429.8 L103.3,429.8 L103.8,429.9 L103.8,430.4 L103.4,430.8 L103.2,431.1 L102.9,431.5 L102.4,431.7 L102.0,431.3Z M104.2,431.2 L104.3,432.2 L103.5,432.7 L102.6,432.3 L102.1,431.8 L101.4,431.6 L100.7,430.9 L100.9,430.0 L101.8,429.7 L102.4,429.4 L103.1,428.9 L104.0,428.9 L104.4,429.8 L104.2,430.6Z M105.6,433.9 L105.3,434.2 L105.0,434.0 L104.8,433.5 L104.7,433.1 L104.5,432.7 L104.5,432.2 L104.9,432.2 L105.2,432.4 L105.5,432.5 L105.9,432.6 L106.1,433.0 L105.9,433.4 L105.7,433.6Z M96.1,424.1 L96.0,425.3 L95.0,425.8 L94.0,425.1 L93.4,424.4 L92.5,424.0 L91.7,423.1 L92.2,422.1 L93.3,421.8 L94.1,421.6 L95.0,421.0 L96.2,421.3 L96.5,422.4 L96.1,423.3Z" fill="none" stroke="#444" stroke-width="0.6" stroke-linejoin="round"/><path d="M109.4,426.4 L109.3,426.2 L109.4,425.9 L109.8,425.8 L110.2,425.9 L110.5,426.0 L110.9,426.1 L111.2,426.3 L110.9,426.6 L110.5,426.7 L110.2,426.8 L109.8,427.0 L109.4,426.9 L109.3,426.6Z M109.7,425.9 L109.2,426.3 L108.4,426.5 L107.9,425.9 L108.0,425.1 L108.0,424.6 L107.9,423.9 L108.3,423.2 L109.1,423.3 L109.6,423.8 L110.1,424.1 L110.8,424.5 L110.9,425.3 L110.3,425.8Z M110.4,429.4 L109.7,429.3 L109.2,429.2 L108.6,429.3 L108.0,428.9 L108.0,428.1 L108.5,427.7 L108.6,427.3 L108.9,426.7 L109.6,426.6 L110.1,427.2 L110.2,427.8 L110.6,428.2 L110.9,428.9Z M111.5,425.2 L111.2,424.9 L110.6,424.9 L110.2,424.3 L110.4,423.6 L110.9,423.2 L111.2,422.9 L111.6,422.3 L112.2,422.4 L112.4,423.1 L112.4,423.7 L112.6,424.3 L112.6,425.1 L112.1,425.5Z M114.5,423.8 L114.3,424.0 L114.0,424.3 L113.5,424.2 L113.2,423.7 L113.0,423.4 L112.7,423.0 L112.6,422.5 L113.0,422.3 L113.5,422.5 L113.9,422.7 L114.4,422.7 L114.9,423.1 L114.8,423.6Z M115.0,431.2 L114.7,431.1 L114.5,431.2 L114.2,431.1 L113.8,430.8 L113.8,430.5 L113.8,430.2 L113.7,429.9 L113.9,429.6 L114.3,429.8 L114.6,430.2 L114.8,430.4 L115.2,430.7 L115.3,431.1Z M108.7,430.2 L108.3,430.7 L107.6,430.6 L107.3,429.9 L107.3,429.2 L107.3,428.7 L107.2,427.9 L107.6,427.4 L108.3,427.8 L108.7,428.2 L109.2,428.5 L109.8,429.0 L109.7,429.8 L109.1,430.1Z" fill="none" stroke="#000" stroke-width="0.9" stroke-linejoin="round"/><path d="M93.0,437.3 L110.0,437.3 M93.0,438.5 L110.0,438.5" fill="none" stroke="#000" stroke-width="0.9" stroke-linejoin="round"/><path d="M110.0,437.8 L124.0,437.8 M110.0,438.6 L122.0,438.6" fill="none" stroke="#333" stroke-width="0.7" stroke-linejoin="round"/><path d="M93.6,423.0 L93.6,437.0 M94.6,425.0 L94.6,437.0" fill="none" stroke="#222" stroke-width="0.7" stroke-linejoin="round"/></g>
<g clip-path="url(#cp3)"><path d="M224.0,423.0 L236.0,419.0 L248.0,414.0 L258.0,411.0 L263.0,414.0 L265.0,425.0 L264.0,440.0 L224.0,440.0Z" fill="#000" fill-opacity="0.12" stroke="none"/><path d="M262.8,413.0 L265.3,413.5 L266.1,419.0 L265.6,426.0 L263.7,427.0 L262.3,420.0Z" fill="#000" fill-opacity="0.6" stroke="none"/><path d="M218.0,418.0 L226.0,419.3 L231.4,418.6 L236.8,411.9 L242.2,401.2 L247.6,393.1 L253.6,390.4 L258.3,392.4 L263.7,395.8 L269.1,397.8 L273.1,395.8 L274.5,394.4 L278.5,392.4 L283.9,393.1 L286.6,397.1 L285.3,401.2 L279.9,403.2 L274.5,403.8 L270.5,405.2 L268.4,411.9 L267.8,420.0 L267.1,428.1 L266.4,436.1 L266.4,445.0 L218.0,445.0Z" fill="none" stroke="#222" stroke-width="0.8" stroke-linejoin="round"/><path d="M263.5,426.3 L263.5,426.8 L263.5,427.4 L263.6,427.9 L263.7,428.5 L263.8,429.1 L263.9,429.7 L264.0,430.3 L264.1,431.0 L264.1,431.6 L264.2,432.3 L264.1,433.0 L264.1,433.6 L264.0,434.3 L263.8,435.0 L263.7,435.6 L263.5,436.3 L263.3,437.0 L263.1,437.8 L262.9,438.5 L262.8,439.4 L262.7,440.3 L262.6,441.4 L262.5,442.5 L262.5,443.9 L262.5,445.4 L262.5,447.1 L262.5,449.1 L262.4,451.3 L262.4,453.9 L262.4,456.9 L262.3,460.3 L261.0,461.1 L259.5,461.0 L258.0,460.7 L256.5,460.4 L255.1,460.1 L253.7,459.8 L252.3,459.6 L251.0,459.3 L249.7,459.2 L248.4,459.2 L247.1,459.3 L245.8,459.5 L244.4,459.8 L243.0,460.2 L241.5,460.6 L239.9,461.1 L238.3,461.5 L236.6,461.9 L234.8,462.3 L233.0,462.5 L231.1,462.7 L229.3,462.8 L227.4,462.7 L225.4,462.6 L223.4,462.5 L221.3,462.3 L219.1,462.1 L216.8,461.9 L214.2,461.8 L211.4,461.7 L208.2,461.8 L204.6,461.9 L200.5,462.0 L199.0,460.2 L198.6,457.6 L198.3,455.1 L198.0,452.6 L197.8,450.2 L197.7,447.8 L197.7,445.5 L197.9,443.1 L198.3,440.8 L198.7,438.5 L199.3,436.3 L200.0,434.2 L200.6,432.1 L201.3,430.1 L207.3,428.0 L212.6,426.3 L217.8,425.0 L223.0,424.2 L226.7,423.6 L229.5,423.1 L231.9,422.8 L233.8,422.5 L234.7,422.1 L235.0,421.5 L235.3,421.0 L235.6,420.5 L235.9,420.0 L236.3,419.5 L236.7,419.0 L237.1,418.6 L237.5,418.1 L237.9,417.7 L238.3,417.3 L238.7,416.9 L239.1,416.5 L239.4,416.0 L239.7,415.5 L239.9,414.9 L240.2,414.2 L240.4,413.5 L240.6,412.7 L240.8,411.8 L241.1,410.9 L241.4,409.9 L241.7,408.9 L242.1,407.9 L242.5,406.8 L243.0,405.8 L243.6,404.8 L244.3,403.8 L245.0,402.9 L245.8,401.9 L246.7,400.9 L247.6,399.8 L248.6,399.0 L249.7,398.7 L250.8,398.2 L251.9,397.7 L253.1,397.3 L254.2,397.7 L255.3,398.1 L256.4,398.4 L257.5,398.8 L258.5,399.3 L259.4,399.9 L260.4,400.5 L261.3,401.2 L262.1,402.0 L262.8,402.9 L263.5,403.9 L264.1,404.8 L264.0,406.6 L263.8,408.4 L263.7,409.9 L263.5,411.4 L263.4,412.6 L263.3,413.7 L263.3,414.7 L263.3,415.6 L263.3,416.4 L263.4,417.1 L263.5,417.8 L263.6,418.5 L263.8,419.1 L263.9,419.8 L263.9,420.4 L264.0,421.0 L264.0,421.6 L264.0,422.3 L264.0,422.9 L263.9,423.5 L263.8,424.1 L263.7,424.6 L263.6,425.2 L263.6,425.8Z M261.8,426.6 L261.8,427.1 L261.8,427.5 L261.8,428.0 L261.8,428.5 L261.8,429.0 L261.8,429.5 L261.7,430.0 L261.7,430.5 L261.6,431.1 L261.5,431.6 L261.4,432.1 L261.3,432.6 L261.2,433.2 L261.1,433.7 L261.0,434.3 L260.9,434.9 L260.9,435.6 L260.9,436.3 L260.9,437.1 L260.9,438.0 L260.9,439.0 L260.9,440.0 L261.0,441.2 L261.1,442.6 L261.1,444.1 L261.2,445.7 L261.2,447.6 L261.3,449.8 L261.3,452.3 L261.3,455.2 L261.2,458.6 L260.1,459.5 L258.7,459.6 L257.4,459.6 L256.0,459.6 L254.6,459.5 L253.3,459.4 L252.0,459.3 L250.7,459.1 L249.4,458.9 L248.2,458.8 L246.9,458.7 L245.6,458.5 L244.4,458.5 L243.1,458.4 L241.8,458.4 L240.4,458.4 L239.1,458.5 L237.6,458.6 L236.1,458.7 L234.5,458.9 L232.9,459.0 L231.2,459.2 L229.4,459.3 L227.5,459.4 L225.5,459.5 L223.4,459.5 L221.3,459.5 L219.0,459.5 L216.7,459.3 L214.2,459.2 L211.5,458.9 L208.7,458.7 L205.6,458.4 L205.0,456.3 L205.4,453.5 L205.8,451.0 L206.2,448.6 L206.6,446.3 L206.9,444.2 L207.1,442.2 L207.3,440.3 L207.4,438.4 L207.4,436.7 L207.4,434.9 L207.3,433.2 L207.1,431.6 L206.9,429.9 L211.5,428.1 L215.8,426.6 L220.1,425.4 L224.6,424.6 L227.9,424.0 L230.4,423.6 L232.8,423.3 L234.6,423.0 L235.5,422.6 L235.9,422.2 L236.3,421.7 L236.7,421.3 L237.1,420.9 L237.5,420.5 L237.9,420.1 L238.3,419.7 L238.6,419.4 L239.0,419.0 L239.3,418.6 L239.6,418.2 L239.9,417.8 L240.2,417.3 L240.4,416.8 L240.6,416.2 L240.8,415.6 L241.0,414.9 L241.2,414.2 L241.4,413.5 L241.7,412.7 L242.0,411.9 L242.3,411.1 L242.6,410.2 L243.0,409.3 L243.5,408.3 L244.0,407.4 L244.6,406.5 L245.2,405.5 L245.9,404.6 L246.7,403.5 L247.5,402.4 L248.5,401.6 L249.4,401.3 L250.4,400.9 L251.5,400.5 L252.6,400.2 L253.5,400.6 L254.5,401.1 L255.5,401.5 L256.4,401.9 L257.3,402.4 L258.1,402.9 L259.0,403.4 L259.9,403.9 L260.7,404.4 L261.5,404.9 L262.3,405.5 L263.1,406.1 L263.3,407.5 L263.3,409.0 L263.3,410.3 L263.3,411.6 L263.2,412.8 L263.2,413.9 L263.1,414.9 L262.9,415.9 L262.8,416.9 L262.6,417.8 L262.5,418.6 L262.3,419.4 L262.2,420.1 L262.0,420.8 L261.9,421.4 L261.8,422.0 L261.8,422.6 L261.7,423.1 L261.7,423.6 L261.6,424.1 L261.7,424.6 L261.7,425.1 L261.7,425.6 L261.7,426.1Z M261.3,426.8 L261.3,427.3 L261.4,427.8 L261.4,428.3 L261.4,428.8 L261.5,429.3 L261.5,429.8 L261.4,430.3 L261.4,430.8 L261.4,431.3 L261.3,431.8 L261.2,432.3 L261.1,432.9 L261.0,433.4 L260.9,434.0 L260.7,434.5 L260.6,435.1 L260.5,435.7 L260.3,436.3 L260.2,437.0 L260.1,437.7 L260.0,438.5 L259.9,439.3 L259.7,440.2 L259.6,441.2 L259.5,442.3 L259.5,443.6 L259.4,445.0 L259.3,446.7 L259.2,448.6 L259.2,450.9 L259.1,453.6 L258.1,454.4 L257.0,454.4 L255.8,454.5 L254.7,454.6 L253.6,454.7 L252.5,454.7 L251.4,454.8 L250.3,454.8 L249.2,454.8 L248.1,454.7 L247.0,454.7 L245.9,454.6 L244.8,454.5 L243.7,454.4 L242.6,454.2 L241.5,454.1 L240.4,454.0 L239.2,453.8 L238.1,453.7 L236.9,453.5 L235.6,453.4 L234.3,453.4 L232.9,453.3 L231.5,453.3 L229.9,453.3 L228.3,453.4 L226.5,453.4 L224.5,453.5 L222.3,453.7 L219.9,453.8 L217.3,454.0 L214.4,454.2 L211.1,454.4 L209.9,453.1 L209.5,451.1 L209.2,449.2 L208.8,447.4 L208.6,445.5 L208.3,443.8 L208.1,442.0 L207.9,440.2 L207.8,438.5 L207.7,436.8 L207.7,435.1 L207.7,433.4 L207.8,431.7 L207.9,430.1 L212.6,428.2 L216.9,426.8 L221.2,425.7 L225.6,425.0 L228.8,424.4 L231.3,424.0 L233.5,423.7 L235.3,423.5 L236.1,423.1 L236.4,422.7 L236.8,422.2 L237.1,421.8 L237.4,421.4 L237.7,421.0 L238.0,420.5 L238.3,420.1 L238.6,419.7 L238.8,419.3 L239.1,418.9 L239.4,418.5 L239.7,418.0 L240.0,417.6 L240.2,417.1 L240.5,416.6 L240.8,416.1 L241.1,415.6 L241.4,415.1 L241.7,414.6 L242.1,414.1 L242.4,413.6 L242.8,413.0 L243.2,412.4 L243.7,411.8 L244.1,411.2 L244.6,410.6 L245.2,410.0 L245.7,409.4 L246.3,408.7 L247.0,407.9 L247.6,407.1 L248.4,406.4 L249.2,406.1 L250.0,405.7 L250.9,405.3 L251.8,405.0 L252.6,405.2 L253.4,405.5 L254.3,405.7 L255.1,406.0 L255.8,406.3 L256.6,406.7 L257.4,407.0 L258.1,407.4 L258.9,407.8 L259.6,408.3 L260.3,408.7 L260.9,409.2 L261.1,410.4 L261.2,411.6 L261.2,412.8 L261.2,413.8 L261.2,414.8 L261.2,415.7 L261.2,416.5 L261.2,417.4 L261.1,418.1 L261.1,418.8 L261.1,419.5 L261.0,420.2 L261.0,420.8 L261.0,421.4 L261.0,421.9 L261.0,422.5 L261.0,423.0 L261.0,423.5 L261.0,424.0 L261.0,424.5 L261.1,424.9 L261.1,425.4 L261.2,425.9 L261.2,426.3Z M259.6,427.0 L259.6,427.5 L259.6,427.9 L259.6,428.3 L259.6,428.7 L259.5,429.1 L259.5,429.6 L259.5,430.0 L259.4,430.4 L259.3,430.9 L259.3,431.3 L259.2,431.7 L259.1,432.2 L259.0,432.6 L258.9,433.1 L258.8,433.6 L258.7,434.1 L258.6,434.7 L258.6,435.3 L258.6,435.9 L258.5,436.6 L258.5,437.4 L258.5,438.2 L258.5,439.2 L258.5,440.2 L258.6,441.4 L258.6,442.7 L258.6,444.2 L258.6,445.9 L258.6,447.9 L258.6,450.2 L258.5,452.9 L257.6,453.6 L256.5,453.7 L255.4,453.8 L254.3,453.8 L253.2,453.7 L252.1,453.6 L251.0,453.4 L250.0,453.2 L249.0,453.0 L248.0,452.8 L247.0,452.5 L246.0,452.3 L245.0,452.1 L244.0,451.9 L243.0,451.7 L242.1,451.5 L241.0,451.4 L240.0,451.4 L238.9,451.3 L237.8,451.3 L236.6,451.3 L235.3,451.3 L234.0,451.4 L232.7,451.4 L231.2,451.5 L229.7,451.5 L228.0,451.5 L226.3,451.5 L224.5,451.5 L222.6,451.4 L220.5,451.4 L218.3,451.2 L215.8,451.1 L215.1,449.6 L215.2,447.7 L215.3,445.9 L215.4,444.1 L215.5,442.5 L215.6,440.9 L215.5,439.4 L215.5,437.9 L215.4,436.5 L215.2,435.1 L215.0,433.8 L214.7,432.5 L214.4,431.1 L214.1,429.8 L217.5,428.3 L220.8,427.0 L224.1,426.1 L227.6,425.4 L230.2,424.8 L232.2,424.4 L234.1,424.1 L235.6,423.8 L236.3,423.5 L236.6,423.0 L236.9,422.6 L237.3,422.2 L237.7,421.8 L238.0,421.5 L238.4,421.1 L238.8,420.8 L239.2,420.5 L239.6,420.2 L239.9,419.9 L240.3,419.6 L240.6,419.3 L240.9,419.0 L241.2,418.6 L241.5,418.3 L241.7,417.8 L242.0,417.4 L242.2,416.9 L242.5,416.5 L242.7,415.9 L243.0,415.4 L243.3,414.8 L243.6,414.2 L244.0,413.5 L244.4,412.9 L244.8,412.2 L245.3,411.6 L245.8,410.9 L246.3,410.2 L246.9,409.5 L247.5,408.7 L248.2,408.1 L249.0,407.8 L249.7,407.5 L250.5,407.2 L251.3,407.0 L252.1,407.3 L252.8,407.6 L253.6,407.8 L254.3,408.1 L255.0,408.4 L255.7,408.7 L256.4,409.0 L257.2,409.3 L257.9,409.6 L258.6,409.9 L259.2,410.3 L259.9,410.6 L260.2,411.6 L260.3,412.7 L260.4,413.6 L260.5,414.6 L260.6,415.4 L260.6,416.3 L260.6,417.1 L260.6,417.9 L260.5,418.6 L260.5,419.4 L260.4,420.0 L260.3,420.7 L260.2,421.3 L260.1,421.9 L260.0,422.5 L259.9,423.0 L259.8,423.5 L259.7,424.0 L259.7,424.5 L259.6,424.9 L259.6,425.4 L259.6,425.8 L259.6,426.2 L259.6,426.6Z M259.4,427.2 L259.3,427.6 L259.2,428.1 L259.1,428.5 L259.0,428.9 L258.9,429.3 L258.9,429.7 L258.8,430.1 L258.7,430.5 L258.7,430.9 L258.7,431.3 L258.6,431.8 L258.6,432.2 L258.6,432.7 L258.6,433.2 L258.6,433.8 L258.5,434.3 L258.5,434.9 L258.4,435.4 L258.3,436.0 L258.2,436.6 L258.0,437.3 L257.9,437.9 L257.7,438.6 L257.5,439.3 L257.4,440.1 L257.2,441.0 L257.0,441.9 L256.8,443.1 L256.7,444.4 L256.5,446.0 L256.4,447.9 L255.6,448.4 L254.8,448.5 L253.9,448.6 L253.0,448.7 L252.2,448.8 L251.3,449.0 L250.5,449.1 L249.6,449.2 L248.8,449.3 L247.9,449.3 L247.0,449.3 L246.2,449.3 L245.3,449.2 L244.4,449.1 L243.6,448.9 L242.7,448.8 L241.8,448.6 L240.9,448.4 L240.0,448.3 L239.1,448.2 L238.1,448.2 L237.1,448.1 L235.9,448.2 L234.7,448.3 L233.4,448.4 L232.0,448.5 L230.4,448.7 L228.7,448.9 L226.9,449.1 L224.9,449.3 L222.8,449.4 L220.5,449.5 L218.0,449.6 L217.2,448.4 L217.1,446.7 L217.1,445.0 L217.1,443.4 L217.2,441.8 L217.3,440.3 L217.4,438.8 L217.5,437.4 L217.6,436.0 L217.7,434.7 L217.7,433.4 L217.6,432.2 L217.5,430.9 L217.4,429.7 L220.6,428.3 L223.5,427.2 L226.4,426.4 L229.5,425.7 L231.7,425.2 L233.5,424.8 L235.1,424.5 L236.4,424.3 L237.0,423.9 L237.4,423.5 L237.7,423.1 L238.0,422.8 L238.4,422.4 L238.7,422.1 L239.1,421.8 L239.4,421.5 L239.8,421.2 L240.1,421.0 L240.5,420.7 L240.8,420.4 L241.1,420.1 L241.3,419.8 L241.5,419.4 L241.7,419.0 L242.0,418.6 L242.2,418.1 L242.4,417.7 L242.6,417.2 L242.9,416.7 L243.2,416.2 L243.5,415.7 L243.8,415.2 L244.1,414.7 L244.5,414.2 L245.0,413.7 L245.4,413.3 L245.9,412.8 L246.4,412.3 L246.9,411.8 L247.5,411.2 L248.1,410.7 L248.8,410.5 L249.4,410.3 L250.1,410.0 L250.8,409.7 L251.5,409.9 L252.2,410.1 L252.9,410.2 L253.5,410.3 L254.2,410.6 L254.8,410.8 L255.5,411.1 L256.1,411.3 L256.7,411.7 L257.3,412.1 L257.8,412.5 L258.3,412.9 L258.4,413.9 L258.5,414.9 L258.5,415.9 L258.5,416.7 L258.5,417.5 L258.5,418.2 L258.5,418.9 L258.5,419.5 L258.6,420.1 L258.6,420.6 L258.7,421.2 L258.8,421.6 L258.9,422.1 L259.0,422.5 L259.1,422.9 L259.2,423.4 L259.4,423.8 L259.4,424.2 L259.5,424.6 L259.6,425.1 L259.6,425.5 L259.6,425.9 L259.6,426.4 L259.5,426.8Z M258.7,427.4 L258.6,427.8 L258.6,428.2 L258.5,428.6 L258.4,429.0 L258.3,429.3 L258.1,429.7 L258.0,430.1 L257.9,430.4 L257.7,430.8 L257.6,431.1 L257.4,431.5 L257.3,431.8 L257.2,432.2 L257.0,432.6 L256.9,433.0 L256.8,433.4 L256.7,433.8 L256.7,434.3 L256.6,434.8 L256.5,435.3 L256.5,435.9 L256.4,436.6 L256.3,437.2 L256.3,438.0 L256.2,438.8 L256.2,439.8 L256.1,440.8 L256.0,442.0 L255.9,443.3 L255.8,444.8 L255.7,446.7 L255.0,447.2 L254.2,447.2 L253.4,447.3 L252.5,447.3 L251.7,447.3 L250.9,447.3 L250.2,447.3 L249.4,447.3 L248.6,447.3 L247.8,447.3 L247.0,447.2 L246.2,447.2 L245.4,447.3 L244.6,447.3 L243.8,447.3 L243.0,447.3 L242.1,447.4 L241.2,447.4 L240.3,447.5 L239.3,447.5 L238.3,447.6 L237.3,447.6 L236.2,447.7 L235.0,447.7 L233.8,447.7 L232.6,447.7 L231.3,447.7 L229.9,447.6 L228.4,447.6 L226.9,447.5 L225.3,447.3 L223.5,447.2 L221.7,447.0 L221.2,445.7 L221.3,444.1 L221.5,442.6 L221.7,441.1 L221.9,439.7 L222.1,438.4 L222.3,437.1 L222.5,435.9 L222.7,434.7 L222.9,433.6 L223.0,432.5 L223.1,431.4 L223.1,430.4 L223.2,429.4 L225.8,428.3 L228.1,427.4 L230.5,426.7 L232.9,426.2 L234.7,425.8 L236.0,425.4 L237.2,425.1 L238.2,424.9 L238.6,424.6 L238.7,424.2 L238.9,423.8 L239.0,423.4 L239.2,423.1 L239.4,422.7 L239.5,422.3 L239.7,422.0 L240.0,421.6 L240.2,421.3 L240.4,421.0 L240.7,420.7 L241.0,420.4 L241.2,420.0 L241.5,419.7 L241.7,419.4 L242.0,419.0 L242.3,418.7 L242.6,418.4 L242.8,418.0 L243.1,417.7 L243.4,417.3 L243.7,416.9 L244.1,416.5 L244.4,416.0 L244.7,415.5 L245.1,415.1 L245.5,414.6 L245.9,414.1 L246.4,413.5 L246.9,412.9 L247.4,412.2 L248.0,411.7 L248.6,411.4 L249.2,411.1 L249.9,410.9 L250.6,410.7 L251.2,410.9 L251.8,411.2 L252.4,411.4 L253.0,411.7 L253.6,412.1 L254.1,412.5 L254.6,412.9 L255.1,413.3 L255.5,413.8 L256.0,414.2 L256.4,414.7 L256.8,415.1 L256.9,415.9 L257.0,416.8 L257.0,417.5 L257.1,418.2 L257.2,418.8 L257.3,419.4 L257.4,419.9 L257.4,420.4 L257.5,420.9 L257.6,421.4 L257.8,421.8 L257.9,422.2 L258.0,422.6 L258.1,423.0 L258.2,423.4 L258.3,423.8 L258.4,424.2 L258.5,424.6 L258.6,425.0 L258.7,425.4 L258.7,425.8 L258.7,426.2 L258.8,426.6 L258.7,427.0Z M256.9,427.6 L256.9,427.9 L257.0,428.2 L257.0,428.6 L257.1,428.9 L257.1,429.3 L257.2,429.7 L257.2,430.0 L257.2,430.4 L257.2,430.8 L257.2,431.2 L257.2,431.6 L257.1,432.0 L257.1,432.4 L257.0,432.8 L256.9,433.2 L256.8,433.6 L256.7,434.1 L256.6,434.5 L256.4,435.0 L256.3,435.4 L256.2,435.9 L256.0,436.5 L255.9,437.0 L255.7,437.6 L255.6,438.3 L255.4,439.0 L255.3,439.8 L255.1,440.8 L255.0,441.8 L254.8,443.1 L254.7,444.6 L254.1,445.0 L253.3,445.0 L252.6,445.0 L251.9,445.1 L251.2,445.1 L250.5,445.1 L249.8,445.1 L249.1,445.1 L248.4,445.1 L247.7,445.1 L247.0,445.1 L246.4,445.0 L245.7,445.0 L245.0,444.9 L244.3,444.8 L243.6,444.7 L242.9,444.6 L242.2,444.5 L241.5,444.4 L240.7,444.3 L240.0,444.2 L239.2,444.1 L238.4,444.0 L237.5,443.9 L236.6,443.9 L235.6,443.8 L234.5,443.8 L233.4,443.8 L232.2,443.8 L230.8,443.9 L229.3,443.9 L227.6,444.0 L225.8,444.0 L225.0,443.2 L224.7,442.1 L224.4,441.0 L224.1,439.9 L223.9,438.9 L223.6,437.8 L223.4,436.8 L223.2,435.8 L223.1,434.7 L223.0,433.7 L222.9,432.6 L222.9,431.6 L223.0,430.6 L223.0,429.6 L225.7,428.5 L228.1,427.6 L230.5,426.9 L233.0,426.4 L234.8,426.0 L236.3,425.7 L237.6,425.4 L238.6,425.2 L239.1,425.0 L239.4,424.6 L239.7,424.4 L240.0,424.1 L240.2,423.8 L240.5,423.5 L240.7,423.2 L240.9,423.0 L241.1,422.7 L241.3,422.4 L241.5,422.1 L241.7,421.9 L241.9,421.6 L242.1,421.3 L242.3,420.9 L242.5,420.6 L242.7,420.3 L242.9,419.9 L243.1,419.6 L243.3,419.2 L243.5,418.8 L243.8,418.4 L244.0,418.0 L244.3,417.6 L244.6,417.2 L244.9,416.8 L245.3,416.3 L245.6,415.9 L246.0,415.5 L246.4,415.0 L246.9,414.5 L247.4,413.9 L247.9,413.5 L248.4,413.3 L249.0,413.0 L249.6,412.8 L250.2,412.6 L250.8,412.7 L251.3,412.9 L251.9,413.0 L252.5,413.2 L253.0,413.5 L253.5,413.7 L254.1,413.9 L254.6,414.2 L255.1,414.5 L255.6,414.8 L256.0,415.2 L256.5,415.5 L256.6,416.3 L256.7,417.0 L256.8,417.8 L256.9,418.4 L256.9,419.1 L256.9,419.7 L257.0,420.3 L257.0,420.8 L256.9,421.4 L256.9,421.9 L256.9,422.4 L256.9,422.9 L256.8,423.3 L256.8,423.7 L256.8,424.1 L256.7,424.5 L256.7,424.9 L256.7,425.2 L256.7,425.6 L256.7,425.9 L256.7,426.3 L256.7,426.6 L256.8,426.9 L256.8,427.2Z M256.2,427.7 L256.1,428.0 L256.0,428.3 L256.0,428.6 L255.9,428.9 L255.9,429.2 L255.9,429.6 L255.9,429.9 L255.9,430.2 L256.0,430.6 L256.0,430.9 L256.0,431.3 L256.0,431.7 L256.0,432.1 L256.0,432.5 L256.0,432.9 L255.9,433.3 L255.8,433.7 L255.7,434.1 L255.6,434.5 L255.5,434.9 L255.3,435.4 L255.2,435.8 L255.0,436.3 L254.9,436.8 L254.7,437.4 L254.6,438.0 L254.4,438.7 L254.3,439.6 L254.2,440.5 L254.0,441.6 L253.9,442.9 L253.3,443.3 L252.7,443.4 L252.0,443.4 L251.4,443.4 L250.8,443.4 L250.1,443.4 L249.5,443.3 L248.9,443.2 L248.3,443.1 L247.7,443.0 L247.1,442.8 L246.5,442.7 L245.9,442.5 L245.4,442.4 L244.8,442.3 L244.2,442.2 L243.6,442.2 L242.9,442.2 L242.3,442.2 L241.6,442.3 L240.8,442.4 L240.0,442.5 L239.1,442.7 L238.2,442.8 L237.2,443.0 L236.2,443.1 L235.1,443.2 L233.9,443.3 L232.7,443.3 L231.5,443.2 L230.2,443.2 L228.8,443.0 L227.4,442.9 L227.0,441.9 L227.1,440.7 L227.2,439.5 L227.4,438.4 L227.5,437.3 L227.6,436.3 L227.7,435.3 L227.8,434.4 L227.9,433.5 L227.9,432.6 L227.9,431.8 L227.9,431.0 L227.8,430.1 L227.8,429.3 L229.7,428.5 L231.4,427.7 L233.2,427.1 L235.1,426.7 L236.5,426.3 L237.5,426.0 L238.5,425.8 L239.3,425.6 L239.7,425.3 L240.0,425.0 L240.2,424.7 L240.4,424.5 L240.6,424.2 L240.8,423.9 L241.0,423.6 L241.2,423.4 L241.3,423.1 L241.5,422.8 L241.6,422.5 L241.8,422.2 L241.9,421.9 L242.1,421.5 L242.2,421.2 L242.4,420.8 L242.5,420.5 L242.7,420.1 L243.0,419.8 L243.2,419.4 L243.5,419.1 L243.7,418.8 L244.1,418.6 L244.4,418.3 L244.7,418.0 L245.0,417.8 L245.4,417.5 L245.8,417.3 L246.2,417.1 L246.5,416.8 L246.9,416.5 L247.4,416.1 L247.8,415.8 L248.3,415.7 L248.8,415.5 L249.3,415.2 L249.8,415.0 L250.3,415.1 L250.8,415.1 L251.3,415.2 L251.8,415.3 L252.2,415.5 L252.7,415.7 L253.2,415.9 L253.6,416.2 L254.0,416.4 L254.4,416.7 L254.8,417.1 L255.2,417.4 L255.3,418.0 L255.4,418.6 L255.5,419.2 L255.6,419.8 L255.7,420.3 L255.9,420.7 L256.0,421.1 L256.1,421.6 L256.2,422.0 L256.3,422.3 L256.5,422.7 L256.6,423.1 L256.7,423.4 L256.7,423.8 L256.8,424.2 L256.8,424.6 L256.8,424.9 L256.8,425.3 L256.8,425.7 L256.7,426.1 L256.6,426.4 L256.5,426.8 L256.4,427.1 L256.3,427.4Z M255.8,427.9 L255.8,428.2 L255.7,428.5 L255.7,428.8 L255.7,429.1 L255.7,429.4 L255.7,429.7 L255.7,430.0 L255.7,430.3 L255.7,430.7 L255.7,431.0 L255.7,431.4 L255.7,431.7 L255.6,432.1 L255.6,432.4 L255.5,432.8 L255.4,433.1 L255.2,433.4 L255.1,433.8 L254.9,434.1 L254.7,434.4 L254.5,434.8 L254.3,435.1 L254.1,435.5 L254.0,435.9 L253.8,436.3 L253.6,436.8 L253.4,437.3 L253.3,438.0 L253.2,438.7 L253.0,439.6 L252.9,440.7 L252.4,441.0 L251.9,441.1 L251.3,441.2 L250.8,441.3 L250.3,441.3 L249.7,441.4 L249.2,441.4 L248.7,441.3 L248.1,441.3 L247.6,441.2 L247.1,441.2 L246.6,441.1 L246.1,441.0 L245.5,440.9 L245.0,440.8 L244.5,440.8 L244.0,440.7 L243.4,440.7 L242.8,440.7 L242.2,440.8 L241.5,440.8 L240.8,440.9 L240.1,441.0 L239.3,441.1 L238.5,441.2 L237.6,441.3 L236.6,441.3 L235.7,441.4 L234.6,441.4 L233.6,441.3 L232.5,441.2 L231.3,441.1 L230.1,441.0 L229.7,440.2 L229.7,439.1 L229.8,438.1 L229.8,437.2 L229.9,436.3 L230.0,435.4 L230.0,434.5 L230.0,433.7 L230.0,433.0 L230.0,432.2 L230.0,431.5 L229.9,430.7 L229.8,430.0 L229.8,429.3 L231.4,428.5 L232.9,427.9 L234.4,427.3 L236.0,426.9 L237.2,426.6 L238.2,426.3 L239.0,426.1 L239.8,425.8 L240.2,425.6 L240.4,425.3 L240.7,425.1 L240.9,424.9 L241.1,424.6 L241.4,424.4 L241.6,424.2 L241.8,424.0 L242.0,423.7 L242.2,423.5 L242.3,423.3 L242.5,423.0 L242.6,422.8 L242.8,422.5 L242.9,422.2 L243.0,421.8 L243.1,421.5 L243.3,421.2 L243.5,420.9 L243.7,420.6 L243.9,420.3 L244.1,419.9 L244.4,419.6 L244.6,419.3 L244.9,419.1 L245.2,418.7 L245.5,418.5 L245.8,418.2 L246.2,417.9 L246.5,417.6 L246.9,417.2 L247.3,416.8 L247.7,416.5 L248.1,416.3 L248.6,416.1 L249.1,415.9 L249.6,415.7 L250.1,415.8 L250.5,415.9 L251.0,416.0 L251.4,416.1 L251.9,416.4 L252.3,416.6 L252.7,416.9 L253.1,417.2 L253.4,417.5 L253.7,417.9 L254.0,418.3 L254.3,418.7 L254.4,419.3 L254.4,419.9 L254.4,420.5 L254.5,421.0 L254.5,421.5 L254.6,421.9 L254.7,422.3 L254.8,422.6 L254.9,423.0 L255.0,423.3 L255.1,423.6 L255.2,423.9 L255.3,424.2 L255.4,424.5 L255.5,424.8 L255.6,425.1 L255.7,425.4 L255.8,425.7 L255.8,426.0 L255.8,426.3 L255.8,426.6 L255.8,426.9 L255.8,427.3 L255.8,427.6Z M254.7,428.0 L254.7,428.3 L254.6,428.5 L254.6,428.8 L254.6,429.0 L254.6,429.3 L254.6,429.6 L254.6,429.8 L254.6,430.1 L254.6,430.4 L254.5,430.7 L254.5,431.0 L254.5,431.3 L254.5,431.6 L254.4,431.9 L254.4,432.3 L254.3,432.6 L254.3,432.9 L254.2,433.3 L254.1,433.6 L254.0,434.0 L253.9,434.3 L253.7,434.7 L253.6,435.1 L253.5,435.5 L253.3,435.9 L253.1,436.4 L253.0,436.9 L252.8,437.4 L252.6,438.1 L252.5,438.8 L252.3,439.6 L251.9,439.8 L251.3,439.8 L250.8,439.8 L250.4,439.8 L249.9,439.8 L249.4,439.9 L248.9,439.9 L248.5,439.9 L248.0,439.9 L247.5,439.9 L247.1,439.9 L246.6,439.9 L246.1,439.9 L245.6,439.9 L245.2,439.8 L244.7,439.8 L244.2,439.7 L243.7,439.7 L243.2,439.6 L242.7,439.5 L242.2,439.4 L241.7,439.3 L241.2,439.2 L240.6,439.1 L240.1,438.9 L239.5,438.8 L238.9,438.7 L238.3,438.5 L237.6,438.4 L236.9,438.3 L236.1,438.2 L235.2,438.1 L234.2,438.0 L233.8,437.5 L233.7,436.8 L233.5,436.1 L233.4,435.4 L233.2,434.8 L233.0,434.2 L232.8,433.6 L232.6,433.0 L232.4,432.4 L232.2,431.8 L232.0,431.2 L231.8,430.6 L231.7,429.9 L231.6,429.3 L232.9,428.6 L234.1,428.0 L235.4,427.5 L236.8,427.1 L237.8,426.8 L238.6,426.5 L239.3,426.3 L239.9,426.1 L240.3,425.8 L240.5,425.6 L240.7,425.3 L240.9,425.1 L241.2,424.8 L241.4,424.6 L241.6,424.4 L241.8,424.2 L242.1,424.0 L242.3,423.8 L242.5,423.7 L242.7,423.5 L242.9,423.3 L243.1,423.1 L243.3,422.9 L243.5,422.7 L243.6,422.5 L243.8,422.2 L244.0,422.0 L244.2,421.8 L244.4,421.5 L244.6,421.3 L244.8,421.0 L245.0,420.7 L245.2,420.4 L245.5,420.1 L245.7,419.9 L246.0,419.6 L246.3,419.3 L246.6,419.0 L246.9,418.7 L247.2,418.4 L247.6,418.2 L248.0,418.0 L248.4,417.9 L248.8,417.8 L249.2,417.7 L249.6,417.8 L250.0,418.0 L250.4,418.1 L250.8,418.2 L251.1,418.4 L251.5,418.6 L251.8,418.7 L252.2,418.9 L252.6,419.1 L252.9,419.3 L253.2,419.4 L253.6,419.6 L253.8,420.0 L253.9,420.5 L254.1,420.9 L254.2,421.3 L254.4,421.6 L254.5,422.0 L254.6,422.4 L254.7,422.7 L254.8,423.1 L254.9,423.4 L254.9,423.8 L255.0,424.1 L255.0,424.4 L255.0,424.8 L255.0,425.1 L255.0,425.4 L255.0,425.7 L255.0,426.0 L254.9,426.3 L254.9,426.6 L254.8,426.9 L254.8,427.2 L254.8,427.5 L254.7,427.7Z M254.4,428.1 L254.3,428.4 L254.2,428.6 L254.2,428.9 L254.1,429.1 L254.0,429.3 L253.9,429.6 L253.9,429.8 L253.8,430.0 L253.8,430.3 L253.8,430.6 L253.8,430.8 L253.8,431.1 L253.8,431.4 L253.8,431.7 L253.7,432.0 L253.7,432.3 L253.7,432.7 L253.6,433.0 L253.5,433.3 L253.4,433.6 L253.2,433.9 L253.1,434.2 L252.9,434.5 L252.7,434.7 L252.5,435.0 L252.3,435.4 L252.2,435.7 L252.0,436.2 L251.8,436.7 L251.7,437.2 L251.5,437.9 L251.1,438.1 L250.7,438.2 L250.3,438.3 L249.9,438.3 L249.5,438.3 L249.1,438.4 L248.7,438.3 L248.3,438.3 L247.9,438.3 L247.5,438.2 L247.1,438.1 L246.7,438.0 L246.3,437.9 L246.0,437.8 L245.6,437.7 L245.2,437.7 L244.8,437.7 L244.4,437.7 L243.9,437.7 L243.4,437.8 L242.9,437.9 L242.4,438.0 L241.8,438.0 L241.2,438.1 L240.6,438.2 L239.9,438.2 L239.3,438.2 L238.6,438.1 L238.0,438.0 L237.3,437.9 L236.6,437.7 L235.9,437.6 L235.2,437.4 L235.0,436.7 L235.0,436.0 L235.0,435.3 L235.0,434.7 L235.0,434.0 L235.0,433.5 L234.9,432.9 L234.9,432.3 L234.8,431.8 L234.7,431.3 L234.6,430.8 L234.6,430.2 L234.5,429.7 L234.6,429.2 L235.7,428.6 L236.7,428.1 L237.8,427.7 L238.9,427.4 L239.7,427.1 L240.3,426.9 L240.9,426.7 L241.3,426.5 L241.6,426.3 L241.7,426.1 L241.8,425.9 L241.9,425.6 L241.9,425.4 L242.0,425.1 L242.1,424.9 L242.1,424.6 L242.2,424.3 L242.3,424.1 L242.4,423.8 L242.6,423.6 L242.8,423.4 L242.9,423.2 L243.1,423.0 L243.3,422.8 L243.6,422.6 L243.8,422.5 L244.0,422.3 L244.2,422.2 L244.5,422.0 L244.7,421.9 L244.9,421.7 L245.1,421.5 L245.4,421.3 L245.6,421.1 L245.8,420.8 L246.1,420.6 L246.3,420.4 L246.6,420.1 L246.9,419.9 L247.2,419.7 L247.5,419.5 L247.9,419.4 L248.2,419.4 L248.6,419.4 L248.9,419.4 L249.2,419.5 L249.6,419.7 L249.9,419.8 L250.2,420.0 L250.5,420.1 L250.8,420.2 L251.1,420.3 L251.4,420.4 L251.8,420.5 L252.1,420.5 L252.5,420.6 L252.8,420.7 L253.0,421.0 L253.2,421.4 L253.4,421.7 L253.5,422.0 L253.6,422.4 L253.7,422.7 L253.8,423.0 L253.9,423.4 L253.9,423.7 L253.9,424.1 L254.0,424.4 L254.0,424.7 L254.0,425.0 L254.1,425.3 L254.1,425.5 L254.2,425.8 L254.2,426.1 L254.3,426.3 L254.3,426.6 L254.4,426.8 L254.4,427.1 L254.4,427.3 L254.4,427.6 L254.4,427.9Z M253.7,428.2 L253.6,428.5 L253.5,428.7 L253.5,428.9 L253.4,429.1 L253.4,429.3 L253.3,429.6 L253.2,429.8 L253.2,430.0 L253.1,430.2 L253.1,430.4 L253.0,430.7 L253.0,430.9 L252.9,431.1 L252.8,431.3 L252.7,431.6 L252.7,431.8 L252.6,432.0 L252.5,432.3 L252.4,432.5 L252.3,432.8 L252.2,433.0 L252.1,433.3 L251.9,433.5 L251.8,433.8 L251.7,434.1 L251.6,434.4 L251.4,434.7 L251.3,435.1 L251.1,435.5 L251.0,436.0 L250.8,436.6 L250.5,436.7 L250.2,436.8 L249.8,436.8 L249.5,436.9 L249.1,436.9 L248.8,437.0 L248.5,437.0 L248.1,437.1 L247.8,437.1 L247.4,437.2 L247.1,437.2 L246.7,437.2 L246.3,437.3 L246.0,437.3 L245.6,437.3 L245.2,437.3 L244.8,437.3 L244.5,437.2 L244.1,437.2 L243.7,437.1 L243.3,437.0 L242.9,436.9 L242.5,436.8 L242.1,436.7 L241.7,436.5 L241.4,436.4 L241.0,436.2 L240.5,436.0 L240.1,435.9 L239.7,435.7 L239.2,435.5 L238.7,435.4 L238.1,435.2 L237.9,434.8 L237.9,434.3 L237.9,433.8 L237.8,433.3 L237.7,432.9 L237.6,432.4 L237.5,432.0 L237.4,431.6 L237.3,431.2 L237.2,430.8 L237.1,430.4 L236.9,429.9 L236.8,429.5 L236.7,429.1 L237.4,428.6 L238.1,428.2 L238.8,427.9 L239.6,427.6 L240.1,427.3 L240.6,427.1 L241.0,426.9 L241.3,426.7 L241.5,426.5 L241.6,426.2 L241.8,426.0 L241.9,425.8 L242.0,425.6 L242.2,425.4 L242.4,425.2 L242.5,425.0 L242.7,424.8 L242.9,424.7 L243.0,424.5 L243.2,424.3 L243.4,424.2 L243.5,424.0 L243.7,423.9 L243.9,423.7 L244.0,423.5 L244.2,423.3 L244.4,423.2 L244.6,423.0 L244.7,422.8 L244.9,422.7 L245.1,422.5 L245.3,422.3 L245.5,422.1 L245.7,421.9 L245.9,421.8 L246.2,421.6 L246.4,421.5 L246.7,421.3 L246.9,421.1 L247.2,421.0 L247.5,420.9 L247.8,420.8 L248.1,420.8 L248.4,420.7 L248.7,420.7 L248.9,420.9 L249.2,421.0 L249.5,421.1 L249.7,421.2 L250.0,421.3 L250.3,421.5 L250.5,421.6 L250.8,421.7 L251.0,421.8 L251.3,421.9 L251.5,422.1 L251.8,422.2 L252.0,422.4 L252.1,422.7 L252.3,422.9 L252.5,423.2 L252.6,423.4 L252.8,423.6 L252.9,423.8 L253.1,424.0 L253.2,424.3 L253.3,424.5 L253.4,424.8 L253.5,425.0 L253.6,425.2 L253.7,425.5 L253.8,425.7 L253.8,426.0 L253.8,426.3 L253.9,426.5 L253.9,426.8 L253.8,427.0 L253.8,427.3 L253.8,427.5 L253.8,427.8 L253.7,428.0Z M252.6,428.4 L252.6,428.5 L252.5,428.7 L252.5,428.9 L252.5,429.1 L252.5,429.3 L252.4,429.5 L252.4,429.7 L252.4,429.9 L252.5,430.1 L252.5,430.3 L252.4,430.6 L252.4,430.8 L252.4,431.0 L252.3,431.2 L252.3,431.4 L252.2,431.7 L252.1,431.9 L252.0,432.1 L251.9,432.3 L251.7,432.5 L251.6,432.6 L251.5,432.8 L251.3,433.0 L251.2,433.2 L251.0,433.4 L250.9,433.7 L250.8,433.9 L250.6,434.2 L250.5,434.5 L250.4,434.9 L250.2,435.3 L250.0,435.5 L249.7,435.5 L249.4,435.5 L249.1,435.6 L248.8,435.6 L248.5,435.6 L248.2,435.5 L247.9,435.5 L247.6,435.5 L247.4,435.4 L247.1,435.3 L246.8,435.3 L246.6,435.2 L246.3,435.1 L246.0,435.1 L245.8,435.1 L245.5,435.0 L245.2,435.0 L244.9,435.0 L244.6,435.0 L244.2,435.1 L243.9,435.1 L243.5,435.1 L243.1,435.1 L242.7,435.2 L242.3,435.2 L241.8,435.2 L241.4,435.1 L240.9,435.1 L240.5,435.0 L240.0,434.9 L239.5,434.8 L239.0,434.6 L238.9,434.2 L238.9,433.7 L238.9,433.3 L238.9,432.8 L238.9,432.4 L238.9,432.0 L238.9,431.6 L239.0,431.2 L238.9,430.8 L238.9,430.4 L238.9,430.1 L238.9,429.7 L238.8,429.4 L238.8,429.1 L239.3,428.7 L239.9,428.4 L240.4,428.1 L241.0,427.8 L241.4,427.6 L241.7,427.4 L242.1,427.2 L242.3,427.1 L242.5,426.9 L242.6,426.7 L242.7,426.5 L242.8,426.4 L242.9,426.2 L243.0,426.0 L243.2,425.8 L243.3,425.7 L243.4,425.5 L243.5,425.3 L243.6,425.1 L243.7,424.9 L243.8,424.8 L243.9,424.6 L244.0,424.4 L244.1,424.2 L244.2,424.0 L244.4,423.8 L244.5,423.7 L244.7,423.5 L244.9,423.4 L245.1,423.3 L245.3,423.2 L245.5,423.1 L245.7,423.0 L245.9,423.0 L246.1,422.9 L246.3,422.9 L246.5,422.8 L246.8,422.7 L247.0,422.6 L247.2,422.5 L247.4,422.4 L247.6,422.4 L247.9,422.3 L248.1,422.2 L248.4,422.1 L248.6,422.1 L248.9,422.1 L249.1,422.2 L249.4,422.2 L249.6,422.2 L249.9,422.3 L250.1,422.4 L250.3,422.5 L250.6,422.6 L250.8,422.7 L251.0,422.9 L251.2,423.0 L251.3,423.3 L251.4,423.5 L251.5,423.8 L251.7,424.0 L251.8,424.2 L251.9,424.4 L252.0,424.6 L252.1,424.8 L252.2,425.0 L252.3,425.2 L252.5,425.4 L252.6,425.6 L252.7,425.8 L252.7,426.0 L252.8,426.2 L252.8,426.4 L252.9,426.7 L252.9,426.9 L252.9,427.1 L252.9,427.3 L252.8,427.5 L252.8,427.7 L252.7,428.0 L252.7,428.2Z M252.4,428.5 L252.3,428.6 L252.3,428.8 L252.2,429.0 L252.2,429.2 L252.1,429.4 L252.0,429.5 L252.0,429.7 L251.9,429.9 L251.8,430.0 L251.7,430.2 L251.7,430.4 L251.6,430.5 L251.6,430.7 L251.5,430.9 L251.4,431.0 L251.3,431.2 L251.2,431.4 L251.1,431.5 L251.0,431.7 L250.9,431.8 L250.8,432.0 L250.7,432.1 L250.5,432.3 L250.4,432.4 L250.3,432.5 L250.1,432.7 L250.0,432.8 L249.9,433.0 L249.7,433.2 L249.6,433.5 L249.5,433.8 L249.3,433.9 L249.1,433.9 L248.9,434.0 L248.7,434.1 L248.4,434.2 L248.2,434.3 L248.0,434.3 L247.8,434.4 L247.5,434.5 L247.3,434.5 L247.1,434.6 L246.8,434.6 L246.6,434.6 L246.3,434.6 L246.1,434.5 L245.8,434.5 L245.6,434.4 L245.4,434.4 L245.1,434.3 L244.9,434.2 L244.6,434.2 L244.4,434.1 L244.1,434.0 L243.8,434.0 L243.6,433.9 L243.3,433.9 L242.9,433.8 L242.6,433.8 L242.3,433.7 L241.9,433.7 L241.5,433.6 L241.2,433.5 L240.8,433.4 L240.6,433.1 L240.5,432.7 L240.5,432.4 L240.5,432.0 L240.5,431.7 L240.5,431.4 L240.6,431.0 L240.6,430.7 L240.6,430.4 L240.6,430.1 L240.7,429.8 L240.7,429.5 L240.7,429.3 L240.7,429.0 L241.1,428.7 L241.4,428.5 L241.7,428.2 L242.1,428.0 L242.4,427.8 L242.6,427.7 L242.8,427.5 L242.9,427.4 L243.0,427.2 L243.1,427.0 L243.1,426.8 L243.2,426.7 L243.3,426.5 L243.4,426.4 L243.5,426.2 L243.7,426.1 L243.8,425.9 L243.9,425.8 L244.0,425.7 L244.1,425.6 L244.3,425.4 L244.4,425.3 L244.5,425.1 L244.6,425.0 L244.7,424.9 L244.8,424.7 L244.9,424.5 L245.1,424.4 L245.2,424.2 L245.3,424.1 L245.5,424.0 L245.6,423.8 L245.8,423.7 L246.0,423.6 L246.2,423.5 L246.3,423.5 L246.5,423.4 L246.7,423.4 L246.9,423.3 L247.1,423.3 L247.3,423.2 L247.5,423.2 L247.7,423.3 L247.9,423.3 L248.2,423.3 L248.4,423.3 L248.6,423.4 L248.8,423.4 L249.0,423.5 L249.1,423.5 L249.3,423.6 L249.5,423.6 L249.7,423.7 L249.9,423.8 L250.1,423.9 L250.3,424.0 L250.4,424.1 L250.6,424.3 L250.7,424.5 L250.7,424.7 L250.8,424.9 L250.9,425.1 L251.0,425.3 L251.1,425.4 L251.1,425.6 L251.2,425.8 L251.3,425.9 L251.4,426.1 L251.5,426.2 L251.6,426.4 L251.7,426.5 L251.8,426.7 L251.9,426.8 L252.1,427.0 L252.1,427.2 L252.2,427.3 L252.3,427.5 L252.3,427.7 L252.4,427.9 L252.4,428.1 L252.4,428.3Z M251.3,428.6 L251.3,428.7 L251.4,428.9 L251.4,429.0 L251.4,429.2 L251.4,429.4 L251.4,429.5 L251.4,429.7 L251.3,429.8 L251.3,430.0 L251.2,430.1 L251.1,430.3 L251.0,430.4 L251.0,430.5 L250.9,430.7 L250.7,430.8 L250.6,430.9 L250.5,431.0 L250.4,431.1 L250.3,431.2 L250.2,431.3 L250.1,431.4 L250.0,431.6 L249.9,431.7 L249.8,431.8 L249.7,431.9 L249.6,432.1 L249.5,432.2 L249.4,432.4 L249.3,432.6 L249.2,432.8 L249.1,433.0 L248.9,433.1 L248.7,433.1 L248.5,433.1 L248.3,433.1 L248.2,433.1 L248.0,433.1 L247.8,433.1 L247.6,433.1 L247.4,433.1 L247.3,433.1 L247.1,433.0 L246.9,433.0 L246.7,433.0 L246.6,433.0 L246.4,432.9 L246.2,432.9 L246.0,432.9 L245.8,432.9 L245.6,432.9 L245.4,432.9 L245.2,432.9 L245.0,432.9 L244.8,432.9 L244.5,432.9 L244.3,432.9 L244.0,432.9 L243.8,432.8 L243.5,432.8 L243.3,432.7 L243.0,432.7 L242.7,432.6 L242.5,432.5 L242.2,432.4 L242.0,432.2 L242.0,431.9 L242.0,431.6 L241.9,431.4 L241.9,431.1 L241.9,430.9 L241.9,430.6 L241.9,430.4 L241.9,430.1 L241.9,429.9 L241.9,429.7 L241.9,429.4 L241.9,429.2 L241.9,429.0 L242.1,428.8 L242.4,428.6 L242.7,428.4 L242.9,428.2 L243.1,428.1 L243.3,427.9 L243.5,427.8 L243.6,427.6 L243.7,427.5 L243.7,427.4 L243.8,427.2 L243.9,427.1 L244.0,427.0 L244.1,426.9 L244.2,426.7 L244.3,426.6 L244.4,426.5 L244.5,426.4 L244.6,426.3 L244.7,426.2 L244.8,426.1 L244.9,426.0 L245.0,425.9 L245.1,425.8 L245.2,425.7 L245.3,425.6 L245.4,425.5 L245.5,425.4 L245.6,425.2 L245.7,425.1 L245.8,425.0 L245.9,424.9 L246.0,424.8 L246.2,424.6 L246.3,424.5 L246.4,424.4 L246.6,424.4 L246.8,424.3 L246.9,424.2 L247.1,424.1 L247.3,424.1 L247.4,424.1 L247.6,424.1 L247.8,424.1 L248.0,424.1 L248.1,424.2 L248.3,424.3 L248.4,424.4 L248.6,424.4 L248.7,424.5 L248.9,424.6 L249.0,424.7 L249.2,424.7 L249.3,424.8 L249.5,424.9 L249.6,425.0 L249.8,425.1 L249.9,425.2 L250.0,425.3 L250.1,425.5 L250.2,425.6 L250.3,425.7 L250.4,425.9 L250.4,426.0 L250.5,426.1 L250.6,426.3 L250.6,426.4 L250.7,426.6 L250.7,426.7 L250.8,426.9 L250.8,427.0 L250.9,427.1 L250.9,427.3 L250.9,427.4 L251.0,427.6 L251.0,427.7 L251.1,427.8 L251.1,428.0 L251.2,428.1 L251.2,428.3 L251.2,428.4Z M250.3,428.7 L250.3,428.8 L250.3,428.9 L250.3,429.0 L250.3,429.1 L250.3,429.3 L250.3,429.4 L250.3,429.5 L250.3,429.6 L250.3,429.8 L250.2,429.9 L250.2,430.0 L250.2,430.1 L250.1,430.2 L250.1,430.3 L250.0,430.5 L249.9,430.6 L249.9,430.7 L249.8,430.8 L249.7,430.9 L249.6,431.0 L249.5,431.0 L249.4,431.1 L249.3,431.2 L249.2,431.3 L249.1,431.4 L249.0,431.5 L248.9,431.5 L248.8,431.6 L248.7,431.7 L248.7,431.9 L248.6,432.0 L248.4,432.0 L248.3,432.1 L248.1,432.1 L248.0,432.1 L247.9,432.1 L247.7,432.1 L247.6,432.2 L247.5,432.2 L247.3,432.2 L247.2,432.2 L247.1,432.2 L246.9,432.2 L246.8,432.2 L246.6,432.2 L246.5,432.1 L246.4,432.1 L246.2,432.1 L246.1,432.0 L246.0,432.0 L245.8,431.9 L245.7,431.9 L245.6,431.8 L245.4,431.7 L245.3,431.7 L245.2,431.6 L245.1,431.5 L244.9,431.5 L244.8,431.4 L244.7,431.3 L244.5,431.3 L244.4,431.2 L244.2,431.1 L244.0,431.1 L243.9,430.9 L243.9,430.8 L243.8,430.7 L243.7,430.5 L243.6,430.4 L243.6,430.2 L243.5,430.1 L243.4,429.9 L243.4,429.8 L243.3,429.6 L243.2,429.5 L243.2,429.3 L243.2,429.2 L243.1,429.0 L243.3,428.8 L243.4,428.7 L243.6,428.5 L243.8,428.4 L243.9,428.3 L244.0,428.1 L244.1,428.0 L244.2,427.9 L244.3,427.8 L244.4,427.7 L244.4,427.6 L244.5,427.5 L244.6,427.4 L244.6,427.3 L244.7,427.2 L244.8,427.1 L244.8,427.0 L244.9,426.9 L245.0,426.8 L245.0,426.7 L245.1,426.6 L245.2,426.5 L245.3,426.4 L245.3,426.3 L245.4,426.3 L245.5,426.2 L245.6,426.1 L245.7,426.0 L245.8,425.9 L245.9,425.9 L246.0,425.8 L246.1,425.7 L246.2,425.7 L246.3,425.6 L246.5,425.6 L246.6,425.6 L246.7,425.5 L246.8,425.5 L247.0,425.5 L247.1,425.5 L247.2,425.4 L247.3,425.5 L247.5,425.5 L247.6,425.5 L247.7,425.5 L247.8,425.5 L247.9,425.6 L248.1,425.6 L248.2,425.7 L248.3,425.7 L248.4,425.8 L248.5,425.8 L248.6,425.8 L248.7,425.9 L248.9,425.9 L249.0,426.0 L249.1,426.1 L249.2,426.1 L249.3,426.2 L249.3,426.3 L249.4,426.4 L249.5,426.5 L249.6,426.6 L249.7,426.7 L249.7,426.8 L249.8,426.9 L249.8,427.0 L249.9,427.1 L249.9,427.2 L250.0,427.3 L250.0,427.4 L250.1,427.5 L250.1,427.6 L250.1,427.8 L250.1,427.9 L250.2,428.0 L250.2,428.1 L250.2,428.2 L250.2,428.3 L250.2,428.4 L250.3,428.6Z M249.5,428.8 L249.5,428.9 L249.5,429.0 L249.5,429.0 L249.4,429.1 L249.4,429.2 L249.3,429.3 L249.3,429.4 L249.2,429.4 L249.2,429.5 L249.1,429.6 L249.1,429.6 L249.0,429.7 L249.0,429.8 L248.9,429.8 L248.9,429.9 L248.8,429.9 L248.8,430.0 L248.7,430.1 L248.7,430.1 L248.7,430.2 L248.6,430.3 L248.6,430.4 L248.5,430.4 L248.5,430.5 L248.4,430.6 L248.4,430.7 L248.3,430.8 L248.3,430.8 L248.2,430.9 L248.1,431.0 L248.1,431.1 L248.0,431.1 L247.9,431.2 L247.8,431.2 L247.7,431.2 L247.6,431.2 L247.5,431.2 L247.4,431.2 L247.3,431.2 L247.2,431.1 L247.1,431.1 L247.0,431.1 L247.0,431.1 L246.9,431.0 L246.8,431.0 L246.7,431.0 L246.6,430.9 L246.5,430.9 L246.4,430.9 L246.4,430.8 L246.3,430.8 L246.2,430.8 L246.1,430.8 L246.0,430.7 L245.9,430.7 L245.8,430.7 L245.7,430.7 L245.6,430.7 L245.5,430.6 L245.4,430.6 L245.3,430.6 L245.2,430.5 L245.1,430.5 L244.9,430.4 L244.9,430.4 L244.8,430.3 L244.7,430.2 L244.7,430.1 L244.7,430.0 L244.6,429.9 L244.6,429.7 L244.6,429.6 L244.5,429.5 L244.5,429.4 L244.5,429.3 L244.5,429.2 L244.5,429.1 L244.5,429.0 L244.6,428.9 L244.7,428.8 L244.8,428.7 L244.9,428.6 L244.9,428.5 L245.0,428.4 L245.1,428.3 L245.1,428.3 L245.2,428.2 L245.2,428.1 L245.2,428.0 L245.3,428.0 L245.3,427.9 L245.3,427.8 L245.4,427.7 L245.4,427.7 L245.5,427.6 L245.5,427.5 L245.6,427.5 L245.6,427.4 L245.7,427.4 L245.8,427.3 L245.8,427.3 L245.9,427.2 L245.9,427.2 L246.0,427.1 L246.1,427.1 L246.1,427.0 L246.2,427.0 L246.3,426.9 L246.4,426.9 L246.4,426.8 L246.5,426.8 L246.6,426.8 L246.6,426.7 L246.7,426.7 L246.8,426.7 L246.9,426.6 L247.0,426.6 L247.1,426.6 L247.1,426.5 L247.2,426.5 L247.3,426.5 L247.4,426.5 L247.5,426.5 L247.6,426.5 L247.7,426.5 L247.8,426.6 L247.8,426.6 L247.9,426.6 L248.0,426.7 L248.1,426.7 L248.1,426.8 L248.2,426.8 L248.3,426.9 L248.4,426.9 L248.4,427.0 L248.5,427.1 L248.5,427.1 L248.6,427.2 L248.6,427.3 L248.7,427.3 L248.7,427.4 L248.8,427.4 L248.8,427.5 L248.9,427.6 L249.0,427.6 L249.0,427.7 L249.1,427.7 L249.1,427.8 L249.2,427.9 L249.3,427.9 L249.3,428.0 L249.4,428.1 L249.4,428.2 L249.4,428.2 L249.5,428.3 L249.5,428.4 L249.5,428.5 L249.5,428.6 L249.5,428.7Z" fill="none" stroke="#222" stroke-width="0.8" stroke-linejoin="round"/><path d="M285.2,398.3 L285.2,398.5 L285.1,398.7 L285.0,398.9 L285.0,399.1 L284.9,399.3 L284.8,399.5 L284.8,399.6 L284.7,399.8 L284.7,400.0 L284.6,400.2 L284.5,400.4 L284.4,400.5 L284.1,400.6 L283.9,400.7 L283.7,400.8 L283.5,400.8 L283.3,400.9 L283.1,401.0 L282.9,401.0 L282.8,401.1 L282.6,401.1 L282.4,401.2 L282.3,401.2 L282.2,401.3 L282.0,401.3 L281.9,401.4 L281.7,401.4 L281.6,401.4 L281.5,401.5 L281.3,401.5 L281.2,401.6 L281.1,401.6 L280.9,401.7 L280.8,401.7 L280.7,401.7 L280.6,401.8 L280.4,401.8 L280.3,401.9 L280.1,401.9 L280.0,402.0 L279.9,402.0 L279.7,402.0 L279.6,402.0 L279.4,401.9 L279.3,401.9 L279.1,401.9 L279.0,401.9 L278.8,401.9 L278.7,401.9 L278.5,401.8 L278.4,401.8 L278.2,401.8 L278.0,401.8 L277.9,401.8 L277.7,401.7 L277.5,401.7 L277.3,401.7 L277.1,401.7 L276.9,401.7 L276.7,401.6 L276.4,401.6 L276.2,401.6 L275.9,401.5 L275.6,401.5 L275.5,401.3 L275.4,401.1 L275.3,400.9 L275.3,400.7 L275.2,400.5 L275.2,400.3 L275.1,400.1 L275.0,399.9 L275.0,399.7 L274.9,399.5 L274.9,399.3 L274.8,399.1 L274.8,398.9 L274.7,398.7 L274.6,398.5 L274.6,398.3 L274.5,398.1 L274.6,397.9 L274.8,397.7 L275.0,397.5 L275.2,397.3 L275.4,397.2 L275.6,397.0 L275.7,396.9 L275.9,396.8 L276.0,396.6 L276.1,396.5 L276.3,396.4 L276.4,396.3 L276.5,396.2 L276.7,396.1 L276.8,396.0 L276.9,395.8 L277.0,395.7 L277.1,395.6 L277.2,395.5 L277.4,395.4 L277.5,395.3 L277.6,395.2 L277.7,395.1 L277.8,395.0 L277.9,394.9 L278.0,394.8 L278.2,394.7 L278.3,394.6 L278.4,394.5 L278.6,394.4 L278.7,394.4 L278.9,394.4 L279.1,394.4 L279.2,394.4 L279.4,394.4 L279.5,394.4 L279.7,394.4 L279.8,394.4 L280.0,394.4 L280.2,394.4 L280.3,394.4 L280.5,394.4 L280.6,394.4 L280.8,394.4 L280.9,394.4 L281.1,394.4 L281.3,394.5 L281.4,394.5 L281.6,394.5 L281.8,394.5 L282.0,394.5 L282.1,394.5 L282.3,394.5 L282.6,394.5 L282.8,394.5 L283.0,394.5 L283.3,394.5 L283.5,394.5 L283.8,394.5 L284.0,394.6 L284.1,394.8 L284.2,395.0 L284.3,395.2 L284.4,395.4 L284.5,395.6 L284.6,395.7 L284.7,395.9 L284.8,396.1 L284.9,396.3 L285.0,396.5 L285.1,396.7 L285.2,396.8 L285.3,397.0 L285.4,397.2 L285.5,397.4 L285.4,397.7 L285.4,397.9 L285.3,398.1Z M283.9,398.3 L283.8,398.4 L283.8,398.6 L283.7,398.7 L283.7,398.8 L283.6,399.0 L283.5,399.1 L283.4,399.2 L283.4,399.3 L283.3,399.4 L283.2,399.6 L283.2,399.7 L283.1,399.8 L283.0,399.8 L282.8,399.9 L282.7,400.0 L282.6,400.1 L282.5,400.1 L282.4,400.2 L282.3,400.3 L282.2,400.3 L282.1,400.4 L282.0,400.4 L281.9,400.5 L281.8,400.5 L281.7,400.6 L281.6,400.6 L281.5,400.7 L281.4,400.7 L281.3,400.7 L281.2,400.7 L281.1,400.7 L281.0,400.8 L280.9,400.8 L280.8,400.8 L280.6,400.8 L280.5,400.8 L280.4,400.8 L280.3,400.8 L280.2,400.8 L280.1,400.8 L280.1,400.8 L280.0,400.7 L279.9,400.7 L279.8,400.7 L279.7,400.7 L279.6,400.7 L279.5,400.7 L279.4,400.7 L279.3,400.7 L279.2,400.7 L279.0,400.7 L278.9,400.7 L278.8,400.7 L278.7,400.7 L278.6,400.7 L278.4,400.7 L278.3,400.6 L278.1,400.6 L278.0,400.6 L277.8,400.6 L277.7,400.6 L277.5,400.5 L277.3,400.5 L277.1,400.5 L277.0,400.3 L277.0,400.2 L276.9,400.1 L276.9,400.0 L276.8,399.8 L276.7,399.7 L276.7,399.5 L276.7,399.4 L276.6,399.3 L276.6,399.1 L276.6,399.0 L276.5,398.8 L276.5,398.7 L276.5,398.6 L276.5,398.4 L276.4,398.3 L276.4,398.1 L276.5,398.0 L276.6,397.8 L276.6,397.7 L276.7,397.6 L276.8,397.5 L276.9,397.4 L277.0,397.2 L277.1,397.1 L277.2,397.0 L277.3,396.9 L277.3,396.8 L277.4,396.8 L277.5,396.7 L277.6,396.6 L277.7,396.5 L277.8,396.4 L277.9,396.4 L278.0,396.3 L278.1,396.2 L278.2,396.2 L278.3,396.1 L278.4,396.0 L278.5,396.0 L278.6,395.9 L278.7,395.9 L278.8,395.8 L278.9,395.8 L279.0,395.7 L279.1,395.7 L279.2,395.6 L279.3,395.6 L279.4,395.6 L279.5,395.6 L279.6,395.6 L279.7,395.6 L279.8,395.6 L279.9,395.6 L280.0,395.6 L280.1,395.6 L280.3,395.6 L280.4,395.6 L280.5,395.6 L280.6,395.6 L280.7,395.7 L280.8,395.7 L280.9,395.7 L281.0,395.7 L281.1,395.7 L281.2,395.7 L281.3,395.7 L281.4,395.7 L281.6,395.8 L281.7,395.8 L281.8,395.8 L281.9,395.8 L282.1,395.8 L282.2,395.8 L282.4,395.8 L282.6,395.9 L282.7,395.9 L282.8,396.0 L282.9,396.1 L283.0,396.2 L283.1,396.3 L283.2,396.4 L283.3,396.5 L283.4,396.6 L283.5,396.7 L283.6,396.8 L283.7,397.0 L283.8,397.1 L283.9,397.2 L283.9,397.4 L284.0,397.5 L284.0,397.7 L284.0,397.8 L284.0,398.0 L284.0,398.1Z M282.6,398.2 L282.6,398.3 L282.6,398.4 L282.6,398.5 L282.6,398.6 L282.6,398.7 L282.5,398.8 L282.5,398.9 L282.5,399.0 L282.4,399.0 L282.3,399.1 L282.3,399.2 L282.2,399.2 L282.1,399.3 L282.0,399.3 L282.0,399.4 L281.9,399.4 L281.8,399.4 L281.7,399.5 L281.6,399.5 L281.6,399.5 L281.5,399.6 L281.4,399.6 L281.4,399.6 L281.3,399.7 L281.2,399.7 L281.2,399.7 L281.1,399.7 L281.1,399.8 L281.0,399.8 L280.9,399.8 L280.9,399.9 L280.8,399.9 L280.7,399.9 L280.7,399.9 L280.6,399.9 L280.5,399.9 L280.5,399.9 L280.4,399.9 L280.3,399.9 L280.3,399.9 L280.2,399.9 L280.1,399.9 L280.1,399.9 L280.0,399.9 L279.9,399.9 L279.9,399.9 L279.8,399.9 L279.7,399.9 L279.7,399.9 L279.6,399.9 L279.5,399.8 L279.5,399.8 L279.4,399.8 L279.3,399.8 L279.2,399.8 L279.1,399.8 L279.1,399.8 L279.0,399.8 L278.9,399.7 L278.8,399.7 L278.7,399.7 L278.6,399.6 L278.5,399.6 L278.5,399.6 L278.4,399.5 L278.4,399.4 L278.3,399.3 L278.3,399.3 L278.2,399.2 L278.2,399.1 L278.2,399.0 L278.1,398.9 L278.1,398.9 L278.1,398.8 L278.0,398.7 L278.0,398.6 L278.0,398.5 L277.9,398.4 L277.9,398.3 L277.9,398.2 L277.9,398.2 L277.9,398.1 L277.9,398.0 L278.0,397.9 L278.0,397.8 L278.1,397.7 L278.1,397.6 L278.2,397.6 L278.2,397.5 L278.3,397.4 L278.4,397.4 L278.4,397.3 L278.5,397.3 L278.6,397.2 L278.6,397.2 L278.7,397.1 L278.8,397.1 L278.9,397.0 L278.9,397.0 L279.0,397.0 L279.0,396.9 L279.1,396.9 L279.2,396.8 L279.2,396.8 L279.3,396.8 L279.3,396.7 L279.4,396.7 L279.5,396.6 L279.5,396.6 L279.6,396.6 L279.6,396.5 L279.7,396.5 L279.8,396.5 L279.9,396.5 L279.9,396.5 L280.0,396.5 L280.1,396.5 L280.1,396.5 L280.2,396.5 L280.3,396.5 L280.3,396.5 L280.4,396.5 L280.5,396.5 L280.5,396.5 L280.6,396.6 L280.7,396.6 L280.7,396.6 L280.8,396.6 L280.9,396.6 L281.0,396.6 L281.0,396.6 L281.1,396.6 L281.2,396.6 L281.3,396.6 L281.4,396.6 L281.4,396.6 L281.5,396.6 L281.6,396.7 L281.7,396.7 L281.8,396.7 L281.9,396.8 L282.0,396.8 L282.0,396.9 L282.1,396.9 L282.1,397.0 L282.2,397.1 L282.2,397.2 L282.3,397.2 L282.3,397.3 L282.4,397.4 L282.4,397.5 L282.4,397.5 L282.5,397.6 L282.5,397.7 L282.6,397.8 L282.6,397.9 L282.6,398.0 L282.6,398.1 L282.6,398.2Z M281.7,398.2 L281.7,398.3 L281.7,398.3 L281.7,398.4 L281.7,398.4 L281.7,398.5 L281.6,398.5 L281.6,398.6 L281.6,398.6 L281.6,398.7 L281.5,398.7 L281.5,398.8 L281.5,398.8 L281.4,398.8 L281.4,398.8 L281.3,398.9 L281.3,398.9 L281.3,398.9 L281.2,398.9 L281.2,399.0 L281.1,399.0 L281.1,399.0 L281.1,399.0 L281.0,399.0 L281.0,399.1 L280.9,399.1 L280.9,399.1 L280.9,399.1 L280.8,399.1 L280.8,399.1 L280.7,399.1 L280.7,399.1 L280.7,399.1 L280.6,399.1 L280.6,399.1 L280.6,399.1 L280.5,399.1 L280.5,399.1 L280.4,399.1 L280.4,399.1 L280.4,399.1 L280.3,399.1 L280.3,399.1 L280.3,399.1 L280.2,399.1 L280.2,399.1 L280.2,399.1 L280.1,399.1 L280.1,399.1 L280.0,399.1 L280.0,399.1 L280.0,399.1 L279.9,399.1 L279.9,399.1 L279.9,399.1 L279.8,399.1 L279.8,399.1 L279.7,399.0 L279.7,399.0 L279.6,399.0 L279.6,399.0 L279.5,399.0 L279.5,399.0 L279.4,399.0 L279.4,398.9 L279.3,398.9 L279.3,398.9 L279.3,398.9 L279.2,398.8 L279.2,398.8 L279.2,398.7 L279.1,398.7 L279.1,398.6 L279.1,398.6 L279.1,398.5 L279.1,398.5 L279.1,398.4 L279.1,398.4 L279.1,398.3 L279.1,398.3 L279.1,398.2 L279.1,398.2 L279.1,398.1 L279.1,398.1 L279.1,398.0 L279.1,398.0 L279.1,397.9 L279.1,397.9 L279.2,397.8 L279.2,397.8 L279.2,397.8 L279.3,397.7 L279.3,397.7 L279.3,397.6 L279.4,397.6 L279.4,397.6 L279.5,397.6 L279.5,397.5 L279.5,397.5 L279.6,397.5 L279.6,397.5 L279.7,397.4 L279.7,397.4 L279.7,397.4 L279.8,397.4 L279.8,397.4 L279.8,397.3 L279.9,397.3 L279.9,397.3 L280.0,397.3 L280.0,397.3 L280.0,397.3 L280.1,397.3 L280.1,397.3 L280.2,397.3 L280.2,397.3 L280.2,397.3 L280.3,397.3 L280.3,397.3 L280.3,397.3 L280.4,397.3 L280.4,397.3 L280.4,397.3 L280.5,397.3 L280.5,397.3 L280.6,397.3 L280.6,397.3 L280.6,397.3 L280.7,397.3 L280.7,397.3 L280.7,397.3 L280.8,397.3 L280.8,397.3 L280.9,397.3 L280.9,397.4 L280.9,397.4 L281.0,397.4 L281.0,397.4 L281.1,397.4 L281.1,397.4 L281.2,397.4 L281.2,397.4 L281.3,397.5 L281.3,397.5 L281.4,397.5 L281.4,397.5 L281.5,397.6 L281.5,397.6 L281.5,397.6 L281.6,397.7 L281.6,397.7 L281.6,397.8 L281.6,397.8 L281.7,397.9 L281.7,397.9 L281.7,398.0 L281.7,398.0 L281.7,398.1 L281.7,398.1 L281.7,398.2Z" fill="none" stroke="#222" stroke-width="0.8" stroke-linejoin="round"/><path d="M241.4,430.1 L241.1,429.1 L241.1,428.3 L240.8,427.6 L240.7,426.4 L241.4,425.6 L242.2,425.7 L242.7,425.8 L243.4,425.5 L244.0,426.2 L243.7,427.4 L243.1,428.1 L242.8,428.9 L242.2,430.0Z M255.9,427.6 L255.6,428.0 L255.1,427.8 L254.7,427.3 L254.4,427.1 L253.9,426.7 L253.8,426.2 L254.3,426.0 L254.7,426.0 L255.0,425.8 L255.5,425.8 L255.9,426.3 L255.8,426.7 L255.8,427.1Z M224.4,435.8 L224.1,434.9 L223.9,434.4 L223.5,433.8 L223.4,432.7 L223.9,432.0 L224.4,431.9 L224.8,431.6 L225.4,431.2 L225.8,431.9 L225.6,433.1 L225.4,433.8 L225.3,434.7 L225.0,435.8Z M264.8,421.4 L263.8,421.6 L262.8,421.1 L262.1,420.9 L261.0,420.7 L260.2,419.8 L260.6,418.9 L261.2,418.6 L261.4,417.9 L262.1,417.3 L263.2,417.8 L263.7,418.8 L264.0,419.5 L264.7,420.3Z M235.9,436.3 L234.8,436.3 L234.0,435.8 L233.2,435.8 L232.1,435.4 L231.7,434.4 L232.4,433.6 L233.1,433.1 L233.5,432.4 L234.4,431.9 L235.3,432.6 L235.5,433.6 L235.8,434.3 L236.3,435.3Z M244.6,433.0 L244.7,432.1 L244.4,431.5 L244.3,430.5 L245.0,429.8 L246.0,430.0 L246.6,430.3 L247.5,430.4 L248.3,430.9 L248.1,431.9 L247.3,432.5 L246.7,432.9 L246.1,433.7 L245.1,433.8Z M252.3,434.1 L251.9,433.9 L251.4,433.8 L251.0,433.3 L251.3,432.8 L251.8,432.6 L252.1,432.3 L252.6,431.9 L253.1,432.0 L253.3,432.6 L253.2,433.1 L253.4,433.5 L253.3,434.1 L252.8,434.4Z M252.2,432.4 L251.9,432.5 L251.5,432.2 L251.3,431.9 L251.0,431.7 L250.7,431.2 L250.8,430.9 L251.1,430.9 L251.3,430.9 L251.5,430.8 L251.9,431.0 L252.1,431.4 L252.0,431.7 L252.1,432.0Z M255.3,425.2 L255.2,425.5 L254.9,425.8 L254.3,425.6 L254.1,425.1 L253.9,424.8 L253.6,424.4 L253.5,423.9 L254.0,423.8 L254.5,424.0 L254.8,424.1 L255.3,424.2 L255.7,424.6 L255.6,425.0Z M240.0,437.5 L239.2,437.6 L238.8,436.8 L239.2,435.8 L239.5,435.1 L239.6,434.2 L240.2,433.4 L240.9,433.7 L241.2,434.5 L241.6,435.0 L242.1,435.6 L242.0,436.6 L241.2,437.1 L240.6,437.1Z M253.1,424.4 L252.7,424.1 L252.0,423.8 L251.9,423.1 L252.5,422.5 L253.1,422.4 L253.5,422.0 L254.2,421.7 L254.7,422.2 L254.6,423.0 L254.5,423.5 L254.6,424.2 L254.3,424.9 L253.5,424.9Z M231.3,423.9 L231.1,424.1 L231.1,424.4 L230.8,424.7 L230.3,424.5 L230.2,424.2 L229.9,424.1 L229.6,423.8 L229.7,423.5 L230.1,423.4 L230.5,423.4 L230.8,423.3 L231.2,423.3 L231.4,423.6Z M230.2,424.4 L230.0,424.0 L229.6,423.7 L229.5,423.1 L229.9,422.3 L230.5,422.1 L230.9,421.9 L231.4,421.5 L231.9,421.7 L231.8,422.5 L231.5,423.1 L231.4,423.7 L231.1,424.6 L230.6,424.9Z M231.3,423.1 L231.1,422.5 L230.6,421.7 L231.1,420.7 L232.3,420.4 L233.2,420.7 L234.0,420.5 L235.1,420.6 L235.3,421.5 L234.5,422.4 L233.8,422.9 L233.3,423.8 L232.2,424.5 L231.4,424.0Z M249.9,436.9 L250.1,436.6 L250.1,436.3 L250.3,435.9 L250.7,435.8 L251.0,436.0 L251.2,436.2 L251.6,436.3 L251.8,436.7 L251.5,437.0 L251.0,437.1 L250.8,437.2 L250.3,437.4 L249.9,437.3Z M226.4,439.3 L226.1,440.1 L225.2,439.9 L224.4,439.3 L223.8,439.0 L222.8,438.5 L222.4,437.7 L223.0,437.2 L223.8,437.1 L224.2,436.8 L225.1,436.6 L225.9,437.2 L226.1,438.0 L226.1,438.6Z M261.4,436.1 L261.3,435.9 L261.5,435.4 L261.7,435.1 L261.8,434.7 L262.2,434.2 L262.6,434.2 L262.7,434.6 L262.8,434.8 L263.0,435.0 L262.9,435.4 L262.5,435.7 L262.1,435.8 L261.8,436.0Z M248.7,423.3 L247.8,423.1 L247.2,422.7 L246.6,422.5 L245.8,422.1 L245.6,421.3 L246.2,420.7 L246.6,420.5 L247.0,419.9 L247.7,419.6 L248.4,420.3 L248.5,421.1 L248.6,421.7 L249.0,422.5Z M231.7,440.1 L231.5,439.9 L231.1,439.8 L230.7,439.2 L230.9,438.5 L231.2,438.1 L231.4,437.6 L231.7,437.0 L232.1,437.2 L232.3,437.9 L232.3,438.5 L232.5,439.1 L232.5,440.0 L232.1,440.3Z M258.1,421.0 L258.7,420.1 L259.4,419.7 L259.8,419.0 L260.6,418.3 L261.6,418.6 L261.9,419.5 L262.1,420.1 L262.6,420.8 L262.5,421.7 L261.4,422.1 L260.5,421.8 L259.7,421.8 L258.6,421.7Z M247.4,429.0 L247.1,429.6 L246.5,430.0 L245.8,429.6 L245.7,428.9 L245.5,428.4 L245.2,427.8 L245.3,427.1 L246.1,426.9 L246.7,427.2 L247.2,427.3 L248.0,427.4 L248.3,428.1 L247.8,428.7Z M261.1,424.4 L260.7,424.4 L260.5,424.0 L260.8,423.6 L261.0,423.3 L261.2,423.0 L261.5,422.7 L261.9,422.8 L261.9,423.2 L262.0,423.5 L262.1,423.9 L262.0,424.3 L261.6,424.5 L261.3,424.3Z M259.1,425.3 L258.6,425.3 L258.2,424.9 L258.4,423.9 L259.1,423.4 L259.6,423.0 L260.2,422.3 L260.9,422.0 L261.1,422.8 L260.8,423.6 L260.8,424.2 L260.7,425.1 L260.1,425.9 L259.4,425.7Z M245.9,421.4 L245.8,421.7 L245.4,421.7 L245.1,421.3 L245.1,420.9 L244.9,420.6 L244.8,420.2 L245.0,419.9 L245.4,420.1 L245.7,420.3 L246.0,420.3 L246.3,420.6 L246.3,421.0 L246.1,421.2Z M237.1,425.6 L236.5,425.7 L236.0,425.2 L235.7,424.9 L235.2,424.6 L234.9,424.0 L235.3,423.6 L235.8,423.5 L236.1,423.3 L236.7,423.1 L237.2,423.4 L237.3,424.0 L237.1,424.5 L237.2,425.0Z M231.9,435.9 L231.6,435.5 L231.4,435.1 L231.2,434.8 L231.0,434.3 L231.2,433.9 L231.6,433.8 L231.9,433.9 L232.3,433.7 L232.7,433.9 L232.8,434.4 L232.6,434.8 L232.4,435.1 L232.3,435.6Z M256.6,432.0 L256.7,431.1 L256.6,430.6 L256.5,429.7 L257.3,428.9 L258.2,428.9 L258.8,429.1 L259.6,428.9 L260.3,429.2 L260.0,430.2 L259.2,430.9 L258.6,431.5 L257.9,432.3 L257.0,432.7Z M252.5,434.0 L252.3,433.5 L252.8,433.0 L253.3,432.7 L253.7,432.3 L254.3,431.9 L254.9,432.2 L254.9,432.8 L254.9,433.2 L255.1,433.7 L254.8,434.4 L254.1,434.5 L253.6,434.2 L253.1,434.1Z M259.5,419.3 L260.1,418.9 L260.2,418.4 L260.8,417.8 L261.9,417.8 L262.5,418.3 L262.8,418.7 L263.5,419.0 L263.7,419.7 L262.8,420.1 L261.8,420.0 L261.1,420.2 L260.1,420.3 L259.3,419.9Z M226.8,423.9 L226.3,424.6 L225.5,424.5 L225.0,423.6 L224.9,422.9 L224.5,422.2 L224.3,421.2 L225.0,420.8 L225.9,421.1 L226.4,421.3 L227.2,421.4 L227.9,422.1 L227.7,423.0 L227.1,423.4Z M257.9,439.3 L257.6,439.7 L257.0,439.9 L256.2,439.3 L256.0,438.4 L256.0,437.8 L255.7,437.0 L255.7,436.1 L256.4,436.2 L257.1,436.9 L257.6,437.3 L258.4,437.8 L258.9,438.7 L258.5,439.3Z M242.6,417.6 L242.5,416.5 L242.8,415.6 L242.7,414.8 L243.0,413.6 L244.1,413.3 L244.9,413.9 L245.5,414.4 L246.4,414.7 L246.9,415.7 L246.2,416.6 L245.2,416.9 L244.6,417.4 L243.6,418.0Z M261.1,434.0 L260.6,434.2 L260.4,434.6 L259.8,434.9 L259.0,434.6 L258.7,434.1 L258.5,433.8 L257.9,433.3 L258.0,432.8 L258.8,432.7 L259.5,432.9 L260.1,432.9 L261.0,433.0 L261.4,433.5Z M226.1,427.8 L225.8,427.6 L225.8,427.2 L226.2,427.0 L226.6,427.0 L226.9,427.0 L227.3,426.9 L227.6,427.2 L227.4,427.6 L227.2,427.9 L227.1,428.2 L226.8,428.5 L226.3,428.5 L226.2,428.1Z M257.7,431.9 L257.4,431.6 L256.9,431.1 L257.3,430.1 L258.2,429.6 L258.9,429.4 L259.6,429.0 L260.5,428.7 L260.7,429.5 L260.2,430.4 L259.8,431.1 L259.5,431.9 L258.7,432.8 L257.9,432.6Z M248.3,425.9 L247.5,425.8 L246.8,425.6 L246.2,425.6 L245.3,425.3 L244.8,424.5 L245.0,424.1 L245.1,423.8 L245.1,423.2 L245.7,423.0 L246.6,423.5 L247.0,424.2 L247.6,424.6 L248.3,425.3Z M261.2,427.0 L260.9,427.5 L260.4,427.3 L260.1,426.6 L260.0,426.1 L259.7,425.5 L259.6,424.8 L260.0,424.5 L260.5,424.9 L260.9,425.1 L261.4,425.3 L261.9,425.8 L261.8,426.5 L261.4,426.7Z M228.6,422.9 L227.7,423.6 L226.8,423.9 L226.2,424.5 L225.1,424.9 L224.2,424.2 L224.2,423.1 L224.3,422.4 L224.1,421.4 L224.5,420.4 L225.7,420.4 L226.6,421.1 L227.3,421.4 L228.3,421.8Z M235.5,430.1 L234.8,430.5 L234.2,430.7 L233.8,431.2 L233.0,431.5 L232.3,431.0 L232.3,430.3 L232.3,429.9 L232.0,429.3 L232.3,428.6 L233.2,428.6 L233.8,429.0 L234.4,429.1 L235.3,429.4Z M238.3,427.0 L237.8,427.2 L237.4,427.6 L236.7,427.8 L236.1,427.3 L236.0,426.7 L235.9,426.2 L235.6,425.6 L235.8,425.0 L236.6,425.0 L237.2,425.5 L237.8,425.6 L238.5,426.0 L238.8,426.6Z" fill="none" stroke="#444" stroke-width="0.6" stroke-linejoin="round"/><path d="M239.2,430.6 L238.8,430.2 L238.8,429.5 L239.5,429.3 L240.1,429.3 L240.6,429.2 L241.3,429.1 L241.6,429.6 L241.3,430.2 L241.0,430.6 L240.9,431.2 L240.4,431.6 L239.7,431.5 L239.5,430.9Z M244.9,431.0 L244.5,430.7 L244.9,430.1 L245.6,429.9 L246.2,429.7 L246.8,429.4 L247.6,429.3 L247.7,429.8 L247.3,430.3 L247.2,430.6 L247.0,431.2 L246.3,431.6 L245.6,431.4 L245.4,431.1Z M241.1,433.1 L241.0,432.9 L240.7,432.7 L240.7,432.2 L241.0,431.9 L241.4,431.8 L241.7,431.7 L242.1,431.4 L242.3,431.7 L242.2,432.1 L242.0,432.5 L241.9,432.9 L241.6,433.3 L241.2,433.4Z M240.3,431.7 L239.9,431.6 L239.7,431.2 L239.9,430.8 L240.0,430.4 L240.0,430.0 L240.4,429.7 L240.8,429.9 L241.0,430.2 L241.3,430.4 L241.6,430.8 L241.5,431.2 L241.0,431.4 L240.7,431.4Z M244.9,429.5 L244.3,429.3 L243.8,429.1 L243.3,429.0 L242.7,428.6 L242.6,428.0 L243.0,427.6 L243.2,427.3 L243.4,426.8 L244.0,426.7 L244.5,427.4 L244.6,427.9 L245.0,428.4 L245.2,429.0Z M255.8,423.7 L255.7,424.6 L254.9,424.9 L254.1,424.5 L253.5,424.3 L252.7,424.2 L252.2,423.5 L252.6,422.7 L253.3,422.4 L253.7,421.9 L254.3,421.3 L255.2,421.6 L255.4,422.4 L255.4,423.0Z M253.4,427.4 L253.2,426.6 L253.7,426.0 L254.1,425.6 L254.4,424.9 L255.2,424.5 L255.8,424.9 L256.0,425.7 L256.2,426.2 L256.6,426.8 L256.3,427.6 L255.4,427.7 L254.8,427.5 L254.2,427.5Z M256.2,422.4 L255.8,422.0 L255.5,421.5 L255.1,421.2 L254.7,420.6 L254.7,419.9 L255.1,419.7 L255.4,419.6 L255.7,419.3 L256.2,419.4 L256.5,420.1 L256.4,420.8 L256.5,421.3 L256.6,422.0Z M259.0,423.0 L258.5,423.7 L257.6,423.5 L257.0,422.9 L256.4,422.7 L255.6,422.2 L255.6,421.4 L256.4,420.9 L257.0,420.7 L257.5,420.2 L258.4,420.0 L259.0,420.7 L258.8,421.5 L258.9,422.1Z M257.7,421.4 L257.5,421.7 L257.2,422.2 L256.5,422.3 L255.9,421.8 L255.7,421.3 L255.3,421.0 L254.9,420.4 L255.2,420.0 L256.0,420.1 L256.6,420.2 L257.2,420.2 L258.0,420.5 L258.1,421.1Z" fill="none" stroke="#000" stroke-width="0.9" stroke-linejoin="round"/><path d="M272.4,367.5 L272.3,367.9 L272.2,368.3 L272.1,368.8 L272.0,369.2 L271.9,369.6 L271.8,370.0 L271.7,370.4 L271.6,370.8 L271.5,371.2 L271.3,371.6 L271.1,371.9 L270.8,372.3 L270.6,372.6 L270.3,372.9 L270.1,373.3 L269.9,373.6 L269.6,373.9 L269.4,374.3 L269.2,374.6 L268.9,374.9 L268.7,375.3 L268.4,375.6 L268.2,376.0 L267.9,376.3 L267.7,376.7 L267.2,376.9 L266.8,377.0 L266.4,377.1 L266.0,377.2 L265.5,377.2 L265.1,377.3 L264.7,377.4 L264.3,377.5 L263.9,377.6 L263.5,377.7 L263.1,377.8 L262.7,377.9 L262.3,378.0 L261.9,377.9 L261.5,377.8 L261.1,377.6 L260.7,377.5 L260.3,377.3 L260.0,377.2 L259.6,377.1 L259.2,376.9 L258.9,376.8 L258.5,376.7 L258.2,376.5 L257.8,376.4 L257.5,376.3 L257.1,376.1 L256.7,376.0 L256.5,375.7 L256.2,375.4 L255.9,375.2 L255.7,374.9 L255.4,374.6 L255.2,374.3 L254.9,374.1 L254.7,373.8 L254.4,373.5 L254.2,373.3 L253.9,373.0 L253.7,372.7 L253.4,372.4 L253.2,372.2 L252.9,371.9 L252.7,371.6 L252.4,371.3 L252.2,370.9 L252.0,370.6 L251.9,370.2 L251.7,369.9 L251.5,369.5 L251.3,369.1 L251.1,368.7 L250.9,368.3 L250.7,367.9 L250.5,367.5 L250.3,367.1 L250.1,366.6 L250.3,366.2 L250.5,365.8 L250.6,365.3 L250.8,364.9 L251.0,364.5 L251.1,364.1 L251.3,363.7 L251.5,363.3 L251.6,362.9 L251.8,362.5 L251.9,362.1 L252.3,361.8 L252.6,361.6 L253.0,361.3 L253.4,361.1 L253.7,360.9 L254.1,360.6 L254.4,360.4 L254.7,360.2 L255.1,360.0 L255.4,359.8 L255.7,359.5 L256.0,359.3 L256.4,359.1 L256.7,358.9 L257.1,358.8 L257.5,358.8 L257.9,358.7 L258.3,358.7 L258.6,358.7 L259.0,358.6 L259.4,358.6 L259.7,358.5 L260.1,358.5 L260.4,358.4 L260.8,358.4 L261.1,358.3 L261.5,358.3 L261.9,358.2 L262.2,358.2 L262.6,358.1 L263.0,358.1 L263.4,358.2 L263.7,358.2 L264.1,358.3 L264.5,358.3 L264.9,358.4 L265.2,358.4 L265.6,358.5 L266.1,358.6 L266.5,358.6 L266.9,358.7 L267.3,358.8 L267.8,358.8 L268.3,358.9 L268.6,359.2 L268.9,359.5 L269.2,359.8 L269.4,360.2 L269.7,360.5 L270.0,360.8 L270.3,361.1 L270.6,361.4 L270.9,361.8 L271.2,362.1 L271.5,362.4 L271.8,362.8 L271.9,363.2 L272.0,363.6 L272.1,364.1 L272.1,364.5 L272.2,364.9 L272.3,365.3 L272.4,365.8 L272.5,366.2 L272.6,366.6 L272.5,367.1Z M271.6,367.5 L271.6,367.8 L271.5,368.2 L271.4,368.6 L271.3,369.0 L271.2,369.4 L271.1,369.8 L271.0,370.1 L270.9,370.5 L270.8,370.9 L270.6,371.2 L270.4,371.6 L270.2,371.9 L269.9,372.2 L269.7,372.5 L269.4,372.8 L269.2,373.1 L269.0,373.3 L268.7,373.6 L268.5,373.9 L268.2,374.2 L268.0,374.5 L267.7,374.8 L267.5,375.1 L267.2,375.4 L267.0,375.7 L266.6,375.9 L266.3,376.0 L265.9,376.1 L265.5,376.2 L265.2,376.3 L264.8,376.4 L264.4,376.5 L264.1,376.7 L263.7,376.8 L263.4,376.9 L263.0,377.0 L262.6,377.2 L262.3,377.3 L261.9,377.3 L261.5,377.2 L261.1,377.1 L260.7,377.0 L260.4,376.9 L260.0,376.8 L259.7,376.7 L259.3,376.5 L259.0,376.4 L258.6,376.2 L258.3,376.1 L258.0,375.9 L257.6,375.8 L257.3,375.6 L257.0,375.5 L256.8,375.2 L256.5,374.9 L256.3,374.6 L256.1,374.3 L255.8,374.1 L255.6,373.8 L255.4,373.5 L255.2,373.3 L255.0,373.0 L254.7,372.8 L254.5,372.5 L254.3,372.3 L254.0,372.0 L253.8,371.8 L253.5,371.5 L253.3,371.2 L253.0,370.9 L252.9,370.6 L252.7,370.3 L252.5,370.0 L252.3,369.6 L252.2,369.3 L252.0,369.0 L251.8,368.6 L251.7,368.2 L251.5,367.8 L251.3,367.5 L251.1,367.0 L251.0,366.6 L251.2,366.2 L251.3,365.8 L251.5,365.5 L251.6,365.1 L251.8,364.7 L251.9,364.3 L252.1,364.0 L252.2,363.6 L252.3,363.2 L252.5,362.9 L252.6,362.5 L252.9,362.2 L253.2,361.9 L253.5,361.7 L253.8,361.4 L254.1,361.2 L254.4,360.9 L254.7,360.7 L255.0,360.5 L255.3,360.2 L255.6,360.0 L255.9,359.8 L256.3,359.6 L256.6,359.4 L256.9,359.2 L257.3,359.2 L257.7,359.2 L258.0,359.1 L258.4,359.1 L258.8,359.1 L259.1,359.1 L259.5,359.1 L259.8,359.1 L260.2,359.1 L260.5,359.1 L260.8,359.1 L261.2,359.1 L261.5,359.0 L261.8,359.0 L262.1,359.0 L262.5,359.0 L262.8,359.0 L263.2,359.0 L263.5,359.1 L263.8,359.1 L264.2,359.1 L264.5,359.2 L264.9,359.2 L265.3,359.2 L265.7,359.3 L266.1,359.3 L266.5,359.3 L266.9,359.4 L267.3,359.4 L267.8,359.5 L268.1,359.7 L268.4,360.0 L268.7,360.3 L269.0,360.5 L269.2,360.8 L269.5,361.1 L269.8,361.4 L270.0,361.7 L270.3,362.0 L270.6,362.4 L270.8,362.7 L271.1,363.0 L271.2,363.4 L271.3,363.8 L271.3,364.2 L271.4,364.6 L271.5,365.0 L271.6,365.4 L271.6,365.8 L271.7,366.2 L271.8,366.6 L271.7,367.0Z" fill="none" stroke="#222" stroke-width="0.8" stroke-linejoin="round"/><path d="M268.0,367.2 L268.0,367.5 L267.9,367.7 L267.9,368.0 L267.8,368.2 L267.8,368.5 L267.7,368.7 L267.6,369.0 L267.5,369.2 L267.5,369.5 L267.3,369.7 L267.2,369.9 L267.1,370.1 L266.9,370.3 L266.8,370.5 L266.6,370.7 L266.5,370.9 L266.3,371.1 L266.1,371.3 L266.0,371.4 L265.8,371.6 L265.6,371.8 L265.5,372.0 L265.3,372.1 L265.1,372.3 L264.9,372.5 L264.7,372.6 L264.5,372.7 L264.2,372.7 L264.0,372.8 L263.8,372.9 L263.5,372.9 L263.3,373.0 L263.1,373.0 L262.8,373.1 L262.6,373.1 L262.4,373.2 L262.1,373.2 L261.9,373.2 L261.7,373.2 L261.4,373.2 L261.2,373.1 L261.0,373.1 L260.7,373.0 L260.5,373.0 L260.3,372.9 L260.1,372.9 L259.8,372.8 L259.6,372.7 L259.4,372.7 L259.2,372.6 L259.0,372.5 L258.8,372.4 L258.5,372.4 L258.4,372.2 L258.2,372.1 L258.0,371.9 L257.8,371.8 L257.6,371.7 L257.5,371.5 L257.3,371.4 L257.1,371.2 L257.0,371.0 L256.8,370.9 L256.6,370.7 L256.5,370.5 L256.3,370.3 L256.2,370.2 L256.0,370.0 L255.9,369.8 L255.7,369.6 L255.6,369.4 L255.5,369.1 L255.4,368.9 L255.3,368.7 L255.2,368.5 L255.1,368.2 L255.0,368.0 L255.0,367.7 L254.9,367.5 L254.8,367.2 L254.8,367.0 L254.7,366.7 L254.8,366.4 L254.9,366.2 L254.9,365.9 L255.0,365.7 L255.1,365.4 L255.2,365.2 L255.3,365.0 L255.4,364.7 L255.5,364.5 L255.7,364.3 L255.8,364.1 L255.9,363.9 L256.1,363.7 L256.3,363.5 L256.5,363.4 L256.7,363.2 L256.9,363.1 L257.1,362.9 L257.3,362.8 L257.5,362.7 L257.7,362.5 L257.9,362.4 L258.1,362.3 L258.3,362.2 L258.5,362.1 L258.8,362.0 L259.0,361.9 L259.2,361.9 L259.4,361.8 L259.7,361.8 L259.9,361.8 L260.1,361.7 L260.3,361.7 L260.5,361.7 L260.8,361.6 L261.0,361.6 L261.2,361.6 L261.4,361.6 L261.6,361.6 L261.9,361.6 L262.1,361.6 L262.3,361.6 L262.5,361.6 L262.8,361.6 L263.0,361.7 L263.2,361.7 L263.4,361.8 L263.7,361.8 L263.9,361.9 L264.1,361.9 L264.4,362.0 L264.6,362.0 L264.8,362.1 L265.1,362.2 L265.3,362.3 L265.5,362.4 L265.7,362.6 L265.9,362.8 L266.1,362.9 L266.2,363.1 L266.4,363.3 L266.6,363.5 L266.8,363.6 L266.9,363.8 L267.1,364.0 L267.3,364.2 L267.4,364.5 L267.5,364.7 L267.6,364.9 L267.7,365.2 L267.8,365.4 L267.8,365.7 L267.9,365.9 L267.9,366.2 L268.0,366.4 L268.0,366.7 L268.0,367.0Z" fill="none" stroke="#000" stroke-width="3.0" stroke-linejoin="round"/><path d="M270.7,367.4 L270.6,367.7 L270.5,368.1 L270.4,368.4 L270.4,368.8 L270.3,369.1 L270.2,369.5 L270.1,369.8 L270.0,370.2 L269.9,370.5 L269.7,370.8 L269.5,371.1 L269.3,371.4 L269.1,371.7 L268.9,372.0 L268.7,372.2 L268.5,372.5 L268.3,372.8 L268.1,373.1 L267.9,373.3 L267.7,373.6 L267.4,373.9 L267.2,374.1 L267.0,374.4 L266.8,374.7 L266.5,374.9 L266.2,375.1 L265.8,375.2 L265.5,375.3 L265.1,375.4 L264.8,375.4 L264.5,375.5 L264.1,375.6 L263.8,375.7 L263.5,375.7 L263.1,375.8 L262.8,375.9 L262.5,375.9 L262.1,376.0 L261.8,376.0 L261.5,375.9 L261.1,375.8 L260.8,375.7 L260.5,375.6 L260.2,375.5 L259.9,375.4 L259.6,375.3 L259.3,375.2 L259.0,375.1 L258.7,375.0 L258.4,374.9 L258.1,374.8 L257.8,374.7 L257.5,374.6 L257.2,374.3 L257.0,374.1 L256.7,373.9 L256.5,373.7 L256.3,373.5 L256.0,373.3 L255.8,373.0 L255.6,372.8 L255.4,372.6 L255.2,372.4 L254.9,372.1 L254.7,371.9 L254.5,371.6 L254.3,371.4 L254.1,371.2 L253.9,370.9 L253.7,370.6 L253.5,370.3 L253.4,370.0 L253.2,369.7 L253.1,369.4 L252.9,369.1 L252.8,368.8 L252.6,368.4 L252.5,368.1 L252.4,367.7 L252.2,367.4 L252.1,367.0 L252.0,366.6 L252.1,366.3 L252.2,365.9 L252.4,365.6 L252.5,365.2 L252.6,364.9 L252.8,364.6 L252.9,364.2 L253.1,363.9 L253.2,363.6 L253.3,363.2 L253.5,362.9 L253.7,362.7 L254.0,362.4 L254.3,362.2 L254.6,362.0 L254.9,361.8 L255.2,361.6 L255.5,361.4 L255.8,361.2 L256.0,361.0 L256.3,360.9 L256.6,360.7 L256.9,360.5 L257.1,360.3 L257.4,360.2 L257.8,360.1 L258.1,360.0 L258.4,360.0 L258.7,359.9 L259.0,359.9 L259.3,359.8 L259.6,359.8 L259.9,359.8 L260.3,359.7 L260.6,359.7 L260.9,359.6 L261.2,359.6 L261.5,359.6 L261.8,359.5 L262.1,359.5 L262.4,359.5 L262.7,359.5 L263.0,359.5 L263.3,359.6 L263.7,359.6 L264.0,359.7 L264.3,359.7 L264.6,359.8 L264.9,359.9 L265.3,359.9 L265.6,360.0 L266.0,360.1 L266.3,360.1 L266.7,360.2 L267.1,360.3 L267.3,360.5 L267.6,360.8 L267.8,361.0 L268.1,361.3 L268.3,361.6 L268.5,361.8 L268.8,362.1 L269.0,362.3 L269.3,362.6 L269.5,362.9 L269.7,363.2 L270.0,363.5 L270.1,363.8 L270.2,364.2 L270.3,364.5 L270.4,364.9 L270.5,365.2 L270.5,365.6 L270.6,365.9 L270.7,366.3 L270.8,366.7 L270.7,367.0Z M270.1,367.4 L270.1,367.7 L270.1,368.0 L270.0,368.4 L270.0,368.7 L269.9,369.0 L269.8,369.4 L269.6,369.7 L269.5,370.0 L269.4,370.3 L269.2,370.6 L269.0,370.8 L268.7,371.1 L268.5,371.3 L268.3,371.6 L268.1,371.8 L268.0,372.1 L267.8,372.3 L267.6,372.6 L267.4,372.9 L267.3,373.2 L267.1,373.5 L266.9,373.8 L266.8,374.1 L266.6,374.4 L266.4,374.7 L266.1,374.9 L265.7,375.0 L265.4,375.1 L265.1,375.2 L264.7,375.2 L264.4,375.3 L264.1,375.4 L263.7,375.4 L263.4,375.4 L263.1,375.5 L262.8,375.5 L262.4,375.6 L262.1,375.6 L261.8,375.6 L261.5,375.6 L261.1,375.5 L260.8,375.5 L260.5,375.4 L260.2,375.4 L259.9,375.3 L259.6,375.3 L259.2,375.2 L258.9,375.1 L258.6,375.1 L258.3,374.9 L258.0,374.8 L257.7,374.7 L257.4,374.5 L257.2,374.3 L257.0,374.0 L256.8,373.8 L256.6,373.5 L256.4,373.3 L256.2,373.0 L256.0,372.8 L255.8,372.6 L255.6,372.3 L255.4,372.1 L255.2,371.9 L255.0,371.7 L254.8,371.5 L254.5,371.2 L254.3,371.0 L254.1,370.8 L253.9,370.5 L253.7,370.2 L253.6,369.9 L253.4,369.6 L253.3,369.3 L253.2,369.0 L253.1,368.7 L253.1,368.4 L253.0,368.0 L252.9,367.7 L252.9,367.4 L252.8,367.0 L252.8,366.7 L252.9,366.4 L253.0,366.0 L253.2,365.7 L253.3,365.4 L253.3,365.1 L253.4,364.8 L253.5,364.4 L253.6,364.1 L253.7,363.8 L253.8,363.5 L253.9,363.1 L254.1,362.8 L254.4,362.6 L254.6,362.4 L254.9,362.2 L255.2,362.0 L255.5,361.8 L255.8,361.7 L256.0,361.5 L256.3,361.3 L256.6,361.2 L256.9,361.0 L257.1,360.9 L257.4,360.7 L257.7,360.6 L258.0,360.5 L258.2,360.4 L258.5,360.3 L258.8,360.2 L259.1,360.1 L259.4,360.0 L259.7,359.9 L260.0,359.8 L260.2,359.7 L260.5,359.6 L260.8,359.6 L261.2,359.5 L261.5,359.5 L261.8,359.5 L262.1,359.5 L262.4,359.5 L262.7,359.5 L263.0,359.6 L263.3,359.7 L263.6,359.8 L263.9,359.9 L264.2,359.9 L264.5,360.0 L264.8,360.1 L265.2,360.1 L265.5,360.2 L265.8,360.2 L266.2,360.3 L266.6,360.3 L267.0,360.4 L267.3,360.6 L267.5,360.8 L267.8,361.1 L268.0,361.3 L268.2,361.6 L268.4,361.9 L268.6,362.1 L268.8,362.4 L269.0,362.7 L269.2,363.0 L269.3,363.3 L269.5,363.7 L269.6,364.0 L269.6,364.4 L269.7,364.7 L269.7,365.0 L269.8,365.4 L269.9,365.7 L270.0,366.0 L270.1,366.3 L270.2,366.7 L270.2,367.0Z M270.2,367.3 L270.1,367.7 L270.0,368.0 L269.8,368.3 L269.7,368.6 L269.5,369.0 L269.4,369.3 L269.3,369.6 L269.2,369.8 L269.1,370.1 L268.9,370.4 L268.7,370.7 L268.6,371.0 L268.4,371.2 L268.2,371.5 L268.1,371.8 L267.9,372.0 L267.7,372.3 L267.5,372.5 L267.3,372.8 L267.1,373.0 L266.9,373.2 L266.7,373.5 L266.5,373.7 L266.2,373.9 L266.0,374.2 L265.7,374.3 L265.4,374.4 L265.1,374.5 L264.8,374.6 L264.5,374.7 L264.2,374.8 L263.9,374.9 L263.6,375.0 L263.3,375.2 L263.0,375.3 L262.7,375.4 L262.4,375.5 L262.1,375.6 L261.8,375.6 L261.5,375.5 L261.1,375.4 L260.8,375.3 L260.5,375.2 L260.2,375.0 L260.0,374.9 L259.7,374.7 L259.4,374.6 L259.2,374.4 L258.9,374.2 L258.7,374.1 L258.4,373.9 L258.2,373.8 L257.9,373.7 L257.7,373.5 L257.5,373.3 L257.2,373.1 L257.0,373.0 L256.8,372.8 L256.5,372.7 L256.3,372.5 L256.1,372.3 L255.8,372.2 L255.6,372.0 L255.3,371.8 L255.1,371.6 L254.9,371.4 L254.7,371.1 L254.5,370.9 L254.3,370.6 L254.1,370.4 L254.0,370.1 L253.9,369.8 L253.7,369.5 L253.6,369.2 L253.5,368.9 L253.3,368.6 L253.2,368.3 L253.0,368.0 L252.9,367.7 L252.7,367.3 L252.6,367.0 L252.5,366.6 L252.6,366.3 L252.7,366.0 L252.8,365.6 L253.0,365.3 L253.1,365.0 L253.3,364.7 L253.5,364.4 L253.7,364.1 L253.9,363.9 L254.1,363.6 L254.3,363.3 L254.6,363.1 L254.9,363.0 L255.2,362.8 L255.5,362.6 L255.7,362.4 L255.9,362.3 L256.2,362.1 L256.4,361.9 L256.6,361.7 L256.8,361.4 L257.0,361.2 L257.2,361.0 L257.4,360.8 L257.7,360.6 L257.9,360.5 L258.2,360.3 L258.5,360.3 L258.8,360.2 L259.1,360.1 L259.4,360.1 L259.7,360.1 L260.0,360.0 L260.3,360.0 L260.6,360.0 L260.9,360.0 L261.2,360.1 L261.5,360.1 L261.7,360.1 L262.0,360.0 L262.3,360.0 L262.6,360.0 L262.9,360.1 L263.2,360.1 L263.5,360.2 L263.8,360.2 L264.1,360.2 L264.4,360.3 L264.7,360.4 L265.0,360.5 L265.3,360.5 L265.6,360.6 L265.9,360.7 L266.2,360.9 L266.5,361.0 L266.7,361.2 L266.9,361.5 L267.1,361.7 L267.3,362.0 L267.5,362.2 L267.7,362.4 L268.0,362.6 L268.2,362.8 L268.5,363.0 L268.7,363.3 L269.0,363.5 L269.3,363.7 L269.5,364.0 L269.7,364.3 L269.9,364.6 L270.0,364.9 L270.1,365.3 L270.2,365.6 L270.3,365.9 L270.4,366.3 L270.4,366.6 L270.3,367.0Z M269.8,367.3 L269.8,367.7 L269.8,368.0 L269.7,368.3 L269.7,368.6 L269.6,368.9 L269.4,369.2 L269.3,369.5 L269.2,369.8 L269.0,370.1 L268.8,370.4 L268.6,370.6 L268.4,370.9 L268.3,371.1 L268.1,371.4 L267.9,371.6 L267.7,371.9 L267.6,372.1 L267.4,372.4 L267.2,372.6 L267.0,372.8 L266.7,373.1 L266.5,373.3 L266.3,373.5 L266.0,373.6 L265.8,373.8 L265.5,373.9 L265.1,373.9 L264.8,374.0 L264.5,374.0 L264.2,374.1 L264.0,374.1 L263.7,374.2 L263.4,374.3 L263.2,374.4 L262.9,374.6 L262.6,374.7 L262.3,374.8 L262.1,375.0 L261.8,375.0 L261.4,375.0 L261.1,375.0 L260.8,374.9 L260.6,374.9 L260.3,374.8 L260.0,374.7 L259.7,374.5 L259.4,374.4 L259.2,374.3 L258.9,374.2 L258.7,374.0 L258.4,373.9 L258.2,373.8 L257.9,373.7 L257.7,373.5 L257.4,373.3 L257.2,373.2 L257.0,373.0 L256.8,372.8 L256.6,372.6 L256.4,372.4 L256.2,372.2 L256.0,372.0 L255.8,371.8 L255.7,371.5 L255.5,371.3 L255.4,371.0 L255.2,370.8 L255.1,370.6 L255.0,370.3 L254.8,370.1 L254.7,369.8 L254.5,369.6 L254.3,369.3 L254.2,369.1 L254.0,368.8 L253.8,368.5 L253.6,368.3 L253.4,368.0 L253.2,367.6 L253.0,367.3 L252.8,367.0 L252.8,366.6 L252.9,366.3 L253.0,366.0 L253.1,365.7 L253.3,365.4 L253.4,365.1 L253.6,364.8 L253.8,364.5 L253.9,364.2 L254.1,363.9 L254.3,363.7 L254.4,363.4 L254.6,363.1 L254.9,362.9 L255.1,362.7 L255.4,362.5 L255.6,362.3 L255.8,362.1 L256.1,362.0 L256.4,361.8 L256.6,361.7 L256.9,361.6 L257.2,361.4 L257.4,361.3 L257.7,361.2 L258.0,361.1 L258.3,361.1 L258.6,361.1 L258.9,361.1 L259.1,361.0 L259.4,360.9 L259.6,360.9 L259.9,360.8 L260.1,360.7 L260.4,360.5 L260.6,360.4 L260.9,360.3 L261.2,360.2 L261.4,360.2 L261.7,360.1 L262.0,360.0 L262.3,360.0 L262.6,360.0 L262.9,360.1 L263.2,360.2 L263.4,360.3 L263.7,360.4 L264.0,360.4 L264.3,360.5 L264.5,360.6 L264.8,360.7 L265.1,360.8 L265.4,360.8 L265.7,360.9 L266.1,361.0 L266.4,361.1 L266.6,361.3 L266.9,361.5 L267.1,361.7 L267.3,361.9 L267.5,362.2 L267.7,362.4 L267.8,362.7 L268.0,363.0 L268.1,363.2 L268.3,363.5 L268.5,363.8 L268.6,364.0 L268.7,364.3 L268.8,364.6 L268.9,364.9 L269.0,365.2 L269.2,365.5 L269.3,365.8 L269.5,366.0 L269.6,366.4 L269.8,366.7 L269.8,367.0Z M268.9,367.3 L268.9,367.6 L268.8,367.9 L268.8,368.2 L268.8,368.5 L268.7,368.8 L268.7,369.0 L268.7,369.3 L268.7,369.6 L268.6,369.9 L268.5,370.2 L268.4,370.5 L268.3,370.8 L268.2,371.1 L268.0,371.3 L267.9,371.6 L267.7,371.8 L267.5,372.1 L267.3,372.3 L267.1,372.6 L266.9,372.8 L266.7,373.0 L266.5,373.2 L266.3,373.4 L266.0,373.6 L265.8,373.8 L265.5,373.9 L265.2,373.9 L264.8,374.0 L264.5,374.0 L264.2,374.0 L263.9,374.1 L263.7,374.1 L263.4,374.1 L263.1,374.2 L262.8,374.2 L262.5,374.2 L262.3,374.3 L262.0,374.3 L261.7,374.3 L261.4,374.3 L261.2,374.2 L260.9,374.1 L260.6,374.1 L260.4,374.0 L260.1,374.0 L259.9,373.9 L259.6,373.8 L259.3,373.8 L259.1,373.7 L258.8,373.6 L258.6,373.5 L258.3,373.4 L258.1,373.3 L257.8,373.2 L257.6,373.0 L257.4,372.8 L257.2,372.6 L257.0,372.4 L256.9,372.3 L256.7,372.1 L256.5,371.9 L256.3,371.7 L256.1,371.5 L255.9,371.3 L255.7,371.1 L255.5,370.9 L255.3,370.7 L255.1,370.5 L254.9,370.3 L254.7,370.1 L254.5,369.9 L254.3,369.6 L254.2,369.4 L254.0,369.1 L253.9,368.8 L253.7,368.5 L253.6,368.2 L253.5,367.9 L253.4,367.6 L253.3,367.3 L253.2,367.0 L253.1,366.6 L253.3,366.3 L253.4,366.0 L253.5,365.7 L253.7,365.4 L253.9,365.2 L254.0,364.9 L254.2,364.6 L254.4,364.4 L254.6,364.1 L254.7,363.9 L254.9,363.6 L255.2,363.4 L255.4,363.3 L255.7,363.1 L255.9,362.9 L256.2,362.8 L256.4,362.6 L256.6,362.5 L256.8,362.3 L257.0,362.1 L257.2,362.0 L257.4,361.8 L257.7,361.6 L257.9,361.5 L258.1,361.3 L258.3,361.2 L258.6,361.1 L258.8,361.0 L259.1,360.9 L259.3,360.8 L259.6,360.8 L259.9,360.7 L260.1,360.6 L260.4,360.6 L260.6,360.6 L260.9,360.5 L261.2,360.5 L261.4,360.5 L261.7,360.5 L262.0,360.5 L262.3,360.5 L262.5,360.5 L262.8,360.5 L263.1,360.6 L263.3,360.6 L263.6,360.7 L263.9,360.8 L264.1,360.8 L264.4,360.9 L264.7,360.9 L265.0,361.0 L265.3,361.1 L265.6,361.1 L265.9,361.2 L266.2,361.3 L266.4,361.5 L266.6,361.7 L266.9,361.9 L267.1,362.1 L267.3,362.3 L267.5,362.5 L267.7,362.8 L267.9,363.0 L268.0,363.2 L268.2,363.5 L268.4,363.8 L268.6,364.0 L268.6,364.3 L268.7,364.6 L268.7,364.9 L268.8,365.2 L268.8,365.5 L268.9,365.8 L268.9,366.1 L268.9,366.4 L269.0,366.7 L268.9,367.0Z M268.9,367.3 L268.9,367.6 L268.8,367.9 L268.8,368.1 L268.8,368.4 L268.7,368.7 L268.7,369.0 L268.6,369.3 L268.5,369.6 L268.4,369.9 L268.3,370.1 L268.1,370.4 L268.0,370.6 L267.8,370.8 L267.6,371.1 L267.4,371.3 L267.2,371.5 L267.0,371.7 L266.8,371.9 L266.6,372.1 L266.4,372.3 L266.2,372.4 L266.0,372.6 L265.8,372.8 L265.6,372.9 L265.3,373.1 L265.1,373.2 L264.8,373.3 L264.5,373.3 L264.3,373.4 L264.0,373.5 L263.7,373.5 L263.5,373.6 L263.2,373.7 L263.0,373.8 L262.7,373.9 L262.5,374.0 L262.2,374.1 L262.0,374.2 L261.7,374.2 L261.4,374.2 L261.2,374.2 L260.9,374.1 L260.6,374.1 L260.4,374.1 L260.1,374.0 L259.8,374.0 L259.6,373.9 L259.3,373.8 L259.1,373.7 L258.8,373.6 L258.6,373.5 L258.3,373.4 L258.1,373.2 L257.9,373.0 L257.7,372.8 L257.6,372.6 L257.4,372.4 L257.2,372.2 L257.1,372.0 L256.9,371.8 L256.8,371.6 L256.6,371.4 L256.5,371.2 L256.3,371.0 L256.2,370.8 L256.0,370.6 L255.8,370.4 L255.6,370.2 L255.4,370.0 L255.2,369.8 L255.1,369.6 L254.9,369.4 L254.7,369.2 L254.5,368.9 L254.4,368.7 L254.2,368.4 L254.1,368.1 L253.9,367.9 L253.8,367.6 L253.6,367.3 L253.5,367.0 L253.5,366.6 L253.5,366.3 L253.6,366.0 L253.8,365.7 L253.9,365.5 L254.0,365.2 L254.2,364.9 L254.3,364.7 L254.5,364.4 L254.7,364.2 L254.9,363.9 L255.1,363.7 L255.3,363.5 L255.6,363.4 L255.8,363.2 L256.1,363.0 L256.3,362.9 L256.5,362.8 L256.8,362.6 L257.0,362.5 L257.2,362.3 L257.4,362.2 L257.6,362.0 L257.8,361.9 L258.0,361.7 L258.2,361.6 L258.5,361.5 L258.7,361.4 L259.0,361.3 L259.2,361.2 L259.4,361.1 L259.7,361.0 L259.9,361.0 L260.2,360.9 L260.4,360.9 L260.7,360.8 L260.9,360.8 L261.2,360.8 L261.4,360.7 L261.7,360.7 L262.0,360.7 L262.2,360.7 L262.5,360.7 L262.7,360.8 L263.0,360.9 L263.2,360.9 L263.5,361.0 L263.7,361.1 L264.0,361.1 L264.2,361.2 L264.5,361.3 L264.8,361.4 L265.0,361.4 L265.3,361.5 L265.6,361.6 L265.8,361.7 L266.1,361.9 L266.3,362.1 L266.5,362.2 L266.7,362.4 L266.9,362.6 L267.1,362.8 L267.3,363.0 L267.5,363.3 L267.7,363.5 L267.8,363.7 L268.0,363.9 L268.2,364.2 L268.3,364.4 L268.4,364.7 L268.5,365.0 L268.6,365.3 L268.7,365.5 L268.7,365.8 L268.8,366.1 L268.9,366.4 L268.9,366.7 L268.9,367.0Z M268.6,367.3 L268.5,367.5 L268.5,367.8 L268.4,368.1 L268.3,368.3 L268.3,368.6 L268.2,368.9 L268.1,369.1 L268.0,369.4 L267.9,369.7 L267.8,369.9 L267.6,370.1 L267.5,370.3 L267.3,370.6 L267.2,370.8 L267.0,371.0 L266.8,371.2 L266.7,371.4 L266.5,371.6 L266.3,371.8 L266.1,372.0 L265.9,372.1 L265.8,372.3 L265.6,372.5 L265.4,372.7 L265.2,372.9 L264.9,373.0 L264.7,373.1 L264.4,373.1 L264.2,373.2 L263.9,373.3 L263.7,373.4 L263.4,373.5 L263.2,373.5 L263.0,373.6 L262.7,373.7 L262.5,373.8 L262.2,373.8 L262.0,373.9 L261.7,373.9 L261.4,373.9 L261.2,373.8 L260.9,373.8 L260.7,373.7 L260.4,373.7 L260.2,373.6 L259.9,373.5 L259.7,373.4 L259.4,373.3 L259.2,373.2 L259.0,373.1 L258.8,373.0 L258.5,372.9 L258.3,372.8 L258.2,372.6 L258.0,372.4 L257.8,372.2 L257.7,372.0 L257.5,371.9 L257.3,371.7 L257.2,371.5 L257.0,371.3 L256.8,371.2 L256.7,371.0 L256.5,370.8 L256.3,370.7 L256.1,370.5 L255.9,370.3 L255.7,370.2 L255.5,370.0 L255.3,369.8 L255.2,369.6 L255.0,369.3 L254.8,369.1 L254.7,368.9 L254.5,368.6 L254.4,368.4 L254.3,368.1 L254.1,367.8 L254.0,367.5 L253.9,367.3 L253.9,367.0 L253.8,366.7 L253.9,366.4 L254.1,366.1 L254.2,365.8 L254.4,365.6 L254.5,365.3 L254.7,365.1 L254.8,364.8 L255.0,364.6 L255.2,364.4 L255.4,364.2 L255.5,363.9 L255.7,363.8 L256.0,363.6 L256.2,363.5 L256.4,363.3 L256.6,363.2 L256.8,363.0 L257.0,362.8 L257.2,362.7 L257.4,362.5 L257.6,362.4 L257.8,362.2 L257.9,362.0 L258.1,361.9 L258.3,361.7 L258.5,361.6 L258.8,361.5 L259.0,361.4 L259.2,361.3 L259.5,361.2 L259.7,361.1 L259.9,361.1 L260.2,361.0 L260.4,361.0 L260.7,361.0 L260.9,361.0 L261.2,361.0 L261.4,361.0 L261.7,361.0 L261.9,361.0 L262.2,361.0 L262.4,361.1 L262.6,361.2 L262.9,361.2 L263.1,361.3 L263.3,361.4 L263.6,361.5 L263.8,361.6 L264.0,361.6 L264.3,361.7 L264.5,361.8 L264.7,361.8 L265.0,361.9 L265.3,362.0 L265.5,362.0 L265.8,362.2 L266.0,362.3 L266.2,362.5 L266.4,362.7 L266.6,362.8 L266.8,363.0 L267.0,363.2 L267.2,363.4 L267.4,363.6 L267.7,363.8 L267.9,364.0 L268.0,364.2 L268.2,364.5 L268.3,364.7 L268.3,365.0 L268.4,365.3 L268.5,365.6 L268.5,365.8 L268.6,366.1 L268.6,366.4 L268.7,366.7 L268.6,367.0Z M268.4,367.2 L268.3,367.5 L268.2,367.8 L268.1,368.0 L268.0,368.3 L267.9,368.5 L267.8,368.8 L267.7,369.0 L267.6,369.2 L267.5,369.5 L267.4,369.7 L267.2,369.9 L267.1,370.1 L267.0,370.3 L266.8,370.5 L266.7,370.7 L266.5,370.9 L266.4,371.1 L266.2,371.3 L266.0,371.5 L265.9,371.7 L265.7,371.9 L265.5,372.1 L265.4,372.2 L265.2,372.4 L265.0,372.6 L264.8,372.7 L264.5,372.8 L264.3,372.8 L264.0,372.9 L263.8,372.9 L263.5,373.0 L263.3,373.0 L263.1,373.1 L262.8,373.1 L262.6,373.2 L262.4,373.2 L262.1,373.3 L261.9,373.3 L261.7,373.3 L261.4,373.3 L261.2,373.3 L260.9,373.2 L260.7,373.2 L260.5,373.2 L260.2,373.2 L260.0,373.1 L259.8,373.1 L259.5,373.1 L259.3,373.0 L259.0,373.0 L258.8,372.9 L258.6,372.8 L258.3,372.7 L258.1,372.6 L257.9,372.5 L257.7,372.3 L257.6,372.1 L257.4,371.9 L257.2,371.8 L257.1,371.6 L256.9,371.4 L256.8,371.2 L256.7,371.0 L256.5,370.8 L256.4,370.6 L256.3,370.4 L256.2,370.2 L256.0,370.0 L255.9,369.8 L255.8,369.6 L255.7,369.3 L255.6,369.1 L255.5,368.9 L255.4,368.7 L255.3,368.4 L255.2,368.2 L255.1,368.0 L255.0,367.7 L254.9,367.5 L254.8,367.2 L254.7,367.0 L254.6,366.7 L254.7,366.4 L254.7,366.2 L254.8,365.9 L254.8,365.6 L254.9,365.4 L255.0,365.1 L255.1,364.9 L255.2,364.6 L255.3,364.4 L255.4,364.1 L255.5,363.9 L255.7,363.7 L255.9,363.5 L256.1,363.4 L256.3,363.2 L256.5,363.1 L256.8,362.9 L257.0,362.8 L257.2,362.6 L257.4,362.5 L257.6,362.4 L257.8,362.2 L258.0,362.1 L258.2,362.0 L258.4,361.9 L258.7,361.8 L258.9,361.7 L259.1,361.7 L259.4,361.6 L259.6,361.6 L259.8,361.5 L260.0,361.5 L260.3,361.5 L260.5,361.4 L260.7,361.4 L261.0,361.4 L261.2,361.4 L261.4,361.4 L261.7,361.4 L261.9,361.4 L262.1,361.4 L262.3,361.5 L262.6,361.5 L262.8,361.6 L263.0,361.7 L263.2,361.7 L263.4,361.8 L263.6,361.9 L263.9,362.0 L264.1,362.0 L264.3,362.1 L264.5,362.2 L264.8,362.2 L265.0,362.3 L265.3,362.3 L265.5,362.5 L265.7,362.6 L265.9,362.8 L266.1,362.9 L266.3,363.0 L266.5,363.2 L266.8,363.4 L267.0,363.5 L267.2,363.7 L267.4,363.9 L267.6,364.1 L267.8,364.3 L267.9,364.5 L268.1,364.8 L268.2,365.0 L268.2,365.3 L268.3,365.6 L268.4,365.8 L268.4,366.1 L268.4,366.4 L268.5,366.7 L268.4,367.0Z M267.9,367.2 L267.9,367.5 L267.9,367.7 L267.9,368.0 L267.8,368.2 L267.8,368.5 L267.7,368.7 L267.6,369.0 L267.5,369.2 L267.4,369.4 L267.2,369.6 L267.0,369.8 L266.8,370.0 L266.7,370.1 L266.5,370.3 L266.3,370.5 L266.1,370.6 L266.0,370.8 L265.8,371.0 L265.7,371.1 L265.5,371.3 L265.4,371.5 L265.2,371.7 L265.1,371.9 L264.9,372.0 L264.8,372.2 L264.6,372.3 L264.3,372.4 L264.1,372.5 L263.9,372.6 L263.7,372.6 L263.4,372.7 L263.2,372.7 L263.0,372.7 L262.7,372.8 L262.5,372.8 L262.3,372.8 L262.1,372.8 L261.9,372.8 L261.6,372.8 L261.4,372.8 L261.2,372.8 L261.0,372.7 L260.8,372.7 L260.5,372.7 L260.3,372.7 L260.1,372.7 L259.9,372.7 L259.7,372.6 L259.4,372.6 L259.2,372.6 L259.0,372.5 L258.7,372.4 L258.5,372.4 L258.3,372.2 L258.2,372.1 L258.0,371.9 L257.8,371.8 L257.7,371.6 L257.5,371.4 L257.4,371.3 L257.2,371.1 L257.0,371.0 L256.9,370.8 L256.7,370.6 L256.5,370.5 L256.4,370.3 L256.2,370.1 L256.0,370.0 L255.8,369.8 L255.6,369.6 L255.5,369.4 L255.4,369.2 L255.3,368.9 L255.2,368.7 L255.1,368.5 L255.0,368.2 L255.0,368.0 L254.9,367.7 L254.9,367.5 L254.9,367.2 L254.9,367.0 L254.9,366.7 L255.0,366.4 L255.1,366.2 L255.2,366.0 L255.3,365.7 L255.4,365.5 L255.5,365.3 L255.6,365.1 L255.7,364.8 L255.7,364.6 L255.8,364.4 L255.9,364.1 L256.1,363.9 L256.3,363.8 L256.5,363.6 L256.7,363.5 L256.9,363.3 L257.1,363.2 L257.3,363.1 L257.5,363.0 L257.7,362.9 L257.9,362.8 L258.1,362.7 L258.3,362.6 L258.5,362.5 L258.7,362.4 L259.0,362.4 L259.2,362.3 L259.4,362.3 L259.6,362.2 L259.8,362.2 L260.0,362.1 L260.2,362.0 L260.4,361.9 L260.6,361.9 L260.8,361.8 L261.0,361.8 L261.2,361.7 L261.4,361.7 L261.6,361.7 L261.9,361.7 L262.1,361.7 L262.3,361.7 L262.5,361.7 L262.7,361.8 L262.9,361.8 L263.1,361.9 L263.4,362.0 L263.6,362.0 L263.8,362.1 L264.0,362.1 L264.3,362.1 L264.5,362.2 L264.8,362.2 L265.0,362.3 L265.3,362.3 L265.5,362.4 L265.7,362.6 L265.9,362.7 L266.1,362.8 L266.3,363.0 L266.5,363.2 L266.7,363.4 L266.9,363.6 L267.0,363.8 L267.2,364.0 L267.3,364.2 L267.4,364.4 L267.5,364.7 L267.5,365.0 L267.6,365.2 L267.6,365.5 L267.7,365.7 L267.7,366.0 L267.8,366.2 L267.9,366.4 L267.9,366.7 L267.9,367.0Z M267.6,367.2 L267.5,367.4 L267.5,367.7 L267.4,367.9 L267.4,368.1 L267.3,368.4 L267.2,368.6 L267.1,368.8 L267.1,369.0 L267.0,369.3 L266.9,369.5 L266.8,369.7 L266.7,369.9 L266.6,370.1 L266.5,370.3 L266.4,370.5 L266.3,370.7 L266.1,370.9 L266.0,371.1 L265.8,371.2 L265.6,371.4 L265.4,371.5 L265.2,371.6 L265.0,371.8 L264.8,371.9 L264.6,372.0 L264.4,372.0 L264.1,372.1 L263.9,372.1 L263.7,372.1 L263.5,372.2 L263.3,372.3 L263.1,372.3 L262.9,372.4 L262.7,372.4 L262.5,372.5 L262.3,372.6 L262.1,372.6 L261.8,372.6 L261.6,372.6 L261.4,372.6 L261.2,372.5 L261.0,372.5 L260.8,372.4 L260.6,372.3 L260.4,372.2 L260.2,372.2 L260.0,372.1 L259.8,372.1 L259.6,372.0 L259.4,372.0 L259.2,372.0 L259.0,371.9 L258.8,371.9 L258.6,371.8 L258.4,371.7 L258.2,371.7 L258.0,371.5 L257.8,371.4 L257.6,371.3 L257.4,371.2 L257.3,371.0 L257.1,370.8 L257.0,370.7 L256.9,370.5 L256.7,370.3 L256.6,370.1 L256.5,369.9 L256.4,369.8 L256.2,369.6 L256.1,369.4 L256.0,369.2 L255.9,369.0 L255.7,368.8 L255.6,368.6 L255.5,368.4 L255.4,368.1 L255.4,367.9 L255.3,367.7 L255.3,367.4 L255.2,367.2 L255.2,366.9 L255.2,366.7 L255.4,366.5 L255.5,366.2 L255.6,366.0 L255.7,365.8 L255.9,365.6 L256.0,365.4 L256.1,365.2 L256.2,365.0 L256.2,364.8 L256.3,364.6 L256.4,364.4 L256.5,364.2 L256.6,364.0 L256.8,363.8 L256.9,363.7 L257.1,363.5 L257.3,363.4 L257.5,363.2 L257.7,363.1 L257.8,363.0 L258.0,362.9 L258.2,362.8 L258.4,362.7 L258.6,362.6 L258.8,362.5 L259.0,362.5 L259.2,362.4 L259.4,362.3 L259.6,362.2 L259.8,362.1 L260.0,362.1 L260.2,362.0 L260.4,361.9 L260.6,361.8 L260.8,361.8 L261.0,361.8 L261.2,361.7 L261.4,361.7 L261.6,361.8 L261.8,361.8 L262.0,361.8 L262.3,361.9 L262.5,361.9 L262.7,362.0 L262.9,362.1 L263.1,362.1 L263.3,362.2 L263.5,362.2 L263.7,362.3 L263.9,362.3 L264.1,362.4 L264.3,362.4 L264.6,362.5 L264.8,362.5 L265.0,362.6 L265.2,362.8 L265.3,362.9 L265.5,363.1 L265.6,363.3 L265.8,363.5 L265.9,363.7 L266.0,363.8 L266.1,364.0 L266.2,364.2 L266.4,364.4 L266.5,364.6 L266.7,364.8 L266.8,365.0 L266.9,365.2 L267.0,365.4 L267.1,365.6 L267.2,365.8 L267.3,366.0 L267.4,366.2 L267.5,366.5 L267.6,366.7 L267.6,366.9Z M267.0,367.2 L267.0,367.4 L267.0,367.6 L267.0,367.8 L267.0,368.1 L267.0,368.3 L266.9,368.5 L266.9,368.7 L266.8,368.9 L266.7,369.1 L266.6,369.3 L266.5,369.5 L266.4,369.7 L266.2,369.9 L266.1,370.0 L266.0,370.2 L265.8,370.4 L265.7,370.5 L265.5,370.7 L265.4,370.8 L265.2,371.0 L265.1,371.2 L264.9,371.3 L264.8,371.5 L264.6,371.6 L264.5,371.8 L264.3,371.8 L264.1,371.9 L263.9,372.0 L263.7,372.1 L263.5,372.1 L263.3,372.2 L263.1,372.2 L262.8,372.3 L262.6,372.3 L262.4,372.3 L262.2,372.4 L262.0,372.4 L261.8,372.4 L261.6,372.4 L261.4,372.3 L261.2,372.2 L261.0,372.2 L260.8,372.1 L260.6,372.0 L260.5,372.0 L260.3,371.9 L260.1,371.8 L259.9,371.7 L259.7,371.7 L259.6,371.6 L259.4,371.5 L259.2,371.5 L259.0,371.4 L258.9,371.3 L258.7,371.2 L258.5,371.1 L258.3,371.0 L258.2,370.9 L258.0,370.8 L257.8,370.7 L257.6,370.6 L257.5,370.5 L257.3,370.4 L257.1,370.3 L257.0,370.1 L256.8,370.0 L256.6,369.8 L256.5,369.7 L256.3,369.5 L256.2,369.3 L256.1,369.1 L256.0,368.9 L255.9,368.7 L255.9,368.5 L255.8,368.3 L255.7,368.1 L255.7,367.8 L255.7,367.6 L255.6,367.4 L255.6,367.2 L255.6,366.9 L255.6,366.7 L255.7,366.5 L255.8,366.3 L255.8,366.1 L255.9,365.9 L256.0,365.6 L256.1,365.4 L256.2,365.2 L256.3,365.0 L256.4,364.9 L256.5,364.7 L256.6,364.5 L256.7,364.3 L256.9,364.1 L257.0,364.0 L257.2,363.9 L257.4,363.7 L257.5,363.6 L257.7,363.5 L257.9,363.4 L258.1,363.2 L258.2,363.1 L258.4,363.0 L258.6,362.9 L258.8,362.9 L258.9,362.8 L259.1,362.7 L259.3,362.7 L259.5,362.6 L259.7,362.6 L259.9,362.6 L260.1,362.5 L260.3,362.5 L260.5,362.5 L260.7,362.4 L260.8,362.4 L261.0,362.3 L261.2,362.3 L261.4,362.3 L261.6,362.2 L261.8,362.2 L262.0,362.2 L262.2,362.1 L262.4,362.1 L262.6,362.1 L262.8,362.2 L263.0,362.2 L263.2,362.2 L263.4,362.2 L263.7,362.3 L263.9,362.3 L264.1,362.4 L264.3,362.5 L264.5,362.6 L264.7,362.7 L264.9,362.8 L265.0,362.9 L265.2,363.1 L265.3,363.3 L265.4,363.5 L265.5,363.6 L265.7,363.8 L265.8,364.0 L265.9,364.2 L266.0,364.3 L266.1,364.5 L266.2,364.7 L266.4,364.9 L266.4,365.1 L266.5,365.3 L266.6,365.5 L266.7,365.7 L266.7,365.9 L266.8,366.1 L266.9,366.3 L266.9,366.5 L267.0,366.7 L267.0,366.9Z M266.7,367.1 L266.6,367.3 L266.6,367.6 L266.5,367.7 L266.5,367.9 L266.4,368.1 L266.4,368.3 L266.3,368.5 L266.2,368.7 L266.2,368.9 L266.1,369.1 L266.0,369.3 L265.9,369.5 L265.8,369.6 L265.8,369.8 L265.7,370.0 L265.6,370.2 L265.5,370.3 L265.4,370.5 L265.2,370.7 L265.1,370.9 L265.0,371.0 L264.8,371.2 L264.7,371.3 L264.5,371.5 L264.4,371.6 L264.2,371.6 L263.9,371.7 L263.7,371.7 L263.5,371.8 L263.3,371.8 L263.1,371.8 L262.9,371.8 L262.7,371.8 L262.5,371.8 L262.3,371.8 L262.1,371.9 L262.0,371.9 L261.8,371.9 L261.6,371.9 L261.4,371.8 L261.2,371.8 L261.0,371.8 L260.8,371.8 L260.7,371.7 L260.5,371.7 L260.3,371.7 L260.1,371.6 L260.0,371.6 L259.8,371.5 L259.6,371.5 L259.4,371.4 L259.3,371.3 L259.1,371.3 L258.9,371.2 L258.8,371.0 L258.7,370.9 L258.5,370.8 L258.4,370.7 L258.2,370.6 L258.1,370.4 L258.0,370.3 L257.8,370.2 L257.7,370.1 L257.5,369.9 L257.4,369.8 L257.2,369.7 L257.1,369.6 L256.9,369.4 L256.8,369.3 L256.6,369.1 L256.5,369.0 L256.4,368.8 L256.3,368.6 L256.2,368.4 L256.1,368.2 L256.0,368.0 L255.9,367.8 L255.9,367.6 L255.8,367.4 L255.8,367.1 L255.8,366.9 L255.8,366.7 L255.9,366.5 L256.0,366.3 L256.1,366.1 L256.2,365.9 L256.3,365.7 L256.4,365.5 L256.5,365.3 L256.6,365.2 L256.7,365.0 L256.8,364.8 L256.9,364.6 L257.1,364.5 L257.2,364.3 L257.3,364.2 L257.5,364.1 L257.6,363.9 L257.8,363.8 L257.9,363.7 L258.1,363.6 L258.2,363.5 L258.4,363.4 L258.6,363.3 L258.7,363.2 L258.9,363.1 L259.1,363.0 L259.3,363.0 L259.5,362.9 L259.6,362.9 L259.8,362.9 L260.0,362.8 L260.2,362.8 L260.4,362.8 L260.5,362.8 L260.7,362.7 L260.9,362.7 L261.0,362.6 L261.2,362.6 L261.4,362.6 L261.6,362.5 L261.8,362.5 L262.0,362.4 L262.1,362.4 L262.3,362.4 L262.5,362.4 L262.7,362.4 L262.9,362.4 L263.1,362.5 L263.3,362.5 L263.5,362.6 L263.7,362.6 L263.9,362.7 L264.1,362.8 L264.3,362.9 L264.4,363.0 L264.6,363.1 L264.7,363.2 L264.9,363.4 L265.0,363.5 L265.1,363.7 L265.3,363.8 L265.4,364.0 L265.5,364.2 L265.6,364.3 L265.8,364.5 L265.9,364.6 L266.0,364.8 L266.2,364.9 L266.3,365.1 L266.3,365.3 L266.4,365.5 L266.5,365.7 L266.6,365.9 L266.6,366.1 L266.7,366.3 L266.7,366.5 L266.7,366.7 L266.7,366.9Z M266.6,367.1 L266.6,367.3 L266.6,367.5 L266.5,367.7 L266.4,367.9 L266.4,368.1 L266.3,368.3 L266.2,368.5 L266.1,368.6 L266.0,368.8 L265.9,369.0 L265.7,369.1 L265.6,369.3 L265.5,369.4 L265.4,369.6 L265.2,369.7 L265.1,369.8 L265.0,370.0 L264.9,370.1 L264.8,370.2 L264.6,370.4 L264.5,370.5 L264.4,370.6 L264.2,370.7 L264.1,370.9 L264.0,371.0 L263.8,371.1 L263.7,371.2 L263.5,371.2 L263.3,371.3 L263.1,371.3 L263.0,371.4 L262.8,371.4 L262.6,371.5 L262.4,371.5 L262.3,371.5 L262.1,371.6 L261.9,371.6 L261.7,371.6 L261.6,371.6 L261.4,371.6 L261.2,371.5 L261.0,371.5 L260.9,371.5 L260.7,371.5 L260.5,371.4 L260.4,371.4 L260.2,371.4 L260.0,371.3 L259.8,371.3 L259.7,371.3 L259.5,371.2 L259.3,371.2 L259.1,371.1 L259.0,371.1 L258.8,371.0 L258.7,370.9 L258.5,370.8 L258.4,370.7 L258.2,370.5 L258.1,370.4 L258.0,370.3 L257.8,370.2 L257.7,370.0 L257.6,369.9 L257.5,369.7 L257.4,369.6 L257.3,369.4 L257.2,369.2 L257.1,369.1 L257.1,368.9 L257.0,368.7 L257.0,368.6 L256.9,368.4 L256.9,368.2 L256.8,368.0 L256.8,367.8 L256.8,367.7 L256.7,367.5 L256.7,367.3 L256.6,367.1 L256.6,366.9 L256.5,366.7 L256.5,366.5 L256.6,366.4 L256.6,366.2 L256.6,366.0 L256.7,365.8 L256.7,365.6 L256.8,365.4 L256.8,365.2 L256.9,365.0 L256.9,364.9 L257.0,364.7 L257.1,364.5 L257.3,364.4 L257.4,364.2 L257.6,364.1 L257.7,364.0 L257.9,363.9 L258.0,363.8 L258.2,363.7 L258.4,363.6 L258.5,363.5 L258.7,363.4 L258.8,363.3 L259.0,363.2 L259.2,363.2 L259.3,363.1 L259.5,363.1 L259.7,363.0 L259.9,363.0 L260.0,363.0 L260.2,362.9 L260.4,362.9 L260.5,362.9 L260.7,362.8 L260.9,362.8 L261.1,362.8 L261.2,362.8 L261.4,362.8 L261.6,362.8 L261.7,362.8 L261.9,362.8 L262.1,362.8 L262.2,362.8 L262.4,362.9 L262.6,362.9 L262.7,363.0 L262.9,363.0 L263.1,363.1 L263.2,363.1 L263.4,363.2 L263.6,363.3 L263.7,363.3 L263.9,363.4 L264.0,363.5 L264.2,363.5 L264.3,363.7 L264.5,363.8 L264.6,363.9 L264.8,364.0 L264.9,364.1 L265.1,364.2 L265.2,364.3 L265.4,364.5 L265.5,364.6 L265.7,364.7 L265.8,364.9 L266.0,365.0 L266.1,365.2 L266.2,365.4 L266.3,365.5 L266.4,365.7 L266.5,365.9 L266.5,366.1 L266.6,366.3 L266.6,366.5 L266.7,366.7 L266.7,366.9Z M265.9,367.1 L265.8,367.3 L265.8,367.4 L265.8,367.6 L265.7,367.8 L265.7,368.0 L265.7,368.1 L265.7,368.3 L265.7,368.5 L265.6,368.7 L265.6,368.8 L265.5,369.0 L265.5,369.2 L265.4,369.3 L265.3,369.5 L265.2,369.7 L265.1,369.8 L265.0,370.0 L264.9,370.1 L264.7,370.2 L264.6,370.3 L264.5,370.4 L264.3,370.5 L264.1,370.6 L264.0,370.7 L263.8,370.8 L263.7,370.8 L263.5,370.8 L263.3,370.9 L263.1,370.9 L263.0,371.0 L262.8,371.0 L262.7,371.0 L262.5,371.1 L262.4,371.1 L262.2,371.2 L262.0,371.2 L261.9,371.2 L261.7,371.2 L261.5,371.2 L261.4,371.2 L261.2,371.2 L261.1,371.2 L260.9,371.1 L260.8,371.1 L260.6,371.0 L260.4,371.0 L260.3,370.9 L260.1,370.9 L260.0,370.9 L259.8,370.8 L259.7,370.8 L259.5,370.8 L259.3,370.7 L259.2,370.7 L259.0,370.6 L258.9,370.6 L258.7,370.5 L258.6,370.4 L258.4,370.3 L258.3,370.2 L258.1,370.1 L258.0,370.0 L257.9,369.8 L257.8,369.7 L257.7,369.6 L257.6,369.4 L257.6,369.2 L257.5,369.1 L257.4,368.9 L257.4,368.8 L257.3,368.6 L257.3,368.4 L257.2,368.3 L257.2,368.1 L257.1,367.9 L257.1,367.8 L257.0,367.6 L256.9,367.4 L256.9,367.3 L256.8,367.1 L256.8,366.9 L256.7,366.7 L256.7,366.5 L256.8,366.4 L256.8,366.2 L256.9,366.0 L256.9,365.8 L257.0,365.7 L257.0,365.5 L257.1,365.3 L257.2,365.2 L257.3,365.0 L257.4,364.9 L257.5,364.7 L257.6,364.6 L257.8,364.5 L257.9,364.4 L258.0,364.2 L258.2,364.1 L258.3,364.0 L258.4,363.9 L258.5,363.8 L258.7,363.7 L258.8,363.6 L259.0,363.5 L259.1,363.4 L259.3,363.3 L259.5,363.3 L259.6,363.3 L259.8,363.3 L260.0,363.3 L260.1,363.3 L260.3,363.3 L260.5,363.3 L260.6,363.3 L260.8,363.3 L260.9,363.3 L261.1,363.3 L261.2,363.3 L261.4,363.3 L261.5,363.3 L261.7,363.2 L261.8,363.2 L262.0,363.2 L262.2,363.2 L262.3,363.2 L262.5,363.2 L262.7,363.2 L262.8,363.2 L263.0,363.2 L263.2,363.2 L263.3,363.2 L263.5,363.3 L263.7,363.3 L263.8,363.4 L264.0,363.5 L264.2,363.6 L264.3,363.7 L264.4,363.8 L264.5,363.9 L264.7,364.1 L264.8,364.2 L264.9,364.3 L265.0,364.4 L265.2,364.6 L265.3,364.7 L265.4,364.8 L265.5,365.0 L265.6,365.1 L265.7,365.3 L265.8,365.5 L265.8,365.7 L265.9,365.8 L265.9,366.0 L265.9,366.2 L265.9,366.4 L265.9,366.6 L265.9,366.7 L265.9,366.9Z M265.6,367.1 L265.6,367.2 L265.6,367.4 L265.5,367.6 L265.5,367.7 L265.5,367.9 L265.4,368.0 L265.4,368.2 L265.3,368.4 L265.3,368.5 L265.2,368.7 L265.1,368.8 L265.1,368.9 L265.0,369.1 L264.9,369.2 L264.8,369.4 L264.7,369.5 L264.6,369.6 L264.5,369.8 L264.4,369.9 L264.3,370.0 L264.2,370.2 L264.1,370.3 L264.0,370.4 L263.9,370.5 L263.7,370.6 L263.6,370.7 L263.4,370.7 L263.3,370.8 L263.1,370.8 L262.9,370.8 L262.8,370.8 L262.6,370.9 L262.4,370.9 L262.3,370.9 L262.1,370.9 L262.0,370.9 L261.8,370.9 L261.7,370.8 L261.5,370.8 L261.4,370.8 L261.2,370.7 L261.1,370.7 L261.0,370.7 L260.8,370.6 L260.7,370.6 L260.5,370.6 L260.4,370.6 L260.3,370.5 L260.1,370.5 L260.0,370.5 L259.8,370.4 L259.7,370.4 L259.5,370.4 L259.4,370.3 L259.2,370.3 L259.1,370.2 L259.0,370.1 L258.8,370.0 L258.7,370.0 L258.6,369.9 L258.5,369.8 L258.3,369.7 L258.2,369.6 L258.1,369.4 L258.0,369.3 L257.9,369.2 L257.8,369.1 L257.7,368.9 L257.6,368.8 L257.5,368.7 L257.5,368.5 L257.4,368.4 L257.3,368.2 L257.3,368.1 L257.2,367.9 L257.2,367.7 L257.1,367.6 L257.1,367.4 L257.0,367.2 L257.0,367.1 L257.0,366.9 L257.0,366.7 L257.0,366.6 L257.0,366.4 L257.1,366.2 L257.1,366.1 L257.2,365.9 L257.3,365.7 L257.3,365.6 L257.4,365.4 L257.5,365.3 L257.6,365.1 L257.7,365.0 L257.8,364.9 L258.0,364.8 L258.1,364.7 L258.2,364.6 L258.4,364.5 L258.5,364.4 L258.7,364.4 L258.8,364.3 L258.9,364.2 L259.1,364.1 L259.2,364.1 L259.3,364.0 L259.4,363.9 L259.6,363.9 L259.7,363.8 L259.8,363.7 L260.0,363.7 L260.1,363.6 L260.2,363.6 L260.4,363.5 L260.5,363.5 L260.7,363.4 L260.8,363.4 L260.9,363.3 L261.1,363.3 L261.2,363.3 L261.4,363.2 L261.5,363.2 L261.7,363.2 L261.8,363.2 L262.0,363.2 L262.1,363.2 L262.3,363.2 L262.4,363.3 L262.6,363.3 L262.7,363.4 L262.9,363.4 L263.0,363.5 L263.2,363.5 L263.3,363.6 L263.5,363.7 L263.6,363.8 L263.7,363.8 L263.9,363.9 L264.0,364.0 L264.1,364.1 L264.2,364.2 L264.3,364.3 L264.4,364.5 L264.6,364.6 L264.7,364.7 L264.8,364.8 L264.9,364.9 L265.0,365.0 L265.1,365.2 L265.2,365.3 L265.3,365.5 L265.3,365.6 L265.4,365.8 L265.5,365.9 L265.5,366.1 L265.6,366.2 L265.6,366.4 L265.6,366.6 L265.6,366.7 L265.6,366.9Z M265.5,367.1 L265.5,367.2 L265.5,367.4 L265.5,367.5 L265.4,367.7 L265.4,367.8 L265.3,368.0 L265.2,368.1 L265.1,368.3 L265.0,368.4 L264.9,368.5 L264.8,368.6 L264.7,368.7 L264.6,368.9 L264.5,369.0 L264.4,369.1 L264.3,369.2 L264.2,369.3 L264.1,369.4 L264.0,369.5 L263.9,369.6 L263.8,369.7 L263.7,369.8 L263.6,369.9 L263.5,370.0 L263.4,370.1 L263.3,370.2 L263.2,370.2 L263.0,370.3 L262.9,370.3 L262.7,370.3 L262.6,370.4 L262.5,370.4 L262.3,370.4 L262.2,370.5 L262.1,370.5 L261.9,370.6 L261.8,370.6 L261.7,370.7 L261.5,370.7 L261.4,370.7 L261.2,370.7 L261.1,370.7 L260.9,370.7 L260.8,370.7 L260.7,370.6 L260.5,370.6 L260.4,370.5 L260.3,370.4 L260.2,370.4 L260.0,370.3 L259.9,370.2 L259.8,370.1 L259.7,370.0 L259.6,370.0 L259.5,369.9 L259.4,369.8 L259.3,369.7 L259.1,369.7 L259.0,369.6 L258.9,369.5 L258.8,369.4 L258.7,369.4 L258.6,369.3 L258.4,369.2 L258.3,369.1 L258.2,369.0 L258.1,368.9 L258.1,368.7 L258.0,368.6 L257.9,368.5 L257.8,368.4 L257.8,368.2 L257.7,368.1 L257.7,367.9 L257.6,367.8 L257.5,367.7 L257.5,367.5 L257.4,367.4 L257.3,367.2 L257.3,367.1 L257.2,366.9 L257.2,366.7 L257.2,366.6 L257.3,366.4 L257.3,366.2 L257.4,366.1 L257.5,366.0 L257.6,365.8 L257.7,365.7 L257.8,365.6 L257.9,365.4 L258.0,365.3 L258.1,365.2 L258.2,365.1 L258.3,365.0 L258.4,364.9 L258.6,364.8 L258.7,364.7 L258.8,364.6 L258.8,364.5 L259.0,364.4 L259.1,364.3 L259.2,364.3 L259.3,364.2 L259.4,364.1 L259.5,364.0 L259.6,364.0 L259.8,363.9 L259.9,363.9 L260.1,363.9 L260.2,363.8 L260.3,363.8 L260.4,363.8 L260.6,363.7 L260.7,363.7 L260.8,363.7 L261.0,363.6 L261.1,363.6 L261.2,363.6 L261.4,363.5 L261.5,363.5 L261.7,363.5 L261.8,363.5 L261.9,363.5 L262.1,363.5 L262.2,363.6 L262.3,363.6 L262.5,363.7 L262.6,363.7 L262.7,363.8 L262.8,363.9 L263.0,363.9 L263.1,364.0 L263.2,364.1 L263.3,364.1 L263.4,364.2 L263.6,364.2 L263.7,364.3 L263.8,364.4 L264.0,364.5 L264.1,364.6 L264.2,364.6 L264.3,364.7 L264.4,364.8 L264.5,364.9 L264.6,365.0 L264.7,365.2 L264.8,365.3 L264.9,365.4 L265.0,365.6 L265.0,365.7 L265.1,365.8 L265.1,366.0 L265.2,366.1 L265.2,366.3 L265.3,366.4 L265.4,366.6 L265.4,366.7 L265.4,366.9Z" fill="none" stroke="#000" stroke-width="1.0" stroke-linejoin="round"/><path d="M264.5,367.0 L264.5,367.1 L264.5,367.2 L264.4,367.4 L264.4,367.5 L264.4,367.6 L264.4,367.7 L264.3,367.8 L264.3,367.9 L264.2,368.1 L264.2,368.2 L264.1,368.3 L264.0,368.4 L264.0,368.5 L263.9,368.5 L263.8,368.6 L263.7,368.7 L263.6,368.8 L263.6,368.9 L263.5,369.0 L263.4,369.0 L263.3,369.1 L263.2,369.2 L263.1,369.2 L263.0,369.3 L262.9,369.4 L262.8,369.4 L262.7,369.4 L262.6,369.5 L262.5,369.5 L262.4,369.5 L262.3,369.6 L262.2,369.6 L262.1,369.6 L262.0,369.6 L261.9,369.6 L261.8,369.7 L261.7,369.7 L261.6,369.7 L261.5,369.7 L261.4,369.7 L261.3,369.7 L261.1,369.7 L261.0,369.6 L260.9,369.6 L260.8,369.6 L260.7,369.6 L260.6,369.6 L260.5,369.5 L260.4,369.5 L260.3,369.5 L260.2,369.4 L260.1,369.4 L260.0,369.4 L259.9,369.3 L259.8,369.3 L259.7,369.2 L259.6,369.2 L259.6,369.1 L259.5,369.0 L259.4,369.0 L259.3,368.9 L259.2,368.8 L259.1,368.8 L259.0,368.7 L259.0,368.6 L258.9,368.5 L258.8,368.4 L258.7,368.3 L258.7,368.2 L258.6,368.1 L258.5,368.0 L258.5,367.9 L258.4,367.8 L258.4,367.7 L258.4,367.6 L258.3,367.5 L258.3,367.4 L258.3,367.2 L258.2,367.1 L258.2,367.0 L258.2,366.9 L258.2,366.7 L258.2,366.6 L258.3,366.5 L258.3,366.4 L258.3,366.3 L258.4,366.2 L258.4,366.0 L258.5,365.9 L258.5,365.8 L258.6,365.7 L258.7,365.6 L258.7,365.5 L258.8,365.4 L258.9,365.3 L259.0,365.3 L259.1,365.2 L259.2,365.1 L259.3,365.1 L259.3,365.0 L259.4,364.9 L259.5,364.9 L259.6,364.8 L259.7,364.8 L259.8,364.7 L259.9,364.7 L260.0,364.6 L260.1,364.6 L260.2,364.5 L260.3,364.5 L260.4,364.5 L260.5,364.5 L260.6,364.5 L260.7,364.4 L260.8,364.4 L260.9,364.4 L261.0,364.4 L261.2,364.4 L261.3,364.4 L261.4,364.4 L261.5,364.4 L261.6,364.4 L261.7,364.4 L261.8,364.4 L261.9,364.4 L262.0,364.4 L262.1,364.4 L262.2,364.5 L262.3,364.5 L262.4,364.5 L262.5,364.5 L262.6,364.6 L262.7,364.6 L262.8,364.6 L262.9,364.7 L263.0,364.7 L263.1,364.8 L263.2,364.8 L263.3,364.9 L263.4,364.9 L263.5,365.0 L263.6,365.1 L263.7,365.2 L263.8,365.3 L263.8,365.3 L263.9,365.4 L264.0,365.5 L264.1,365.6 L264.1,365.7 L264.2,365.8 L264.3,365.9 L264.3,366.0 L264.3,366.2 L264.4,366.3 L264.4,366.4 L264.4,366.5 L264.5,366.6 L264.5,366.7 L264.5,366.9Z M263.6,366.9 L263.6,367.0 L263.6,367.1 L263.6,367.2 L263.6,367.3 L263.6,367.4 L263.6,367.5 L263.5,367.6 L263.5,367.6 L263.5,367.7 L263.5,367.8 L263.4,367.9 L263.4,368.0 L263.3,368.0 L263.3,368.1 L263.2,368.2 L263.1,368.2 L263.0,368.3 L263.0,368.3 L262.9,368.4 L262.8,368.4 L262.7,368.4 L262.6,368.5 L262.6,368.5 L262.5,368.5 L262.4,368.5 L262.3,368.5 L262.3,368.6 L262.2,368.6 L262.1,368.6 L262.0,368.6 L262.0,368.7 L261.9,368.7 L261.8,368.7 L261.8,368.7 L261.7,368.7 L261.6,368.8 L261.6,368.8 L261.5,368.8 L261.4,368.8 L261.3,368.8 L261.3,368.8 L261.2,368.8 L261.1,368.8 L261.0,368.8 L261.0,368.8 L260.9,368.7 L260.8,368.7 L260.8,368.7 L260.7,368.6 L260.6,368.6 L260.6,368.6 L260.5,368.6 L260.4,368.5 L260.4,368.5 L260.3,368.5 L260.2,368.5 L260.2,368.4 L260.1,368.4 L260.0,368.4 L259.9,368.4 L259.8,368.3 L259.8,368.3 L259.7,368.2 L259.6,368.2 L259.5,368.1 L259.5,368.1 L259.4,368.0 L259.3,368.0 L259.3,367.9 L259.2,367.8 L259.2,367.7 L259.2,367.6 L259.1,367.6 L259.1,367.5 L259.1,367.4 L259.1,367.3 L259.1,367.2 L259.1,367.1 L259.1,367.0 L259.1,366.9 L259.1,366.9 L259.1,366.8 L259.1,366.7 L259.1,366.6 L259.1,366.5 L259.1,366.4 L259.1,366.3 L259.2,366.2 L259.2,366.1 L259.2,366.1 L259.3,366.0 L259.3,365.9 L259.4,365.8 L259.4,365.8 L259.5,365.7 L259.6,365.6 L259.6,365.6 L259.7,365.6 L259.8,365.5 L259.9,365.5 L260.0,365.5 L260.1,365.4 L260.1,365.4 L260.2,365.4 L260.3,365.4 L260.4,365.4 L260.4,365.3 L260.5,365.3 L260.6,365.3 L260.7,365.3 L260.7,365.3 L260.8,365.2 L260.9,365.2 L260.9,365.2 L261.0,365.2 L261.1,365.1 L261.1,365.1 L261.2,365.1 L261.3,365.1 L261.3,365.1 L261.4,365.1 L261.5,365.1 L261.6,365.1 L261.6,365.1 L261.7,365.1 L261.8,365.2 L261.8,365.2 L261.9,365.2 L262.0,365.2 L262.0,365.3 L262.1,365.3 L262.2,365.3 L262.2,365.3 L262.3,365.4 L262.4,365.4 L262.5,365.4 L262.5,365.4 L262.6,365.4 L262.7,365.5 L262.8,365.5 L262.9,365.5 L263.0,365.6 L263.0,365.6 L263.1,365.7 L263.2,365.7 L263.3,365.8 L263.3,365.8 L263.4,365.9 L263.5,366.0 L263.5,366.0 L263.5,366.1 L263.6,366.2 L263.6,366.3 L263.6,366.4 L263.6,366.5 L263.6,366.6 L263.6,366.7 L263.6,366.8 L263.6,366.9Z M262.7,366.9 L262.7,366.9 L262.7,367.0 L262.7,367.0 L262.7,367.1 L262.7,367.2 L262.7,367.2 L262.7,367.3 L262.6,367.3 L262.6,367.4 L262.6,367.4 L262.5,367.4 L262.5,367.5 L262.5,367.5 L262.4,367.6 L262.4,367.6 L262.4,367.6 L262.3,367.7 L262.3,367.7 L262.3,367.7 L262.2,367.8 L262.2,367.8 L262.1,367.8 L262.1,367.9 L262.1,367.9 L262.0,367.9 L262.0,368.0 L261.9,368.0 L261.9,368.0 L261.8,368.0 L261.8,368.0 L261.7,368.0 L261.7,368.0 L261.6,368.0 L261.6,368.0 L261.5,368.0 L261.5,367.9 L261.4,367.9 L261.4,367.9 L261.4,367.9 L261.3,367.9 L261.3,367.9 L261.2,367.9 L261.2,367.9 L261.2,367.9 L261.1,367.9 L261.1,368.0 L261.0,368.0 L261.0,368.0 L260.9,368.0 L260.9,367.9 L260.8,367.9 L260.8,367.9 L260.7,367.9 L260.7,367.9 L260.7,367.9 L260.6,367.8 L260.6,367.8 L260.6,367.8 L260.5,367.8 L260.5,367.7 L260.4,367.7 L260.4,367.7 L260.4,367.6 L260.3,367.6 L260.3,367.6 L260.2,367.6 L260.2,367.5 L260.1,367.5 L260.1,367.5 L260.0,367.4 L260.0,367.4 L260.0,367.3 L260.0,367.3 L259.9,367.2 L259.9,367.2 L259.9,367.1 L259.9,367.0 L259.9,367.0 L259.9,366.9 L260.0,366.9 L260.0,366.8 L260.0,366.8 L260.0,366.7 L260.0,366.7 L260.1,366.6 L260.1,366.6 L260.1,366.5 L260.1,366.5 L260.1,366.4 L260.2,366.4 L260.2,366.4 L260.2,366.3 L260.2,366.3 L260.3,366.2 L260.3,366.2 L260.3,366.2 L260.4,366.1 L260.4,366.1 L260.4,366.1 L260.5,366.0 L260.5,366.0 L260.6,366.0 L260.6,366.0 L260.7,366.0 L260.7,366.0 L260.7,365.9 L260.8,365.9 L260.8,365.9 L260.9,365.9 L260.9,365.9 L260.9,365.8 L261.0,365.8 L261.0,365.8 L261.1,365.8 L261.1,365.7 L261.1,365.7 L261.2,365.7 L261.2,365.7 L261.3,365.7 L261.3,365.7 L261.4,365.7 L261.4,365.7 L261.5,365.7 L261.5,365.7 L261.6,365.7 L261.6,365.7 L261.6,365.8 L261.7,365.8 L261.7,365.8 L261.8,365.8 L261.8,365.8 L261.9,365.8 L261.9,365.9 L261.9,365.9 L262.0,365.9 L262.0,365.9 L262.1,365.9 L262.1,366.0 L262.2,366.0 L262.2,366.0 L262.2,366.0 L262.3,366.1 L262.3,366.1 L262.3,366.1 L262.4,366.2 L262.4,366.2 L262.4,366.3 L262.4,366.3 L262.4,366.4 L262.5,366.4 L262.5,366.5 L262.5,366.5 L262.5,366.6 L262.5,366.6 L262.5,366.6 L262.6,366.7 L262.6,366.7 L262.6,366.8 L262.6,366.8Z" fill="none" stroke="#777" stroke-width="0.7" stroke-linejoin="round"/><path d="M261.4,368.9 L261.2,368.9 L261.0,368.8 L261.0,368.4 L261.2,368.2 L261.4,368.0 L261.5,367.7 L261.7,367.6 L261.9,367.8 L261.9,368.1 L261.9,368.4 L262.0,368.7 L261.8,369.0 L261.6,369.0Z M254.2,363.9 L254.0,363.6 L253.7,363.2 L253.8,362.6 L254.4,362.4 L254.9,362.5 L255.3,362.4 L255.9,362.4 L256.1,362.8 L255.8,363.3 L255.5,363.7 L255.3,364.1 L254.8,364.6 L254.3,364.4Z M255.9,363.9 L255.6,364.0 L255.4,363.7 L255.5,363.4 L255.7,363.1 L255.7,362.8 L255.9,362.4 L256.2,362.5 L256.3,362.8 L256.4,363.0 L256.6,363.2 L256.6,363.6 L256.4,363.8 L256.1,363.8Z M268.0,362.4 L267.5,362.2 L267.2,362.1 L266.7,362.2 L266.2,361.8 L266.2,361.3 L266.4,361.1 L266.4,360.8 L266.5,360.4 L267.0,360.4 L267.4,360.8 L267.6,361.2 L267.9,361.6 L268.2,362.1Z M267.8,373.4 L267.3,373.5 L266.9,373.4 L266.6,373.6 L266.0,373.5 L265.8,373.0 L266.0,372.6 L266.0,372.3 L266.0,371.9 L266.5,371.7 L267.0,372.0 L267.2,372.4 L267.6,372.6 L268.0,373.0Z M264.2,365.5 L264.0,365.7 L263.9,366.0 L263.7,366.3 L263.3,366.2 L263.1,365.9 L263.0,365.6 L262.8,365.4 L262.7,365.0 L263.1,364.9 L263.4,364.9 L263.7,364.9 L264.1,364.9 L264.4,365.2Z M269.6,367.4 L269.6,367.2 L269.6,366.9 L269.9,366.5 L270.5,366.5 L270.8,366.7 L271.1,366.7 L271.6,366.8 L271.6,367.2 L271.1,367.4 L270.7,367.6 L270.4,367.8 L269.8,368.0 L269.5,367.8Z M263.8,361.2 L263.5,361.7 L262.9,361.7 L262.5,361.6 L262.1,361.7 L261.5,361.6 L261.4,361.0 L261.8,360.6 L262.0,360.3 L262.2,359.8 L262.7,359.6 L263.1,360.0 L263.2,360.5 L263.5,360.8Z M257.6,371.7 L257.3,371.8 L257.0,371.7 L257.0,371.3 L257.2,371.0 L257.3,370.8 L257.4,370.4 L257.7,370.3 L258.0,370.5 L258.1,370.9 L258.2,371.1 L258.4,371.4 L258.2,371.8 L257.9,371.8Z" fill="none" stroke="#888" stroke-width="0.5" stroke-linejoin="round"/><path d="M224.0,436.8 L252.0,436.8 M224.0,437.7 L251.0,437.7 M224.0,438.6 L250.0,438.6" fill="none" stroke="#000" stroke-width="0.9" stroke-linejoin="round"/><path d="M252.0,437.8 L264.0,437.8 M252.0,438.6 L262.0,438.6" fill="none" stroke="#333" stroke-width="0.7" stroke-linejoin="round"/></g>
<rect x="145.6" y="235.4" width="27" height="15.5" fill="#fff"/>
<text x="146.6" y="247.9" font-size="12.6" font-weight="bold" font-family='"Liberation Sans", sans-serif' text-anchor="start" fill="#000" >0.78</text>
<rect x="275.1" y="235.0" width="27" height="15.5" fill="#fff"/>
<text x="276.1" y="247.5" font-size="12.6" font-weight="bold" font-family='"Liberation Sans", sans-serif' text-anchor="start" fill="#000" >48.3</text>
<text x="154.8" y="371.8" font-size="12.6" font-weight="bold" font-family='"Liberation Sans", sans-serif' text-anchor="start" fill="#000" >0.58</text>
<rect x="275.8" y="359.6" width="27" height="15.5" fill="#fff"/>
<text x="276.8" y="372.1" font-size="12.6" font-weight="bold" font-family='"Liberation Sans", sans-serif' text-anchor="start" fill="#000" >21.9</text>
<line x1="409.3" y1="289.59999999999997" x2="409.3" y2="398.9" stroke="#000" stroke-width="1.5" />
<line x1="406.1" y1="398.2" x2="409.3" y2="398.2" stroke="#000" stroke-width="1.4" />
<text x="404.3" y="402.59999999999997" font-size="12.8" font-weight="bold" font-family='"Liberation Sans", sans-serif' text-anchor="end" fill="#000" >0</text>
<line x1="406.1" y1="362.2" x2="409.3" y2="362.2" stroke="#000" stroke-width="1.4" />
<text x="404.3" y="366.59999999999997" font-size="12.8" font-weight="bold" font-family='"Liberation Sans", sans-serif' text-anchor="end" fill="#000" >20</text>
<line x1="406.1" y1="326.2" x2="409.3" y2="326.2" stroke="#000" stroke-width="1.4" />
<text x="404.3" y="330.59999999999997" font-size="12.8" font-weight="bold" font-family='"Liberation Sans", sans-serif' text-anchor="end" fill="#000" >40</text>
<line x1="406.1" y1="290.2" x2="409.3" y2="290.2" stroke="#000" stroke-width="1.4" />
<text x="404.3" y="294.59999999999997" font-size="12.8" font-weight="bold" font-family='"Liberation Sans", sans-serif' text-anchor="end" fill="#000" >60</text>
<line x1="408.6" y1="398.2" x2="518.5" y2="398.2" stroke="#000" stroke-width="1.5" />
<line x1="436.4" y1="398.2" x2="436.4" y2="401.5" stroke="#000" stroke-width="1.3" />
<line x1="490.8" y1="398.2" x2="490.8" y2="401.5" stroke="#000" stroke-width="1.3" />
<text x="426.4" y="413.9" font-size="13" font-weight="bold" font-family='"Liberation Sans", sans-serif' text-anchor="start" fill="#000" textLength="19.6" lengthAdjust="spacingAndGlyphs" >WT</text>
<text x="466.4" y="413.9" font-size="13" font-weight="bold" font-family='"Liberation Sans", sans-serif' text-anchor="start" fill="#000" >DAPK-/-</text>
<text transform="translate(378.8,371.5) rotate(-90)" font-size="13.1" word-spacing="-1.3" font-weight="bold" font-family='"Liberation Sans", sans-serif'>% of PMN</text>
<path d="M438.9,273.3 V266.7 H492 V273.3" fill="none" stroke="#000" stroke-width="1.5" />
<text x="457.3" y="265.8" font-size="13" font-weight="bold" font-family='"Liberation Sans", sans-serif' text-anchor="start" fill="#444" letter-spacing="2.0">**</text>
<text x="433.4" y="249.3" font-size="13" font-weight="bold" font-family='"Liberation Sans", sans-serif' text-anchor="start" fill="#000" ><tspan font-style="italic">p</tspan> &lt; 0.01 (n=5)</text>
<rect x="434.30" y="303.70" width="4.6" height="4.6" fill="#000"/>
<path d="M436.60,313.00 L439.20,308.00 L434.00,308.00 Z" fill="#000"/>
<path d="M436.60,313.90 L439.20,318.90 L434.00,318.90 Z" fill="#000"/>
<circle cx="436.60" cy="319.50" r="2.4" fill="#000"/>
<path d="M436.60,317.40 L439.50,320.30 L436.60,323.20 L433.70,320.30 Z" fill="#000"/>
<rect x="488.70" y="333.80" width="4.6" height="4.6" fill="#000"/>
<path d="M491.00,338.30 L493.60,343.30 L488.40,343.30 Z" fill="#000"/>
<circle cx="491.00" cy="348.40" r="2.4" fill="#000"/>
<path d="M491.00,361.20 L493.60,356.20 L488.40,356.20 Z" fill="#000"/>
<path d="M491.00,369.90 L493.90,372.80 L491.00,375.70 L488.10,372.80 Z" fill="#000"/>
</svg>
</body></html>
